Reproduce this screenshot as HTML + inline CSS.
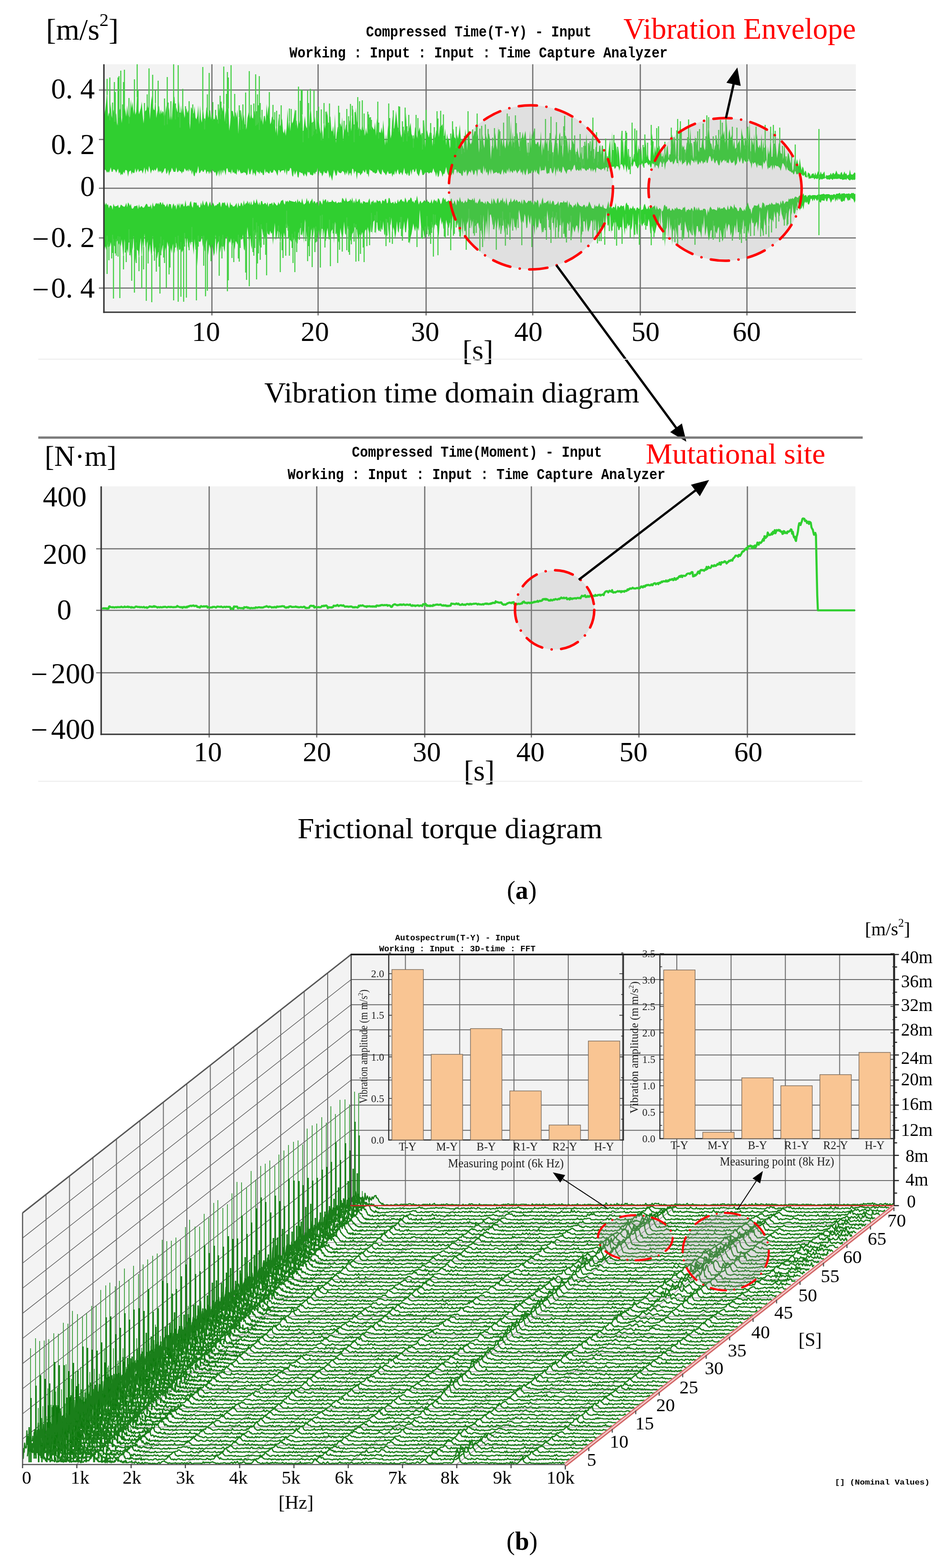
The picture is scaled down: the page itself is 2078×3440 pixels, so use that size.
<!DOCTYPE html>
<html><head><meta charset="utf-8"><title>Vibration and torque diagrams</title>
<style>html,body{margin:0;padding:0;background:#fff;}svg{display:block;}</style></head>
<body><svg width="2078" height="3440" viewBox="0 0 2078 3440">
<rect width="2078" height="3440" fill="#fff"/>
<rect x="228" y="141" width="1650" height="544" fill="#f3f3f3"/>
<line x1="217" y1="197.5" x2="1878" y2="197.5" stroke="#6e6e6e" stroke-width="2.6"/>
<line x1="217" y1="306" x2="1878" y2="306" stroke="#6e6e6e" stroke-width="2.6"/>
<line x1="217" y1="413" x2="1878" y2="413" stroke="#6e6e6e" stroke-width="2.6"/>
<line x1="217" y1="522" x2="1878" y2="522" stroke="#6e6e6e" stroke-width="2.6"/>
<line x1="217" y1="632" x2="1878" y2="632" stroke="#6e6e6e" stroke-width="2.6"/>
<line x1="465" y1="141" x2="465" y2="692" stroke="#6e6e6e" stroke-width="2.6"/>
<line x1="698" y1="141" x2="698" y2="692" stroke="#6e6e6e" stroke-width="2.6"/>
<line x1="935" y1="141" x2="935" y2="692" stroke="#6e6e6e" stroke-width="2.6"/>
<line x1="1169" y1="141" x2="1169" y2="692" stroke="#6e6e6e" stroke-width="2.6"/>
<line x1="1405" y1="141" x2="1405" y2="692" stroke="#6e6e6e" stroke-width="2.6"/>
<line x1="1639" y1="141" x2="1639" y2="692" stroke="#6e6e6e" stroke-width="2.6"/>
<path d="M229 251l2-11 2-17 2-26 2 59 2-9 2 6 2-26 2 31 2-10 2-8 2 16 2 0 2-8 2 27 2-11 2-17 2-9 2 6 2 26 2-22 2-20 2 4 2 10 2 14 2-25 2 20 2 10 2-6 2-37 2 20 2-15 2 27 2-23 2 25 2-7 2-43 2 28 2 21 2-7 2-7 2-14 2 28 2 20 2-23 2-5 2-1 2-20 2 16 2-8 2 32 2-32 2-20 2 21 2 9 2 2 2-27 2 44 2-13 2-9 2-5 2 20 2-12 2 10 2-7 2 4 2 17 2-18 2-15 2 31 2-12 2-15 2 29 2-21 2 21 2-36 2-19 2 5 2 37 2-16 2 10 2 1 2-24 2 47 2-38 2 18 2-24 2 20 2 14 2-15 2-7 2 11 2-7 2 17 2 26 2-49 2 3 2 9 2 2 2-16 2 25 2 4 2-8 2-23 2 42 2-42 2 30 2 8 2-38 2 22 2 20 2-15 2-21 2-4 2 26 2-13 2-5 2 22 2-16 2 6 2 9 2-1 2-9 2 1 2 10 2-2 2-25 2 14 2-10 2-5 2 10 2-28 2 51 2-26 2 18 2-35 2 2 2 60 2-16 2-26 2-2 2 1 2 13 2-8 2-3 2 12 2-18 2 54 2-47 2 27 2-33 2 20 2 11 2-21 2 22 2 0 2 11 2-25 2-9 2-8 2 19 2-19 2 16 2 2 2-10 2-8 2 23 2-2 2-1 2-4 2 17 2-32 2 24 2-14 2 21 2-19 2-1 2 14 2-40 2 27 2-23 2 14 2 27 2-5 2-13 2 6 2 1 2 5 2 25 2-25 2 32 2-42 2 19 2 0 2-8 2-8 2 28 2 5 2-11 2 16 2-17 2-42 2 44 2-28 2 33 2-27 2 10 2-4 2-10 2-19 2 26 2 1 2 18 2-25 2 14 2-18 2 15 2-29 2 61 2-27 2-20 2 21 2 7 2-8 2 18 2-24 2-38 2 21 2 37 2-3 2-8 2-22 2 29 2-1 2-26 2 1 2 20 2 12 2 7 2-13 2 25 2-49 2 23 2-18 2-23 2 12 2 38 2-33 2-4 2 31 2 3 2-13 2 24 2-50 2 64 2-22 2-13 2-1 2-6 2-1 2 8 2-22 2 53 2-34 2 11 2-13 2-2 2 19 2-4 2-24 2 8 2 17 2-44 2-5 2 62 2-29 2-36 2 29 2 9 2 7 2 6 2-5 2 5 2-21 2 19 2 1 2 12 2-18 2 14 2-12 2-20 2 11 2-2 2 3 2 5 2 3 2 3 2-17 2 30 2-39 2 21 2 13 2-4 2 3 2-13 2 14 2-30 2 31 2 25 2-25 2 21 2-32 2-18 2 7 2 32 2-9 2-41 2 24 2 5 2-17 2-23 2 19 2 19 2-3 2-4 2 20 2 8 2-18 2 16 2-14 2-3 2-36 2 52 2-12 2 1 2-10 2-9 2 25 2 5 2 14 2-12 2-23 2 8 2 17 2-10 2-7 2-7 2 18 2-6 2 26 2-11 2-45 2 63 2-30 2-9 2 10 2 7 2-11 2-1 2 2 2 29 2-28 2 12 2-4 2-13 2-6 2-4 2 23 2-22 2-4 2 1 2-4 2 26 2 0 2-16 2 37 2-26 2 13 2-3 2 23 2-13 2-14 2-15 2-1 2 18 2 2 2 11 2-20 2 11 2-13 2-19 2 30 2 24 2-10 2 10 2-4 2-40 2 18 2 29 2-36 2-9 2 27 2 5 2-5 2-10 2-5 2-9 2 0 2 1 2-2 2 11 2 37 2-23 2-7 2 11 2-21 2 21 2 9 2-39 2 13 2 8 2-12 2-2 2 12 2 45 2-29 2-3 2 9 2-20 2-16 2 28 2 10 2-51 2 40 2 13 2-24 2-3 2 18 2-24 2 21 2 7 2-18 2-9 2 23 2-16 2 7 2-48 2 58 2-34 2 23 2 2 2-14 2-3 2-6 2 15 2 16 2-1 2-17 2-2 2-13 2 16 2-10 2-8 2 22 2 27 2-5 2 5 2-50 2 40 2-34 2 11 2-18 2 12 2 18 2 2 2-5 2-1 2 12 2-8 2-27 2 54 2-31 2 19 2-18 2-10 2 15 2-13 2 38 2-43 2 28 2-20 2 7 2 46 2-30 2-16 2-21 2 21 2 0 2 28 2-46 2-6 2 29 2 4 2 23 2-40 2-30 2 33 2-9 2 12 2 26 2-38 2 42 2-16 2-8 2-10 2 8 2 1 2 19 2 9 2-22 2 13 2 10 2-1 2-12 2 22 2-8 2 5 2-29 2-4 2-26 2 58 2-13 2-26 2 18 2 2 2-33 2 34 2 13 2 3 2-27 2 1 2 28 2-6 2-25 2-1 2 21 2-21 2 1 2 39 2-24 2-12 2 16 2 26 2-30 2-17 2-13 2 62 2-78 2 61 2-34 2-4 2 4 2 14 2 21 2-29 2 22 2 30 2-87 2 35 2-18 2 45 2-39 2-2 2 1 2 26 2 19 2-16 2 33 2-8 2-29 2 18 2-14 2 0 2-33 2 10 2 22 2-20 2 33 2-8 2-21 2 35 2-16 2 17 2-24 2-25 2 38 2-16 2 18 2 4 2 1 2-45 2-15 2 30 2 20 2-24 2 17 2-19 2 8 2-1 2-5 2 19 2-4 2 22 2-22 2 16 2-21 2 13 2-18 2-6 2 30 2-10 2 1 2-28 2-16 2 14 2 19 2-29 2 48 2-49 2 35 2 34 2-89 2 17 2 43 2-20 2 6 2-5 2 25 2-13 2-19 2 4 2-16 2 18 2-38 2 50 2-16 2 35 2-11 2-42 2 37 2-25 2 10 2 16 2-12 2 2 2 0 2-21 2 2 2 20 2 5 2-20 2 6 2-19 2-26 2 29 2 14 2 2 2 11 2 1 2 1 2-10 2 0 2-19 2 18 2-3 2 16 2-47 2 18 2-21 2 16 2-11 2 28 2-16 2-32 2 64 2-39 2-8 2 21 2-5 2-8 2 32 2-18 2 22 2-3 2-1 2-8 2-4 2-5 2 31 2-56 2 14 2 7 2 18 2-4 2-10 2 2 2 35 2-40 2-36 2 80 2-47 2 10 2 9 2-25 2 43 2-22 2-22 2 28 2 4 2-8 2 9 2-33 2 41 2-29 2 36 2-32 2 13 2 42 2-43 2 18 2-9 2-32 2 46 2 0 2-41 2 23 2-22 2 21 2 22 2-13 2-21 2 7 2 16 2 1 2 3 2 9 2-37 2 30 2 18 2-9 2-16 2 3 2 12 2 9 2-8 2 24 2-4 2-23 2 17 2-8 2-8 2 9 2 8 2-19 2 16 2 11 2-9 2 4 2 11 2-6 2 3 2 12 2-11 2 2 2 1 2 6 2-5 2-1 2-1 2 5 2-7 2 7 2-4 2-6 2 8 2 0 2-7 2 6 2 0 2-3 2-3 2 14 2-6 2 1 2 0 2-1 2 0 2-5 2 5 2-4 2-1 2 4 2-3 2-6 2 5 2 4 2-2 2 3 2-5 2-2 2 7 2-3 2-5 2 6 2-2 2 5 2-1 2-1 2-11 2 10 2 1 2 0 2-2 2-3 2 2 0 13-2 2-2-1-2 1-2-1-2 0-2 2-2-1-2-2-2-2-2 4-2-2-2 1-2 0-2 1-2-2-2 0-2 0-2-2-2 2-2-1-2 1-2-1-2 1-2-1-2 3-2-2-2-1-2 2-2 0-2-1-2 1-2-2-2-2-2 2-2 0-2 1-2 1-2-2-2 3-2-2-2-2-2 2-2-1-2-1-2 3-2-4-2 1-2-1-2 2-2-1-2 2-2-7-2 4-2-2-2 1-2-6-2 3-2-1-2-3-2 3-2 2-2-6-2 0-2 2-2-2-2-9-2 9-2 2-2-5-2 1-2-3-2 0-2-2-2-1-2-7-2 9-2-8-2-4-2-4-2-1-2 9-2 8-2-7-2-1-2-3-2 1-2-1-2-2-2 9-2-10-2 13-2-12-2 3-2 4-2-2-2 5-2-10-2-11-2 4-2 5-2-6-2 19-2-11-2 2-2-2-2 2-2-6-2 11-2-8-2-5-2 1-2 3-2-5-2 15-2-15-2 0-2-6-2-2-2 13-2-6-2 1-2-5-2 9-2-1-2-13-2 7-2 5-2-6-2-9-2 16-2 3-2 3-2-13-2 5-2 1-2 1-2-4-2-6-2 11-2-3-2 2-2-7-2 4-2-5-2 2-2 2-2 4-2-8-2 12-2 1-2-5-2-7-2 2-2 6-2-4-2-9-2 7-2 1-2-10-2-2-2 6-2 9-2 1-2-8-2 7-2-2-2 5-2-6-2-2-2 7-2-5-2 6-2 1-2-11-2 7-2-7-2 8-2-5-2 0-2-3-2 14-2-4-2-5-2 6-2 4-2-14-2 1-2 6-2 0-2 4-2-13-2 8-2-7-2 6-2 2-2 0-2-11-2 6-2 5-2 3-2-8-2 3-2 0-2-4-2-3-2 5-2 1-2 4-2 14-2-19-2 5-2 3-2-5-2-3-2 7-2 10-2-7-2-1-2-1-2 7-2-11-2 3-2-4-2 12-2-3-2-7-2 4-2-4-2-3-2 2-2 0-2 4-2 4-2-9-2 5-2-2-2 1-2 6-2 3-2-5-2-1-2-9-2-1-2 9-2 3-2-9-2 11-2 4-2 1-2-10-2 16-2-13-2-6-2 14-2-9-2-4-2-1-2 4-2 11-2-9-2-1-2-1-2 4-2 3-2-6-2 1-2 0-2-1-2 12-2-12-2 5-2-1-2-2-2 0-2 8-2-7-2 3-2-1-2 4-2-3-2 0-2-1-2-2-2 0-2 12-2-9-2 1-2 5-2-8-2 8-2-7-2-2-2 5-2-2-2 4-2-1-2-3-2-2-2 2-2-4-2 9-2-5-2 4-2-1-2-3-2 4-2-3-2-11-2 3-2 7-2 1-2 5-2-5-2 0-2 0-2 2-2 8-2-5-2-3-2-6-2-3-2 12-2 3-2-6-2 4-2-11-2 11-2-8-2 18-2-23-2 10-2 6-2-3-2-9-2 0-2 12-2-2-2 3-2-3-2-16-2 11-2-1-2 1-2-1-2 3-2-12-2 20-2-3-2-1-2-8-2 7-2-7-2 7-2 0-2-6-2 8-2-2-2 2-2 2-2-14-2 7-2 9-2-4-2-9-2 13-2-9-2 4-2-10-2 5-2 1-2 5-2-5-2-4-2 5-2-4-2 7-2-3-2-3-2 6-2-12-2 11-2-8-2 10-2-1-2-4-2 8-2-13-2 5-2 7-2-1-2-4-2 3-2-2-2-2-2 2-2 0-2 3-2-7-2-4-2 12-2-12-2 8-2 7-2-10-2 4-2-12-2 10-2-15-2 20-2-4-2 0-2-9-2 4-2-4-2 18-2-13-2-2-2 9-2 2-2-8-2-4-2 8-2-5-2 2-2 5-2 5-2-15-2 5-2 2-2-6-2 13-2-1-2-5-2 0-2-1-2-4-2 6-2-9-2 0-2 0-2 12-2-6-2 7-2-6-2 0-2 6-2-2-2-6-2-11-2 9-2 7-2-1-2 7-2-9-2-4-2-1-2 12-2 3-2-12-2 11-2-9-2-3-2-7-2 7-2 4-2-2-2 1-2 2-2-3-2 0-2 2-2-2-2 4-2 2-2 0-2-10-2-3-2 8-2 8-2-4-2-3-2-11-2 7-2 2-2-7-2 2-2 11-2-12-2 13-2 1-2-8-2 7-2-5-2 1-2-13-2 9-2 8-2-6-2-1-2 5-2-2-2-10-2 5-2 7-2-9-2 10-2-3-2 7-2-9-2 2-2 0-2 0-2-6-2 5-2 5-2-4-2-2-2-2-2-6-2 12-2-1-2-2-2-4-2-5-2 8-2 1-2 1-2-3-2 1-2-3-2-2-2 0-2-3-2 18-2-8-2 1-2-11-2 8-2-2-2-4-2 7-2 1-2 4-2-6-2 1-2-2-2 16-2-17-2-2-2 7-2-11-2-1-2 17-2-8-2 1-2 6-2-13-2 10-2-6-2 8-2-7-2-2-2-1-2 4-2 1-2-1-2-1-2-5-2 11-2 2-2-7-2-7-2 10-2 15-2-7-2-7-2 8-2-12-2-6-2 8-2-2-2 1-2-5-2 7-2 5-2-8-2 1-2-6-2 13-2-19-2 9-2 0-2 6-2-5-2 6-2 1-2-2-2 1-2-7-2 2-2-3-2 12-2-4-2-4-2 7-2-4-2-4-2 1-2-2-2-1-2 13-2-2-2-14-2 5-2 5-2-10-2 14-2-3-2-15-2-2-2 6-2 2-2-2-2 11-2-15-2 11-2-8-2 1-2 0-2 1-2 4-2-6-2 0-2 13-2-5-2-5-2-2-2-2-2 6-2 1-2 0-2-5-2 7-2-1-2-2-2-2-2 4-2-10-2 14-2 0-2-6-2 2-2-5-2 7-2-5-2 1-2-5-2 14-2-6-2-3-2 7-2-15-2 5-2 8-2-2-2-13-2 14-2 3-2-6-2 0-2-2-2 3-2-1-2 2-2-4-2-5-2 6-2-8-2 14-2-4-2 1-2-4-2 3-2-9-2 11-2-5-2 1-2-1-2-8-2 1-2 15-2-9-2-4-2 9-2-9-2 14-2-14-2 16-2-14-2 8-2 5-2-10-2 2-2-3-2-1-2-4-2 10-2-6-2 7-2-6-2 0-2 6-2-9-2-1-2 5-2 0-2-4-2 2-2 4-2 1-2-16-2 11-2 6-2-4-2 10-2-2-2-11-2 9-2-11-2 4-2-6-2 7-2-5-2 4-2-4-2-3-2 9-2-2-2 5-2-5-2 0-2-3-2 4-2 1-2-11-2 10-2 0-2 0-2-5-2-4-2 8-2 2-2 8-2-14-2 7-2 3-2-13-2 1-2 6-2 2-2 3-2-7-2 4-2-4-2 5-2-12-2 4-2 4-2-4-2 5-2-4-2 2-2 7-2-10-2-7-2 14-2-4-2-4-2 13-2-16-2 7-2 7-2-7-2 0-2 1-2 3-2-8-2 5-2 4-2-10-2 10-2 1-2-3-2 6-2-9-2 1-2 2-2 11-2-13-2-2-2 0-2 8-2-5-2 8-2-3-2 4-2-8-2 4-2-11-2 4-2 5-2-5-2-2-2-1-2 6-2 0-2-10-2 7-2 5-2-3-2 3-2-4-2-3-2 2Z" fill="#30cf30"/>
<path d="M229 549l2-9 2 9 2-21 2 14 2-1 2 0 2-10 2 17 2-22 2 9 2 5 2 1 2-6 2-7 2 1 2 8 2-7 2 11 2-16 2 18 2 29 2-48 2 17 2 18 2-13 2 10 2-43 2 23 2 30 2-30 2 13 2-32 2 42 2 17 2-33 2 6 2 1 2 24 2-36 2-17 2 50 2-43 2 25 2-41 2 27 2 9 2-19 2 9 2 16 2-19 2 18 2 18 2-54 2 34 2 3 2-13 2 27 2-3 2-12 2 0 2-8 2-15 2 23 2-14 2-2 2 24 2-19 2 17 2-29 2 9 2 6 2 19 2-21 2 13 2-21 2 11 2 10 2-25 2 3 2 19 2-25 2 20 2 0 2-6 2 12 2-4 2-4 2-24 2 0 2 25 2-27 2 24 2-6 2-8 2 9 2-30 2 30 2 20 2-35 2 24 2-1 2 37 2-56 2 2 2 1 2-3 2-10 2 24 2-14 2 24 2-6 2-20 2 10 2 24 2-24 2 7 2 9 2-17 2 11 2 16 2-7 2-41 2 46 2-24 2-6 2-1 2 26 2-13 2-7 2-10 2 21 2 7 2-31 2-2 2 10 2 13 2-14 2 4 2-11 2 29 2-19 2 3 2 13 2-19 2 2 2 6 2-11 2 25 2-20 2-7 2 2 2-12 2 32 2 4 2-25 2-3 2-24 2 21 2 21 2-24 2 23 2 8 2-58 2 32 2-6 2 2 2-18 2 21 2-13 2 31 2 5 2-40 2-1 2 13 2 4 2 1 2 11 2-31 2 12 2 2 2 2 2-10 2 7 2-3 2 27 2-24 2-24 2 38 2-6 2-14 2-1 2 4 2 32 2-31 2 24 2-5 2-20 2 12 2-16 2-33 2 33 2 1 2 22 2-3 2 5 2-7 2 7 2-6 2-6 2 11 2 5 2-1 2-25 2 5 2-14 2 0 2 19 2-14 2 29 2-53 2 16 2 19 2 14 2-22 2 31 2-15 2-22 2 9 2 8 2-21 2 28 2-19 2 11 2 5 2-19 2 21 2-41 2 35 2-37 2 44 2-24 2 25 2 2 2-21 2-8 2 28 2-35 2 28 2-14 2-3 2-3 2 33 2-48 2 15 2 14 2 8 2 9 2-5 2-27 2 13 2 11 2-9 2-29 2 26 2 4 2-28 2 13 2 5 2 10 2 13 2-6 2-10 2-3 2-9 2-3 2 5 2 0 2 17 2 16 2-23 2 6 2-4 2-6 2 14 2-2 2-15 2-3 2 11 2-16 2 10 2 11 2-15 2-26 2 36 2-27 2-3 2-1 2 32 2-40 2 27 2 5 2-1 2-12 2 8 2 3 2-20 2 28 2 4 2-26 2 1 2-5 2 30 2-30 2 8 2-18 2 42 2-21 2 7 2 19 2-13 2-26 2 22 2 4 2-23 2-2 2 0 2 25 2-10 2-16 2 24 2 1 2-22 2-11 2 39 2 20 2-16 2-7 2-12 2-11 2 11 2 7 2-12 2 16 2-13 2 8 2-47 2 26 2 24 2 2 2-8 2 17 2-13 2 0 2-23 2 18 2 5 2 8 2-2 2-16 2 2 2-19 2 24 2-23 2 11 2 3 2 29 2-11 2-28 2-10 2 17 2-8 2 17 2-1 2 4 2-23 2 9 2 8 2 1 2-12 2 3 2 16 2-36 2 21 2 3 2-21 2 6 2 16 2-9 2 23 2-6 2 23 2-50 2 44 2-36 2 21 2 2 2-11 2-7 2-5 2-16 2 20 2-8 2 21 2-18 2 7 2 9 2-5 2-1 2-3 2-3 2 12 2 4 2-22 2 35 2-15 2-31 2 60 2-28 2-20 2 33 2-60 2 73 2-57 2-2 2 9 2 16 2-8 2 18 2-24 2 27 2-12 2-18 2 29 2-10 2-8 2 21 2-35 2 12 2 26 2-21 2 10 2-2 2-10 2 11 2-24 2 24 2-24 2 14 2-13 2 20 2 0 2 9 2-25 2-5 2-17 2 12 2 14 2 7 2-9 2 6 2-21 2 7 2 25 2-2 2-29 2 15 2 8 2-21 2 23 2-2 2 3 2 21 2-40 2 29 2-9 2 3 2-21 2 12 2-2 2 25 2-23 2 20 2-25 2-1 2 5 2-29 2 22 2-1 2 6 2 5 2-16 2-2 2 34 2-33 2 8 2-7 2 7 2 25 2-1 2-43 2 23 2 23 2-25 2 11 2 21 2 6 2-10 2-26 2 4 2 3 2-7 2-4 2 38 2-26 2 8 2 6 2-10 2-6 2 2 2 17 2-14 2-35 2 44 2 9 2-28 2-4 2 1 2 23 2-30 2 25 2 5 2-7 2-7 2-12 2 2 2 9 2-13 2 12 2-12 2 33 2 2 2-33 2 31 2-16 2-2 2 5 2 0 2-26 2 55 2-48 2-20 2 32 2 1 2-10 2-16 2 43 2-18 2 4 2-11 2 6 2-7 2 15 2-6 2 10 2 0 2-7 2 0 2 14 2-38 2 24 2 18 2-35 2 26 2-18 2 8 2-4 2 1 2 11 2-9 2-28 2 60 2-32 2-5 2 21 2 4 2-49 2 35 2-34 2 22 2 7 2-6 2-2 2-8 2 11 2 4 2 0 2-16 2 7 2 26 2-5 2-13 2 13 2-3 2 8 2-10 2-9 2-8 2 14 2-29 2 31 2-46 2 31 2 7 2 14 2 33 2-37 2-5 2-25 2 47 2-46 2 31 2-14 2 46 2-37 2 7 2-15 2 9 2 17 2-29 2 4 2 1 2-6 2-1 2 16 2 19 2 1 2-39 2 10 2 8 2 8 2-6 2 0 2 5 2 5 2-40 2 27 2 12 2 10 2-8 2-20 2 0 2 14 2-4 2 5 2 12 2-34 2 13 2-30 2 46 2-8 2-15 2 16 2 17 2-6 2-15 2-3 2 6 2-15 2 0 2 10 2 4 2 4 2-11 2-5 2 12 2-5 2 11 2 15 2-5 2-25 2 4 2-16 2 21 2-11 2-7 2 4 2 22 2-6 2-5 2 16 2-21 2-8 2 21 2-35 2 31 2-1 2 0 2 6 2-16 2 5 2-23 2 14 2 1 2 10 2 17 2-19 2 10 2-26 2 14 2-25 2 13 2-2 2 9 2 0 2-7 2-4 2 23 2-18 2-30 2 38 2 2 2 6 2 10 2-38 2 16 2-4 2-22 2-10 2 47 2-28 2 4 2 2 2-2 2 6 2-25 2 13 2 2 2-14 2 4 2 5 2 1 2-21 2 16 2 6 2 9 2-8 2 7 2-15 2-3 2 26 2-26 2-8 2 4 2 11 2-25 2 19 2 4 2-3 2-12 2-10 2-2 2 8 2 11 2-6 2 1 2-7 2 10 2-14 2-4 2 4 2-4 2 6 2 1 2-5 2-8 2 0 2 6 2-6 2 5 2-6 2 3 2 3 2-4 2 5 2 1 2 2 2-6 2 1 2 0 2 1 2-7 2 7 2 1 2-7 2-1 2 4 2 7 2-4 2-4 2 2 2-6 2 10 2-7 2 5 2-7 2 5 2-4 2 6 2 2 2-1 2-2 2 2 2-8 2-1 2 4 2 4 2-3 2 2 2-7 2 3 2 0 2 3 2 6 2-5 0-15-2 1-2-3-2 1-2-1-2 2-2 1-2-2-2 1-2 0-2 0-2 1-2-2-2 0-2 1-2-1-2 3-2-4-2 1-2 1-2 0-2 0-2 3-2-2-2 0-2 2-2-1-2 1-2-1-2-1-2 0-2 0-2 0-2 1-2-1-2-1-2 1-2 0-2 1-2 0-2-2-2 2-2 1-2 1-2-1-2 0-2 0-2 0-2 1-2 0-2-2-2 2-2-1-2 5-2-5-2 0-2 2-2-6-2 4-2 3-2-1-2-1-2 1-2 4-2-1-2-1-2-1-2 3-2 3-2-3-2 3-2-2-2 3-2-3-2 8-2-1-2 0-2 2-2 4-2-7-2-1-2 8-2-8-2 11-2-4-2-2-2 2-2-4-2 6-2-1-2 1-2-2-2-3-2 6-2-4-2 4-2-1-2 2-2-2-2 6-2-8-2-2-2-1-2 14-2-4-2 3-2-11-2 4-2 2-2-1-2 0-2-1-2 5-2 2-2 13-2-11-2-1-2-6-2-8-2 7-2 2-2 10-2-5-2 5-2-1-2-4-2-3-2 0-2 8-2 0-2-5-2-3-2 0-2-8-2 12-2-4-2-2-2-2-2 8-2 0-2-9-2 11-2-1-2-3-2-3-2 2-2 2-2-1-2 2-2-5-2 4-2-5-2 9-2-1-2-1-2-1-2 0-2 1-2-3-2-4-2 4-2 10-2-9-2 16-2-13-2-3-2 0-2 0-2 4-2-2-2 2-2-2-2-6-2 8-2-7-2 7-2-7-2-2-2 11-2-6-2-2-2 5-2 0-2-3-2 3-2-1-2 6-2-13-2 3-2-1-2 5-2 1-2-2-2-1-2 1-2-1-2-4-2 5-2-3-2 6-2-3-2-2-2 5-2 0-2-6-2 2-2 2-2-8-2 2-2-5-2 2-2 10-2 3-2-3-2-3-2-2-2 4-2-2-2-7-2 10-2-11-2 3-2 0-2 3-2-6-2 0-2 10-2-9-2 7-2 1-2-5-2-7-2 3-2 9-2 1-2 1-2-14-2 11-2 0-2-3-2 1-2 7-2-7-2 2-2-7-2 6-2 1-2-3-2 6-2-11-2 0-2-6-2 4-2 15-2-12-2 1-2 1-2-3-2 3-2 3-2-4-2 0-2 10-2-17-2 11-2-2-2 0-2 4-2-6-2-3-2 8-2-16-2 9-2 8-2 0-2-1-2-1-2-8-2 7-2-2-2 1-2-9-2 6-2 3-2-3-2 3-2-6-2 10-2-1-2 0-2-5-2-5-2-5-2 7-2 5-2-3-2 5-2-6-2-1-2 3-2 2-2-2-2 0-2-2-2-3-2-5-2 13-2-9-2 5-2-1-2 6-2-4-2-3-2 0-2-7-2 14-2-17-2 6-2-2-2 2-2-5-2 5-2-1-2 0-2 0-2 8-2-11-2 5-2 2-2 1-2 1-2-8-2-2-2 4-2 5-2-11-2 11-2-10-2 3-2 1-2 3-2-2-2 3-2-14-2 6-2 11-2-6-2 12-2-15-2-3-2 7-2-2-2-3-2 10-2-8-2 3-2-6-2 3-2-2-2 1-2 3-2 2-2-3-2-4-2-1-2 11-2-12-2 10-2-5-2 0-2 2-2-4-2-2-2 5-2-7-2 4-2 2-2 2-2-10-2 9-2 0-2 9-2-7-2-12-2 15-2-8-2 5-2-12-2 8-2-3-2 5-2 3-2-12-2 3-2 10-2-3-2-5-2-4-2 13-2-14-2 14-2-2-2-1-2-3-2-1-2 8-2-8-2 6-2-2-2-2-2-1-2 2-2-9-2 4-2 4-2 4-2-4-2 3-2-13-2 8-2-6-2 4-2 0-2-1-2 0-2-4-2 9-2 1-2-5-2 5-2 2-2-5-2 3-2-4-2-8-2 11-2-3-2-3-2 14-2-7-2-5-2 8-2-1-2-11-2 2-2 10-2-8-2 2-2 1-2 1-2-8-2 4-2-6-2 3-2 9-2 3-2-8-2-4-2-1-2 10-2-6-2 3-2-5-2 4-2 6-2-10-2 7-2 2-2-4-2 1-2-6-2 7-2-3-2-2-2 3-2 2-2 2-2-6-2 3-2 6-2-9-2-11-2 11-2-1-2 7-2-5-2 2-2-8-2-2-2 6-2-1-2 3-2 4-2-7-2-5-2 11-2-3-2 1-2-5-2 1-2 3-2 3-2-7-2 9-2 0-2-5-2 7-2-5-2 1-2 2-2-2-2-9-2-1-2 11-2 1-2-10-2 1-2 5-2-2-2-1-2 9-2-6-2-2-2 2-2-1-2-3-2 8-2-4-2 4-2-7-2 4-2-1-2 8-2-15-2 4-2 6-2-2-2 2-2-2-2-1-2-1-2 7-2-5-2 4-2-11-2 2-2 4-2 1-2-9-2 12-2-7-2 7-2-13-2 9-2-6-2 5-2 0-2 2-2-2-2-8-2 9-2-2-2-4-2-2-2 11-2-2-2 2-2-2-2 2-2 1-2-5-2 3-2-1-2-1-2-4-2 5-2 0-2 0-2 1-2-5-2 6-2-8-2 1-2 4-2-6-2 13-2-4-2-4-2-1-2 13-2-9-2-1-2 4-2-5-2-1-2 5-2-11-2 5-2 2-2 6-2-9-2 4-2-9-2 11-2 2-2 2-2-4-2-10-2 10-2-1-2-4-2 4-2-8-2 10-2-6-2 3-2 0-2-1-2 0-2-1-2 0-2-2-2 5-2-4-2 3-2-3-2 9-2-3-2-8-2 2-2 0-2 5-2 4-2-6-2 7-2 1-2-3-2-2-2-3-2 8-2-7-2 3-2 0-2 0-2 7-2-11-2 7-2-4-2-1-2 3-2 0-2-7-2 0-2 10-2-8-2 7-2-6-2-8-2 10-2-1-2-7-2 10-2 2-2-9-2 9-2-8-2 6-2-8-2 6-2 0-2 4-2-11-2 14-2-6-2-3-2 8-2 0-2-8-2 13-2-12-2 4-2 3-2 1-2 0-2-4-2 1-2-7-2 14-2-5-2-9-2 9-2-2-2-7-2 3-2-2-2 2-2 9-2-10-2-2-2 5-2-1-2 4-2-1-2 3-2-5-2-4-2 8-2-2-2-8-2 5-2 7-2-8-2-5-2 4-2 6-2-3-2-9-2 13-2-8-2 11-2 0-2-6-2 3-2-8-2 1-2-1-2 0-2 12-2-4-2-11-2 3-2 9-2-3-2 2-2 1-2-14-2 13-2 1-2-7-2 4-2-4-2 11-2-12-2 7-2-6-2 14-2-11-2 4-2-7-2 4-2 9-2-11-2 0-2-1-2 8-2-9-2 5-2 3-2-5-2 0-2-6-2 7-2-6-2 0-2 5-2-4-2 3-2-3-2 3-2 5-2-1-2-8-2 15-2-11-2 6-2-1-2 1-2-6-2-1-2 3-2 4-2 2-2-1-2-3-2 1-2 3-2-8-2 11-2-9-2 2-2 0-2 0-2 4-2 2-2-1-2-10-2 5-2-5-2-3-2 11-2-10-2 6-2 3-2-1-2-1-2-2-2-1-2 6-2 1-2-7-2 3-2 0-2 1-2-1-2-5-2 13-2-8-2-1-2 0-2 6-2-9-2 2-2-5-2 5-2-8Z" fill="#30cf30"/>
<path d="M235 208V173M241 264V170M247 259V225M251 267V180M253 267V202M259 275V170M261 258V167M265 255V155M269 259V229M271 239V180M273 243V153M283 271V215M295 238V174M301 213V141M303 241V198M317 259V226M323 233V207M327 241V150M335 242V164M341 226V198M347 248V177M361 275V216M367 273V169M369 261V225M375 254V222M381 220V141M385 262V227M391 257V143M395 280V247M401 236V195M407 255V233M415 269V222M423 258V229M445 242V147M449 284V260M455 243V207M459 257V160M467 264V224M473 263V241M479 271V229M483 261V210M485 251V223M491 228V146M497 271V206M499 236V158M501 238V170M507 256V143M515 260V206M525 257V231M527 285V242M533 283V229M539 284V203M547 253V156M551 252V230M557 261V227M561 276V163M563 274V244M565 273V207M567 269V231M569 285V167M571 254V226M575 264V241M591 257V202M599 272V230M603 278V246M607 278V243M613 286V251M617 278V231M635 266V238M639 272V239M649 275V242M655 269V190M659 265V221M661 280V196M663 251V198M665 312V287M675 285V199M677 303V226M681 241V195M685 299V269M687 296V267M689 288V199M695 293V243M699 268V234M705 308V240M711 271V226M715 276V245M721 303V269M723 270V227M743 289V232M745 283V247M755 286V265M761 283V239M765 298V255M769 282V228M773 254V232M777 312V273M779 283V246M785 285V213M789 298V222M795 277V220M799 297V249M807 293V245M809 273V251M811 284V258M813 282V257M815 285V263M829 291V223M831 304V269M853 276V227M855 283V259M863 289V242M875 289V233M877 285V234M883 294V266M885 311V278M889 294V236M893 310V277M897 299V252M907 324V297M913 297V252M917 304V259M927 328V292M929 317V264M935 304V241M945 301V270M953 316V279M959 293V244M961 289V260M967 286V243M973 308V251M989 323V293M993 295V266M1001 325V278M1013 338V306M1019 334V298M1027 305V244M1037 313V284M1045 300V276M1047 298V249M1053 323V282M1057 327V276M1065 297V273M1071 306V283M1081 329V302M1085 318V281M1095 329V284M1097 342V288M1105 309V269M1113 309V249M1117 317V255M1129 324V299M1131 311V253M1133 308V270M1141 331V290M1159 342V313M1173 307V282M1197 313V261M1203 353V331M1207 338V292M1209 318V256M1213 371V334M1221 325V268M1233 334V299M1237 317V277M1239 287V254M1241 320V298M1251 353V329M1255 329V259M1261 328V297M1265 355V333M1273 356V294M1277 366V323M1281 363V320M1283 334V311M1291 348V314M1295 341V310M1301 344V258M1303 357V327M1309 334V290M1311 362V333M1313 355V333M1329 334V304M1333 376V343M1341 378V356M1345 361V329M1347 327V296M1355 362V322M1365 333V287M1373 319V287M1375 320V291M1379 365V327M1383 382V344M1387 345V269M1393 349V282M1397 326V286M1403 360V327M1411 351V318M1413 368V323M1415 344V295M1421 341V313M1429 319V274M1433 334V310M1441 328V281M1445 335V277M1453 366V343M1459 340V311M1473 322V280M1479 339V301M1485 309V286M1487 343V261M1493 306V266M1495 349V284M1503 355V328M1509 327V301M1511 310V262M1517 341V314M1523 349V311M1527 343V303M1531 329V288M1535 333V283M1543 316V271M1549 321V299M1551 327V253M1555 282V257M1565 338V299M1571 330V297M1577 326V285M1581 295V263M1585 292V269M1593 309V260M1607 301V278M1617 334V280M1635 327V303M1639 319V282M1641 354V278M1647 358V332M1659 326V278M1677 351V324M1679 319V274M1691 309V278M1697 314V274M1699 337V315M1701 314V287M1711 331V280M1717 351V320M1725 371V343M1737 362V334M1745 376V317M235 517V601M239 530V571M245 537V567M247 515V555M249 524V655M253 530V556M255 524V561M259 518V563M263 519V654M271 561V591M275 530V554M277 549V575M283 503V532M285 525V560M289 525V616M295 548V642M299 532V577M305 564V595M311 561V632M315 542V591M321 537V660M325 527V578M333 560V663M339 544V572M343 557V596M349 543V585M351 534V644M353 519V560M359 526V565M361 550V577M365 548V631M371 534V602M373 553V587M381 535V659M385 520V543M391 517V662M397 531V651M403 535V662M405 511V541M409 536V653M415 527V549M421 498V531M431 536V659M435 517V541M447 517V583M451 535V650M455 525V638M463 542V573M481 518V605M487 524V567M489 515V541M499 519V639M501 533V615M509 540V566M513 524V575M523 515V567M525 540V574M527 521V544M539 514V598M541 511V614M547 529V628M555 478V553M557 510V561M559 504V544M563 488V613M565 510V578M567 496V556M571 532V570M573 492V543M579 508V537M583 520V559M585 489V604M611 495V522M615 531V597M619 524V549M621 519V566M627 495V561M629 462V500M633 496V522M635 519V561M641 513V544M643 521V577M647 508V597M651 525V553M657 503V526M661 489V515M671 486V529M675 519V573M677 497V540M679 528V562M685 500V586M691 515V553M693 497V532M695 507V530M703 473V587M707 471V502M713 516V543M723 482V525M725 510V584M731 490V512M737 490V513M741 512V577M745 517V548M751 513V552M761 477V549M765 496V553M767 505V559M771 512V536M777 490V530M781 492V574M787 525V573M791 508V557M797 512V543M799 510V575M805 503V540M811 508V538M815 467V509M823 472V510M827 464V488M835 484V508M847 480V540M849 481V517M855 476V532M861 508V535M879 476V502M881 476V518M883 501V528M897 505V532M915 501V542M925 499V523M927 501V524M933 497V521M937 474V514M941 497V519M945 503V535M947 487V511M951 470V563M955 471V493M961 514V560M975 490V519M977 494V522M983 488V517M989 480V549M995 481V517M997 484V513M1001 470V499M1009 493V519M1023 486V548M1029 458V528M1031 478V500M1039 481V512M1041 489V517M1045 483V511M1053 493V551M1055 472V506M1059 491V542M1083 476V503M1089 497V548M1099 478V513M1103 464V495M1109 481V539M1113 489V515M1119 466V526M1125 480V506M1137 466V500M1145 482V538M1167 484V542M1191 480V509M1195 475V500M1197 474V505M1199 480V526M1205 471V499M1207 478V504M1209 482V533M1213 464V489M1219 473V524M1221 466V499M1225 498V523M1229 455V494M1233 500V523M1237 486V513M1243 503V532M1249 485V506M1253 473V527M1275 497V532M1279 478V508M1301 483V521M1305 482V505M1311 505V534M1315 503V529M1319 485V529M1327 519V537M1337 474V507M1343 483V506M1349 482V525M1353 491V539M1365 502V535M1373 470V501M1383 483V522M1393 485V515M1403 492V537M1405 457V494M1415 470V494M1417 481V504M1429 497V538M1435 494V520M1455 483V527M1481 482V531M1487 479V537M1495 477V505M1497 493V527M1511 494V523M1519 464V516M1525 514V537M1563 499V522M1565 484V526M1569 494V523M1579 498V531M1591 494V521M1607 495V528M1623 498V526M1627 488V533M1633 484V512M1637 495V528M1647 491V518M1655 486V517M1669 488V519M1675 506V517M1681 480V514M1687 495V520M1693 473V510M1703 468V501M1709 462V486M1721 465V495M1727 454V495M1729 480V492M1735 450V496M1749 434V461M1757 445V458" stroke="#45d045" stroke-width="2.4"/>
<path d="M1797 283V516" stroke="#45d045" stroke-width="2.4"/>
<line x1="228" y1="141" x2="228" y2="686.5" stroke="#333" stroke-width="3.2"/>
<line x1="226.5" y1="685" x2="1878" y2="685" stroke="#333" stroke-width="3.2"/>
<text x="208" y="216" font-size="64" font-family="'Liberation Serif', 'Times New Roman', serif" text-anchor="end" fill="#000" font-weight="normal">0. 4</text>
<text x="208" y="338" font-size="64" font-family="'Liberation Serif', 'Times New Roman', serif" text-anchor="end" fill="#000" font-weight="normal">0. 2</text>
<text x="208" y="430" font-size="64" font-family="'Liberation Serif', 'Times New Roman', serif" text-anchor="end" fill="#000" font-weight="normal">0</text>
<text x="208" y="542" font-size="64" font-family="'Liberation Serif', 'Times New Roman', serif" text-anchor="end" fill="#000" font-weight="normal">0. 2</text>
<text x="208" y="653" font-size="64" font-family="'Liberation Serif', 'Times New Roman', serif" text-anchor="end" fill="#000" font-weight="normal">0. 4</text>
<text x="89" y="546" font-size="66" font-family="'Liberation Serif', 'Times New Roman', serif" text-anchor="middle" fill="#000" font-weight="normal">−</text>
<text x="89" y="657" font-size="66" font-family="'Liberation Serif', 'Times New Roman', serif" text-anchor="middle" fill="#000" font-weight="normal">−</text>
<text x="452" y="748" font-size="62" font-family="'Liberation Serif', 'Times New Roman', serif" text-anchor="middle" fill="#000" font-weight="normal">10</text>
<text x="691" y="748" font-size="62" font-family="'Liberation Serif', 'Times New Roman', serif" text-anchor="middle" fill="#000" font-weight="normal">20</text>
<text x="933" y="748" font-size="62" font-family="'Liberation Serif', 'Times New Roman', serif" text-anchor="middle" fill="#000" font-weight="normal">30</text>
<text x="1159.5" y="748" font-size="62" font-family="'Liberation Serif', 'Times New Roman', serif" text-anchor="middle" fill="#000" font-weight="normal">40</text>
<text x="1416.5" y="748" font-size="62" font-family="'Liberation Serif', 'Times New Roman', serif" text-anchor="middle" fill="#000" font-weight="normal">50</text>
<text x="1638.6" y="748" font-size="62" font-family="'Liberation Serif', 'Times New Roman', serif" text-anchor="middle" fill="#000" font-weight="normal">60</text>
<text x="1048.5" y="790" font-size="64" font-family="'Liberation Serif', 'Times New Roman', serif" text-anchor="middle" fill="#000" font-weight="normal">[s]</text>
<text x="101" y="87" font-size="66" font-family="'Liberation Serif', 'Times New Roman', serif" text-anchor="start" fill="#000" font-weight="normal">[m/s<tspan font-size="40" dy="-30">2</tspan><tspan dy="30">]</tspan></text>
<text x="803" y="80" font-size="33" font-family="'Liberation Mono', 'Noto Sans CJK SC', monospace" text-anchor="start" fill="#000" font-weight="bold" textLength="495" lengthAdjust="spacingAndGlyphs">Compressed Time(T-Y) - Input</text>
<text x="635" y="126" font-size="33" font-family="'Liberation Mono', 'Noto Sans CJK SC', monospace" text-anchor="start" fill="#000" font-weight="bold" textLength="830" lengthAdjust="spacingAndGlyphs">Working : Input : Input : Time Capture Analyzer</text>
<text x="1368" y="85" font-size="65" font-family="'Liberation Serif', 'Times New Roman', serif" text-anchor="start" fill="#f00" font-weight="normal" textLength="510" lengthAdjust="spacingAndGlyphs">Vibration Envelope</text>
<ellipse cx="1165" cy="411" rx="180" ry="180" fill="rgba(150,150,150,0.2)" stroke="#f00" stroke-width="5.5" stroke-linecap="round" stroke-dasharray="40 21 0.1 21"/>
<ellipse cx="1591" cy="415.5" rx="168" ry="156.5" fill="rgba(150,150,150,0.2)" stroke="#f00" stroke-width="5.5" stroke-linecap="round" stroke-dasharray="40 21 0.1 21"/>
<line x1="1593" y1="259" x2="1610.1" y2="183.1" stroke="#000" stroke-width="5"/>
<path d="M1618 148L1625.3 188.6L1594 181.6Z" fill="#000"/>
<line x1="1221" y1="582" x2="1484.7" y2="940" stroke="#000" stroke-width="5"/>
<path d="M1506 969L1470.6 947.9L1496.3 928.9Z" fill="#000"/>
<line x1="84" y1="788" x2="1892" y2="788" stroke="#ececec" stroke-width="2"/>
<text x="580" y="883" font-size="64" font-family="'Liberation Serif', 'Times New Roman', serif" text-anchor="start" fill="#000" font-weight="normal" textLength="823" lengthAdjust="spacingAndGlyphs">Vibration time domain diagram</text>
<line x1="84" y1="960" x2="1893" y2="960" stroke="#7a7a7a" stroke-width="5"/>
<rect x="222" y="1067" width="1655" height="544" fill="#f3f3f3"/>
<line x1="211" y1="1204" x2="1877" y2="1204" stroke="#6e6e6e" stroke-width="2.6"/>
<line x1="211" y1="1339" x2="1877" y2="1339" stroke="#6e6e6e" stroke-width="2.6"/>
<line x1="211" y1="1476" x2="1877" y2="1476" stroke="#6e6e6e" stroke-width="2.6"/>
<line x1="459" y1="1067" x2="459" y2="1618" stroke="#6e6e6e" stroke-width="2.6"/>
<line x1="695" y1="1067" x2="695" y2="1618" stroke="#6e6e6e" stroke-width="2.6"/>
<line x1="932" y1="1067" x2="932" y2="1618" stroke="#6e6e6e" stroke-width="2.6"/>
<line x1="1166" y1="1067" x2="1166" y2="1618" stroke="#6e6e6e" stroke-width="2.6"/>
<line x1="1402" y1="1067" x2="1402" y2="1618" stroke="#6e6e6e" stroke-width="2.6"/>
<line x1="1640" y1="1067" x2="1640" y2="1618" stroke="#6e6e6e" stroke-width="2.6"/>
<ellipse cx="1217" cy="1338" rx="87" ry="87" fill="rgba(150,150,150,0.2)"/>
<path d="M224 1334.4 225.4 1334.8 226.8 1334.6 228.2 1334.5 229.6 1334.6 231.1 1334.6 232.5 1334.9 233.9 1334.6 235.3 1335.6 236.7 1334.6 238.1 1335.1 239.5 1330.5 240.9 1330.4 242.3 1332 243.8 1332 245.2 1332.1 246.6 1332.6 248 1331.8 249.4 1332.3 250.8 1332.9 252.2 1332.2 253.6 1332.1 255 1332 256.5 1332.7 257.9 1331.7 259.3 1331.7 260.7 1332.3 262.1 1332.1 263.5 1331.8 264.9 1332.1 266.3 1330.9 267.7 1331.7 269.2 1332.3 270.6 1332.2 272 1331.8 273.4 1330.7 274.8 1331.9 276.2 1331.7 277.6 1331.5 279 1331.8 280.4 1330.7 281.9 1332.1 283.3 1331.4 284.7 1331.7 286.1 1332.2 287.5 1333.1 288.9 1331.7 290.3 1332.6 291.7 1332.5 293.1 1333 294.6 1332.9 296 1332.3 297.4 1330.8 298.8 1330.9 300.2 1330.7 301.6 1331.6 303 1331.9 304.4 1331.5 305.8 1331.6 307.3 1332.4 308.7 1331.9 310.1 1331.7 311.5 1332.2 312.9 1332.5 314.3 1331.9 315.7 1331.4 317.1 1332.9 318.6 1332.8 320 1332.8 321.4 1332.2 322.8 1333.7 324.2 1332.6 325.6 1332.2 327 1331.4 328.4 1330.2 329.8 1330.7 331.3 1331.2 332.7 1330.9 334.1 1331.7 335.5 1331.2 336.9 1330 338.3 1331.4 339.7 1330 341.1 1331 342.5 1331.3 344 1331.8 345.4 1332.9 346.8 1332.1 348.2 1331.7 349.6 1332.4 351 1332.5 352.4 1331.6 353.8 1332.1 355.2 1332.6 356.7 1332.1 358.1 1331.4 359.5 1332 360.9 1331.3 362.3 1331 363.7 1331.7 365.1 1332.3 366.5 1332.4 367.9 1331.8 369.4 1331.3 370.8 1331.6 372.2 1331.5 373.6 1332 375 1331.3 376.4 1331.7 377.8 1331.7 379.2 1332.1 380.6 1332.3 382.1 1331.7 383.5 1332 384.9 1332 386.3 1331.2 387.7 1331.5 389.1 1329.4 390.5 1330.4 391.9 1331.2 393.3 1331.7 394.8 1331.9 396.2 1332.5 397.6 1331.6 399 1332.5 400.4 1333.6 401.8 1331.7 403.2 1332.4 404.6 1331.4 406 1332.4 407.5 1332.7 408.9 1331.3 410.3 1332.7 411.7 1330.8 413.1 1330.2 414.5 1330.8 415.9 1329.3 417.3 1329.2 418.7 1328.8 420.2 1329.6 421.6 1328.9 423 1329 424.4 1328.1 425.8 1329.4 427.2 1329.7 428.6 1328.9 430 1329.4 431.4 1329.1 432.9 1331.7 434.3 1331.2 435.7 1332.1 437.1 1331.9 438.5 1333.1 439.9 1330.8 441.3 1329.6 442.7 1330.7 444.1 1330.7 445.6 1330.9 447 1330.1 448.4 1330.3 449.8 1330.9 451.2 1330 452.6 1330.2 454 1330 455.4 1333 456.8 1331.8 458.3 1332.4 459.7 1332.7 461.1 1332.9 462.5 1332.8 463.9 1332.3 465.3 1332.8 466.7 1331.4 468.1 1331.7 469.5 1331.3 471 1331.6 472.4 1332 473.8 1333 475.2 1331.9 476.6 1330.6 478 1331 479.4 1330.8 480.8 1331.3 482.2 1331.3 483.7 1331.6 485.1 1330.5 486.5 1331.1 487.9 1332 489.3 1332.4 490.7 1331.9 492.1 1331.1 493.5 1331.6 495 1332.2 496.4 1331.1 497.8 1331.2 499.2 1331.4 500.6 1331.5 502 1331.3 503.4 1331.7 504.8 1331.6 506.2 1335.8 507.7 1334.7 509.1 1335.3 510.5 1334.4 511.9 1336.4 513.3 1330.6 514.7 1330.5 516.1 1331.2 517.5 1330.8 518.9 1330.7 520.4 1330.8 521.8 1334.5 523.2 1334.3 524.6 1333.7 526 1333.6 527.4 1334.2 528.8 1334.2 530.2 1334.2 531.6 1333.8 533.1 1334.8 534.5 1335 535.9 1332 537.3 1332.6 538.7 1332.4 540.1 1332.1 541.5 1331.9 542.9 1333.5 544.3 1332.6 545.8 1333.9 547.2 1333.5 548.6 1334.6 550 1334.4 551.4 1333.5 552.8 1334.1 554.2 1334.3 555.6 1334.1 557 1333.7 558.5 1333.9 559.9 1334 561.3 1332.3 562.7 1333.1 564.1 1333 565.5 1333.1 566.9 1332.3 568.3 1332.4 569.7 1332.2 571.2 1332.9 572.6 1333 574 1332.5 575.4 1333.1 576.8 1332.5 578.2 1332.6 579.6 1331.5 581 1331.2 582.4 1331.2 583.9 1330.2 585.3 1329.8 586.7 1331.1 588.1 1331 589.5 1332.1 590.9 1330.8 592.3 1330.9 593.7 1331.4 595.1 1331.8 596.6 1333 598 1332.3 599.4 1332.1 600.8 1332.7 602.2 1331.6 603.6 1331.5 605 1332.7 606.4 1332.7 607.8 1330.6 609.3 1330.8 610.7 1331.4 612.1 1330.9 613.5 1330.8 614.9 1330.8 616.3 1330.3 617.7 1330.4 619.1 1329.7 620.5 1329.9 622 1330.2 623.4 1330 624.8 1332.2 626.2 1332.5 627.6 1333.4 629 1332.3 630.4 1332.7 631.8 1331.9 633.2 1332.6 634.7 1330.6 636.1 1330.7 637.5 1330 638.9 1330.7 640.3 1331.8 641.7 1331.5 643.1 1331.8 644.5 1331.5 645.9 1331.5 647.4 1331.4 648.8 1330.5 650.2 1331.6 651.6 1331.4 653 1332.1 654.4 1331.7 655.8 1332.6 657.2 1332.3 658.6 1331.9 660.1 1331.6 661.5 1331.9 662.9 1332.1 664.3 1332.2 665.7 1331.5 667.1 1331 668.5 1331.5 669.9 1333.6 671.4 1333.4 672.8 1334.1 674.2 1333.8 675.6 1333.7 677 1333.4 678.4 1333.5 679.8 1330.3 681.2 1329.1 682.6 1328.7 684.1 1329.7 685.5 1329.3 686.9 1329.4 688.3 1329.1 689.7 1333 691.1 1331.4 692.5 1332.4 693.9 1331.5 695.3 1332.1 696.8 1332.3 698.2 1332.2 699.6 1331.6 701 1332.5 702.4 1332.3 703.8 1332.3 705.2 1330.9 706.6 1329.3 708 1329.7 709.5 1330 710.9 1328.6 712.3 1329.6 713.7 1329.2 715.1 1328.2 716.5 1328.6 717.9 1330.3 719.3 1334.2 720.7 1333 722.2 1331.9 723.6 1332.7 725 1332.5 726.4 1332.1 727.8 1332.9 729.2 1332.3 730.6 1332 732 1328.9 733.4 1328.9 734.9 1329.4 736.3 1328.8 737.7 1329.3 739.1 1327.8 740.5 1327.2 741.9 1328.9 743.3 1329.6 744.7 1328.7 746.1 1328.3 747.6 1327.9 749 1327.9 750.4 1328.9 751.8 1328.9 753.2 1327.8 754.6 1329 756 1330.4 757.4 1331.1 758.8 1330.6 760.3 1330.6 761.7 1330.6 763.1 1330.5 764.5 1331.5 765.9 1330.8 767.3 1330.9 768.7 1330.8 770.1 1330.3 771.5 1331.1 773 1331.3 774.4 1332.7 775.8 1332.4 777.2 1331.9 778.6 1332.7 780 1331.7 781.4 1332.1 782.8 1332.4 784.2 1332.9 785.7 1332.1 787.1 1328.9 788.5 1330.1 789.9 1328.6 791.3 1328.3 792.7 1329 794.1 1328.9 795.5 1327.9 796.9 1328.5 798.4 1329.6 799.8 1330.3 801.2 1330.4 802.6 1330.3 804 1331.5 805.4 1329.9 806.8 1330.6 808.2 1330.1 809.6 1330.3 811.1 1329.8 812.5 1330.4 813.9 1330.6 815.3 1330.6 816.7 1330.1 818.1 1331 819.5 1330.1 820.9 1330.6 822.3 1331 823.8 1329.9 825.2 1331.1 826.6 1328.3 828 1329 829.4 1328.5 830.8 1329.4 832.2 1329.1 833.6 1328.1 835 1328.6 836.5 1327.3 837.9 1327.6 839.3 1327.1 840.7 1328 842.1 1327.9 843.5 1327.3 844.9 1327.7 846.3 1327.6 847.8 1327.2 849.2 1327.2 850.6 1329 852 1327.9 853.4 1328.3 854.8 1328.1 856.2 1328.8 857.6 1331 859 1331.5 860.5 1330.9 861.9 1327.7 863.3 1326.9 864.7 1326.1 866.1 1325.6 867.5 1326 868.9 1326.9 870.3 1327.3 871.7 1328 873.2 1327.1 874.6 1327.5 876 1327 877.4 1326.1 878.8 1326.9 880.2 1326.1 881.6 1327.3 883 1327 884.4 1326.1 885.9 1325.9 887.3 1327.1 888.7 1326.7 890.1 1327.5 891.5 1326.8 892.9 1326.2 894.3 1326.7 895.7 1326.9 897.1 1327.4 898.6 1326.4 900 1326.1 901.4 1328.4 902.8 1328.5 904.2 1329.4 905.6 1327.7 907 1328.6 908.4 1328.7 909.8 1328.2 911.3 1329.7 912.7 1328.6 914.1 1328.6 915.5 1328.3 916.9 1327.9 918.3 1328.4 919.7 1329.6 921.1 1328.8 922.5 1328.4 924 1328.4 925.4 1329.2 926.8 1329.4 928.2 1325.5 929.6 1325.6 931 1325.7 932.4 1326.7 933.8 1324.7 935.2 1327.2 936.7 1329.3 938.1 1327.9 939.5 1329.1 940.9 1328.9 942.3 1329.7 943.7 1328.2 945.1 1329.7 946.5 1328.8 947.9 1328.8 949.4 1329.5 950.8 1327 952.2 1328.2 953.6 1327.8 955 1326.7 956.4 1326.9 957.8 1326.4 959.2 1326.1 960.6 1326.8 962.1 1326.9 963.5 1326.9 964.9 1326.8 966.3 1326.1 967.7 1326.6 969.1 1328.1 970.5 1328.3 971.9 1328.7 973.3 1327.7 974.8 1328.8 976.2 1328.2 977.6 1327.9 979 1329.3 980.4 1328.7 981.8 1329.6 983.2 1328.9 984.6 1329.5 986 1328.8 987.5 1328.9 988.9 1328.5 990.3 1324 991.7 1324.7 993.1 1324.5 994.5 1324.8 995.9 1324.9 997.3 1325.2 998.7 1325.7 1000.2 1324.7 1001.6 1323.8 1003 1325 1004.4 1325.5 1005.8 1324.2 1007.2 1325.4 1008.6 1326.8 1010 1327.1 1011.4 1327 1012.9 1326.5 1014.3 1325.2 1015.7 1326.5 1017.1 1326.9 1018.5 1326.6 1019.9 1326.4 1021.3 1327.2 1022.7 1326.1 1024.2 1325 1025.6 1325.2 1027 1325 1028.4 1326.1 1029.8 1326.3 1031.2 1324.6 1032.6 1324.7 1034 1326.1 1035.4 1325.1 1036.9 1325.2 1038.3 1324.9 1039.7 1324.4 1041.1 1324.8 1042.5 1324.3 1043.9 1324.3 1045.3 1324.4 1046.7 1325.4 1048.1 1326.1 1049.6 1324.7 1051 1325.2 1052.4 1326 1053.8 1325.7 1055.2 1325.9 1056.6 1326.2 1058 1325.9 1059.4 1325.2 1060.8 1326.3 1062.3 1325.3 1063.7 1324.5 1065.1 1324.7 1066.5 1323.9 1067.9 1325.1 1069.3 1324.1 1070.7 1325.1 1072.1 1325 1073.5 1325.1 1075 1324.2 1076.4 1324.9 1077.8 1323.4 1079.2 1324.1 1080.6 1322.7 1082 1322.2 1083.4 1323.1 1084.8 1322.2 1086.2 1322.8 1087.7 1319.2 1089.1 1320.4 1090.5 1321.3 1091.9 1320.8 1093.3 1321.7 1094.7 1322.2 1096.1 1321.9 1097.5 1322.4 1098.9 1321.5 1100.4 1322 1101.8 1324.9 1103.2 1325.3 1104.6 1326.7 1106 1326.5 1107.4 1325.9 1108.8 1326.7 1110.2 1325.5 1111.6 1325.4 1113.1 1323.6 1114.5 1323.4 1115.9 1322.8 1117.3 1322.1 1118.7 1322 1120.1 1322.9 1121.5 1322.3 1122.9 1323.2 1124.3 1321.3 1125.8 1322.1 1127.2 1321 1128.6 1325.8 1130 1325.6 1131.4 1324.9 1132.8 1324.5 1134.2 1325.7 1135.6 1325.1 1137 1324.6 1138.5 1324.5 1139.9 1325.1 1141.3 1324.5 1142.7 1324.7 1144.1 1323.6 1145.5 1324 1146.9 1320.8 1148.3 1321.3 1149.7 1319.8 1151.2 1322.2 1152.6 1322.7 1154 1322.2 1155.4 1323 1156.8 1323.5 1158.2 1322.1 1159.6 1322.5 1161 1322.1 1162.4 1323.3 1163.9 1322.3 1165.3 1322.7 1166.7 1321.7 1168.1 1322.4 1169.5 1321.6 1170.9 1321.5 1172.3 1320.2 1173.7 1320.9 1175.1 1320.1 1176.6 1320.2 1178 1320 1179.4 1318.3 1180.8 1320.3 1182.2 1319.5 1183.6 1318.4 1185 1317.9 1186.4 1318.7 1187.8 1317.9 1189.3 1317.8 1190.7 1314.9 1192.1 1315.3 1193.5 1314.1 1194.9 1315 1196.3 1313.9 1197.7 1315.6 1199.1 1314.1 1200.6 1315.4 1202 1315.4 1203.4 1317 1204.8 1317.7 1206.2 1316.8 1207.6 1317.6 1209 1315.7 1210.4 1316.7 1211.8 1317.3 1213.3 1316.3 1214.7 1315.2 1216.1 1316.2 1217.5 1315.2 1218.9 1314 1220.3 1314.7 1221.7 1315.1 1223.1 1315.4 1224.5 1314.5 1226 1313.6 1227.4 1314.5 1228.8 1312.7 1230.2 1312.9 1231.6 1310.8 1233 1311.8 1234.4 1312.4 1235.8 1312.4 1237.2 1311.1 1238.7 1312.5 1240.1 1312.1 1241.5 1311.7 1242.9 1311.4 1244.3 1314.7 1245.7 1314.5 1247.1 1313.5 1248.5 1313.1 1249.9 1315.4 1251.4 1312.2 1252.8 1313.9 1254.2 1312.9 1255.6 1314.2 1257 1313 1258.4 1312.9 1259.8 1312.9 1261.2 1312.2 1262.6 1312.2 1264.1 1313.3 1265.5 1312.5 1266.9 1311.8 1268.3 1311.7 1269.7 1312.3 1271.1 1312.1 1272.5 1311.9 1273.9 1312.5 1275.3 1309.2 1276.8 1306.9 1278.2 1308.2 1279.6 1307.7 1281 1308.2 1282.4 1306.6 1283.8 1306 1285.2 1309.8 1286.6 1309 1288 1309.8 1289.5 1307.6 1290.9 1308.2 1292.3 1309.4 1293.7 1307.5 1295.1 1308 1296.5 1308 1297.9 1307.8 1299.3 1308.4 1300.7 1308.1 1302.2 1306.9 1303.6 1307.2 1305 1307.7 1306.4 1305.1 1307.8 1306.7 1309.2 1306.7 1310.6 1306.6 1312 1305.2 1313.4 1305.1 1314.9 1305.5 1316.3 1304.7 1317.7 1306.4 1319.1 1305.3 1320.5 1305.1 1321.9 1304.5 1323.3 1303.8 1324.7 1305.7 1326.1 1301.1 1327.6 1299.1 1329 1297.8 1330.4 1297.2 1331.8 1296.9 1333.2 1297.2 1334.6 1299.7 1336 1297.9 1337.4 1296 1338.8 1297.2 1340.3 1297.1 1341.7 1298 1343.1 1294.6 1344.5 1299.2 1345.9 1300.2 1347.3 1299.3 1348.7 1299.1 1350.1 1299.8 1351.5 1298.8 1353 1298.1 1354.4 1297.6 1355.8 1296.7 1357.2 1297.6 1358.6 1297.8 1360 1296.7 1361.4 1297.5 1362.8 1299.3 1364.2 1296.8 1365.7 1298 1367.1 1297.3 1368.5 1296.9 1369.9 1298.3 1371.3 1296.4 1372.7 1296.3 1374.1 1296.6 1375.5 1295.9 1377 1293.2 1378.4 1294.4 1379.8 1292.3 1381.2 1292.7 1382.6 1290.7 1384 1291.1 1385.4 1291.6 1386.8 1290.8 1388.2 1289.3 1389.7 1290.6 1391.1 1291.1 1392.5 1290.8 1393.9 1291.3 1395.3 1290.9 1396.7 1290 1398.1 1290.4 1399.5 1289.8 1400.9 1290.7 1402.4 1290.9 1403.8 1290.6 1405.2 1288.9 1406.6 1286.8 1408 1286.5 1409.4 1288.4 1410.8 1288.6 1412.2 1285.8 1413.6 1285.8 1415.1 1287.3 1416.5 1284.4 1417.9 1284.9 1419.3 1283.4 1420.7 1284 1422.1 1283.1 1423.5 1283.3 1424.9 1284.3 1426.3 1283.9 1427.8 1284 1429.2 1282 1430.6 1283.6 1432 1283.9 1433.4 1281.1 1434.8 1280.2 1436.2 1279.5 1437.6 1279.5 1439 1282 1440.5 1280.8 1441.9 1280.2 1443.3 1279.3 1444.7 1281.7 1446.1 1278.9 1447.5 1278.2 1448.9 1279.2 1450.3 1277.6 1451.7 1276 1453.2 1277 1454.6 1275.4 1456 1275.1 1457.4 1275.5 1458.8 1275.1 1460.2 1275.7 1461.6 1273.4 1463 1275.7 1464.4 1275.6 1465.9 1273.5 1467.3 1274.9 1468.7 1272.5 1470.1 1271.4 1471.5 1272.2 1472.9 1271.8 1474.3 1270.5 1475.7 1270.3 1477.1 1272.8 1478.6 1272.1 1480 1268.5 1481.4 1269.3 1482.8 1272 1484.2 1270.7 1485.6 1268.4 1487 1269.3 1488.4 1267.1 1489.8 1264.9 1491.3 1264 1492.7 1265.7 1494.1 1263.1 1495.5 1262.9 1496.9 1266.1 1498.3 1263 1499.7 1263.1 1501.1 1263.2 1502.5 1263.7 1504 1262.9 1505.4 1262.1 1506.8 1259.6 1508.2 1258.9 1509.6 1258.2 1511 1258.2 1512.4 1257.9 1513.8 1259.3 1515.2 1258.2 1516.7 1255.9 1518.1 1255.1 1519.5 1255.2 1520.9 1264.7 1522.3 1262.9 1523.7 1263.8 1525.1 1261.1 1526.5 1262.4 1527.9 1260.7 1529.4 1259.6 1530.8 1256 1532.2 1253.8 1533.6 1256.9 1535 1258 1536.4 1251.8 1537.8 1250.7 1539.2 1250.2 1540.6 1251.4 1542.1 1250.5 1543.5 1250.7 1544.9 1252.3 1546.3 1250.8 1547.7 1248.8 1549.1 1249.9 1550.5 1243.7 1551.9 1248.4 1553.4 1246.3 1554.8 1243.5 1556.2 1245.7 1557.6 1246 1559 1245.9 1560.4 1244.5 1561.8 1240.6 1563.2 1241.9 1564.6 1241.2 1566.1 1242.4 1567.5 1239.8 1568.9 1240.6 1570.3 1241.7 1571.7 1240.6 1573.1 1239.1 1574.5 1237.1 1575.9 1238.6 1577.3 1237.2 1578.8 1234.3 1580.2 1238.4 1581.6 1238.7 1583 1233.3 1584.4 1233.7 1585.8 1234.1 1587.2 1233.1 1588.6 1233.5 1590 1231.3 1591.5 1231.9 1592.9 1233.7 1594.3 1236.2 1595.7 1234.8 1597.1 1232.5 1598.5 1232.7 1599.9 1230 1601.3 1230.5 1602.7 1230.5 1604.2 1228.5 1605.6 1229 1607 1230 1608.4 1225.9 1609.8 1224.5 1611.2 1223.1 1612.6 1221.3 1614 1219.1 1615.4 1218.9 1616.9 1219.3 1618.3 1219.4 1619.7 1221.3 1621.1 1217.2 1622.5 1217.3 1623.9 1219.5 1625.3 1217.3 1626.7 1215.1 1628.1 1211.9 1629.6 1209.6 1631 1210 1632.4 1208.6 1633.8 1206.8 1635.2 1204.6 1636.6 1205.2 1638 1202.2 1639.4 1205.9 1640.8 1201 1642.3 1198.3 1643.7 1198.7 1645.1 1199 1646.5 1196.9 1647.9 1198.8 1649.3 1197.9 1650.7 1203 1652.1 1201.7 1653.5 1198.4 1655 1201.4 1656.4 1196.6 1657.8 1201.1 1659.2 1198.4 1660.6 1195.6 1662 1190.3 1663.4 1192.9 1664.8 1195 1666.2 1190.3 1667.7 1190.1 1669.1 1191.2 1670.5 1190 1671.9 1188 1673.3 1185 1674.7 1182.4 1676.1 1186.2 1677.5 1176.2 1678.9 1180.4 1680.4 1180 1681.8 1176.3 1683.2 1177 1684.6 1168.3 1686 1170.8 1687.4 1173.9 1688.8 1173.6 1690.2 1173.4 1691.6 1172.6 1693.1 1169.8 1694.5 1172.5 1695.9 1166.7 1697.3 1170.4 1698.7 1166.3 1700.1 1163.2 1701.5 1169.9 1702.9 1167 1704.3 1162.8 1705.8 1163.8 1707.2 1163.6 1708.6 1162.4 1710 1164.6 1711.4 1163.3 1712.8 1166 1714.2 1167 1715.6 1166.2 1717 1171.4 1718.5 1170.7 1719.9 1165.2 1721.3 1165.8 1722.7 1169.5 1724.1 1169.3 1725.5 1167.9 1726.9 1169.9 1728.3 1165.9 1729.8 1166.7 1731.2 1166.5 1732.6 1164.6 1734 1164.5 1735.4 1161.4 1736.8 1162 1738.2 1170.9 1739.6 1166.6 1741 1175 1742.5 1179.2 1743.9 1177.5 1745.3 1184.3 1746.7 1186.8 1748.1 1177.2 1749.5 1172.9 1750.9 1166 1752.3 1154.4 1753.7 1147.9 1755.2 1147.9 1756.6 1151.8 1758 1147.4 1759.4 1144.2 1760.8 1138.3 1762.2 1137.3 1763.6 1138.3 1765 1138.1 1766.4 1143.1 1767.9 1141.8 1769.3 1142.6 1770.7 1147.4 1772.1 1145.5 1773.5 1144.5 1774.9 1149.5 1776.3 1144.8 1777.7 1145.5 1779.1 1146.9 1780.6 1156.9 1782 1159.9 1783.4 1161.8 1784.8 1168 1786.2 1173.2 1787.6 1172.1 1789 1169.1 1790.4 1174 1791.8 1239 1793.3 1306.4 1794.7 1339 1796.1 1339 1797.5 1339 1798.9 1339 1800.3 1339 1801.7 1339 1803.1 1339 1804.5 1339 1806 1339 1807.4 1339 1808.8 1339 1810.2 1339 1811.6 1339 1813 1339 1814.4 1339 1815.8 1339 1817.2 1339 1818.7 1339 1820.1 1339 1821.5 1339 1822.9 1339 1824.3 1339 1825.7 1339 1827.1 1339 1828.5 1339 1829.9 1339 1831.4 1339 1832.8 1339 1834.2 1339 1835.6 1339 1837 1339 1838.4 1339 1839.8 1339 1841.2 1339 1842.6 1339 1844.1 1339 1845.5 1339 1846.9 1339 1848.3 1339 1849.7 1339 1851.1 1339 1852.5 1339 1853.9 1339 1855.3 1339 1856.8 1339 1858.2 1339 1859.6 1339 1861 1339 1862.4 1339 1863.8 1339 1865.2 1339 1866.6 1339 1868 1339 1869.5 1339 1870.9 1339 1872.3 1339 1873.7 1339 1875.1 1339 1876 1339" stroke="#2fcf2f" stroke-width="4.6" fill="none" stroke-linejoin="round"/>
<line x1="222" y1="1067" x2="222" y2="1612.5" stroke="#333" stroke-width="3.2"/>
<line x1="220.5" y1="1611" x2="1877" y2="1611" stroke="#333" stroke-width="3.2"/>
<text x="190" y="1111" font-size="64" font-family="'Liberation Serif', 'Times New Roman', serif" text-anchor="end" fill="#000" font-weight="normal">400</text>
<text x="190" y="1237" font-size="64" font-family="'Liberation Serif', 'Times New Roman', serif" text-anchor="end" fill="#000" font-weight="normal">200</text>
<text x="157" y="1359" font-size="64" font-family="'Liberation Serif', 'Times New Roman', serif" text-anchor="end" fill="#000" font-weight="normal">0</text>
<text x="208" y="1499" font-size="64" font-family="'Liberation Serif', 'Times New Roman', serif" text-anchor="end" fill="#000" font-weight="normal">200</text>
<text x="208" y="1621" font-size="64" font-family="'Liberation Serif', 'Times New Roman', serif" text-anchor="end" fill="#000" font-weight="normal">400</text>
<text x="86" y="1501" font-size="66" font-family="'Liberation Serif', 'Times New Roman', serif" text-anchor="middle" fill="#000" font-weight="normal">−</text>
<text x="86" y="1623" font-size="66" font-family="'Liberation Serif', 'Times New Roman', serif" text-anchor="middle" fill="#000" font-weight="normal">−</text>
<text x="456" y="1670" font-size="62" font-family="'Liberation Serif', 'Times New Roman', serif" text-anchor="middle" fill="#000" font-weight="normal">10</text>
<text x="695.5" y="1670" font-size="62" font-family="'Liberation Serif', 'Times New Roman', serif" text-anchor="middle" fill="#000" font-weight="normal">20</text>
<text x="936.6" y="1670" font-size="62" font-family="'Liberation Serif', 'Times New Roman', serif" text-anchor="middle" fill="#000" font-weight="normal">30</text>
<text x="1164" y="1670" font-size="62" font-family="'Liberation Serif', 'Times New Roman', serif" text-anchor="middle" fill="#000" font-weight="normal">40</text>
<text x="1390" y="1670" font-size="62" font-family="'Liberation Serif', 'Times New Roman', serif" text-anchor="middle" fill="#000" font-weight="normal">50</text>
<text x="1642" y="1670" font-size="62" font-family="'Liberation Serif', 'Times New Roman', serif" text-anchor="middle" fill="#000" font-weight="normal">60</text>
<text x="1051.5" y="1712" font-size="64" font-family="'Liberation Serif', 'Times New Roman', serif" text-anchor="middle" fill="#000" font-weight="normal">[s]</text>
<text x="98" y="1022" font-size="63" font-family="'Liberation Serif', 'Times New Roman', serif" text-anchor="start" fill="#000" font-weight="normal">[N·m]</text>
<text x="772" y="1002" font-size="33" font-family="'Liberation Mono', 'Noto Sans CJK SC', monospace" text-anchor="start" fill="#000" font-weight="bold" textLength="549" lengthAdjust="spacingAndGlyphs">Compressed Time(Moment) - Input</text>
<text x="631" y="1051" font-size="33" font-family="'Liberation Mono', 'Noto Sans CJK SC', monospace" text-anchor="start" fill="#000" font-weight="bold" textLength="829" lengthAdjust="spacingAndGlyphs">Working : Input : Input : Time Capture Analyzer</text>
<text x="1417" y="1017" font-size="64" font-family="'Liberation Serif', 'Times New Roman', serif" text-anchor="start" fill="#f00" font-weight="normal" textLength="394" lengthAdjust="spacingAndGlyphs">Mutational site</text>
<ellipse cx="1217" cy="1338" rx="87" ry="87" fill="none" stroke="#f00" stroke-width="5.5" stroke-linecap="round" stroke-dasharray="40 21 0.1 21"/>
<line x1="1270" y1="1272" x2="1527.4" y2="1074.9" stroke="#000" stroke-width="5"/>
<path d="M1556 1053L1535.6 1088.8L1516.1 1063.4Z" fill="#000"/>
<line x1="84" y1="1714" x2="1892" y2="1714" stroke="#ececec" stroke-width="2"/>
<text x="653" y="1839" font-size="64" font-family="'Liberation Serif', 'Times New Roman', serif" text-anchor="start" fill="#000" font-weight="normal" textLength="669" lengthAdjust="spacingAndGlyphs">Frictional torque diagram</text>
<text x="1145" y="1972" font-size="56" font-family="'Liberation Serif', 'Times New Roman', serif" text-anchor="middle" fill="#000" font-weight="normal">(<tspan font-weight="bold">a</tspan>)</text>
<path d="M770.5 2094L770.5 2645L49.5 3212L49.5 2661Z" fill="#f3f3f3"/>
<rect x="770.5" y="2094" width="1191" height="551" fill="#f3f3f3"/>
<path d="M770.5 2645L1961.5 2645L1240.5 3212L49.5 3212Z" fill="#fafafa"/>
<path d="M49.5 3156.9L770.5 2589.9M49.5 3101.8L770.5 2534.8M49.5 3046.7L770.5 2479.7M49.5 2991.6L770.5 2424.6M49.5 2936.5L770.5 2369.5M49.5 2881.4L770.5 2314.4M49.5 2826.3L770.5 2259.3M49.5 2771.2L770.5 2204.2M49.5 2716.1L770.5 2149.1" stroke="#5a5a5a" stroke-width="1.4" fill="none"/>
<path d="M101 3171.5V2620.5M152.5 3131V2580M204 3090.5V2539.5M255.5 3050V2499M307 3009.5V2458.5M358.5 2969V2418M410 2928.5V2377.5M461.5 2888V2337M513 2847.5V2296.5M564.5 2807V2256M616 2766.5V2215.5M667.5 2726V2175M719 2685.5V2134.5M889.6 2645V2094M1008.7 2645V2094M1127.8 2645V2094M1246.9 2645V2094M1366 2645V2094M1485.1 2645V2094M1604.2 2645V2094M1723.3 2645V2094M1842.4 2645V2094M770.5 2589.9H1961.5M770.5 2534.8H1961.5M770.5 2479.7H1961.5M770.5 2424.6H1961.5M770.5 2369.5H1961.5M770.5 2314.4H1961.5M770.5 2259.3H1961.5M770.5 2204.2H1961.5M770.5 2149.1H1961.5" stroke="#6a6a6a" stroke-width="2" fill="none"/>
<path d="M168.6 3212L889.6 2645M287.7 3212L1008.7 2645M406.8 3212L1127.8 2645M525.9 3212L1246.9 2645M645 3212L1366 2645M764.1 3212L1485.1 2645M883.2 3212L1604.2 2645M1002.3 3212L1723.3 2645M1121.4 3212L1842.4 2645M101 3171.5H1292M152.5 3131H1343.5M204 3090.5H1395M255.5 3050H1446.5M307 3009.5H1498M358.5 2969H1549.5M410 2928.5H1601M461.5 2888H1652.5M513 2847.5H1704M564.5 2807H1755.5M616 2766.5H1807M667.5 2726H1858.5M719 2685.5H1910" stroke="#9a9a9a" stroke-width="1.6" fill="none"/>
<path d="M787 2641V2398M778 2649V2395M795 2649V2613M767 2657V2423M784 2657V2633M757 2665V2412M774 2665V2628M746 2673V2413M764 2673V2623M736 2681V2444M754 2681V2656M726 2689V2427M743 2689V2643M716 2698V2463M733 2698V2657M706 2706V2451M722 2706V2680M695 2714V2465M712 2714V2672M730 2714V2687M685 2722V2469M702 2722V2689M719 2722V2694M674 2730V2476M692 2730V2693M709 2730V2703M664 2738V2511M681 2738V2694M699 2738V2707M654 2746V2502M671 2746V2714M688 2746V2715M644 2754V2505M661 2754V2728M678 2754V2731M633 2762V2512M650 2762V2735M668 2762V2727M623 2770V2524M640 2770V2724M657 2770V2728M612 2779V2533M630 2779V2743M647 2779V2741M664 2779V2761M603 2787V2558M620 2787V2748M637 2787V2753M654 2787V2758M592 2795V2546M609 2795V2755M627 2795V2749M644 2795V2778M582 2803V2553M599 2803V2748M616 2803V2765M633 2803V2774M572 2811V2558M589 2811V2757M605 2811V2782M624 2811V2785M561 2819V2588M578 2819V2784M596 2819V2783M613 2819V2799M551 2827V2569M568 2827V2794M585 2827V2788M602 2827V2805M541 2835V2605M558 2835V2778M575 2835V2788M592 2835V2811M530 2843V2594M548 2843V2803M565 2843V2818M582 2843V2808M599 2843V2828M520 2851V2593M537 2851V2804M555 2851V2807M572 2851V2827M589 2851V2828M509 2860V2618M528 2860V2794M544 2860V2828M562 2860V2831M579 2860V2845M499 2868V2642M516 2868V2822M534 2868V2828M551 2868V2835M569 2868V2842M489 2876V2650M506 2876V2831M524 2876V2831M541 2876V2845M558 2876V2859M478 2884V2633M496 2884V2836M513 2884V2843M530 2884V2857M547 2884V2861M469 2892V2639M486 2892V2829M503 2892V2847M520 2892V2854M537 2892V2870M458 2900V2672M476 2900V2857M493 2900V2854M511 2900V2859M527 2900V2875M448 2908V2663M465 2908V2871M482 2908V2857M499 2908V2886M516 2908V2875M438 2916V2691M455 2916V2873M472 2916V2870M490 2916V2880M506 2916V2891M524 2916V2892M428 2924V2691M445 2924V2870M462 2924V2866M480 2924V2885M496 2924V2909M514 2924V2907M416 2932V2676M434 2932V2864M451 2932V2873M469 2932V2886M486 2932V2899M504 2932V2908M407 2941V2692M425 2941V2878M441 2941V2905M459 2941V2915M476 2941V2922M493 2941V2920M396 2949V2720M413 2949V2865M431 2949V2912M448 2949V2903M465 2949V2919M482 2949V2921M386 2957V2715M404 2957V2894M421 2957V2911M438 2957V2915M456 2957V2933M472 2957V2941M376 2965V2722M393 2965V2889M410 2965V2925M428 2965V2920M445 2965V2929M462 2965V2950M366 2973V2723M382 2973V2893M400 2973V2918M418 2973V2925M434 2973V2937M452 2973V2949M356 2981V2720M372 2981V2908M389 2981V2926M407 2981V2931M424 2981V2940M441 2981V2952M459 2981V2965M345 2989V2750M362 2989V2915M379 2989V2949M397 2989V2951M413 2989V2969M431 2989V2975M448 2989V2967M335 2997V2755M352 2997V2931M369 2997V2929M387 2997V2963M404 2997V2967M421 2997V2970M439 2997V2976M324 3005V2763M341 3005V2906M359 3005V2950M376 3005V2951M393 3005V2963M410 3005V2973M428 3005V2992M314 3013V2774M331 3013V2953M348 3013V2944M366 3013V2983M383 3013V2969M401 3013V2986M417 3013V2998M304 3022V2795M321 3022V2953M338 3022V2940M356 3022V2981M373 3022V2992M389 3022V3000M407 3022V2995M293 3030V2777M311 3030V2957M327 3030V2947M345 3030V2981M363 3030V2997M380 3030V2993M397 3030V3003M283 3038V2807M300 3038V2936M318 3038V2982M335 3038V2975M352 3038V3007M369 3038V3014M387 3038V3010M273 3046V2783M290 3046V2985M307 3046V2998M324 3046V3006M342 3046V3005M359 3046V3012M376 3046V3022M394 3046V3036M262 3054V2810M280 3054V2996M297 3054V2984M315 3054V2985M332 3054V3010M349 3054V3031M366 3054V3038M383 3054V3038M253 3062V2822M270 3062V2958M287 3062V3006M305 3062V2994M322 3062V3027M339 3062V3027M356 3062V3032M372 3062V3050M241 3070V2814M259 3070V2985M277 3070V2999M294 3070V3006M311 3070V3016M329 3070V3035M345 3070V3052M363 3070V3057M232 3078V2820M249 3078V2958M266 3078V3029M284 3078V3029M301 3078V3044M318 3078V3055M335 3078V3052M352 3078V3059M221 3086V2830M238 3086V2996M255 3086V2994M273 3086V3042M291 3086V3052M308 3086V3050M325 3086V3052M342 3086V3070M211 3094V2865M229 3094V2958M245 3094V3024M263 3094V3018M281 3094V3056M297 3094V3055M314 3094V3077M332 3094V3074M201 3103V2865M218 3103V3014M236 3103V3000M253 3103V3029M270 3103V3050M287 3103V3062M304 3103V3077M322 3103V3081M190 3111V2881M207 3111V3003M225 3111V3030M242 3111V3027M259 3111V3056M277 3111V3072M294 3111V3079M311 3111V3096M328 3111V3097M181 3119V2888M197 3119V3010M214 3119V3034M232 3119V3062M249 3119V3060M267 3119V3088M284 3119V3094M300 3119V3101M318 3119V3101M170 3127V2883M187 3127V3048M205 3127V3047M222 3127V3073M239 3127V3089M256 3127V3085M273 3127V3106M291 3127V3099M308 3127V3108M159 3135V2876M177 3135V2999M194 3135V3038M211 3135V3060M229 3135V3082M246 3135V3104M263 3135V3096M280 3135V3102M297 3135V3119M149 3143V2904M166 3143V3008M184 3143V3065M201 3143V3054M218 3143V3097M235 3143V3094M253 3143V3119M270 3143V3110M287 3143V3132M139 3151V2902M157 3151V3025M173 3151V3036M191 3151V3052M208 3151V3088M225 3151V3108M243 3151V3113M260 3151V3117M277 3151V3130M128 3159V2926M145 3159V2993M163 3159V3070M180 3159V3081M197 3159V3099M215 3159V3104M232 3159V3121M250 3159V3134M267 3159V3147M118 3167V2925M135 3167V3048M153 3167V3023M170 3167V3093M187 3167V3118M204 3167V3116M221 3167V3123M239 3167V3142M257 3167V3146M107 3175V2938M126 3175V3044M143 3175V3079M159 3175V3061M176 3175V3095M195 3175V3126M212 3175V3126M229 3175V3150M246 3175V3149M97 3184V2941M115 3184V3050M132 3184V3094M149 3184V3117M167 3184V3093M184 3184V3149M201 3184V3145M219 3184V3163M236 3184V3153M253 3184V3172M87 3192V2942M105 3192V3046M122 3192V3053M139 3192V3090M157 3192V3128M174 3192V3124M191 3192V3163M208 3192V3162M226 3192V3165M243 3192V3181M78 3200V2936M94 3200V3085M112 3200V3082M129 3200V3108M147 3200V3121M163 3200V3123M181 3200V3170M198 3200V3167M215 3200V3182M233 3200V3176M67 3208V2958M84 3208V3089M102 3208V3107M119 3208V3118M136 3208V3115M153 3208V3130M170 3208V3166M188 3208V3178M205 3208V3182M222 3208V3187" stroke="#3f9f3f" stroke-width="1.8" fill="none"/>
<path d="M788 2641V2491M784 2641V2574M779 2649V2461M775 2649V2564M797 2649V2628M768 2657V2524M764 2657V2591M786 2657V2643M793 2657V2645M758 2665V2508M754 2665V2629M776 2665V2637M783 2665V2647M747 2673V2545M743 2673V2605M765 2673V2638M772 2673V2659M737 2681V2506M733 2681V2630M755 2681V2667M762 2681V2672M727 2689V2549M723 2689V2646M745 2689V2660M752 2689V2675M717 2698V2560M713 2698V2658M734 2698V2674M741 2698V2686M707 2706V2566M703 2706V2660M724 2706V2688M731 2706V2698M696 2714V2584M692 2714V2672M714 2714V2682M731 2714V2699M738 2714V2701M686 2722V2590M682 2722V2641M703 2722V2698M710 2722V2704M720 2722V2708M727 2722V2712M676 2730V2584M671 2730V2648M693 2730V2711M700 2730V2720M710 2730V2711M717 2730V2721M665 2738V2600M661 2738V2680M683 2738V2714M690 2738V2724M700 2738V2721M707 2738V2726M656 2746V2591M651 2746V2689M672 2746V2731M690 2746V2732M645 2754V2590M641 2754V2702M662 2754V2738M669 2754V2742M680 2754V2741M687 2754V2750M634 2762V2586M630 2762V2708M652 2762V2750M670 2762V2738M677 2762V2749M624 2770V2646M620 2770V2696M641 2770V2746M648 2770V2754M659 2770V2748M666 2770V2748M614 2779V2635M609 2779V2715M632 2779V2751M648 2779V2753M665 2779V2770M672 2779V2772M604 2787V2623M600 2787V2716M621 2787V2765M628 2787V2770M638 2787V2771M645 2787V2770M655 2787V2768M594 2795V2660M589 2795V2752M611 2795V2774M618 2795V2779M628 2795V2771M645 2795V2788M652 2795V2788M583 2803V2637M579 2803V2765M600 2803V2763M607 2803V2777M618 2803V2781M625 2803V2788M635 2803V2783M642 2803V2788M573 2811V2627M569 2811V2743M590 2811V2770M597 2811V2794M607 2811V2796M614 2811V2802M625 2811V2794M563 2819V2651M558 2819V2753M580 2819V2797M597 2819V2792M604 2819V2803M615 2819V2804M622 2819V2816M552 2827V2682M548 2827V2769M569 2827V2808M576 2827V2809M587 2827V2808M604 2827V2813M610 2827V2820M542 2835V2707M538 2835V2758M559 2835V2801M566 2835V2819M577 2835V2803M584 2835V2815M594 2835V2819M601 2835V2830M531 2843V2667M527 2843V2787M550 2843V2821M556 2843V2823M566 2843V2833M573 2843V2836M584 2843V2816M591 2843V2831M601 2843V2835M608 2843V2841M521 2851V2717M517 2851V2810M538 2851V2829M545 2851V2838M556 2851V2824M573 2851V2836M580 2851V2840M590 2851V2841M597 2851V2842M511 2860V2718M506 2860V2782M529 2860V2809M545 2860V2844M563 2860V2837M570 2860V2852M580 2860V2850M587 2860V2854M501 2868V2712M497 2868V2792M518 2868V2837M525 2868V2843M535 2868V2837M542 2868V2856M553 2868V2850M560 2868V2855M570 2868V2857M577 2868V2862M490 2876V2735M486 2876V2815M508 2876V2843M515 2876V2856M525 2876V2842M532 2876V2863M542 2876V2855M549 2876V2867M559 2876V2864M566 2876V2867M479 2884V2754M475 2884V2809M498 2884V2857M505 2884V2869M515 2884V2857M532 2884V2870M539 2884V2871M549 2884V2869M555 2884V2880M470 2892V2733M466 2892V2814M487 2892V2854M504 2892V2862M511 2892V2880M522 2892V2872M529 2892V2878M539 2892V2878M546 2892V2882M459 2900V2749M455 2900V2842M477 2900V2868M494 2900V2876M501 2900V2883M512 2900V2871M519 2900V2886M529 2900V2884M535 2900V2892M449 2908V2732M445 2908V2871M467 2908V2884M484 2908V2883M491 2908V2884M500 2908V2896M507 2908V2903M518 2908V2889M525 2908V2890M439 2916V2789M435 2916V2877M456 2916V2891M463 2916V2900M474 2916V2883M480 2916V2895M491 2916V2894M498 2916V2904M508 2916V2903M526 2916V2901M533 2916V2906M429 2924V2795M425 2924V2863M446 2924V2886M453 2924V2903M464 2924V2896M470 2924V2907M481 2924V2903M488 2924V2915M498 2924V2915M505 2924V2919M515 2924V2917M418 2932V2760M413 2932V2883M436 2932V2892M443 2932V2898M453 2932V2894M471 2932V2906M477 2932V2915M487 2932V2915M494 2932V2922M505 2932V2916M512 2932V2927M408 2941V2774M404 2941V2884M426 2941V2903M443 2941V2924M450 2941V2924M460 2941V2929M467 2941V2933M477 2941V2932M484 2941V2932M494 2941V2931M398 2949V2800M393 2949V2915M415 2949V2891M422 2949V2901M432 2949V2932M439 2949V2931M449 2949V2921M467 2949V2932M474 2949V2935M484 2949V2936M491 2949V2942M387 2957V2828M383 2957V2879M405 2957V2916M412 2957V2928M422 2957V2932M429 2957V2932M440 2957V2934M457 2957V2943M464 2957V2946M474 2957V2946M481 2957V2952M378 2965V2838M373 2965V2903M394 2965V2909M411 2965V2945M418 2965V2944M429 2965V2944M436 2965V2953M446 2965V2940M453 2965V2955M464 2965V2956M470 2965V2959M367 2973V2815M363 2973V2911M384 2973V2915M391 2973V2939M401 2973V2935M419 2973V2948M426 2973V2955M436 2973V2955M443 2973V2954M453 2973V2962M357 2981V2810M353 2981V2943M374 2981V2924M391 2981V2954M398 2981V2956M408 2981V2955M426 2981V2953M443 2981V2959M460 2981V2972M467 2981V2977M347 2989V2870M342 2989V2911M363 2989V2938M370 2989V2947M381 2989V2968M398 2989V2968M405 2989V2975M415 2989V2974M432 2989V2981M449 2989V2972M336 2997V2878M332 2997V2932M353 2997V2951M371 2997V2963M388 2997V2975M405 2997V2981M412 2997V2989M422 2997V2983M429 2997V2992M440 2997V2987M326 3005V2828M321 3005V2924M343 3005V2955M350 3005V2953M360 3005V2977M377 3005V2963M384 3005V2984M394 3005V2983M401 3005V2994M412 3005V2983M418 3005V2990M430 3005V2995M316 3013V2876M312 3013V2965M333 3013V2981M340 3013V2987M350 3013V2980M357 3013V2981M367 3013V2990M374 3013V2997M385 3013V2988M392 3013V3001M402 3013V2993M419 3013V3006M426 3013V3009M305 3022V2870M301 3022V2960M322 3022V2987M329 3022V3002M339 3022V2966M357 3022V3002M364 3022V3004M374 3022V3000M381 3022V3006M391 3022V3011M398 3022V3013M409 3022V3008M416 3022V3013M294 3030V2873M290 3030V2976M313 3030V2981M329 3030V2973M347 3030V3002M364 3030V3008M371 3030V3021M381 3030V3012M398 3030V3015M405 3030V3019M284 3038V2895M280 3038V2979M302 3038V2984M309 3038V3006M320 3038V3005M327 3038V3013M336 3038V3007M343 3038V3016M354 3038V3024M361 3038V3024M370 3038V3020M388 3038V3017M395 3038V3029M274 3046V2881M270 3046V2977M291 3046V3011M298 3046V3014M308 3046V3020M315 3046V3025M326 3046V3024M343 3046V3014M350 3046V3026M360 3046V3023M378 3046V3028M385 3046V3036M396 3046V3039M402 3046V3045M264 3054V2913M259 3054V2996M281 3054V3017M288 3054V3030M298 3054V3018M316 3054V3003M323 3054V3024M333 3054V3024M340 3054V3038M350 3054V3040M368 3054V3045M375 3054V3051M385 3054V3043M392 3054V3047M254 3062V2927M250 3062V3020M271 3062V2987M278 3062V3009M288 3062V3028M295 3062V3043M306 3062V3018M313 3062V3027M323 3062V3046M341 3062V3042M347 3062V3050M357 3062V3040M364 3062V3051M374 3062V3058M243 3070V2888M238 3070V3030M260 3070V3012M267 3070V3045M278 3070V3021M295 3070V3021M302 3070V3049M313 3070V3040M320 3070V3043M331 3070V3045M347 3070V3056M354 3070V3067M364 3070V3064M233 3078V2890M229 3078V3031M250 3078V3015M257 3078V3015M268 3078V3050M275 3078V3057M285 3078V3040M292 3078V3054M302 3078V3059M309 3078V3063M320 3078V3064M327 3078V3072M337 3078V3059M343 3078V3069M353 3078V3068M360 3078V3072M223 3086V2945M218 3086V3050M240 3086V3026M247 3086V3045M257 3086V3027M264 3086V3051M275 3086V3063M292 3086V3062M299 3086V3075M309 3086V3061M316 3086V3067M327 3086V3065M334 3086V3079M344 3086V3078M213 3094V2963M209 3094V3046M230 3094V2989M237 3094V3015M247 3094V3058M253 3094V3071M264 3094V3038M271 3094V3055M282 3094V3075M289 3094V3075M299 3094V3077M305 3094V3081M316 3094V3082M323 3094V3089M333 3094V3085M202 3103V2961M198 3103V3033M219 3103V3056M226 3103V3057M237 3103V3041M254 3103V3052M271 3103V3065M278 3103V3073M289 3103V3071M296 3103V3091M306 3103V3084M323 3103V3087M330 3103V3096M192 3111V2957M187 3111V3055M209 3111V3038M216 3111V3053M226 3111V3071M243 3111V3055M250 3111V3078M261 3111V3080M278 3111V3081M285 3111V3091M295 3111V3094M302 3111V3098M313 3111V3105M320 3111V3104M329 3111V3101M182 3119V2954M178 3119V3072M199 3119V3064M206 3119V3088M216 3119V3078M223 3119V3091M233 3119V3091M240 3119V3092M250 3119V3084M257 3119V3104M268 3119V3102M275 3119V3107M286 3119V3105M293 3119V3112M302 3119V3107M319 3119V3105M171 3127V3007M167 3127V3048M189 3127V3069M195 3127V3087M206 3127V3066M213 3127V3104M223 3127V3085M240 3127V3102M247 3127V3113M258 3127V3101M274 3127V3117M281 3127V3121M292 3127V3113M299 3127V3115M310 3127V3118M317 3127V3121M161 3135V2990M156 3135V3061M178 3135V3048M185 3135V3075M195 3135V3080M202 3135V3081M213 3135V3078M220 3135V3107M230 3135V3109M237 3135V3122M247 3135V3112M254 3135V3124M265 3135V3107M281 3135V3115M298 3135V3128M305 3135V3133M151 3143V3008M146 3143V3100M168 3143V3041M175 3143V3071M185 3143V3097M192 3143V3121M202 3143V3096M209 3143V3111M220 3143V3120M227 3143V3131M237 3143V3110M244 3143V3125M254 3143V3126M271 3143V3124M288 3143V3137M295 3143V3139M141 3151V2995M136 3151V3116M158 3151V3077M165 3151V3099M174 3151V3063M181 3151V3111M192 3151V3078M209 3151V3103M216 3151V3123M227 3151V3127M234 3151V3135M244 3151V3126M251 3151V3131M261 3151V3135M268 3151V3133M278 3151V3142M130 3159V2995M125 3159V3087M147 3159V3066M154 3159V3065M165 3159V3095M172 3159V3129M182 3159V3103M189 3159V3115M199 3159V3128M206 3159V3138M216 3159V3131M223 3159V3141M234 3159V3130M241 3159V3144M251 3159V3145M258 3159V3146M268 3159V3153M275 3159V3156M120 3167V2988M115 3167V3087M137 3167V3106M144 3167V3116M154 3167V3080M161 3167V3089M171 3167V3110M178 3167V3137M189 3167V3133M195 3167V3144M206 3167V3142M213 3167V3139M223 3167V3137M230 3167V3143M241 3167V3155M247 3167V3162M258 3167V3152M265 3167V3164M109 3175V3035M104 3175V3120M127 3175V3083M144 3175V3115M161 3175V3109M168 3175V3109M178 3175V3137M196 3175V3144M203 3175V3153M213 3175V3152M220 3175V3152M230 3175V3163M237 3175V3162M247 3175V3157M99 3184V3025M94 3184V3145M117 3184V3083M134 3184V3137M141 3184V3152M150 3184V3139M157 3184V3158M168 3184V3120M175 3184V3135M185 3184V3163M192 3184V3173M203 3184V3158M221 3184V3174M227 3184V3173M237 3184V3162M254 3184V3175M261 3184V3183M89 3192V3017M84 3192V3142M106 3192V3083M123 3192V3083M130 3192V3140M141 3192V3127M148 3192V3152M158 3192V3148M165 3192V3175M176 3192V3142M183 3192V3173M193 3192V3176M200 3192V3182M209 3192V3178M216 3192V3183M227 3192V3176M234 3192V3179M245 3192V3185M252 3192V3190M79 3200V3040M75 3200V3142M96 3200V3143M103 3200V3138M113 3200V3127M120 3200V3147M130 3200V3142M137 3200V3172M148 3200V3162M155 3200V3170M165 3200V3156M172 3200V3161M182 3200V3186M189 3200V3185M200 3200V3178M207 3200V3191M217 3200V3191M224 3200V3192M234 3200V3185M241 3200V3194M68 3208V3067M64 3208V3131M85 3208V3135M92 3208V3165M103 3208V3144M110 3208V3167M120 3208V3137M127 3208V3162M137 3208V3149M144 3208V3158M154 3208V3168M161 3208V3179M172 3208V3183M179 3208V3193M189 3208V3187M207 3208V3189M224 3208V3195M231 3208V3198" stroke="#0d7a0d" stroke-width="3" fill="none"/>
<path d="M770 2641l2-10 1-3 1-2 1 8 1-10 2 7 1-8 1-9 1 5 1 10 2-1 1-8 1 0 1 14 1-3 2-4 1 2 1 2 1-3 1 2 2-4 1 3 1 2 1 3 1-5 1-11 2 14 1 0 1-4 1-4 1 3 2 4 1 6 1-11 1 5 1-1 2 3 1-6 1-1 1 3 1 1 2-5 1-1 1-1 1 1 1-1 1 5 2 0 1 2 1 1 1 3 1 2 2 2 1 1 1 0 1 2 1 1 2-2 1 3 1 1 1-1 1 1 2 0 1 0 1-1 2 0 2 1 2 0 2 0 2-1 2 1 2 0 2 0 2-1 2-1 2 0 2 1 2 1 2 0 2-1 2-1 2 0 2 1 2-1 2 0 2 1 2-1 2 1 3-2 2 0 2 0 2 2 2 0 2-2 2 2 2 0 2 0 2 1 2 0 2-1 2 1 2 0 2 0 2-1 2-1 2 1 2-1 2 2 2-2 2 1 2 1 2-3 2 3 2 0 2-2 2 0 2-2 2 3 2 0 2 0 2 0 2 1 2-1 2 1 2-2 2 2 2-2 2 1 2 0 3-2 2 1 2 1 2 0 2 0 2 0 2-1 2 1 2 0 2 1 2-1 2 0 2 1 2-1 2 1 2 0 2 0 2 0 2-2 2 2 2 0 2-1 2 1 2 0 2-1 2-2 2 2 2-2 2 0 2 2 2 0 2 0 2 0 2 0 2 1 2 0 2-3 2 3 2-1 2 1 3-1 2 0 2 0 2 0 2 0 2 1 2-1 2 1 2-1 2 1 2 0 2 0 2-2 2 1 2 0 2 0 2 1 2 0 2 0 2 0 2-1 2 0 2-1 2 2 2-2 2 2 2-2 2-1 2 1 2 1 2 0 2-1 2 1 2-1 2 1 2 0 2-1 2 2 2-1 2 0 2 0 3-1 2 0 2 0 2 0 2 1 2-1 2 1 2 1 2-1 2 1 2 0 2 0 2-3 2 3 2-1 2 1 2-2 2 0 2 1 2 0 2-1 2 2 2-1 2 1 2-3 2 3 2-1 2 0 2 0 2 0 2 0 2-1 2 1 2 0 2 0 2-1 2-1 2 2 2 0 2 0 3 0 2-1 2 2 2-1 2-2 2 2 2 0 2 1 2-1 2 1 2 0 2-2 2 1 2 1 2 1 2-2 2 0 2 1 2-1 2 0 2 1 2-3 2 2 2 1 2-1 2 1 2 0 2-1 2 1 2-2 2 2 2-1 2 0 2-1 2 1 2-1 2 1 2 0 2 0 2 0 2 1 3-1 2 1 2-2 2 0 2 2 2-2 2 2 2 0 2 0 2-1 2 1 2-5 2 3 2 2 2 0 2 0 2-2 2 1 2 1 2 0 2-2 2 1 2 1 2-4 2 3 2-1 2 2 2 0 2-2 2 2 2-1 2 0 2-3 2 2 2-2 2 4 2-1 2 0 2 1 2-3 3 2 2 0 2 1 2 0 2 0 2-1 2 1 2 0 2-1 2 1 2 0 2-1 2 1 2-1 2-3 2 3 2 0 2 1 2-1 2 0 2 0 2-3 2 3 2-1 2-2 2 0 2 1 2 0 2-1 2 3 2 1 2-2 2 2 2 0 2-2 2 1 2 0 2 1 2 0 2 0 2 0 3 0 2-1 2 1 2 0 2-1 2-2 2 3 2-2 2 1 2-1 2 0 2 1 2 0 2 0 2-1 2 1 2 1 2-2 2-2 2 3 2 0 2 0 2 0 2 0 2-2 2 2 2 0 2 0 2 0 2 0 2 1 2-1 2 1 2 0 2-1 2 1 2 0 2-2 2 1 2 0 3 1 2 0 2 0 2 0 2-1 2 1 2-2 2 2 2-2 2 2 2-1 2-1 2 2 2 0 2-2 2 1 2-2 2 1 2-1 2 2 2 0 2 0 2-1 2 0 2 1 2 0 2 0 2-1 2 1 2 0 2-2 2 2 2 1 2-1 2-1 2 2 2-1 2 1 2 0 2 0 2-1 3-1 2 2 2 0 2 0 2-2 2 2 2-1 2-2 2 2 2 1 2 0 2-4 2 3 2-1 2 1 2 0 2 0 2-2 2 1 2 0 2 1 2 1 2-1 2-2 2 3 2-2 2 0 2 1 2 0 2-2 2 3 2-2 2 1 2-1 2 1 2 0 2 1 2 0 2 0 2-1 3 1 2 0 2-1 2 0 2 0 2 1 2 0 2-2 2 0 2 0 2 0 2 1 2-1 2 0 2 0 2 1 2-1 2 1 2 1 2-1 2 1 2-1 2-1 2 0 2 1 2 1 2-2 2 1 2-1 2 1 2 0 2-1 2 1 2 1 2-1 2 0 2 1 2 1 2-1 2-1 2 0 3 0 2 1 2 0 2-1 2 0 2-1 2 1 2 1 2-2 2 1 2-1 2 0 2 0 2 2 2-1 2-1 2 1 2 0 2-1 2 1 2 0 2 1 2-1 2 0 2 1 2-1 2-1 2 1 2 1 2-1 2-1 2 1 2 0 2 1 2-1 2 1 2-2 2 2 2-2 2 2 3-2 2 2 2-1 2 0 2-1 2 0 2 1 2-3 2 2 2-1 2 1 2-1 2-1 2 2 2-2 2 2 2-2 2-1 2 4 2-3 2 2 2 0 2 1 2 0 2 0 2-2 2 0 2 1 2 1 2-1 2-1 2-1 2 3 2-2 2 2 2 0 2-2 2 3 2-1 2-2 3 1M760 2646l1-2 2-5 1-3 1 3 1-10 1 7 2 1 1-1 1-1 1-6 1 5 1 3 2-7 1 7 1 1 1 2 1-10 2 9 1-5 1-8 1-2 1 17 2-5 1-6 1 12 1-1 1 2 2-16 1 11 1 0 1 1 1-7 2 8 1 1 1-3 1 5 1-5 1 2 2 2 1 2 1-2 1-2 1 2 2 0 1 1 1-2 1 0 1 2 2 2 1-3 1 4 1 1 1-1 2 2 1 2 1 0 1-2 1 3 1 0 2 1 1-2 1 1 1 0 1 0 2-1 1 1 1 1 1-1 2 1 2 0 2-1 2 1 2-1 2 1 2 0 2 0 2 0 2-1 2 0 2 1 3 0 2-1 2 0 2 0 2 0 2-1 2 1 2 0 2-1 2 2 2-1 2 0 2 0 2 1 2-1 2 1 2 0 2-1 2 0 2 0 2 0 2 0 2 0 2 0 2-1 2 0 2-2 2 1 2 2 2-2 2 2 2 0 2 1 2 0 2 0 2-1 2 0 2 0 2 0 2-1 2 1 3-1 2 1 2-1 2-1 2 1 2 0 2 1 2-1 2 0 2 1 2-2 2 1 2 0 2 0 2 1 2 0 2 0 2 0 2 1 2 0 2 0 2 0 2 0 2 1 2-2 2-1 2 1 2-1 2 2 2 0 2 0 2-2 2 1 2-1 2 0 2 2 2-1 2 1 2-2 2 1 3 1 2-3 2 2 2-1 2 0 2 1 2 1 2 0 2-3 2 1 2 0 2 2 2 0 2 0 2 0 2 0 2 0 2-2 2 1 2 1 2 0 2-1 2 2 2-1 2 0 2-1 2 1 2 0 2 0 2-3 2 3 2-2 2-1 2 2 2 0 2-3 2 2 2 1 2-2 2 2 2 0 3 0 2-1 2 1 2-1 2 0 2 1 2 0 2-1 2 1 2-1 2 0 2-2 2 1 2 2 2-1 2 2 2-1 2 2 2-2 2 0 2 1 2 0 2-1 2 0 2 1 2-1 2 1 2 0 2 0 2-3 2 2 2 0 2 0 2 1 2-2 2 1 2 0 2-2 2 1 2 1 3-3 2 2 2 0 2 0 2 2 2 0 2 0 2-1 2 1 2-1 2 1 2 0 2-1 2 0 2 1 2-2 2 0 2 2 2-1 2 0 2 1 2-2 2 1 2 1 2-1 2 0 2 0 2 0 2 0 2 1 2-1 2 1 2-3 2 2 2-1 2 2 2-1 2 0 2 0 2 1 2-1 3-1 2 2 2 0 2 0 2-2 2 2 2 0 2-1 2 0 2-2 2 3 2-1 2 0 2 0 2-1 2 2 2-3 2 3 2 0 2-1 2-2 2 1 2 0 2 1 2-1 2 2 2-2 2 2 2-1 2-1 2-1 2 2 2 0 2-2 2 2 2 0 2 1 2-1 2-1 2 2 3-2 2 0 2 1 2-1 2 2 2 0 2-1 2 0 2 2 2-2 2 1 2-1 2 0 2 2 2-3 2 0 2 0 2 0 2 2 2-1 2 1 2-1 2 0 2 0 2 0 2 0 2-1 2 1 2 0 2 1 2-1 2-1 2-2 2 1 2-2 2 0 2 0 2 2 2 1 2 1 2 0 3 0 2 0 2 1 2-1 2 1 2-1 2 1 2-1 2 1 2 1 2-1 2 0 2-1 2 0 2-1 2 0 2 0 2-3 2 2 2-2 2 1 2 2 2 1 2 0 2 0 2 0 2 0 2 0 2 0 2 0 2-1 2 0 2 2 2-1 2 1 2-1 2-3 2 2 2 1 2 1 3 0 2 0 2-3 2 3 2 0 2-1 2 2 2-2 2 1 2 1 2-1 2-2 2 1 2 0 2 1 2 0 2-1 2 1 2-1 2 0 2-1 2 2 2-2 2 1 2 0 2 0 2-1 2 2 2-1 2-2 2 1 2 0 2-1 2 1 2 0 2 0 2 1 2 1 2-1 2 0 2 0 3 0 2 0 2-3 2 3 2 2 2-2 2 2 2-3 2 3 2-2 2 0 2-1 2 2 2-3 2 3 2-1 2 1 2-2 2 0 2 0 2 0 2 1 2 0 2 0 2-1 2 1 2-1 2 2 2-1 2 1 2 0 2-1 2 1 2 0 2 0 2 0 2 0 2-1 2-2 2 0 3 2 2-4 2 1 2 0 2 2 2-2 2 3 2 1 2 0 2 0 2-2 2 1 2-1 2 1 2 0 2-1 2 0 2 0 2 0 2-2 2 0 2 0 2 2 2-3 2 3 2 1 2 1 2-2 2 2 2 0 2-1 2 0 2 1 2-3 2 3 2 0 2-1 2-1 2 2 2 0 3 0 2 0 2-1 2 1 2 0 2 0 2 0 2-1 2 0 2 1 2 0 2-1 2 0 2 0 2 1 2-1 2 1 2-3 2 2 2 0 2 0 2-1 2 2 2-1 2 1 2-2 2 2 2-5 2 4 2 1 2 0 2-1 2-3 2 2 2 2 2-2 2 2 2 0 2 0 2-1 2-1 3 2 2-1 2-1 2 1 2-1 2 1 2 1 2-1 2-4 2 1 2 3 2-1 2 0 2-1 2 1 2-1 2 0 2-1 2-2 2 2 2-1 2 2 2-1 2 2 2-1 2 1 2-2 2 1 2 2 2-1 2 0 2-2 2 0 2-1 2 4 2-3 2 1 2 1 2-2 2-1 3 2 2-1 2 1 2 0 2 0 2-2 2 3 2-1 2 0 2 1 0-1M750 2657l1-3 1-6 1 2 2-11 1-6 1 6 1 4 1 2 2 3 1-15 1 9 1-10 1 12 2-14 1 13 1-9 1 1 1 9 2 2 1 0 1-7 1 12 1-4 1-12 2 10 1 7 1-3 1-7 1 11 2-5 1 2 1-2 1-1 1 3 2-6 1 3 1 5 1-5 1 2 2 2 1-4 1 0 1-1 1-1 1 1 2-2 1 1 1-2 1 2 1-1 2 3 1 2 1 4 1 1 1 0 2 3 1 0 1 0 1 1 1 2 2-1 1-3 1 3 1-1 1 0 2 3 1-1 1-1 1 2 1 0 2 0 2-1 2 0 2 0 2 0 2 1 2-1 2-1 2 1 3-1 2-1 2 0 2 2 2-1 2-1 2 0 2 1 2-1 2 1 2 0 2 0 2 1 2-1 2-1 2 1 2 1 2 0 2 0 2-1 2 0 2-1 2 1 2-1 2 0 2-1 2-1 2 0 2 1 2-1 2 3 2 1 2 0 2 0 2 0 2-2 2 1 2 1 2 0 2-1 3-1 2 2 2-2 2 2 2-2 2 0 2 0 2 0 2 0 2 2 2 0 2 0 2-2 2 2 2-1 2 0 2 0 2 1 2-1 2 0 2 0 2 1 2 0 2 0 2 0 2 0 2 1 2-2 2 0 2 0 2 0 2 2 2-2 2 1 2 0 2 0 2-2 2 2 2 0 2 0 2-2 3 0 2 2 2-2 2 1 2 1 2-1 2-2 2 3 2-3 2 1 2 1 2 0 2 1 2-1 2 0 2 1 2-1 2 0 2-1 2 2 2 1 2-2 2 0 2 1 2 1 2-3 2 1 2 0 2 0 2 1 2-1 2 1 2 0 2 0 2 0 2-3 2 1 2-2 2 0 2 3 3 0 2 0 2 1 2-1 2-1 2-1 2 1 2 0 2 2 2 0 2-1 2 0 2-1 2-1 2 1 2 0 2 0 2 2 2-1 2 1 2-1 2 2 2-3 2 3 2 0 2-2 2 1 2-1 2 1 2 0 2-2 2 2 2-2 2 2 2-4 2 3 2 0 2 0 2 0 2 0 2 1 3-2 2 2 2 0 2-2 2 2 2 0 2-2 2 2 2-3 2 3 2-2 2 1 2 1 2-1 2 1 2-1 2 1 2 0 2 0 2-1 2 2 2 0 2-1 2 1 2-2 2-2 2 2 2 1 2-1 2 1 2-1 2 1 2-2 2 2 2 0 2 0 2-6 2 5 2 0 2-3 3 4 2 0 2-2 2-1 2 1 2 2 2-1 2 1 2 0 2-1 2 0 2 0 2 1 2 0 2 1 2-1 2-1 2 2 2-1 2-1 2 1 2-1 2 0 2 0 2-1 2 0 2 2 2-1 2-1 2 2 2-2 2 1 2-1 2 0 2 2 2-1 2 1 2-1 2 0 2 1 2-3 3 0 2 1 2 2 2 0 2 0 2-1 2 1 2-1 2 0 2 0 2 0 2 0 2-2 2 3 2 1 2-2 2 2 2-1 2-1 2-1 2 2 2 0 2-1 2 1 2-1 2 1 2-1 2 1 2-2 2 1 2 0 2-1 2 0 2-2 2 1 2-1 2-4 2-4 2 1 2 1 3 4 2 2 2 3 2-1 2 2 2 0 2 0 2 0 2 1 2-1 2-1 2 1 2-1 2 1 2 0 2 0 2-4 2-1 2-1 2-6 2 1 2-1 2-3 2 6 2 0 2 7 2 2 2-3 2 2 2 0 2-1 2 2 2-2 2-1 2 2 2 1 2-1 2 1 2-2 2 1 2-2 3 2 2-1 2 2 2-2 2 2 2-1 2 1 2 0 2 0 2 1 2-1 2 1 2-1 2-1 2 1 2-2 2 3 2-1 2-2 2 0 2 0 2 1 2-1 2 2 2 0 2-1 2 1 2-3 2-2 2 3 2 2 2-2 2 2 2-2 2 2 2 0 2-1 2 1 2-2 2 1 3 1 2 0 2 0 2-2 2 2 2 1 2-2 2-1 2 1 2 2 2-1 2-1 2 1 2-1 2 0 2 0 2 0 2-3 2 4 2-1 2 1 2 0 2 0 2-1 2-1 2 1 2 0 2 1 2-1 2-1 2-2 2 3 2 0 2 1 2 0 2-1 2-1 2 1 2 0 2 1 2-1 3 0 2-1 2-3 2 2 2-1 2 1 2 2 2 1 2-1 2 0 2 0 2-1 2 1 2-1 2 0 2 1 2-2 2-2 2 0 2 1 2-1 2-3 2-1 2 2 2 1 2 1 2 2 2 1 2-1 2 2 2-2 2 2 2-1 2 0 2-1 2 3 2 0 2-2 2 2 2-1 3 1 2-2 2 2 2-1 2 0 2 0 2 1 2 0 2-1 2 1 2-2 2 2 2 0 2 0 2 0 2-1 2-1 2 2 2-2 2 2 2-1 2 0 2 0 2-1 2 1 2 1 2-2 2 2 2-2 2 2 2-2 2 1 2 1 2-1 2 0 2 0 2-1 2 2 2 0 2-1 2 0 3 0 2 1 2-1 2 1 2 0 2 0 2-2 2 1 2 1 2-1 2 0 2-1 2 0 2-1 2 1 2-4 2 3 2 0 2-1 2-4 2 3 2 0 2-2 2 1 2 4 2-2 2 0 2-2 2 1 2-1 2-1 2 1 2 3 2-2 2 2 2-3 2 0 2 0 2 3 2-2 3 1 2 0 2 1 2-3 2 2 2 2 2-2 2 1 2 0 2 1 2-1 2-2 0 4M740 2665l1-1 1-2 1-9 1 4 2-4 1-3 1-8 1-8 1 15 2-9 1 9 1 1 1-5 1 3 1-7 2 7 1 3 1-3 1 3 1-7 2 10 1 0 1-7 1 7 1-7 2 1 1 10 1-5 1 2 1-5 2 8 1 0 1-3 1 2 1 1 1-6 2 9 1-2 1-1 1 0 1-3 2-1 1 0 1 0 1-2 1-4 2 2 1-1 1 1 1 1 1 3 2-1 1 2 1 4 1 0 1 3 1 3 2 1 1-1 1 2 1-1 1 2 2 0 1-1 1-1 1 2 1 1 2-1 1 0 1 0 1-1 1 1 2-1 2-1 2 3 2-1 2-2 3 1 2-2 2 3 2-3 2 1 2 1 2 1 2 0 2-1 2 0 2 0 2 1 2 0 2 0 2-1 2 0 2 0 2 0 2 0 2 0 2 1 2-1 2-1 2 0 2 0 2 2 2 0 2-2 2 0 2 0 2-1 2-3 2 3 2 0 2 0 2 2 2 0 2 0 2 1 2-2 2 0 3 1 2 0 2-1 2 1 2 0 2 0 2-1 2 2 2-1 2 0 2 1 2-2 2 2 2-2 2-3 2 3 2 1 2-1 2-1 2 3 2 0 2-2 2 0 2 2 2-1 2 1 2 0 2 1 2-1 2 0 2-3 2 3 2-1 2 1 2-2 2 1 2 0 2 0 2 1 2-3 3 2 2 0 2-1 2 2 2 0 2-1 2 0 2 1 2 0 2-1 2 0 2 0 2 0 2 1 2-1 2 0 2 1 2-1 2 1 2 0 2-1 2 1 2 0 2 0 2 0 2-2 2 2 2 1 2-1 2 0 2 0 2-2 2 2 2-2 2 2 2-1 2-1 2 1 2-1 2 0 2-2 3 2 2 1 2-1 2 1 2 1 2 0 2-1 2 1 2 0 2-1 2 1 2 0 2-1 2-3 2 0 2 0 2-3 2 3 2 0 2-1 2 3 2 2 2-2 2 3 2-1 2-1 2 1 2 0 2-1 2 1 2-1 2 0 2-3 2 4 2-2 2 2 2-1 2 1 2-1 2-1 3 1 2 0 2 0 2 0 2 0 2 1 2-2 2 1 2 1 2 0 2-2 2 0 2 1 2 1 2-2 2 3 2 0 2-1 2-1 2 0 2 1 2 0 2-3 2 2 2 1 2-2 2 2 2-1 2 1 2 0 2 0 2-1 2 0 2 1 2 0 2 0 2-2 2 2 2-1 2-1 2 1 3 0 2 0 2-1 2 1 2-1 2 0 2 1 2-1 2 1 2 0 2 1 2-1 2 1 2 0 2-2 2 2 2 1 2-1 2 0 2 1 2-5 2 1 2 2 2-3 2 1 2-2 2 2 2-3 2 3 2 2 2 0 2 0 2 1 2 0 2 0 2-2 2 1 2 0 2 1 2-1 3 0 2 1 2 0 2 0 2-3 2 1 2 0 2 2 2 0 2-2 2 2 2 0 2 0 2 0 2 0 2-1 2 1 2 0 2 1 2 0 2-1 2-1 2 1 2 0 2-1 2 1 2 0 2-1 2 0 2 0 2 1 2 0 2-3 2 1 2 1 2-4 2 2 2-3 2 0 2-1 2-1 3 1 2 2 2 1 2 1 2 1 2 1 2-1 2 2 2-1 2 0 2 1 2-2 2 3 2-2 2 1 2 0 2-1 2-2 2-1 2-2 2-1 2-2 2-6 2 0 2 0 2 2 2 5 2 5 2 0 2 2 2 0 2 0 2 0 2 1 2 0 2-1 2-1 2 1 2 0 2 1 3 0 2-1 2 1 2 0 2 0 2 0 2 1 2-2 2 1 2 0 2-2 2 3 2 0 2-2 2 0 2 1 2 0 2-1 2 1 2 0 2-3 2 3 2-1 2-2 2 3 2-2 2 2 2-1 2-2 2 3 2-1 2 0 2 1 2 0 2-2 2 2 2 0 2-1 2 1 2 0 2-1 3 2 2-1 2 1 2 0 2 0 2-1 2-1 2 1 2-1 2 1 2 1 2 0 2-2 2 1 2 0 2-1 2 1 2-1 2 1 2-1 2 1 2-3 2 1 2 1 2-1 2 0 2 1 2-1 2 1 2 0 2 1 2-1 2-1 2 2 2-1 2-1 2 2 2-1 2 0 2 0 3 2 2-2 2 0 2 0 2-3 2-1 2 1 2-2 2 2 2 3 2 1 2 0 2 0 2-2 2 1 2-1 2 0 2-2 2 1 2 2 2-4 2 3 2-3 2-1 2 0 2-2 2-1 2 3 2 1 2 2 2 2 2-1 2 1 2-1 2 2 2-2 2 2 2-1 2 2 2-2 2 2 3-1 2 0 2 0 2-1 2 0 2-2 2 1 2 1 2-1 2 1 2 1 2 0 2-4 2 2 2 2 2 0 2 0 2 0 2-2 2 1 2-1 2 1 2 0 2 0 2 0 2 1 2-2 2-2 2 4 2 0 2 0 2 0 2-2 2 2 2-3 2 2 2-3 2 4 2-1 2 1 3-1 2 0 2 0 2 1 2-1 2 1 2-1 2-1 2-2 2 4 2-3 2 3 2-3 2 0 2 0 2 0 2 1 2-2 2 1 2 0 2-4 2-1 2 2 2-6 2 1 2 7 2-2 2 1 2 1 2 2 2-3 2 2 2-1 2-1 2 2 2-2 2 0 2-5 2 8 2-7 2 3 3 2 2 1 2 0 2 1 2 0 2-9 2 7 2 0 2 0 2-3 2 2 2-2 2 4 2 0M729 2674l1-7 2-6 1-7 1 7 1-10 1 8 2 1 1-12 1-3 1 9 1 1 2-9 1 14 1-3 1 6 1 0 2-3 1-2 1 2 1-2 1-1 2 9 1-10 1-4 1 7 1-1 1-3 2 10 1-2 1-11 1 13 1-3 2 4 1 3 1-5 1-1 1-3 2 9 1-5 1 1 1 4 1-4 2 0 1 0 1-6 1 1 1-2 1 0 2 0 1 2 1 2 1 1 1-1 2 2 1 4 1 1 1 1 1 2 2 1 1 1 1 1 1-2 1 3 2-2 1 2 1-1 1-1 1 2 1 0 2-1 1 0 1 1 1 0 1-2 2 2 2 0 3 0 2 0 2-2 2 0 2 3 2-1 2 0 2 0 2 0 2-2 2 2 2 0 2 0 2-1 2 0 2 1 2 1 2-1 2-3 2 2 2-2 2 2 2 0 2 1 2-2 2 2 2 0 2-3 2 1 2 1 2-1 2-5 2-1 2 1 2 0 2-1 2 4 2 3 2 0 2-2 2 3 3 0 2-1 2 2 2-4 2 3 2 1 2-2 2 0 2 2 2-5 2 4 2 1 2-1 2 0 2 0 2-1 2 0 2 1 2-2 2 2 2-1 2-2 2 2 2-4 2 4 2 0 2 0 2 0 2 0 2-1 2 1 2 1 2 0 2 0 2 1 2-1 2 0 2 0 2-1 2 1 3-2 2 1 2 0 2 1 2-1 2 0 2 1 2 0 2 0 2 0 2 0 2-1 2 1 2-1 2-1 2 1 2-1 2 1 2 1 2-2 2-1 2 3 2 0 2-1 2 0 2 0 2-1 2 2 2-1 2 0 2 0 2 0 2 0 2 0 2-1 2 1 2 2 2-2 2 1 2-1 2-2 3-1 2-1 2 1 2 3 2-1 2 3 2-3 2 1 2 1 2 1 2-1 2-1 2 1 2-1 2 0 2-3 2 1 2-1 2 0 2 0 2 2 2 1 2 0 2 0 2 0 2 1 2 0 2 0 2 0 2-1 2 1 2 0 2-1 2 2 2-1 2 1 2-2 2 1 2 1 2-1 3 0 2 0 2 0 2 0 2 0 2 0 2-1 2 0 2 0 2-2 2 1 2 2 2-2 2 2 2-2 2 2 2-2 2 2 2-2 2 2 2 0 2 0 2-2 2 0 2 1 2 0 2 1 2-1 2 0 2 1 2 1 2-1 2 0 2-1 2 1 2 0 2 0 2-1 2 2 2 0 2 0 3-2 2 0 2 1 2 0 2 0 2-1 2 0 2 0 2 1 2-1 2 0 2 1 2-1 2 1 2-1 2 0 2-3 2 3 2 0 2 1 2-2 2 2 2-1 2 0 2-2 2 1 2 0 2-1 2 0 2 0 2 0 2 3 2 0 2 0 2 0 2 0 2-1 2 0 2 1 2 0 3 0 2 0 2-1 2 1 2 0 2 0 2 0 2 0 2-3 2 0 2 3 2-1 2-2 2 2 2 1 2 0 2 0 2 0 2-1 2-2 2 3 2-1 2 1 2 1 2-1 2 0 2 0 2 0 2-3 2 3 2 0 2 1 2-2 2 0 2 1 2-2 2 2 2-4 2-1 2-2 2 3 3-8 2 4 2 0 2-2 2-6 2 8 2 4 2 2 2 0 2 2 2 0 2-1 2 1 2-2 2 1 2 1 2 0 2-2 2 1 2-3 2-2 2-2 2-3 2-6 2 0 2-4 2-1 2 1 2 12 2 4 2 2 2 3 2 0 2 0 2-1 2 1 2 0 2-2 2 1 2 0 3 1 2-2 2 1 2-2 2 3 2-2 2 2 2 0 2-1 2-1 2 2 2 0 2-1 2 0 2-1 2 0 2 2 2-2 2 1 2-1 2 3 2-1 2 1 2 0 2 0 2-2 2 0 2 1 2 0 2-2 2 1 2 2 2-1 2-2 2 2 2-1 2-1 2 2 2 0 2-2 2 2 3 0 2 0 2 0 2 0 2-2 2 0 2 2 2-2 2 0 2 2 2 0 2 0 2 0 2-1 2 1 2-1 2 1 2 0 2 1 2-3 2 2 2 1 2-2 2 1 2 0 2 0 2-1 2 1 2 0 2-2 2 2 2-1 2 0 2 0 2 1 2 0 2-1 2 0 2 0 2-1 3-1 2 3 2-2 2-2 2 0 2 0 2-3 2-1 2 0 2 2 2 1 2 1 2 3 2 0 2-1 2 1 2 0 2 0 2 0 2-1 2 0 2-1 2-1 2-1 2 0 2-5 2-1 2 1 2 2 2 2 2-1 2 3 2 3 2 1 2-2 2 0 2 2 2-1 2 0 2 0 2-2 3 1 2 0 2 1 2 1 2-1 2 0 2-1 2-3 2 2 2 0 2 2 2-2 2 1 2 2 2 1 2-1 2 1 2-2 2 1 2 0 2-1 2 2 2-1 2 0 2-1 2 1 2 1 2-2 2 0 2 1 2 0 2 0 2 0 2 0 2-1 2-1 2 1 2 0 2-1 2 2 3 0 2-2 2 0 2 2 2-1 2 1 2-4 2 3 2 1 2-2 2 1 2-2 2 2 2-2 2 3 2-1 2-2 2 0 2 3 2-3 2 0 2-1 2-1 2 1 2-3 2-1 2 1 2 4 2-2 2 2 2-4 2 1 2 2 2-2 2-1 2 3 2 1 2-3 2-3 2 5 3 1 2 0 2-6 2 4 2-3 2-4 2 8 2-2 2 3 2-1 2 1 2 1 2-5 2 5 2-2 2 0 1 1M719 2682l1-4 1-5 2 2 1-3 1-20 1 18 1-14 2-1 1 11 1-16 1 3 1 14 1-1 2-13 1 3 1 7 1 3 1-1 2 7 1-8 1 1 1 0 1-2 2 0 1-10 1 18 1-7 1 10 2-2 1-6 1 3 1 9 1-6 1 1 2-6 1 10 1-7 1 4 1-3 2 3 1 2 1-2 1 0 1-1 2-7 1 5 1-2 1-4 1 2 2-1 1 0 1 2 1 2 1 1 2 1 1 4 1 1 1 0 1 2 1 2 2 0 1 2 1-1 1 1 1 0 2 1 1-1 1 0 1 1 1-2 2 2 1-1 1 1 1 0 1-1 2 0 2 1 2 1 2 0 2-1 2 1 2-2 2-1 2 3 2 0 2-2 2 2 2-2 2 0 2 1 2 0 2-1 2-1 2 2 2-1 2 1 2-1 2 1 2-1 2 1 2 0 2-2 2 1 2 0 2 0 2 0 2 0 2 0 2-4 2-1 2-3 2 2 2 1 2 3 2 1 3 2 2 0 2-2 2 3 2-2 2 1 2 0 2 0 2-2 2 0 2 2 2-2 2 3 2-1 2 0 2-2 2 0 2 1 2 1 2-1 2 1 2 0 2 0 2 0 2-1 2 1 2-2 2 0 2 2 2-3 2 1 2 1 2-1 2 0 2 2 2-2 2 1 2-2 2 2 2 2 2-2 3 2 2-1 2-1 2 1 2-1 2 1 2 1 2-2 2-1 2 2 2 0 2 0 2-1 2-1 2 2 2-1 2 1 2-1 2-1 2 2 2 0 2 0 2-2 2 1 2 0 2 0 2-2 2 3 2-4 2 2 2 0 2 2 2-1 2 1 2 0 2-2 2 1 2 1 2 0 2 0 3-1 2 0 2-1 2-5 2 4 2 2 2 1 2-2 2 2 2 0 2 0 2-1 2 1 2-1 2 1 2 0 2-2 2 0 2 0 2-3 2-4 2 3 2 0 2 3 2 0 2 3 2 0 2-1 2 1 2 0 2 0 2-2 2 2 2-2 2 1 2 0 2 0 2 2 2-1 2 0 2-2 3 3 2-1 2-1 2 1 2-1 2-1 2 2 2 1 2-2 2 0 2 2 2-1 2 0 2 0 2-2 2 0 2 2 2-1 2 0 2-1 2 0 2 1 2 1 2 0 2 0 2-1 2 1 2-1 2 1 2-1 2-1 2 3 2 0 2-2 2-1 2 2 2-1 2 1 2 1 2 0 3-3 2 0 2 2 2-2 2-1 2 4 2-2 2 1 2 1 2-1 2 0 2 1 2-3 2 1 2-1 2 2 2 0 2 0 2-1 2 1 2-3 2 3 2 0 2-1 2 1 2 0 2-2 2-1 2 1 2 0 2-3 2 4 2 0 2 1 2 0 2 0 2 0 2 0 2 0 2-1 2-1 3 2 2 0 2-2 2 2 2-1 2 0 2 1 2-2 2-1 2 3 2 0 2-1 2 1 2-1 2 0 2 0 2 1 2-2 2 2 2-1 2 0 2 1 2-1 2 0 2 1 2-3 2 2 2 1 2 1 2 0 2-1 2-1 2 1 2 1 2-2 2 1 2-1 2 2 2-3 2 1 3-2 2-2 2 0 2 0 2 2 2-4 2 2 2-2 2 2 2 0 2 1 2 1 2 1 2 2 2 0 2-2 2 0 2 1 2 0 2 0 2 0 2-1 2-4 2-3 2-3 2-4 2-4 2 1 2-2 2-4 2 9 2 7 2 5 2 4 2 0 2 1 2 0 2 0 2-4 2 3 2 1 3-2 2 0 2-1 2-1 2 3 2-1 2 1 2-1 2 0 2 1 2-1 2-1 2 2 2-2 2 1 2 0 2-1 2 2 2-2 2 1 2 1 2 0 2 0 2 0 2-1 2 2 2 0 2-2 2 2 2 0 2 0 2-2 2 2 2 0 2 0 2 0 2 0 2-2 2-1 2 3 3 0 2-3 2 1 2 0 2 0 2 0 2-1 2 1 2 0 2 0 2 0 2 1 2-1 2 1 2 0 2 0 2-2 2 2 2-2 2 1 2-1 2 3 2-1 2 0 2 0 2 0 2 1 2-1 2 0 2-2 2-1 2 3 2-1 2 1 2 1 2-2 2 2 2-1 2-1 2 1 2 0 3 0 2-1 2 1 2-2 2 1 2-1 2-1 2-4 2 1 2-1 2 1 2 3 2 0 2 1 2 2 2-1 2 1 2-2 2 2 2-3 2 2 2-2 2-2 2-1 2 2 2-5 2-1 2 0 2-3 2-1 2 6 2 2 2 1 2 1 2 4 2 0 2 0 2 0 2 0 2 0 3-2 2 1 2 1 2 0 2 0 2-1 2 0 2-1 2 0 2-1 2 1 2-1 2 1 2 1 2 1 2 0 2-2 2 0 2 1 2 1 2-2 2 2 2 0 2 1 2-2 2 1 2 0 2 0 2 0 2 1 2 0 2-2 2 1 2 0 2-1 2-1 2 0 2 1 2-1 2 1 2 1 3-1 2 0 2 0 2 1 2-1 2-1 2 2 2-3 2 0 2 0 2 2 2-1 2 0 2 0 2-1 2 1 2 1 2-1 2-1 2-2 2 1 2 1 2 0 2-1 2-3 2-1 2-2 2 4 2-1 2 0 2 4 2-6 2 5 2-2 2-4 2 2 2 4 2 0 2-1 2 0 3-2 2 2 2 0 2-2 2-1 2 4 2-1 2-3 2 3 2 0 2 2 2-2 2-2 2 0 2 0 2 1 2 0 2-1 1 5M709 2690l1-4 1-15 1 8 1-14 2 1 1 6 1-9 1-3 1 14 2-4 1-14 1 21 1-8 1 6 2-7 1-7 1 9 1 10 1-1 2 4 1-12 1 1 1 6 1-2 1-4 2 1 1 7 1-1 1 2 1-10 2 11 1 0 1 4 1-7 1 7 2 0 1-3 1 1 1 3 1-5 2 3 1-7 1 7 1 0 1-8 1 5 2-1 1-2 1-1 1-2 1 3 2-4 1 3 1 2 1 0 1 4 2-1 1 2 1 2 1-1 1 3 2 0 1 1 1 1 1 0 1 1 1-1 2 1 1-1 1-1 1 2 1 0 2 0 1 0 1 0 1 0 1-1 2 0 1 1 2-1 2 1 2 0 2-2 2 2 2 1 2-1 2 0 2-1 2 2 2 0 2-1 2-3 2 1 2 3 2-1 2-1 2 1 2-1 2 1 2 0 2 0 2-2 2 0 2 0 2 2 2-1 2-1 3 0 2 0 2-2 2 1 2-5 2 0 2-2 2 5 2 3 2 0 2 2 2-1 2 1 2-2 2 1 2 1 2-1 2 1 2 0 2 0 2 1 2-2 2 0 2 0 2 1 2 0 2 0 2 0 2 0 2-1 2 0 2 0 2 0 2 1 2-1 2-1 2 1 2-1 2 1 2 0 2 0 3 0 2 1 2-1 2 0 2 0 2 0 2 1 2 0 2 1 2-2 2 2 2 0 2-3 2 2 2-2 2 1 2 0 2 0 2 1 2 1 2-2 2 1 2 0 2 0 2 1 2-3 2 3 2-2 2 0 2 1 2 0 2 0 2-2 2 1 2-1 2 1 2 0 2 0 2 0 2-1 3 1 2 0 2 1 2-2 2 2 2-1 2 1 2 0 2 0 2-7 2 4 2-1 2-2 2 4 2 0 2 2 2 0 2 0 2 0 2-1 2 0 2 1 2 0 2 0 2-2 2 2 2 0 2-3 2-1 2-4 2 4 2-2 2 2 2-1 2 4 2 1 2 0 2 0 2-2 2 2 2 0 3-2 2 2 2 0 2 1 2-2 2 2 2-1 2-2 2 2 2 1 2 0 2-2 2 1 2 1 2-1 2-1 2 2 2-2 2-2 2 3 2-2 2 1 2 1 2-1 2 1 2 0 2-1 2 1 2-2 2 0 2 2 2 0 2-1 2 0 2 0 2 1 2 0 2 1 2-1 2-2 3 2 2 0 2 1 2-2 2 2 2 0 2-1 2 1 2 0 2-2 2 2 2-1 2-1 2 1 2-2 2 2 2 0 2-1 2 1 2 0 2 1 2-2 2 0 2 0 2 0 2 1 2 0 2-1 2-2 2 3 2-1 2 1 2-2 2 1 2-2 2 0 2 0 2-1 2 1 2-2 2 1 3 3 2-1 2 3 2-1 2 1 2-2 2-1 2 0 2 2 2-1 2 1 2 1 2-1 2 0 2-1 2-1 2 2 2 0 2 0 2-1 2 1 2 0 2 0 2-1 2 1 2-3 2 0 2 1 2 2 2-2 2 1 2 1 2 0 2-1 2 0 2 0 2 1 2-2 2 1 2 1 3 0 2 0 2-2 2 2 2 1 2-2 2-2 2 3 2-4 2 0 2-6 2 2 2 2 2 2 2-3 2-6 2 4 2 0 2 4 2 0 2 2 2 3 2-2 2 2 2-2 2 0 2 2 2-2 2 0 2-2 2 1 2-3 2-4 2-5 2 3 2-3 2-14 2 2 2-3 2 13 2 2 3 8 2 4 2 3 2 1 2 0 2-3 2 3 2-1 2 0 2 0 2-1 2 1 2-3 2 1 2-2 2 4 2-2 2 2 2-2 2 1 2 0 2 0 2-2 2 3 2-1 2-1 2 2 2 0 2-1 2 0 2 2 2 0 2 0 2-1 2 0 2 1 2-3 2 3 2-2 2 1 3 0 2-1 2 1 2 0 2 0 2 0 2-1 2 2 2-1 2-1 2 1 2-1 2 1 2 0 2 0 2-1 2 1 2-1 2 0 2-1 2 2 2-1 2-2 2 3 2-1 2 1 2-1 2 1 2 0 2-1 2 1 2 0 2-1 2 2 2 0 2-1 2 1 2 0 2-2 2 2 2-1 3-1 2 1 2-1 2 0 2 1 2-2 2 1 2 0 2 0 2 0 2-1 2 0 2 2 2-1 2-1 2-2 2-1 2-3 2 2 2-1 2 2 2 2 2 3 2-1 2 1 2 0 2-2 2 2 2-1 2-1 2-2 2 0 2 0 2 0 2 1 2-3 2-1 2-1 2 0 2-4 3 3 2 4 2 0 2 3 2 2 2-1 2 1 2 0 2 0 2 1 2-1 2-1 2-1 2 2 2-1 2 1 2-1 2 0 2-1 2-2 2 1 2 2 2 0 2 0 2 1 2 0 2 0 2 0 2-1 2 1 2 1 2-2 2 1 2 0 2-1 2-1 2 1 2-1 2 3 2-2 2 2 3 0 2-1 2 1 2 0 2-3 2 2 2 0 2 0 2-4 2 4 2 0 2-1 2 0 2 1 2-2 2-1 2 1 2 0 2 1 2-1 2 1 2 1 2-1 2-1 2-2 2 3 2 0 2-2 2 1 2-1 2-1 2 2 2-4 2 0 2-4 2-4 2 2 2 5 2 0 2 1 3 0 2-3 2 5 2-5 2-1 2 4 2-1 2-4 2 1 2 4 2 1 2 0 2 1 2-2 2 0 2 3 2-4 2 2 2 0 2 2 2-4 2 2 2-2 2 5 2-4 2 3 2-1 2-3M698 2697l2-3 1-8 1-10 1 9 1 3 2-5 1 3 1-1 1-2 1-1 2-5 1 8 1 1 1-4 1-12 1 2 2-3 1 14 1-3 1 7 1-1 2-6 1 5 1-6 1-3 1 6 2-6 1 15 1-5 1 4 1 1 2 2 1-6 1 4 1-7 1 7 1 1 2-1 1 1 1 0 1-1 1-4 2 2 1 6 1-9 1 0 1 3 2-2 1-2 1 0 1-2 1-2 2 0 1 1 1 1 1 3 1 3 1 0 2 3 1 2 1 0 1 2 1 1 2 2 1 0 1 1 1 0 1 0 2-2 1 2 1 0 1 0 1 1 2-1 1 0 1 1 1-2 1 2 1-2 2 2 1-3 2 1 2 2 2-1 2 1 2-3 2 2 2 0 2-1 2 1 2-1 2 0 2 1 2 1 2-1 2 1 2-2 2 1 2 0 2 0 2-1 2 1 2 0 2 0 2-1 2 1 3 0 2 0 2-1 2-1 2 0 2-5 2 2 2-6 2 2 2 3 2 4 2 0 2 1 2 0 2-2 2 4 2 0 2-1 2 1 2 0 2-2 2 0 2-1 2 3 2-4 2 3 2 0 2 1 2-1 2 0 2 0 2 0 2 0 2 0 2 0 2 0 2 0 2 0 2 0 2 0 3 0 2 0 2 0 2-1 2 1 2-1 2 1 2-1 2 1 2 1 2-1 2-1 2-1 2 0 2-1 2 2 2 0 2 2 2 0 2-1 2 0 2 0 2 1 2-2 2 1 2-1 2 1 2 1 2-3 2 3 2-1 2-2 2 2 2-1 2 1 2-1 2 0 2-2 2 3 2 0 2-1 3 2 2-1 2-1 2 1 2-2 2 3 2-2 2 2 2-1 2 0 2-3 2 0 2-2 2 3 2-2 2 2 2 0 2 2 2 1 2-1 2-1 2 1 2 1 2-2 2-3 2 1 2 3 2-1 2-2 2-1 2 2 2-4 2-1 2 1 2-4 2 4 2 3 2 2 2-1 2 0 3 1 2 0 2 1 2-1 2 2 2-3 2 3 2-2 2 0 2 2 2-1 2 1 2-1 2 1 2 0 2-1 2 0 2-1 2 2 2 0 2-2 2 0 2 0 2 0 2 1 2-1 2 0 2 1 2-1 2 1 2 0 2-3 2 3 2-1 2-2 2 3 2 0 2 0 2-1 2-1 2 1 3 0 2 2 2-1 2-4 2 5 2-1 2-1 2 2 2-2 2 2 2-1 2 0 2 0 2 1 2 0 2-1 2 1 2-1 2 0 2-1 2 0 2 0 2 1 2-2 2 2 2-2 2 1 2 1 2 0 2-2 2 2 2-2 2 1 2 1 2-1 2 1 2-2 2 0 2-1 2-2 3 0 2 2 2 1 2 2 2 0 2 1 2-1 2 0 2 1 2-2 2 2 2-3 2 3 2-1 2 0 2 0 2 0 2 0 2 0 2 0 2 0 2 0 2-2 2 0 2 2 2-1 2 0 2 1 2-3 2 4 2-2 2 1 2-2 2 1 2 2 2-1 2-2 2 3 2-1 2 0 2 1 3-1 2-1 2 2 2 0 2-1 2-1 2 1 2 0 2-1 2 0 2-2 2-5 2 5 2 0 2-1 2 0 2 0 2-4 2-5 2-12 2 12 2 4 2 3 2 4 2 2 2-1 2 1 2 0 2 0 2-1 2-1 2-1 2-3 2-10 2 3 2-8 2 1 2-4 2-3 2-8 3 8 2 2 2 12 2 8 2 2 2 2 2 1 2 0 2 0 2 1 2 0 2-1 2 0 2 0 2 0 2-1 2 1 2 0 2 0 2-2 2 0 2-3 2 3 2-1 2 3 2-2 2 0 2 2 2-1 2 0 2 2 2-1 2-4 2 2 2 1 2 1 2 0 2 1 2-1 2 0 2 0 3-1 2-1 2 3 2-2 2 0 2 1 2 1 2-2 2 1 2-1 2 1 2-2 2 2 2-1 2 1 2-1 2 0 2 0 2 1 2 0 2-2 2 0 2 2 2 0 2 0 2-3 2 3 2-1 2 1 2-1 2 1 2 0 2 1 2-4 2 4 2-1 2-1 2 1 2 0 2 1 3 0 2 0 2-3 2 3 2-1 2-2 2 1 2 1 2-3 2 3 2 0 2 0 2 0 2-1 2 0 2-1 2 2 2-4 2-2 2-2 2-2 2 1 2 5 2 2 2 1 2 0 2 0 2-1 2 3 2-1 2 0 2-1 2-4 2 1 2-2 2-4 2-3 2 1 2-2 2-8 2 5 3-4 2 7 2 0 2 0 2 5 2 4 2 4 2-1 2 2 2-3 2 2 2 0 2 0 2 0 2 1 2 0 2 0 2-1 2-1 2 1 2-3 2-1 2 1 2 1 2 2 2-1 2 3 2-1 2-1 2 1 2 0 2 0 2 1 2-1 2 0 2 1 2 0 2-1 2 1 2-1 3 0 2 0 2 0 2-2 2 1 2 1 2-2 2 1 2 0 2 0 2-1 2 2 2 0 2 0 2-3 2 1 2 1 2 0 2 0 2-1 2 2 2 0 2-4 2 1 2 3 2-1 2 1 2-1 2 1 2-2 2-1 2 1 2-2 2 3 2-4 2 1 2-2 2-6 2 2 2 2 2 2 3 3 2-9 2 9 2-4 2-6 2 8 2-4 2 3 2-2 2 4 2-2 2 1 2-4 2 2 2-2 2 0 2 5 2-2 2-3 2 3 2 1 2-2 2 1 2 1 2 1 2 0 2 0 2-3 2 0 1 3M688 2704l1-1 1-10 2-1 1 0 1 2 1-1 1-14 2 12 1 4 1-13 1 9 1-3 2-2 1-3 1-2 1 0 1 9 2 2 1 2 1-4 1-13 1 15 1-3 2 8 1-11 1 9 1-17 1 13 2 7 1-1 1 2 1-3 1 2 2 3 1-9 1 10 1-5 1 1 2 1 1 0 1 3 1-5 1 1 2 2 1-4 1-1 1 1 1 1 1-7 2 0 1 1 1-2 1-4 1 2 2 0 1 0 1 1 1 6 1 2 2 2 1 1 1 4 1 1 1 1 2 2 1-1 1-1 1 3 1 0 1-2 2-1 1 4 1-4 1 3 1 0 2 1 1-3 1 2 1 0 1 0 2-1 1 0 1 1 2-2 2 2 2 0 2 1 2 0 2 0 2 0 2-1 2 0 2 0 2 1 2 0 2 0 2-2 2 2 2 0 2 0 2-2 2 1 2 0 2 1 2 0 3-2 2 2 2-3 2 2 2-2 2 2 2-4 2 0 2-5 2 0 2-1 2 4 2 2 2 1 2 3 2 1 2-1 2 0 2-1 2 0 2 1 2 0 2 1 2 0 2-1 2-2 2 2 2 0 2 1 2-1 2 0 2 0 2-2 2 1 2 1 2-1 2 1 2 0 2-1 2 2 3 0 2-1 2 0 2 0 2 0 2 1 2-1 2 0 2 0 2 0 2-1 2 0 2 2 2-1 2-1 2 1 2 1 2-1 2 0 2 1 2-1 2 1 2 0 2-1 2 1 2-1 2 1 2 0 2-3 2 3 2-1 2 0 2-4 2 2 2 1 2 2 2-1 2 1 2-1 2 0 2 0 3 0 2-1 2-1 2 2 2 0 2 1 2-1 2 0 2-1 2 1 2 0 2 0 2-1 2-1 2-4 2 0 2 3 2 0 2 2 2 1 2 1 2-3 2 2 2 0 2 0 2 0 2-1 2 2 2-1 2 0 2 0 2 0 2-4 2 1 2-1 2-2 2 3 2-1 2 3 2 0 3-1 2 1 2 1 2-1 2 1 2 0 2 0 2-1 2 2 2-2 2 1 2 0 2 1 2-1 2-1 2 2 2 0 2 0 2-1 2 1 2-1 2 1 2 0 2-1 2-1 2 1 2 1 2 0 2-2 2 2 2-1 2 1 2 0 2-1 2-3 2 3 2 0 2-1 2-2 2 2 2 2 3-4 2 3 2 0 2-1 2 2 2-1 2-1 2 2 2-1 2 1 2-2 2-1 2 0 2 1 2 1 2 0 2 1 2 0 2 0 2-1 2 1 2 0 2 0 2-1 2 0 2 1 2-1 2 1 2-1 2-1 2 1 2-1 2 1 2-4 2 3 2-1 2 2 2-3 2 0 2 0 3-6 2 4 2 1 2 0 2 1 2 2 2 0 2 1 2-1 2-1 2 3 2 0 2 0 2-1 2 1 2-1 2 1 2-2 2 1 2-1 2 0 2 1 2 0 2 0 2 0 2 1 2-1 2-1 2-1 2 2 2 0 2 0 2-3 2 3 2-2 2 2 2 0 2 0 2-3 2 4 2-2 3 1 2 0 2-1 2 0 2 1 2 1 2 0 2-1 2-1 2 2 2-2 2 0 2-2 2 1 2-3 2 2 2 1 2 0 2-2 2-1 2-5 2 1 2-2 2 1 2 0 2 6 2 3 2 0 2 0 2 0 2 0 2 1 2-1 2-2 2-5 2-9 2 3 2-4 2-2 2-2 3-9 2-5 2 2 2 6 2 15 2 7 2 4 2 2 2 1 2 0 2 0 2 0 2-2 2 1 2-2 2 1 2 1 2 1 2-2 2 1 2 0 2-2 2 1 2-1 2 2 2 1 2-1 2 0 2 0 2-1 2 0 2 1 2-1 2 0 2 0 2 1 2-1 2 0 2 1 2-1 2 1 3 0 2 1 2-3 2 3 2 0 2 0 2 0 2-2 2 1 2 1 2-1 2 1 2-3 2 2 2 0 2 0 2 0 2 0 2 1 2-1 2-3 2 3 2-1 2 0 2 1 2 0 2 0 2 0 2-1 2 1 2-2 2 2 2 1 2-2 2 0 2 1 2 1 2-1 2 0 2-4 3 4 2 0 2 0 2 0 2 1 2-1 2 0 2 1 2 0 2-1 2 1 2-4 2 4 2 0 2 0 2-2 2 1 2-2 2-1 2 0 2-6 2-2 2 4 2 0 2 4 2 2 2 1 2 0 2-1 2 1 2-1 2 1 2-2 2-3 2 2 2-3 2-3 2 0 2-5 2 4 2-6 3 0 2-8 2 7 2 4 2-1 2 7 2 0 2 1 2 5 2-3 2 2 2 3 2-3 2 3 2-1 2-1 2 1 2 0 2 0 2-1 2-1 2 0 2-3 2 0 2 0 2 1 2 3 2 1 2-2 2 0 2 2 2 1 2-1 2 1 2 0 2-1 2 1 2-3 2 1 2-1 3 3 2-1 2 0 2 0 2 1 2-2 2 1 2-1 2 2 2-2 2 0 2 2 2-1 2 0 2 0 2-1 2 0 2 0 2 0 2 1 2-2 2 1 2 0 2 1 2-2 2 1 2 1 2 0 2-2 2 1 2-2 2 1 2-1 2 2 2-2 2 1 2 0 2-5 2 0 2 0 3 0 2 1 2 2 2-2 2 2 2-4 2 3 2 2 2-9 2 3 2 3 2-3 2 3 2 2 2-5 2-1 2 6 2-6 2 2 2 3 2-11 2 6 2 6 2-3 2 4 2-1 2-2 2 3 2-4 2 0 2 3 2 0 1 0M678 2711l1-7 1 3 1-3 2-4 1-8 1-13 1 10 1 7 2 5 1-13 1 5 1 0 1 1 1-3 2 11 1-9 1 5 1-1 1-5 2 10 1 4 1-9 1-2 1 6 2-1 1 3 1-7 1 8 1 4 2-2 1-6 1 9 1 2 1-16 1 11 2-1 1 7 1-1 1-1 1-6 2 7 1-4 1 0 1 3 1-2 2 2 1-7 1 2 1 0 1-1 2 0 1-7 1 2 1-1 1-1 1-2 2 3 1 3 1 3 1 0 1 2 2 2 1 2 1 0 1 2 1 0 2 1 1 2 1 1 1 0 1 0 2 0 1 1 1-1 1 1 1-2 2 2 1 0 1 0 1-2 1 1 1 0 2 1 1-1 1 1 2-1 2-1 2 2 2-1 2 1 2-1 2-2 2 1 2 2 2 0 2-1 2-1 2 1 2 1 2-2 2 2 2-3 2 2 3-1 2 1 2-1 2 0 2 1 2 0 2 0 2 0 2-1 2-1 2-3 2-3 2-1 2-5 2 9 2 0 2 4 2 1 2 1 2-1 2-1 2 2 2 0 2 0 2-2 2 1 2 1 2-1 2 1 2-1 2 1 2-1 2-2 2 3 2 0 2-3 2 2 2 0 2 1 2-1 2 0 3 1 2-3 2 1 2-2 2 0 2 1 2 2 2-1 2 0 2 0 2 1 2 1 2-2 2 2 2-1 2-1 2 2 2-1 2 1 2-1 2-2 2 3 2 0 2-2 2 1 2 1 2-3 2 2 2 1 2-2 2 1 2 0 2 0 2-1 2 1 2 0 2 0 2 0 2-1 2 0 3 1 2 1 2-1 2 0 2 0 2 1 2 0 2-2 2 0 2 2 2-1 2 1 2 0 2-3 2 0 2 1 2-4 2-3 2 6 2 0 2 0 2 3 2-2 2 1 2 0 2 1 2-2 2 1 2 1 2-2 2 1 2-2 2 1 2 1 2 0 2-2 2-3 2-1 2 1 2-1 2 2 3 1 2 2 2 0 2 1 2-1 2 0 2 1 2-2 2 3 2-2 2 2 2 0 2 0 2-1 2 1 2-2 2 2 2 0 2 0 2 0 2-1 2 1 2-1 2 1 2-1 2-1 2 2 2 0 2-1 2 1 2-5 2 4 2-3 2 2 2 1 2 0 2-1 2-1 2 2 2-1 3 0 2 0 2 0 2 1 2 1 2 0 2-2 2 1 2 1 2-2 2 2 2 0 2-2 2 1 2 1 2-1 2-1 2 2 2 0 2-4 2 4 2 0 2-1 2 1 2 0 2-1 2-1 2-1 2 2 2 0 2 1 2-1 2-1 2 0 2-1 2-1 2 3 2-1 2 0 2-1 2 0 3-2 2-1 2 1 2-3 2 5 2 1 2 1 2 1 2 0 2-2 2 0 2 2 2-1 2 0 2 1 2-1 2 1 2-3 2 0 2 3 2-2 2 2 2-1 2 1 2-1 2-2 2 2 2 0 2-1 2 1 2-1 2 1 2-1 2 1 2-1 2-1 2 0 2 2 2 0 2 1 3-2 2 1 2 0 2 0 2 0 2 0 2-2 2-1 2 3 2 0 2 1 2-1 2 1 2-2 2-2 2-1 2-2 2 0 2-2 2 5 2 2 2-1 2-3 2-2 2-3 2 0 2 1 2 2 2 4 2 0 2 2 2 1 2 0 2-2 2 2 2-1 2-2 2-8 2 0 2-6 2-6 3 4 2 1 2-2 2-1 2 0 2 5 2 6 2 6 2-2 2 6 2 0 2-1 2 1 2 0 2-3 2 3 2-1 2 2 2-3 2 1 2 1 2 0 2 0 2 1 2-2 2 1 2 0 2-2 2 2 2 0 2 1 2-1 2-1 2-1 2 3 2-1 2 1 2-2 2 1 2 0 3 0 2 1 2 0 2-1 2 0 2 1 2-1 2 1 2 0 2-2 2 2 2 0 2-1 2 0 2 1 2 0 2 0 2-2 2-2 2 3 2 0 2-1 2 1 2 0 2 0 2-1 2 0 2 1 2 0 2 0 2 0 2-1 2 1 2 1 2-1 2-1 2 2 2-1 2-2 2 3 2-3 3 3 2-1 2 0 2 0 2 0 2 0 2 0 2-1 2 0 2 1 2 1 2 0 2-1 2 0 2 0 2 0 2 0 2-2 2 1 2-1 2-1 2 1 2-1 2-3 2 1 2 2 2 0 2 3 2 0 2 0 2 0 2-2 2 0 2 3 2-2 2-1 2-1 2-3 2-3 2-3 3 5 2-1 2-1 2-5 2 0 2 1 2-6 2 7 2-6 2 11 2 2 2 2 2 3 2 0 2-1 2 1 2-1 2-1 2 0 2 1 2 0 2 1 2-1 2-1 2-2 2-1 2 0 2-2 2 4 2 2 2-2 2 2 2 2 2 0 2-1 2 1 2-2 2 0 2 1 2 0 2 0 3 1 2-1 2 1 2 0 2 0 2-2 2 2 2-1 2 0 2-2 2 2 2 0 2 0 2 0 2 0 2 0 2 0 2-1 2 0 2 0 2 0 2 0 2-1 2 2 2-1 2 0 2-1 2 1 2 1 2-1 2 0 2 0 2-1 2 0 2 0 2 1 2 0 2-4 2 1 2-6 3 3 2-2 2 2 2-1 2 4 2-2 2 1 2 0 2 0 2 2 2-13 2 8 2 2 2-2 2 0 2-4 2 7 2-2 2-4 2 3 2 2 2 2 2-7 2 6 2 0 2-2 2 3 2-5 2 4 2 0 2-6 2 1 2 6 2-3 1 4M668 2721l1-3 1-5 1-2 1 0 1-2 2 1 1-19 1 18 1-5 1-7 2 7 1-4 1 8 1 4 1-8 2 1 1-4 1 4 1 3 1 1 2-1 1 3 1-1 1-2 1 4 1 2 2-2 1 5 1-16 1 4 1 6 2-1 1 5 1-2 1-11 1 10 2 3 1-2 1 4 1-3 1 5 2 0 1-7 1 6 1-2 1-6 1 8 2 0 1-2 1-2 1 1 1-2 2-2 1-2 1 3 1-2 1-1 2 3 1-4 1 4 1 1 1 2 2 2 1 1 1 2 1 2 1 1 1-1 2 2 1 0 1-2 1 2 1 0 2 1 1-2 1-1 1 2 1 0 2 0 1 0 1 0 1 0 1 0 2 0 1-2 1 2 1-1 2 1 2-4 2 4 2-1 2 1 2 1 2-1 2-1 2 0 2 2 2 0 2-2 2 1 2 0 2-1 3 2 2 0 2 0 2 0 2 0 2 0 2 0 2 0 2-1 2-1 2 1 2-2 2-4 2-1 2 0 2-2 2 4 2 0 2 4 2 0 2 0 2 1 2 1 2-2 2 1 2 0 2-1 2 1 2 0 2-3 2 3 2 0 2 0 2-1 2 0 2 1 2 0 2 1 2 0 2-1 3-1 2 2 2-2 2 2 2-3 2 1 2 1 2 1 2-1 2-1 2 1 2-1 2 2 2-1 2 0 2 0 2 1 2 0 2-1 2 0 2 0 2-2 2 1 2 1 2 0 2 0 2-3 2 4 2 0 2-1 2 1 2 0 2-4 2 4 2 0 2 1 2-1 2-3 2 3 2-2 2 2 3-1 2 1 2 0 2 0 2-1 2 0 2 1 2-1 2 1 2-1 2 0 2 1 2-2 2 1 2-1 2 0 2 0 2-1 2-2 2-2 2 4 2-1 2 0 2 1 2 3 2-1 2 0 2 0 2 0 2 1 2 0 2 0 2-2 2 1 2 1 2 0 2-1 2-1 2-3 2-2 3 0 2-1 2 2 2 3 2 2 2-2 2 2 2-2 2 3 2-1 2 0 2 1 2-1 2 1 2-1 2-2 2 2 2 1 2 0 2 0 2-1 2 0 2-1 2 2 2-2 2 1 2 1 2-1 2 2 2-2 2 0 2-1 2 2 2-2 2 1 2 0 2 0 2 1 2-1 2 0 2 0 3 0 2 1 2-1 2 0 2 0 2 0 2-2 2 2 2-1 2 1 2 0 2-1 2 2 2-2 2 2 2 0 2-1 2 1 2 0 2 0 2-1 2 0 2-1 2-2 2 3 2-1 2 3 2 0 2-1 2 0 2 0 2 0 2-1 2-1 2 2 2 0 2-1 2 1 2-1 2-1 3 2 2-1 2 0 2-1 2-4 2 0 2 2 2 0 2 2 2 1 2-2 2 1 2-1 2 2 2 0 2-1 2 1 2-1 2 1 2 0 2 0 2 1 2 0 2-3 2 3 2 0 2 0 2 0 2 1 2-2 2 0 2 1 2 0 2 0 2 0 2-2 2 1 2-2 2 2 2-1 2-2 3 3 2-1 2 2 2-1 2 0 2 0 2 0 2-1 2 1 2 1 2 0 2-2 2 1 2 0 2 0 2-1 2-2 2-2 2 1 2-1 2 1 2 4 2-2 2 2 2 0 2-3 2-5 2 0 2-2 2 6 2 0 2 1 2 3 2 0 2 0 2 1 2 0 2-4 2-1 2-2 3-3 2-2 2-2 2 0 2-9 2-4 2-4 2-6 2 11 2 9 2 11 2 2 2 2 2 2 2 0 2 0 2 0 2-1 2 0 2-1 2 2 2-1 2 1 2 0 2-1 2 1 2-1 2-2 2 2 2 1 2-1 2 0 2 1 2-2 2 0 2 1 2 1 2-1 2 1 2-1 2-2 3 1 2 1 2-1 2-1 2 2 2 0 2 1 2-1 2 0 2 1 2-1 2 0 2-1 2 0 2 2 2-1 2 0 2 0 2 1 2-2 2 2 2 0 2-1 2-1 2 2 2-1 2 1 2-1 2 0 2 0 2 0 2 0 2-1 2 1 2-1 2 1 2 1 2-1 2 0 2-2 3 2 2 1 2-3 2 3 2 0 2 0 2-1 2-1 2 2 2-1 2 1 2-3 2 2 2 0 2 1 2-3 2 3 2 0 2 0 2 0 2 0 2-1 2-2 2-1 2-6 2 1 2 2 2-3 2 3 2 4 2 1 2 1 2 0 2-2 2 1 2 0 2-1 2 1 2-3 2-3 2-3 3 0 2 0 2-1 2 2 2-1 2-7 2-6 2 7 2 1 2-3 2 10 2-1 2 5 2 3 2-1 2 3 2 0 2-3 2 3 2-1 2 1 2-1 2 1 2-2 2 1 2-4 2 0 2-1 2 0 2-3 2 4 2 2 2 0 2 1 2 0 2 0 2 1 2-2 2 2 2 1 3 0 2-2 2 1 2 0 2 1 2-2 2 1 2 1 2-1 2 1 2-1 2 1 2 0 2 0 2-1 2 1 2-1 2 1 2-1 2 1 2-1 2 0 2 1 2-1 2-1 2 1 2 0 2-2 2 1 2-3 2 2 2 0 2 0 2 0 2 0 2 0 2 1 2-1 2 1 2-4 2-1 3 0 2-4 2 1 2-2 2 0 2 4 2 2 2-1 2-1 2 4 2-3 2 2 2-4 2-1 2-2 2 7 2-3 2 3 2-1 2 0 2-3 2 2 2 2 2 0 2-1 2-1 2-6 2 4 2 5 2 0 2-4 2 2 2 3 2-3 2-3 2 6 0-4M657 2731l1-6 2-5 1-8 1 5 1 0 1-10 2 12 1-8 1 8 1-7 1-7 1-2 2 12 1 2 1-23 1 21 1-10 2 11 1-15 1 13 1 4 1-3 2 0 1 3 1-1 1-10 1 12 2-3 1 7 1 0 1-2 1-3 2 0 1 6 1-4 1-1 1 7 1-2 2 2 1 1 1 0 1-5 1-2 2 5 1-1 1 0 1 3 1-3 2 0 1 1 1-3 1-1 1-2 2-3 1 0 1-1 1-6 1 3 1 0 2 3 1 2 1 2 1-1 1 4 2 2 1 2 1 0 1 4 1 1 2 1 1-1 1 1 1-1 1 0 2 1 1 0 1 0 1-1 1 1 1 0 2 0 1 0 1 1 1-4 1 3 2 0 1 0 1 0 1 0 1 0 2 1 2-3 2 2 2 0 3-1 2-1 2 2 2 0 2 1 2 0 2 0 2-2 2 2 2-2 2 1 2 0 2 0 2 0 2-3 2 2 2 2 2-1 2-1 2 0 2 0 2 1 2-4 2-1 2 1 2-1 2 1 2 1 2 3 2 1 2 0 2-4 2 3 2 0 2 0 2 1 2-1 2 0 2 0 2-1 3-1 2 2 2-1 2 1 2 1 2-1 2 1 2 1 2-3 2 2 2-1 2-2 2 1 2 1 2 0 2 1 2 0 2-1 2-1 2 1 2-2 2 2 2 1 2 0 2-2 2 0 2 1 2-1 2 1 2 0 2 0 2 1 2-2 2 1 2 0 2 1 2-1 2 1 2-1 2-1 2 0 3 1 2 1 2-1 2 1 2 0 2-1 2-2 2 3 2 0 2 0 2 1 2-1 2-2 2-1 2 3 2-1 2-2 2 0 2 2 2 1 2 0 2-1 2-2 2 2 2 0 2-1 2-3 2-1 2 1 2-2 2 3 2 1 2 1 2 2 2 0 2-3 2 2 2 2 2-2 2 0 3 1 2 0 2 1 2-1 2 0 2-2 2 0 2-1 2-2 2 0 2-1 2 3 2-1 2 1 2 1 2 1 2 0 2-1 2 0 2 1 2-2 2 3 2-1 2 0 2 0 2 0 2 1 2-1 2-3 2 3 2 1 2 0 2 0 2-1 2 0 2 1 2 0 2 0 2 0 2 0 2-1 3-2 2 2 2 2 2-1 2-2 2 1 2 1 2 0 2-1 2 1 2-2 2 1 2 0 2-1 2 2 2 0 2-2 2-1 2 2 2 0 2-1 2-2 2 4 2-2 2 1 2 1 2-1 2-1 2 1 2-1 2 2 2 0 2-2 2 0 2 3 2-2 2 2 2-1 2-1 2 0 3 0 2 1 2 0 2 0 2-1 2 0 2-1 2 0 2 2 2-3 2 0 2-1 2-2 2-4 2 2 2 2 2 0 2 0 2 4 2 1 2 0 2 0 2-1 2 2 2-1 2 0 2 1 2 0 2-1 2 1 2-2 2 2 2-1 2 1 2 0 2 0 2-2 2-1 2 2 2 0 2-1 3 2 2-1 2 0 2 0 2 0 2 1 2-1 2 1 2-1 2 0 2-1 2-3 2 4 2-1 2 1 2-2 2 1 2 1 2-1 2 1 2-1 2 0 2 1 2-1 2 0 2-4 2 1 2-5 2 4 2 3 2 1 2-1 2 2 2 1 2-3 2-2 2-3 2-9 2 5 2 6 3 3 2 1 2 1 2 1 2-1 2-1 2 0 2-1 2-1 2-3 2 0 2-2 2-3 2-2 2-9 2-11 2 11 2 4 2 7 2 7 2 2 2 1 2-1 2 3 2-2 2 2 2-2 2 2 2-1 2 1 2 0 2 0 2 0 2 0 2 1 2-1 2-1 2-1 2 2 2-3 2 3 3-2 2 1 2-1 2 0 2 2 2-1 2 1 2-2 2 2 2-1 2 0 2-1 2 0 2 1 2-1 2 1 2 0 2-2 2 1 2 2 2 0 2-1 2 0 2-2 2 1 2 1 2-1 2 2 2 0 2 0 2-2 2 2 2-1 2 1 2-1 2 1 2-1 2 1 2 0 2-4 3 3 2 0 2 1 2-2 2 0 2 0 2 2 2 0 2 0 2 0 2 0 2-3 2 2 2 1 2-1 2 1 2-1 2 0 2 1 2 0 2 0 2 0 2-1 2-2 2 3 2-1 2 1 2-1 2-2 2 3 2 0 2-1 2-2 2-1 2 0 2-3 2 3 2 2 2 0 2 0 2 1 3 0 2 0 2-2 2 2 2-1 2 0 2-4 2-8 2 0 2-4 2 4 2-4 2 1 2-8 2-5 2 12 2-7 2 4 2 2 2 7 2 1 2 6 2 2 2 2 2 1 2 1 2-1 2 0 2 0 2 0 2-1 2 0 2 0 2-2 2-2 2-3 2 2 2-2 2 0 2 4 3-1 2 3 2-1 2 3 2-1 2-1 2-1 2 1 2 1 2 1 2 0 2-2 2 0 2 2 2-2 2 2 2-1 2 1 2-2 2 1 2 1 2-1 2 0 2-1 2 1 2 1 2-3 2 3 2-1 2 1 2-3 2 2 2 0 2 1 2-1 2-1 2 0 2 0 2-2 2 1 2 2 3-2 2-1 2 1 2-2 2 3 2-1 2 0 2 1 2-5 2-3 2 1 2-1 2 3 2 0 2 1 2 1 2-2 2 2 2 1 2-1 2-2 2 1 2-2 2 2 2-2 2 0 2 1 2-1 2 2 2-2 2-7 2 4 2 4 2 2 2 0 2-2 2 0 2 2 2 0 2-3 3 1 2 1 2 2 2-2 2 2 0-5M647 2740l1-7 1-2 1-9 2 9 1-4 1-13 1 12 1 1 2-36 1 10 1 27 1-10 1 3 2-13 1 1 1 17 1-5 1 2 2-4 1-8 1 3 1 7 1 1 1 0 2-4 1 8 1-2 1 0 1 4 2 5 1-8 1 8 1-6 1 2 2 1 1-1 1-1 1 5 1-4 2 4 1-2 1 0 1 2 1-3 1 6 2-2 1 0 1-1 1-4 1 4 2 3 1-2 1-1 1 2 1-4 2 0 1 2 1-1 1 1 1 0 2 1 1-4 1 2 1 3 1 2 2 0 1 1 1-1 1 2 1 2 1-1 2 0 1 1 1 0 1-1 1 1 2-3 1 3 1-1 1 1 1-1 2 1 1 0 1-3 1 2 1-1 2 1 1-1 1 1 1-1 1 0 1 0 2-1 3 2 2 1 2-1 2 0 2 0 2 0 2-1 2 0 2 1 2 1 2 0 2 0 2-1 2 1 2 1 2-4 2 2 2 1 2 0 2-1 2 1 2-2 2 2 2-3 2 0 2-3 2 0 2-4 2 3 2 4 2 1 2 1 2 1 2-2 2-1 2 2 2-1 2 1 2 0 2-2 3 2 2 1 2 0 2-1 2 1 2-1 2 1 2-1 2 1 2 0 2 0 2-2 2 1 2 1 2-1 2 1 2-1 2 2 2-1 2 1 2-1 2-2 2 2 2-1 2 2 2-1 2-1 2 0 2 1 2-1 2-1 2 0 2 0 2 0 2 1 2-1 2 1 2-1 2 1 2-1 2 1 3-1 2 0 2 1 2 1 2-1 2-1 2 1 2-1 2 1 2 1 2-1 2 1 2-1 2-1 2 1 2 1 2 0 2 0 2-1 2 1 2 0 2 0 2-2 2 1 2 0 2 0 2 0 2-2 2 1 2-3 2-3 2 5 2 1 2 1 2-1 2 1 2 0 2 1 2-1 2 0 3 1 2 0 2-1 2 0 2 1 2-2 2 0 2 2 2-2 2 0 2-1 2-3 2 1 2 1 2 0 2 3 2 1 2 0 2 0 2-2 2-2 2 2 2 2 2 0 2-2 2 2 2 0 2-1 2-1 2 2 2-1 2 1 2-1 2-1 2 1 2 1 2 0 2 0 2 0 2 0 2-3 3 0 2 0 2 1 2 2 2-1 2 1 2-1 2 1 2 0 2-1 2 1 2 0 2-2 2-1 2 3 2 0 2-1 2 0 2 0 2 1 2-3 2 3 2-1 2-4 2 4 2 0 2 1 2-2 2 1 2 1 2 0 2-2 2 1 2-1 2 0 2 1 2 0 2 0 2 1 2 0 3-2 2 2 2 1 2-1 2 0 2-2 2 3 2-2 2 1 2-5 2 4 2 1 2 0 2-2 2-1 2 0 2-3 2 3 2 1 2 1 2 1 2 0 2-2 2 0 2 0 2-1 2 3 2-1 2 0 2 0 2-1 2 2 2-2 2 1 2 0 2 1 2 0 2-2 2 1 2 1 2 0 3 0 2-1 2 1 2-3 2 1 2 2 2-2 2 1 2-3 2 5 2-1 2 0 2-1 2 1 2-1 2-1 2 2 2-1 2 0 2 1 2-1 2-1 2 1 2-2 2 2 2-2 2 0 2-1 2-1 2 0 2 2 2 1 2-1 2 3 2-1 2-1 2 0 2-5 2-5 2-14 3 1 2 9 2-2 2 13 2 4 2 1 2 0 2-1 2 0 2-3 2-5 2 2 2-11 2 5 2 4 2-2 2-8 2-3 2 3 2 4 2 4 2 4 2 4 2 2 2 0 2 0 2-2 2 2 2 0 2 1 2 0 2-2 2-1 2 2 2 1 2-1 2 1 2 0 2 0 2 0 2 0 3 1 2 0 2 0 2 0 2 0 2-4 2 3 2-1 2-1 2 1 2 1 2 0 2-2 2 0 2 1 2-1 2 0 2 0 2 2 2-2 2-1 2 1 2 0 2 2 2-1 2-1 2 0 2 1 2 1 2-2 2 2 2-2 2 1 2 1 2-2 2 2 2 1 2-1 2-1 2 2 3 0 2-1 2 1 2-2 2 1 2 0 2 0 2 0 2-1 2-1 2 2 2-1 2-1 2 2 2-2 2 1 2 0 2 0 2 0 2-1 2 1 2 0 2 0 2 0 2 1 2-1 2 0 2 1 2-2 2 2 2 0 2 0 2-1 2-1 2-3 2 0 2-1 2 0 2 4 2 1 3-1 2 2 2 0 2-1 2 0 2 1 2 0 2 0 2-2 2-4 2-3 2-5 2 4 2-1 2-1 2-1 2-3 2-5 2 0 2 2 2-1 2 0 2 2 2 9 2 3 2 3 2 1 2 2 2 0 2 0 2 0 2 0 2 0 2 0 2-1 2-1 2 2 2-2 2-2 2-5 2 3 3 1 2 0 2 3 2 0 2 1 2-4 2 2 2 2 2 0 2 0 2 0 2 1 2-1 2 0 2-1 2 1 2 0 2 0 2-2 2 1 2 1 2 0 2 1 2-2 2 0 2 1 2 1 2-2 2 2 2 0 2-1 2 1 2 0 2 0 2-3 2 2 2 0 2 1 2-3 2 2 3 0 2-2 2 1 2 1 2-2 2 0 2 0 2-1 2 0 2-1 2 2 2-2 2-3 2-1 2 2 2 0 2 2 2 1 2-5 2 4 2-1 2 2 2-3 2 3 2-1 2 0 2 1 2 0 2-2 2-6 2 5 2-3 2 1 2 4 2-5 2 6 2 0 2-2 2-1 2-2 2 1 3-1 2 0 2 1 2 3 2 1 2 0 2-1 0 1M637 2744l1-5 1 4 1-18 1 4 2 4 1 0 1-5 1 2 1 5 2-11 1-3 1 15 1-12 1 11 1-9 2-5 1 17 1-3 1-16 1 5 2 3 1 3 1-13 1 13 1 5 2-7 1 8 1-4 1-2 1 6 2-4 1 4 1 2 1-1 1-6 1 8 2 4 1-2 1-4 1 5 1-2 2 3 1-5 1 4 1-6 1 6 2 2 1-5 1 4 1-4 1 4 2-5 1 4 1-5 1 0 1-3 1 3 2-3 1 2 1-2 1-5 1 6 2-3 1 4 1 2 1 2 1 2 2 0 1 3 1 1 1 1 1-1 2 1 1 1 1-1 1 2 1-1 1-1 2 0 1 1 1-3 1 4 1 0 2-3 1 0 1 1 1-1 1 3 2 0 1-1 1 1 1 0 1-1 2-1 2 1 2 1 2-1 2 0 2 0 2 0 2 1 2-1 2 1 2 0 2 0 2 0 2-1 2 1 2 0 2-2 2 3 2-1 2 0 2 0 2 0 2-1 2 1 2-2 2-1 2-2 2-4 2 2 2 3 2 2 2 0 2 1 2 1 2-1 2-2 2 1 2 1 2 1 3 0 2-1 2 2 2-3 2 2 2 0 2-1 2 1 2 0 2-1 2 1 2-1 2 2 2-3 2 0 2 2 2 0 2-1 2 0 2 1 2 0 2-2 2 0 2 2 2-2 2 2 2 0 2-2 2 1 2-1 2 1 2 1 2-1 2 0 2 0 2 0 2 1 2 0 2-3 2 1 3 2 2 0 2-1 2 0 2 1 2 0 2 0 2-1 2 1 2 0 2 0 2-2 2 2 2 0 2 0 2 0 2-1 2 1 2 0 2-2 2 2 2-1 2 0 2 1 2 0 2-1 2 1 2-1 2 0 2 0 2-3 2 0 2-1 2 0 2 3 2 0 2 0 2 1 2 2 2-2 2 0 3-1 2 3 2-1 2-1 2 2 2-2 2 1 2 0 2 0 2 1 2-1 2-1 2-3 2-1 2-2 2 4 2 0 2 2 2-1 2 1 2 1 2 0 2-2 2 1 2 1 2-1 2 1 2-2 2 2 2-2 2 1 2-2 2 3 2 0 2 0 2 0 2-1 2-1 2 1 2-1 3 2 2 0 2-1 2 0 2 1 2-1 2 0 2 0 2 1 2 0 2 0 2-2 2 1 2 1 2-1 2 0 2-2 2 2 2 0 2 0 2 1 2-1 2-2 2 0 2 1 2 2 2-1 2 1 2-1 2 0 2 0 2-3 2 4 2 0 2-3 2 3 2 1 2-1 2-1 2-1 2 2 3-1 2 2 2-2 2 0 2 1 2-1 2 0 2 1 2 0 2-1 2 0 2 1 2-2 2 0 2-2 2 1 2-6 2 0 2-1 2 6 2 2 2 1 2 0 2 1 2-1 2 1 2 0 2 0 2 0 2-1 2 1 2 0 2 0 2-1 2 1 2 1 2-2 2 2 2-1 2-1 3 1 2-1 2 2 2-1 2 1 2-1 2 0 2-2 2 1 2 0 2-1 2 2 2-3 2 0 2 1 2 1 2 0 2-1 2 1 2-2 2 3 2-2 2 2 2 0 2-1 2 0 2 1 2-1 2-1 2 0 2-1 2 0 2-2 2 2 2 1 2 2 2 0 2-3 2 3 2-1 2-6 3 1 2-5 2-7 2 6 2 0 2 6 2 1 2 4 2 0 2 0 2-2 2-3 2-4 2-3 2 3 2 0 2-3 2 2 2-12 2 3 2-5 2 8 2 5 2 7 2 4 2 0 2 0 2 1 2 0 2 0 2 1 2 0 2 0 2 0 2-1 2 1 2-1 2 0 2 1 2-1 3 0 2-1 2-1 2 1 2 0 2 1 2 0 2-2 2 2 2 0 2-1 2 1 2 0 2-1 2-3 2 3 2 0 2-1 2 0 2 2 2 0 2-1 2 0 2 1 2-1 2 1 2-1 2 1 2 1 2 0 2 0 2-1 2 1 2-1 2 0 2-1 2 2 2 0 2-2 2 1 2-1 3-1 2 2 2 0 2 0 2 0 2 0 2-2 2 2 2-1 2-1 2 1 2 0 2 1 2-2 2-2 2 2 2 2 2-1 2 0 2 0 2-1 2 2 2 0 2-2 2-1 2 2 2 0 2 1 2-1 2 2 2-3 2 2 2-1 2 1 2-3 2-2 2 0 2-3 2 3 2 2 3 2 2 0 2-2 2 3 2-1 2-1 2 0 2 1 2-1 2 0 2-3 2-1 2-7 2-2 2-6 2 8 2-1 2-10 2 1 2-17 2 20 2-9 2 6 2 5 2 4 2-2 2 10 2 5 2 0 2 0 2-1 2 2 2-1 2 1 2 1 2-2 2 1 2-1 2-3 2 1 2-4 3 0 2-2 2 3 2 1 2 0 2 3 2 1 2 0 2 1 2-1 2 0 2 1 2 0 2 0 2-1 2 1 2 0 2-1 2-1 2 2 2 0 2 0 2 0 2-1 2 1 2-2 2 2 2 0 2-1 2 0 2 0 2 0 2-1 2 0 2 2 2-3 2 3 2-3 2 2 2-1 3 0 2 1 2-1 2-1 2-1 2 3 2-1 2-1 2 0 2-2 2 3 2-3 2-1 2 0 2-10 2 1 2 3 2 4 2 3 2-3 2-1 2 5 2-4 2 4 2 0 2 1 2-5 2-2 2 3 2 1 2 1 2 1 2-8 2 7 2 0 2-5 2 4 2-5 2 1 2 6 2-3 3-1 2 1 2-1 2 3 2-3 2 4 2-3 2 2 2 2M626 2755l1-6 2-2 1-6 1 4 1-5 1-6 2 7 1 4 1-13 1 4 1 1 2-10 1 14 1 1 1 0 1 0 2-18 1 1 1 18 1 1 1-2 2-8 1 14 1-1 1 1 1-6 1 2 2-7 1 12 1-6 1 1 1 3 2-12 1 7 1 7 1 1 1-2 2-2 1-3 1 8 1-2 1-4 2 5 1-2 1 1 1-3 1 7 1-6 2 3 1 1 1 1 1-2 1 0 2-4 1 2 1-1 1-2 1-3 2 1 1-2 1-1 1-1 1 2 2-2 1 5 1-2 1 3 1 5 1-2 2 1 1 3 1 4 1-1 1-1 2 3 1 0 1 0 1-1 1 1 2 0 1 0 1 0 1 0 1 0 2 0 1 0 1 1 1-2 1 1 1 0 2-2 1 2 1-1 1 1 1 0 2-1 2 1 2 0 2-1 2 0 2 0 2-1 2 2 2 0 2 0 2-1 2-1 2 1 2-2 2 2 2 1 2 1 2-1 2-1 2 0 2 0 2 1 2 0 2-3 2-4 2 2 2-5 2 3 2-2 2 5 2 2 2 2 2 0 2 1 2-1 3-1 2 0 2-1 2 0 2 1 2 0 2-2 2 3 2-1 2-1 2 1 2 1 2 0 2 0 2-2 2 0 2 2 2 0 2 0 2 0 2-1 2 0 2 1 2 1 2 0 2-1 2 0 2 0 2 1 2-1 2 1 2-1 2 1 2-1 2 0 2-1 2 1 2-1 2 0 2 1 2-1 3 1 2-2 2 0 2 2 2-1 2-1 2 2 2-1 2 1 2-1 2 1 2-1 2-1 2 2 2-3 2 3 2-1 2 1 2-1 2 1 2-1 2 1 2 0 2 0 2 0 2 0 2 1 2-2 2 2 2-3 2 1 2-1 2-1 2-2 2 0 2 1 2 3 2 0 2 1 2-2 3 1 2-1 2 1 2 1 2 0 2-1 2 0 2 1 2 0 2-2 2 0 2 1 2 0 2 0 2-2 2-1 2-2 2 2 2-1 2 3 2 2 2-2 2 2 2 1 2-1 2 1 2-1 2 0 2 0 2 1 2-2 2 0 2 1 2 0 2 0 2-1 2-2 2 3 2-1 2 0 2 1 3 0 2-2 2 0 2 1 2 1 2 0 2-1 2 0 2 1 2-1 2 1 2 1 2-3 2 2 2-1 2 0 2 2 2-1 2 0 2 1 2-2 2 1 2 0 2 0 2 1 2-1 2 1 2-1 2-1 2 1 2-2 2 2 2 0 2-1 2 0 2 1 2-1 2 0 2 1 2-1 3 0 2 1 2-1 2 1 2 0 2-3 2 3 2-1 2 1 2 0 2 0 2 1 2-3 2 1 2 1 2 0 2-1 2-3 2-1 2 0 2 0 2-1 2 4 2 1 2-1 2 2 2 0 2 0 2 0 2-1 2 1 2 0 2-1 2 0 2 1 2-1 2-1 2 1 2 1 2-1 2-1 3 1 2 0 2 1 2-1 2 1 2 0 2-2 2 1 2 0 2 1 2 1 2-2 2 2 2 0 2-2 2-1 2 2 2 0 2-1 2 0 2 0 2 0 2-1 2 3 2-2 2 1 2 0 2 0 2-1 2 0 2-1 2 0 2-3 2-5 2 6 2-1 2 4 2 1 2-1 2 1 3-2 2 1 2-4 2-2 2-6 2-3 2-1 2-10 2 18 2 2 2 6 2 1 2 0 2-2 2-4 2 0 2 0 2-2 2 1 2-3 2-1 2-7 2-1 2 0 2 9 2 1 2 5 2 2 2 1 2 1 2 0 2-2 2 1 2 1 2-1 2-1 2 1 2 1 2-1 2 1 2-1 3-1 2 2 2-1 2 1 2 0 2 1 2 0 2-1 2 0 2-1 2 1 2 1 2-2 2 2 2-1 2-2 2-1 2 3 2 0 2 0 2 0 2-2 2 1 2 1 2 0 2 0 2-1 2 0 2 1 2-1 2 0 2 1 2-2 2-1 2 2 2 0 2 1 2 0 2-1 2 0 3 0 2 0 2 1 2 0 2 0 2 1 2-3 2 2 2-1 2 1 2-1 2 1 2 1 2-1 2 1 2-4 2 2 2 1 2-1 2 1 2-3 2 1 2 2 2-1 2-2 2 2 2 0 2-1 2 1 2-2 2 3 2-2 2 2 2 0 2 0 2-1 2-1 2-5 2-5 2 1 2-4 3 6 2 2 2 3 2 3 2 1 2 1 2-1 2 0 2 1 2-1 2 0 2-2 2-3 2-10 2 3 2-5 2-1 2 1 2-3 2-5 2 1 2-6 2 10 2 0 2-3 2 7 2-7 2 9 2 6 2 4 2 3 2-1 2 0 2 2 2-1 2 1 2 0 2 0 2-1 2 0 3 0 2-2 2-4 2-3 2 3 2 3 2 1 2 2 2 1 2 0 2 0 2 0 2 0 2 1 2-2 2-2 2 3 2 0 2-2 2 0 2 0 2 0 2 0 2 2 2-3 2 2 2 1 2-1 2 0 2-1 2 2 2-1 2 1 2-1 2 0 2-1 2 2 2 0 2-1 2 0 2-1 3 0 2 2 2-1 2 0 2 0 2-1 2-2 2 2 2-1 2 0 2 1 2 0 2 1 2-2 2-2 2-4 2-3 2-2 2 7 2-3 2 4 2-2 2 3 2 0 2 0 2 1 2-3 2 3 2-1 2-9 2 7 2 0 2 2 2 1 2-2 2-4 2 6 2-1 2-5 2 4 3 0 2-1 2 3 2 0 2-2 2 4 2-5 2 4 2-2 2 2 2-8 1 5M616 2763l1-7 1 0 2-1 1-12 1 7 1 0 1 2 2 1 1-2 1-7 1-11 1 10 1 7 2-21 1 21 1-19 1 23 1-7 2 5 1-22 1 20 1-5 1 10 2-12 1 10 1-1 1-2 1-2 2 5 1 0 1-16 1 17 1-2 1 2 2 3 1-2 1 1 1 3 1-2 2-4 1 5 1-2 1 1 1 0 2 0 1 4 1 0 1-7 1 5 2 2 1-4 1-1 1 4 1-3 2 1 1 0 1-2 1-4 1-1 1 2 2 0 1 0 1-2 1-1 1 4 2 0 1 2 1 0 1-1 1 5 2 1 1 1 1-1 1 2 1 2 2-2 1 0 1 2 1 0 1 0 1 1 2-1 1 0 1-2 1 1 1 2 2 0 1-1 1 0 1 0 1-1 2 0 1 0 1 0 1 0 1 1 2 0 1 0 2 0 2 0 2 0 2-2 2 0 2 2 2-1 2 0 2 1 2-2 2 1 2 1 2-1 2-1 2 2 2-1 2 1 2-1 2-1 2 1 2 1 2-1 2-3 2-1 2-4 2 0 2 0 2 0 2 7 2 0 2 2 3 0 2 0 2 0 2 0 2-3 2 2 2 1 2 0 2 0 2 0 2 0 2 0 2-1 2 1 2 0 2-1 2 0 2 0 2-2 2 3 2-1 2-1 2 2 2 0 2 0 2-1 2 2 2-4 2 4 2-1 2 0 2 0 2-1 2-2 2 3 2 0 2 1 2-1 2 1 2-2 2 0 3 0 2 2 2-2 2 1 2 0 2-2 2 1 2-1 2 2 2-1 2 1 2 0 2-1 2 1 2-1 2-2 2 3 2-2 2 1 2 1 2-1 2 1 2 0 2-1 2 1 2 0 2-2 2 2 2 1 2-1 2 0 2 0 2-2 2-1 2-2 2-1 2 1 2 3 2 1 2 1 3-2 2 1 2 1 2-1 2 0 2 1 2 0 2-3 2 2 2 1 2 0 2 0 2 0 2-1 2 0 2 0 2-2 2-3 2-4 2 3 2 1 2 1 2 3 2 1 2 0 2 0 2 1 2 0 2 1 2-1 2 0 2-1 2 0 2 2 2-2 2 2 2-1 2 0 2-1 2-1 2 2 3-2 2 2 2 0 2 0 2-2 2 1 2 0 2-1 2 0 2 2 2-1 2-2 2 3 2-1 2 1 2-2 2 2 2-1 2 0 2-1 2 2 2-1 2 0 2 2 2-1 2 0 2-1 2 2 2-2 2 1 2-1 2 0 2 2 2 0 2-1 2 1 2-1 2 1 2-1 2 0 3-1 2 1 2-1 2 1 2-2 2 1 2 0 2 0 2 1 2-1 2-1 2 2 2 0 2-1 2 1 2 0 2 0 2-2 2 0 2-2 2-4 2 4 2-1 2 3 2 1 2 0 2 0 2 2 2-3 2 1 2 1 2 1 2-1 2 0 2 1 2-2 2-2 2 1 2 1 2 0 2 1 3-2 2 2 2 0 2 0 2-1 2 0 2 1 2 0 2-1 2 0 2 1 2-1 2 1 2 0 2-1 2 1 2-3 2 2 2-1 2 2 2 0 2 0 2 0 2 0 2-1 2-1 2 2 2 1 2-2 2 0 2 0 2-2 2 0 2-3 2-3 2 0 2 4 2 0 2 3 2-1 3 2 2 0 2-1 2 2 2-1 2-2 2-6 2 0 2-2 2 2 2 2 2 3 2 3 2 0 2-2 2 2 2-3 2-3 2 3 2-2 2 3 2-2 2-2 2-1 2-2 2 6 2-1 2 2 2 1 2 0 2 2 2-1 2 1 2 0 2 0 2-2 2 1 2 1 2-1 2 1 2 0 3-1 2 0 2 1 2-1 2 0 2 1 2 0 2-3 2 3 2 0 2 0 2 1 2-1 2-1 2 2 2 0 2-3 2 2 2 1 2-1 2 1 2 0 2 0 2-2 2 2 2-1 2 0 2 0 2-1 2 0 2 0 2 0 2 0 2-1 2 0 2 2 2-1 2 1 2 0 2-2 3 0 2-1 2 2 2 1 2-1 2 1 2-2 2 0 2 2 2-1 2 1 2-1 2 1 2-1 2 0 2 2 2-2 2 0 2 0 2 0 2 0 2 2 2-1 2 1 2-1 2 0 2 0 2-2 2 1 2 0 2 0 2 0 2 1 2-1 2 1 2-3 2 1 2 2 2-2 2-1 2-3 3 0 2 0 2 1 2 0 2 3 2 1 2 1 2-2 2 2 2 1 2-2 2 0 2-1 2 0 2-3 2-4 2-3 2-1 2 0 2 0 2-7 2 1 2-12 2 5 2 9 2 0 2-8 2 3 2 7 2 3 2 5 2 1 2 3 2 2 2 0 2-1 2 1 2 0 2 1 2 0 3-2 2 1 2-3 2-8 2-7 2 3 2 1 2-2 2 12 2-4 2 8 2 2 2 0 2-2 2 0 2 2 2-3 2 1 2 1 2 0 2 0 2 0 2 0 2 0 2 0 2-2 2 0 2 0 2-1 2 1 2 2 2 0 2-1 2-2 2 1 2 1 2 1 2-2 2 1 2-2 2 2 3-1 2 2 2 0 2 0 2-2 2 1 2 0 2 1 2-2 2 2 2-2 2 1 2 0 2-1 2 0 2 0 2-4 2 0 2-5 2 0 2 3 2 3 2 0 2 0 2 0 2 2 2 0 2-1 2-4 2 3 2-1 2 2 2-1 2 1 2-1 2-4 2-1 2 4 2-2 2-2 3 4 2 0 2 2 2-4 2 3 2 0 2-5 2 5 2 1 2-4 2 4 2 1 2 0 1-2M606 2770l1-5 1-11 1 7 1 0 2-7 1 7 1-11 1 10 1-5 2 5 1-2 1-4 1-17 1 14 2-10 1 19 1-2 1-5 1 1 2-6 1 0 1 1 1 12 1 1 1-3 2 1 1-2 1 2 1-1 1 4 2 1 1-3 1-5 1 8 1 4 2-7 1 7 1-6 1 3 1-2 2 2 1-2 1 3 1 0 1 0 1 0 2 3 1-1 1-3 1 0 1 3 2-4 1 4 1-3 1 4 1-2 2 0 1-2 1 2 1-5 1 1 2-3 1 1 1 4 1-3 1 2 1 1 2 2 1-1 1 1 1 0 1-4 2 5 1 3 1-2 1 1 1 2 2-3 1 4 1 0 1 0 1-3 2 3 1 0 1-3 1 3 1 0 2-1 1 0 1 2 1-2 1 1 1 0 2 0 1 0 1 1 1 0 1-3 2 0 1 3 1-1 2 0 2 0 2 0 2-3 2 2 2 2 2 0 2 0 2-1 2-1 2 1 2-2 2 2 2-1 2 1 2 0 2-1 2 0 2 1 2 0 3-1 2-4 2 0 2-2 2 1 2 2 2 1 2 1 2 0 2 2 2-1 2 0 2 1 2 1 2 0 2-2 2 2 2-2 2 2 2 0 2 0 2-1 2 0 2-1 2 1 2 0 2 0 2 0 2 0 2 0 2-2 2 2 2-3 2 3 2-1 2 1 2-1 2 1 2-1 2 1 2-1 3 1 2-1 2-2 2 4 2 0 2-2 2-1 2 2 2 0 2 1 2 0 2 0 2-2 2 1 2-1 2 2 2 0 2 0 2-1 2 0 2-1 2-1 2 1 2-1 2 2 2-2 2 1 2 1 2-1 2 1 2-2 2 2 2 0 2 0 2 0 2-1 2 1 2-3 2 3 2-1 3 1 2 0 2-2 2-1 2-1 2-1 2 2 2 0 2 3 2-1 2 1 2 1 2-2 2-1 2 2 2 1 2-1 2-1 2 0 2 1 2 0 2 0 2 0 2 0 2-2 2-1 2-1 2-5 2 0 2 1 2 2 2 2 2 2 2 1 2 0 2 1 2 0 2-1 2 1 2 1 2-3 3 1 2 1 2 0 2 1 2-1 2-1 2 2 2-3 2 1 2 2 2-1 2-2 2 2 2 1 2 0 2-1 2-2 2 1 2 1 2-1 2 1 2 0 2 0 2-3 2 3 2 0 2 0 2 0 2 0 2 0 2-3 2 3 2-2 2 2 2-2 2 2 2-1 2 2 2-1 2-1 3 1 2 1 2-2 2 1 2 0 2 1 2-3 2 2 2 1 2 0 2-1 2-1 2-1 2 3 2-2 2 1 2 0 2 1 2-2 2 0 2 0 2 0 2 0 2 1 2 0 2-2 2 1 2-1 2-2 2-4 2 2 2 1 2 3 2 0 2 1 2-2 2 1 2 2 2 1 2-1 2-1 3 0 2 1 2 1 2-1 2-2 2 2 2 1 2 0 2-1 2 0 2 0 2 1 2-2 2 1 2-1 2 1 2-1 2 2 2-1 2-1 2 1 2 0 2 0 2 0 2 0 2-3 2 3 2 0 2-2 2 0 2 2 2-1 2 1 2 0 2-1 2 1 2 0 2 0 2-1 2 0 3 1 2-1 2-2 2-1 2-5 2 5 2 0 2 3 2 2 2-1 2-3 2 3 2 1 2-2 2 1 2-3 2-2 2-5 2-4 2 2 2 3 2 6 2 2 2 0 2 0 2-1 2-3 2 1 2-2 2 2 2-1 2-5 2 1 2-4 2 5 2 1 2 5 2 0 2 2 2-1 2 0 3 0 2 0 2 1 2-3 2 4 2-1 2 1 2 0 2-1 2-1 2 0 2 1 2-1 2 1 2-2 2 1 2 0 2 0 2 0 2 1 2-2 2 0 2 0 2 0 2 2 2-1 2 0 2 1 2-2 2 2 2 0 2-2 2 2 2 0 2 0 2-1 2 0 2 2 2 0 2 0 3 0 2 0 2-1 2 0 2 0 2-2 2 1 2 0 2-1 2 2 2 0 2 0 2 0 2-1 2 1 2-1 2-1 2 0 2 1 2-1 2 2 2 0 2-1 2 0 2 0 2-2 2 1 2 1 2 2 2-3 2 1 2 2 2 0 2-3 2 2 2 0 2 1 2 0 2 0 2-1 3-1 2 1 2 0 2 1 2-2 2 0 2 0 2-2 2-4 2-2 2 0 2 0 2 3 2 3 2 0 2 3 2-2 2 2 2 0 2-2 2 1 2 0 2-2 2 0 2-6 2-4 2-15 2 11 2-7 2 5 2 2 2-5 2 5 2-18 2 21 2-7 2 2 2-5 2 5 2 4 2 7 3 2 2 5 2-1 2 1 2 1 2 1 2-1 2 0 2-1 2-1 2 1 2-1 2-4 2-8 2 3 2-6 2 3 2 9 2 2 2 2 2 1 2-2 2 2 2-2 2 1 2 1 2-1 2-1 2 3 2 0 2-4 2 3 2 0 2 1 2-1 2-3 2 4 2-1 2 0 2 0 3 1 2-1 2 0 2 0 2-2 2 0 2 0 2 1 2 0 2 0 2-1 2-1 2 2 2 0 2-2 2 1 2 1 2 0 2-3 2 3 2-2 2 1 2 0 2-1 2 2 2-1 2-4 2 1 2-2 2 1 2-3 2 5 2-3 2 3 2 0 2-2 2 3 2-8 2 7 2-1 2-4 3 4 2-2 2 2 2-1 2 2 2-10 2 6 2-4 2 8 2-7 2 7 2-4 2 0 2 1 2-2 2 0 2 3 2 2 2-1 2 1 2 1 2-3 2 3M595 2777l2-2 1-26 1-12 1 31 1 2 2-11 1 4 1 8 1-5 1-33 2 26 1-4 1 1 1 7 1-9 1 11 2-3 1 2 1-3 1-2 1 3 2 5 1-5 1 9 1-5 1-2 2 7 1-11 1 4 1 6 1-1 2-4 1 6 1-3 1 6 1 0 1-3 2-8 1 8 1 0 1-8 1 12 2-1 1 1 1-5 1-1 1 5 2-2 1 3 1-2 1 4 1-2 2 1 1-2 1 3 1-1 1-1 1-1 2-1 1-2 1-1 1 1 1-2 2-1 1-1 1 0 1 1 1-2 2 4 1 1 1 3 1 0 1 0 2 4 1-4 1 5 1 1 1 0 1 0 2-1 1 2 1 0 1 0 1-1 2 0 1 0 1 1 1 1 1-2 2 2 1 0 1-1 1 0 1 1 2 0 1 0 1-1 1 0 1 1 1-2 2 2 1 0 1-1 2 1 2-1 2 1 2-4 2 1 2 2 2 0 2 0 2 0 2-1 2 1 2-1 2 0 2 1 2 0 2-1 2-2 3 3 2 0 2-2 2-4 2-2 2-7 2 4 2 5 2 1 2 4 2-1 2 2 2 1 2-2 2 2 2-1 2 0 2 0 2 0 2 1 2 0 2 0 2-2 2-1 2 1 2 0 2 2 2-1 2-1 2 0 2-2 2 2 2 1 2 0 2-2 2 1 2 1 2 0 2-1 2 0 3 1 2-2 2 2 2-2 2 2 2 0 2 1 2-2 2 1 2 1 2-1 2 1 2-1 2 0 2 1 2 0 2-3 2 2 2-1 2 2 2-1 2 0 2-1 2-1 2 2 2 0 2 0 2-1 2 0 2 1 2-1 2 1 2-1 2 0 2-1 2 2 2 0 2 0 2 0 2 0 2-2 3 3 2-2 2 1 2-2 2-4 2 2 2-1 2 2 2 2 2 0 2-1 2 2 2 0 2-1 2 0 2 0 2 0 2 0 2 0 2 1 2-1 2 1 2-1 2 1 2 0 2 0 2-1 2 0 2-2 2 0 2-4 2 0 2 0 2 4 2 1 2 1 2 1 2-1 2 1 2 1 3-4 2 1 2 2 2 1 2-1 2 0 2 1 2 0 2 0 2-2 2-2 2 4 2-2 2 1 2 0 2-1 2 1 2 1 2-2 2 0 2 1 2 0 2 1 2-1 2-1 2-1 2 2 2-2 2 0 2 2 2-2 2 2 2-2 2 2 2 0 2 0 2 0 2 0 2 0 2-1 2 1 3 0 2 1 2 0 2 0 2-1 2 0 2 0 2 0 2 0 2 1 2-1 2 0 2 1 2-1 2 0 2-1 2 2 2-1 2-2 2 2 2 0 2 0 2 0 2-1 2 1 2-3 2 1 2 1 2-2 2-2 2-2 2-2 2 4 2-2 2 6 2-1 2 2 2 1 2-1 2 1 3-1 2 0 2 0 2 1 2-1 2 0 2 1 2-1 2 1 2-3 2 3 2-2 2 2 2-1 2 0 2-1 2 0 2 1 2-1 2 1 2 1 2-1 2-1 2 0 2 1 2 0 2 0 2-1 2 0 2 0 2 1 2 0 2 1 2-1 2 0 2 0 2-2 2 2 2-1 2-3 2 5 3 0 2-2 2 1 2-1 2-1 2-6 2 3 2 2 2 2 2 0 2 1 2 1 2-2 2 1 2 0 2 0 2-1 2-1 2-6 2-3 2-12 2 8 2 4 2-1 2 8 2 1 2 0 2 0 2-3 2 1 2 2 2 0 2-3 2 4 2-5 2 0 2 2 2 1 2 2 2 2 3 0 2-1 2 2 2 0 2-2 2 1 2 0 2 1 2 0 2-1 2 0 2 0 2 1 2-1 2-1 2 1 2-2 2 2 2-1 2 1 2-1 2 0 2-1 2 2 2-1 2 1 2 1 2-1 2 0 2 1 2 0 2 0 2 0 2-1 2 1 2-1 2 0 2 1 2-2 2 2 2 0 3-3 2 2 2-2 2 1 2 0 2 1 2 0 2 1 2-3 2 2 2 1 2-2 2 0 2 1 2 0 2-1 2-1 2 0 2 2 2-1 2 1 2 0 2-1 2 1 2-2 2 1 2 1 2-1 2 0 2 0 2 1 2-1 2 2 2-1 2-4 2 3 2 1 2 1 2-1 2-4 3 3 2 1 2 0 2 0 2-1 2 1 2 0 2-1 2-1 2-2 2-1 2-1 2-1 2 1 2 2 2 1 2 2 2-1 2 2 2 0 2-1 2 1 2 1 2-2 2-1 2-1 2-4 2-17 2 1 2 5 2 5 2 0 2 3 2-9 2 3 2 3 2 1 2 1 2-4 2-1 2 2 3 2 2 5 2 5 2 1 2 1 2-1 2 1 2 0 2 0 2-1 2 1 2 0 2-2 2-1 2-3 2-1 2-4 2 1 2 1 2 3 2 2 2 4 2 0 2 0 2-1 2 1 2 1 2-1 2 1 2 0 2-1 2-1 2 2 2 0 2 0 2-1 2 1 2-1 2 1 2-2 3 2 2-1 2-1 2 1 2-1 2 0 2-1 2 0 2-1 2 3 2 0 2-2 2-2 2 4 2-1 2-3 2 1 2 2 2-1 2 1 2 0 2-1 2 1 2-1 2 0 2-2 2 3 2-3 2-1 2-4 2 1 2-3 2 5 2-2 2 3 2-1 2 1 2-1 2 1 2-4 2 0 3 1 2 0 2 2 2 1 2-1 2-3 2-1 2 5 2-3 2 0 2 0 2 4 2-5 2 2 2 3 2-4 2 4 2-3 2 2 2 1 2-2 2-5 2 9 2-2 1-2M585 2786l1-2 1-3 2-10 1 1 1-7 1 3 1 3 2-5 1 7 1 0 1 3 1-17 2 18 1-3 1-7 1 4 1-1 2 5 1-3 1 3 1-7 1 1 1 2 2 3 1 2 1-3 1 4 1-5 2 0 1 8 1-6 1 3 1-3 2 3 1-3 1 7 1-2 1 2 2-7 1-1 1 5 1 3 1 1 2 3 1-2 1 0 1-3 1 1 1 2 2-1 1-1 1 0 1 4 1-7 2 5 1 1 1 1 1-3 1-5 2 4 1-8 1-1 1 2 1-4 2 0 1-2 1 2 1 1 1-2 1 2 2 1 1 3 1 3 1 2 1 4 2-1 1 2 1 1 1 0 1 1 2 0 1 0 1 1 1-1 1 2 2 0 1 0 1 0 1 0 1 0 1 0 2 0 1 0 1-3 1 2 1 0 2 1 1-2 1 2 1 1 1-2 2 1 1-1 1-2 1 1 2 2 2 1 2 0 2-1 2 1 2 0 2-2 2 0 2 0 2 1 2 0 2 0 2-1 3 1 2 1 2 0 2-2 2 2 2-2 2-2 2-5 2 2 2-2 2 0 2 2 2 4 2 1 2 1 2 0 2 0 2 0 2 0 2-1 2 0 2 1 2 0 2 1 2-2 2 1 2 0 2-1 2-1 2 2 2 1 2 0 2 0 2 0 2-1 2-1 2 1 2 0 2 0 2 1 2-1 3-2 2 2 2 0 2 1 2-1 2 1 2-1 2-1 2 0 2 0 2 0 2 1 2 1 2-3 2 2 2 1 2-1 2 0 2 0 2 0 2 0 2-2 2 2 2-1 2 1 2-2 2 3 2-1 2 0 2 0 2-1 2 0 2 0 2 1 2 1 2-1 2 0 2 0 2 0 2 1 3-1 2-2 2 2 2-1 2 0 2-2 2 1 2-2 2 0 2 0 2 1 2 1 2 1 2-1 2 1 2-4 2 5 2-3 2 1 2 3 2-2 2 2 2 0 2-2 2-1 2 2 2 1 2 0 2 0 2-2 2 0 2-3 2-1 2-3 2 2 2 1 2 2 2-1 2 4 2 0 2-2 3 3 2-1 2-3 2 1 2 3 2-2 2 0 2-2 2 2 2 0 2 0 2 1 2-2 2 0 2 1 2 1 2 0 2 0 2-1 2 2 2-2 2 1 2-1 2 2 2 0 2-2 2 2 2-1 2 1 2-1 2 1 2 0 2-1 2 0 2-2 2 2 2 0 2-1 2 2 2 0 3-3 2 2 2-1 2 0 2 1 2-1 2-1 2 2 2-1 2 1 2-1 2 1 2 0 2-1 2-1 2 1 2 1 2 0 2 0 2 0 2 0 2 0 2 1 2 0 2-2 2 1 2 0 2 1 2 0 2-1 2-1 2 0 2-2 2-1 2 0 2 0 2 1 2 2 2 1 2 1 2-3 3 1 2-2 2 3 2-1 2-1 2 1 2 1 2 0 2-1 2 1 2-2 2 1 2 0 2 1 2-2 2 0 2 2 2 1 2 0 2 0 2 0 2-2 2 2 2-1 2 1 2-3 2 2 2 1 2 0 2-4 2 2 2 2 2 0 2-5 2 5 2-1 2-1 2 1 2-2 2 2 3-1 2-1 2 0 2-1 2 2 2-2 2-1 2-3 2-1 2 1 2 2 2 4 2 1 2-1 2-1 2 2 2 1 2-1 2 1 2 0 2-3 2-4 2-8 2-3 2-20 2 12 2 10 2 9 2 2 2 2 2-1 2 1 2 0 2 1 2-4 2 1 2-2 2 0 2-1 2 1 2 3 3 1 2-1 2 1 2 0 2 2 2 1 2-2 2 0 2-2 2 2 2 1 2 0 2 0 2 0 2 1 2 0 2-1 2 0 2 0 2 1 2 0 2-2 2 1 2 0 2 1 2 0 2 0 2 0 2-1 2-3 2 4 2-1 2 0 2-1 2 1 2-2 2 2 2 0 2 0 2 0 3-4 2 4 2 0 2 1 2 0 2 0 2-1 2 1 2-2 2 1 2 0 2 1 2 0 2-2 2 2 2-1 2 0 2 1 2 0 2-1 2 0 2 1 2 0 2-1 2 0 2 0 2 1 2 0 2-1 2 0 2-1 2 0 2 1 2 0 2-1 2 0 2-1 2 1 2 0 2 1 2-1 3 2 2-1 2 0 2 0 2 0 2-1 2 1 2 1 2-1 2-1 2-1 2-6 2-1 2-4 2 0 2 6 2 6 2 1 2 0 2 0 2 1 2-3 2 2 2 1 2-1 2 0 2-2 2-4 2-4 2-4 2-4 2 2 2 2 2 2 2-4 2-2 2-13 2 5 2 9 2 0 3-8 2 7 2 1 2-2 2 11 2 5 2 1 2 3 2 0 2 0 2 0 2 0 2 0 2 0 2-1 2-1 2-2 2-12 2 2 2-6 2 3 2 5 2 1 2 6 2 3 2 2 2-1 2 0 2-1 2-2 2 2 2 2 2-1 2 0 2 0 2-1 2 1 2 0 2-3 2 2 2 1 3-2 2 1 2 2 2-1 2 0 2 0 2 0 2 1 2-2 2 2 2-1 2 1 2-1 2 1 2-3 2 2 2 0 2 0 2-2 2 1 2 1 2-1 2-1 2 1 2 0 2 0 2-1 2-2 2 0 2-3 2-3 2-1 2 3 2-3 2 5 2 0 2 0 2 0 2 0 2 1 3 1 2-1 2 0 2-2 2 1 2 1 2 2 2-6 2 4 2-1 2 1 2 3 2-9 2 8 2-6 2 4 2-4 2 6 2-3 2 1 2-1 2 1 2 0 2 3 2-3 2 2 2-2 1-1M575 2793l1-2 1-8 1-13 2 12 1-10 1 6 1 0 1-9 2 10 1-19 1 20 1-12 1 16 1 0 2-15 1-9 1 24 1 0 1-18 2 15 1 2 1 2 1-4 1 2 2 0 1-2 1 6 1-5 1 5 2-4 1-4 1 5 1-8 1 9 1-3 2 2 1 2 1 0 1 5 1-3 2-1 1 4 1-1 1-2 1-1 2 4 1 0 1-5 1 5 1-2 2 2 1 1 1 0 1 1 1 0 1-7 2 8 1-2 1 1 1-7 1 5 2-3 1-4 1 2 1-1 1-2 2 1 1 1 1-2 1 1 1 2 2-3 1 6 1 3 1-3 1 0 2 3 1 0 1-1 1 0 1 4 1 0 2 0 1-1 1 2 1 1 1-1 2 0 1 1 1 0 1 1 1-1 2-1 1 1 1 1 1-1 1-1 2 0 1 2 1-3 1 3 1-2 1 0 2 1 1 1 1 0 1 0 2-3 2 2 2 0 2 0 2-1 2 1 2-2 2 1 2-1 2 2 3 0 2 0 2 0 2-3 2 2 2 2 2-1 2-3 2-1 2 1 2-2 2 0 2 1 2 1 2 0 2 2 2 0 2 0 2 0 2 2 2 0 2-1 2 0 2 0 2 0 2 1 2 0 2-2 2-1 2 3 2-1 2-3 2 4 2-1 2 0 2-1 2 1 2 0 2 0 2-1 2 0 3 1 2 0 2 0 2-2 2 1 2 0 2 1 2 0 2 0 2-1 2 1 2 0 2 1 2-1 2 1 2-2 2 2 2 0 2-1 2 0 2 0 2 1 2-1 2 1 2-2 2 2 2-1 2 1 2 0 2 0 2 0 2-1 2 1 2-1 2-1 2-1 2 1 2 2 2-1 2 0 3 0 2 0 2-1 2-1 2 0 2-1 2 1 2 0 2-1 2-2 2-3 2 4 2-2 2 4 2 2 2 0 2-1 2 1 2-1 2 2 2-2 2 0 2 2 2-1 2 1 2-4 2 0 2 3 2 0 2 0 2-2 2 3 2-3 2 0 2 0 2 0 2-1 2 0 2 0 2 1 2 1 3 0 2 1 2 0 2-1 2 1 2-1 2-2 2 1 2 2 2-2 2 2 2 1 2-2 2 0 2 1 2 1 2-4 2 4 2-1 2 0 2 1 2-1 2 1 2 0 2 0 2-1 2 1 2-2 2 1 2 1 2-1 2 1 2-1 2 0 2 0 2 0 2-1 2 0 2-1 2 1 3 1 2-1 2 1 2 0 2 0 2-1 2 1 2 0 2-2 2 3 2 0 2-2 2 0 2 0 2 1 2 1 2 0 2 0 2 0 2-2 2 2 2 0 2-1 2 1 2 0 2-2 2 0 2 2 2-1 2 0 2-1 2 0 2-2 2-1 2-1 2 0 2-3 2 4 2 3 2-2 2 2 3 0 2 0 2 0 2 1 2-3 2 2 2 1 2 1 2-1 2 1 2-1 2 1 2-5 2 4 2 0 2 1 2 0 2-2 2 1 2 1 2-1 2 1 2 0 2 0 2-1 2 1 2-1 2 0 2-1 2 1 2-2 2 1 2 1 2 1 2-1 2 0 2-1 2-1 2 1 2-1 3 0 2 2 2 0 2-1 2-1 2 0 2-1 2 1 2-1 2-6 2-1 2 2 2 5 2 2 2 0 2 0 2 0 2 1 2 0 2 1 2-2 2 1 2-1 2-1 2-11 2-4 2-5 2 3 2 3 2 5 2 6 2 3 2 1 2-1 2 0 2 1 2-2 2 0 2-1 2 0 2 1 3-1 2 2 2 2 2 0 2-1 2 2 2-1 2 0 2 0 2 1 2-2 2 1 2 0 2 1 2 0 2 0 2 0 2 0 2-2 2 2 2-1 2 0 2 1 2-1 2 0 2-1 2 1 2 1 2-1 2-1 2 1 2 0 2-1 2 1 2 0 2 0 2 1 2-1 2 1 2-3 3 2 2-2 2 3 2 0 2 0 2-1 2 1 2-1 2 1 2-2 2 2 2 0 2 0 2 0 2 0 2 0 2-1 2 1 2 0 2-1 2 0 2-1 2 2 2 0 2 0 2-2 2 2 2-2 2 1 2-1 2 1 2 0 2-2 2 2 2 0 2-1 2 0 2 1 2 0 2 1 2-2 3 1 2-1 2 0 2 2 2-1 2-1 2 2 2 0 2 0 2-1 2 1 2-3 2-2 2-2 2-1 2-3 2 4 2 1 2 4 2 1 2-1 2 1 2-1 2 1 2 1 2-1 2 0 2-1 2-2 2-7 2-3 2-13 2-2 2 8 2-3 2 10 2-1 2-1 2-6 2 10 3 1 2 0 2-9 2-3 2 5 2 10 2 0 2 4 2 4 2-1 2 0 2 0 2 1 2-2 2 0 2 0 2 1 2-2 2-3 2-3 2-9 2-8 2 4 2 7 2 7 2 5 2 1 2 1 2 0 2 1 2-1 2 0 2-1 2-1 2 1 2 0 2 2 2 0 2-2 2 0 3 1 2 1 2-2 2 2 2-1 2 0 2 1 2 0 2-2 2 2 2-1 2 1 2 0 2-2 2-1 2 2 2-1 2 0 2 1 2-1 2 1 2-1 2 0 2-1 2 1 2-1 2 0 2 1 2-2 2 0 2 0 2-1 2 0 2-6 2 2 2-1 2-1 2 4 2 3 2-2 2 2 3-4 2 5 2-3 2 1 2 1 2 0 2 0 2 0 2 1 2-3 2 3 2-8 2 2 2 3 2-1 2 0 2-1 2 2 2 0 2-1 2 0 2-3 2 2 2-1 2 4 2 0 2 2 2-5 2 2 1-1M564 2802l2-5 1-1 1-11 1-1 1 4 2 3 1 0 1-11 1 12 1-11 2 2 1-17 1 14 1 3 1-13 2 22 1-7 1 7 1-2 1 1 2-2 1-3 1 1 1 1 1-3 1 7 2 3 1 0 1-9 1-7 1 13 2 4 1 1 1-8 1 5 1-8 2 9 1 1 1-1 1 3 1-2 2 2 1-4 1 5 1 0 1 0 1-4 2 6 1 0 1-4 1 2 1 1 2 1 1-1 1 1 1 1 1 1 2-8 1 4 1-2 1-4 1 3 2 0 1-5 1 3 1-2 1-3 1 2 2-7 1 4 1 1 1 0 1 6 2-3 1 2 1 1 1 3 1-1 2 1 1 2 1 4 1 0 1-1 2 1 1 1 1 1 1-2 1 1 1-1 2 1 1 0 1-2 1 2 1 0 2 1 1 0 1-1 1 1 1-3 2 3 1-2 1 2 1 0 1-2 2-1 1 3 1 0 1-1 1 0 2-1 2 1 2-2 2 2 2-1 2 1 2 0 3-1 2 1 2 1 2-1 2-1 2 1 2-1 2 1 2-3 2 3 2-3 2-2 2-1 2-3 2 3 2 0 2 4 2 1 2 1 2 0 2-1 2 1 2 1 2 0 2-2 2 2 2-1 2 0 2 1 2-2 2 2 2 0 2 0 2 0 2-2 2 0 2 1 2-1 2-3 2 5 3-1 2 0 2 0 2 0 2 1 2-5 2 3 2 0 2 2 2 0 2-1 2 1 2-1 2-1 2 2 2-1 2 0 2-1 2 1 2 0 2 1 2-3 2 0 2 2 2 0 2-1 2 1 2 0 2 0 2 0 2 1 2-3 2 3 2 0 2 0 2-2 2 1 2-1 2 1 2 0 2 1 3-3 2 1 2 1 2-1 2 0 2 0 2 1 2 0 2-2 2 1 2-4 2 1 2-1 2 2 2 1 2 2 2 0 2 1 2 0 2-2 2 1 2-1 2 2 2 0 2-1 2 1 2-1 2 1 2-2 2 1 2 1 2-1 2 1 2-1 2 0 2-1 2-1 2-3 2 1 2 0 3 2 2 0 2 1 2 2 2-1 2 0 2 0 2-1 2 1 2 0 2-1 2 2 2 0 2-1 2 0 2 1 2-1 2 0 2-1 2 2 2 0 2-1 2 1 2-1 2-1 2 1 2 1 2-1 2 0 2 0 2-1 2 0 2 2 2-3 2 0 2 2 2 0 2 0 2 0 2 0 2 1 3-2 2 0 2 1 2 0 2 0 2 0 2 1 2-1 2-1 2 1 2-1 2 2 2-1 2-1 2 2 2-1 2 0 2 1 2 0 2-1 2 1 2 0 2 0 2-1 2-1 2 1 2-1 2 1 2-3 2 3 2 0 2-3 2 3 2 0 2-4 2 0 2-2 2-1 2 0 2 4 3 1 2 1 2 0 2 1 2-1 2 1 2 0 2-1 2 2 2 0 2 0 2-1 2 1 2-1 2 0 2 1 2-2 2 2 2 0 2 0 2-1 2-1 2 1 2 1 2 0 2-1 2 1 2-1 2-1 2 1 2 1 2-1 2 1 2-1 2-1 2-1 2 1 2-1 2 1 2 0 2 1 3 0 2-2 2 3 2-1 2 1 2 0 2-1 2 1 2-1 2-1 2-4 2 0 2 0 2 3 2 2 2 0 2 1 2 0 2-1 2 1 2-1 2 0 2-1 2 2 2-1 2-1 2-4 2-6 2-3 2-3 2 4 2 5 2 3 2 3 2 0 2 0 2 2 2-2 2 1 2-1 3-1 2-1 2-1 2 2 2 2 2 0 2 1 2 1 2-1 2-1 2 1 2 0 2-2 2 1 2 0 2 1 2 1 2-3 2 3 2-1 2 0 2 0 2 0 2-2 2 1 2 1 2-1 2 0 2 0 2 0 2 0 2 1 2-3 2 3 2 0 2-1 2 2 2-2 2 1 2 0 2 1 3-2 2 1 2 1 2-1 2-1 2 1 2 0 2 2 2-4 2 2 2 1 2-2 2 2 2-1 2 1 2-2 2 0 2 2 2-1 2-2 2 2 2-2 2 2 2 0 2 0 2 0 2 0 2 0 2-1 2 0 2 1 2 0 2-1 2 1 2 0 2 1 2 0 2-1 2-1 2 2 3 0 2 0 2 0 2 0 2-2 2 2 2-1 2 2 2-3 2 2 2-1 2 0 2 0 2-1 2-3 2-4 2-5 2 1 2 1 2 8 2 1 2 1 2 0 2 2 2-2 2 1 2 1 2-3 2 2 2-1 2 0 2-4 2-5 2-5 2-13 2 10 2 1 2 7 2-3 2-1 2-20 3 17 2 1 2 2 2 6 2-4 2-12 2-2 2 11 2 11 2-1 2 5 2 0 2 0 2 0 2 1 2-1 2 0 2 0 2 0 2-2 2-4 2 1 2-3 2-4 2 4 2 3 2-1 2 6 2 1 2-1 2-2 2 2 2 0 2 1 2-1 2 1 2 0 2-1 2 1 2 0 3-1 2 1 2-1 2 1 2-2 2 2 2 0 2 0 2 0 2 0 2-2 2-1 2 0 2 1 2 1 2 0 2 0 2 0 2 0 2-2 2 2 2-4 2 2 2 1 2 0 2-1 2 2 2 0 2-1 2-1 2 2 2-1 2-1 2 1 2-3 2-2 2-1 2 0 2 1 2 2 2 1 3-3 2 1 2 0 2-3 2 6 2-6 2 4 2 0 2 1 2-8 2 7 2-3 2 1 2 1 2 1 2-2 2-1 2 3 2-4 2 6 2-3 2 1 2-1 2 2 2-6 2 4 2-1 2-2 2 2 2 0 2 0 1 2M554 2812l1-6 2 1 1-13 1 4 1-19 1 11 2 11 1-1 1-2 1-1 1-9 1 10 2 0 1-10 1 9 1-3 1 2 2 1 1-14 1 18 1-5 1-7 2 12 1-1 1-10 1 12 1-14 2 15 1-4 1-4 1 6 1-3 2 1 1 2 1-3 1 4 1 4 1-2 2 2 1 1 1-6 1 4 1 1 2-2 1-2 1 7 1-4 1 5 2-5 1 4 1-1 1 1 1 0 2-5 1-3 1 9 1-3 1 1 1 3 2-1 1-1 1 0 1-5 1 3 2-1 1-4 1 0 1-3 1 0 2 3 1 0 1-1 1 3 1 1 2-3 1 5 1 0 1 1 1 0 1-1 2 2 1 1 1-1 1 2 1-1 2 1 1-1 1 2 1-2 1 2 2 0 1 1 1-3 1 3 1-1 2-1 1 1 1 1 1-3 1 4 1-1 2 1 1 0 1-1 1 0 1 1 2-1 1 1 1 0 1-1 1-3 2 2 2 0 2 1 2 1 2 0 2 0 2-1 2 2 2-1 2-3 2 3 2-2 2 1 2 0 2 1 2 0 2-1 2-3 2 0 2-5 2 2 2 0 2 2 2 2 2 1 2 1 2-1 2 2 2 0 2-2 2-2 2 3 2 1 2 0 2-4 2 4 2-2 3 2 2-2 2 1 2 0 2 0 2 1 2 0 2 0 2-1 2-1 2-1 2 1 2 1 2 1 2 0 2-3 2 3 2-1 2 1 2 0 2-3 2 2 2-1 2 0 2 0 2 1 2-1 2-1 2 3 2 0 2-1 2 0 2 0 2-1 2-1 2 3 2-2 2 0 2 1 2 0 2 0 3 1 2-2 2 2 2 0 2 0 2 0 2 0 2-1 2-1 2 1 2 0 2 1 2 0 2 0 2-1 2 1 2 0 2-1 2-2 2 0 2-3 2 1 2-1 2 3 2 2 2-1 2 0 2 1 2-4 2 5 2-1 2-1 2 2 2 0 2-1 2-1 2 0 2 1 2 1 2 0 3 0 2-1 2 1 2-1 2 1 2-4 2 0 2-4 2 2 2-1 2 4 2 0 2 2 2 1 2 0 2 0 2 0 2-2 2 2 2-2 2 1 2 0 2 0 2 1 2 0 2-1 2 0 2 0 2-2 2 2 2-1 2 2 2-1 2 1 2 0 2-2 2 1 2 1 2-1 2 1 2 0 3 0 2-1 2-2 2 3 2-2 2 2 2 0 2-3 2 3 2-2 2 2 2-1 2 1 2 0 2 0 2-1 2 1 2-1 2-1 2 1 2 0 2 0 2-2 2 3 2 0 2-1 2 0 2 1 2-2 2 1 2 0 2-1 2 2 2-2 2 2 2 0 2 0 2 0 2-1 2 1 3-1 2 1 2-1 2-2 2-2 2-3 2 3 2 1 2 0 2 3 2 1 2 0 2-1 2 0 2-2 2-1 2 3 2 0 2 0 2 0 2 0 2 1 2-2 2 1 2 0 2 1 2-1 2-1 2 2 2 0 2-1 2 1 2-2 2 1 2 0 2 2 2-1 2-2 2 1 2 1 2 0 3 0 2 0 2 0 2-1 2 1 2-3 2 3 2-2 2 1 2-1 2 2 2 0 2 0 2-2 2 1 2-1 2-1 2-2 2 0 2-1 2-6 2 2 2 4 2 2 2 2 2 2 2 0 2-1 2 0 2 1 2-1 2 1 2 0 2-1 2 1 2-2 2-3 2-3 2-5 2 0 3 0 2 5 2 4 2 1 2-2 2-1 2 4 2 1 2-1 2-2 2 0 2 1 2 1 2-2 2-2 2 4 2 0 2 2 2 0 2 0 2-2 2 2 2-1 2-1 2 0 2 2 2-1 2 0 2 0 2 1 2 0 2 1 2-1 2 0 2 0 2-1 2 1 2 0 2-2 2 1 2 0 3 1 2-1 2 1 2 0 2-1 2-1 2 1 2 1 2-1 2 0 2 0 2-1 2 1 2-1 2 0 2 1 2 0 2 0 2 0 2 1 2 0 2-5 2 3 2 0 2 1 2-2 2 2 2-2 2 1 2 2 2-2 2 3 2-1 2-1 2 1 2 0 2 0 2 0 2 0 2 0 3 0 2 0 2 0 2 0 2-3 2 3 2 0 2-1 2 1 2-1 2 0 2-1 2 1 2-2 2 3 2-1 2 0 2-1 2 0 2 0 2 2 2-1 2 0 2-2 2-1 2-1 2-4 2 4 2 1 2 2 2 1 2 1 2 0 2-3 2 2 2 0 2 0 2-1 2 1 2-1 2-3 3-5 2-5 2-3 2-2 2 4 2 4 2 2 2 0 2-4 2 2 2 0 2 5 2-1 2-4 2-5 2 2 2-2 2 9 2 5 2 1 2 2 2-1 2 1 2-1 2 1 2 0 2-2 2 2 2-2 2-1 2-4 2 0 2-1 2-3 2 4 2 1 2 5 2 0 2-1 2 1 3-1 2 2 2-3 2 3 2-3 2 2 2-1 2 0 2 2 2-4 2 3 2 0 2 0 2 0 2 0 2 1 2 0 2-1 2 1 2 0 2 0 2 0 2 0 2 0 2 0 2 0 2-2 2 1 2 1 2-2 2 0 2 1 2-2 2 3 2-1 2-1 2 0 2 0 2-1 2 0 2-1 3 1 2-1 2-3 2-3 2 3 2 0 2 2 2-1 2 2 2 0 2-1 2 1 2 0 2-3 2 5 2-3 2 2 2-3 2 4 2-2 2 2 2-7 2 5 2-1 2 2 2-2 2 2 2-3 2 3 2-4 2 4 2-7 2 5 2-2 2-1 2 0 2 5 2-1 2 1 2-1 1-1M544 2815l1 0 1-14 1 4 2 5 1-7 1 1 1 4 1-15 2 16 1-6 1 2 1-1 1-11 2 6 1 7 1-13 1 3 1-3 2 12 1 2 1-3 1 2 1-23 1 11 2-1 1 5 1 9 1-1 1 5 2-5 1 2 1-11 1 3 1 11 2 0 1 1 1-6 1 3 1-2 2 9 1-1 1 0 1-1 1-1 1 2 2-2 1 4 1-4 1 0 1-2 2 1 1 4 1 3 1-8 1 3 2 1 1-3 1 4 1-3 1 4 2 2 1-2 1-2 1 1 1 1 2-4 1 0 1-4 1 1 1 1 1-3 2 2 1-1 1-2 1 6 1-2 2 0 1 5 1-4 1 6 1-4 2 3 1 1 1-3 1 2 1 3 2-1 1 1 1-1 1-1 1 3 1-1 2-2 1 3 1 1 1-1 1 0 2 1 1 0 1 0 1-1 1 0 2 1 1 0 1-1 1 1 1 0 2-2 1 1 1 1 1 0 1-2 1 1 2 1 2 0 2-3 2 2 2 1 2 0 2 0 2 0 2-1 2 0 2-1 2 1 2 0 2-1 2 0 2 0 2 0 2-4 2 1 2-4 2 3 2 0 2 4 2-1 2 2 2 1 2-3 2 2 2-1 2 2 2 0 2 0 2-1 2 0 3-1 2 1 2 2 2 0 2-2 2 1 2-3 2 2 2 0 2 1 2 0 2 0 2-2 2-1 2 3 2-1 2 0 2 1 2-2 2 1 2 0 2 0 2-2 2 2 2 1 2-1 2 0 2-2 2 1 2 2 2 0 2 0 2-1 2 1 2 0 2 0 2 0 2-1 2 1 2-2 3 2 2-1 2 0 2 2 2-1 2-1 2-1 2 1 2 0 2 1 2-1 2 0 2 1 2-2 2 1 2-1 2 0 2 1 2 1 2-3 2 0 2 0 2-2 2-1 2 0 2 3 2-1 2 3 2 0 2 0 2 1 2-1 2 1 2 0 2 0 2-1 2 2 2-1 2 0 2-1 2 1 3 1 2-2 2 2 2-2 2 1 2 0 2 0 2-2 2-5 2 1 2 0 2-6 2 9 2 0 2-1 2 3 2 0 2 0 2 0 2-3 2 2 2 2 2-1 2 1 2-1 2 0 2 1 2 0 2-1 2 1 2-1 2 0 2 2 2-1 2-2 2 2 2-1 2 0 2 2 2-1 3 0 2-1 2 0 2 1 2-1 2 1 2-1 2-1 2 2 2-1 2 1 2-1 2 0 2-1 2 0 2 1 2 0 2 0 2-1 2 2 2-1 2-1 2 0 2 1 2-3 2 1 2 2 2 1 2-1 2 1 2 0 2 0 2-1 2-1 2 3 2-1 2-1 2 0 2 1 2-1 2 0 3 1 2 0 2-1 2 0 2 0 2-2 2-4 2-1 2 3 2-3 2 6 2-1 2 1 2 1 2-1 2 1 2 0 2-2 2 2 2-1 2 1 2 1 2-1 2 1 2 0 2 0 2-1 2-2 2 1 2 2 2 0 2-1 2 1 2-1 2-3 2 3 2 1 2 0 2 0 2-1 3 0 2 1 2-1 2 1 2-3 2 2 2-1 2 2 2-1 2 0 2 0 2 1 2 0 2-2 2-1 2 2 2 1 2-1 2 0 2-1 2-1 2-1 2-2 2-1 2-2 2 2 2 5 2 2 2 0 2 0 2 0 2 0 2-1 2 1 2 1 2-3 2 2 2 0 2-2 2 0 2-4 3-3 2 0 2-2 2-1 2 7 2 2 2 1 2-2 2 0 2 2 2-3 2 2 2 0 2-1 2 1 2 1 2 0 2 1 2 1 2-2 2 1 2-1 2 2 2 0 2 1 2-2 2 1 2-4 2 4 2-1 2 1 2-1 2 0 2 2 2-1 2 0 2-1 2 1 2-1 2 0 3-1 2 2 2-2 2 0 2 1 2 0 2-1 2-1 2-1 2 4 2-1 2 0 2-1 2 0 2 2 2 0 2-1 2 1 2-1 2 0 2 1 2 0 2 0 2-1 2 1 2-1 2 0 2 1 2-1 2 1 2-1 2 0 2 0 2 0 2 0 2 0 2-1 2 1 2 1 2 0 2-1 3 1 2 0 2-4 2 3 2 1 2 0 2-2 2 1 2 0 2 0 2 0 2 1 2-1 2-2 2 3 2-1 2 1 2-2 2 1 2 1 2 1 2-1 2 0 2-2 2 1 2-2 2-6 2-6 2 10 2 0 2 3 2-2 2 3 2 1 2-1 2 0 2 1 2-1 2 1 2 0 3-2 2 0 2-6 2-5 2-2 2-5 2 3 2 3 2 2 2 1 2-3 2-1 2-1 2 5 2 2 2 2 2-4 2 2 2-4 2 5 2 2 2 2 2 1 2 1 2 2 2-2 2 1 2 1 2 0 2 0 2-2 2 1 2-4 2-2 2-2 2-1 2-1 2 4 2 4 2 2 2-2 3 3 2-1 2-1 2 0 2 2 2-2 2 1 2-1 2 1 2 0 2 1 2-1 2-1 2 0 2 2 2-3 2 2 2 2 2-3 2 2 2 1 2-1 2 0 2 0 2-1 2 1 2 0 2-1 2 0 2-2 2 3 2-2 2 1 2 0 2 0 2 0 2-2 2 0 2 1 2 0 3 0 2-3 2 2 2-1 2-5 2-2 2 1 2 1 2 1 2 1 2 2 2 0 2 1 2 0 2-1 2 1 2-2 2 2 2 0 2 0 2-1 2 2 2-1 2 0 2-3 2 0 2-4 2 6 2 0 2 2 2 0 2-3 2-3 2 6 2-3 2 2 2 0 2 1 2-4 2 2 2 1 3 0 2 0M534 2828l1-4 1-7 1-8 1 7 2-10 1 8 1-17 1 17 1 6 2-12 1 4 1-2 1 3 1-11 1 10 2-11 1 12 1-5 1-2 1-2 2-5 1 12 1-13 1 18 1-10 2 10 1-7 1-2 1 0 1 12 2-7 1 2 1 2 1-5 1 9 1-6 2 9 1 0 1-1 1-1 1-4 2-1 1 1 1 5 1-2 1 3 2-2 1 0 1-1 1 5 1-1 2-5 1-1 1 4 1 3 1 0 1-4 2 5 1-6 1 6 1-3 1 3 2-1 1-4 1 0 1-4 1 2 2-2 1-4 1 1 1 3 1-5 2 4 1 1 1-2 1 2 1 0 1 4 2 2 1 1 1 2 1-3 1 0 2 3 1-2 1 3 1 1 1 0 2 1 1-1 1 1 1-2 1-1 2 1 1 1 1 0 1 1 1 1 2-2 1 2 1-1 1 1 1 0 1-1 2 0 1 0 1 1 1-2 1-1 2 2 1 0 1 1 1-2 1 2 2 0 1 0 2-1 2 1 2 0 2-1 2-1 2 1 2 1 2 0 2-3 2 1 2 2 2-1 2 1 2-1 2-1 2-3 2-1 2-2 2 3 2 2 2 2 2 0 2 1 2 0 2 0 2 0 2 0 2-2 2 1 2 0 3 0 2 1 2-1 2 1 2-4 2 1 2 3 2 0 2-2 2 0 2 2 2-1 2 0 2 0 2-1 2 2 2 0 2 0 2-1 2 1 2 0 2-1 2 0 2 0 2 1 2 0 2-2 2 2 2 0 2 0 2-1 2 0 2 1 2-1 2 0 2 1 2 0 2 0 2-3 2 2 3 0 2 1 2-1 2 0 2-1 2 0 2 1 2-1 2 1 2 1 2-1 2-1 2 1 2 1 2 0 2 0 2-1 2 1 2 0 2 0 2-1 2-1 2 0 2-2 2-2 2 1 2 1 2 0 2 3 2 1 2-2 2 1 2 0 2 1 2-2 2 2 2-1 2 1 2 0 2 0 2-2 3 1 2 0 2 0 2-2 2 3 2 0 2-2 2 1 2 0 2-1 2 0 2-8 2 5 2-3 2 4 2 0 2 4 2 1 2-1 2-1 2 1 2 1 2-1 2 0 2-3 2 1 2 1 2 1 2-1 2 1 2-1 2 1 2-1 2 0 2-1 2 1 2 0 2 0 2 0 2-1 3 2 2 0 2-1 2-1 2 0 2 1 2 0 2 1 2-1 2 1 2 0 2 0 2-1 2 0 2-1 2 2 2 0 2 0 2 1 2 0 2-1 2 1 2-1 2 1 2-2 2 2 2-2 2 1 2-1 2 1 2-2 2 2 2-1 2-1 2 1 2 0 2 0 2-1 2 1 2 1 2-2 3 0 2 1 2-1 2 2 2 0 2-2 2-3 2-1 2-1 2 0 2 2 2 1 2 1 2 3 2 0 2 0 2 1 2-1 2 0 2 1 2-1 2 1 2-1 2-1 2 1 2 0 2-1 2-1 2 1 2 1 2-1 2 1 2 0 2 0 2-2 2 0 2-1 2 2 2 0 2 1 3-1 2 1 2-2 2 1 2 1 2-1 2 1 2 0 2-1 2-1 2 1 2 1 2-1 2 0 2 1 2-2 2 2 2-1 2-2 2 3 2-1 2-1 2-1 2-1 2-2 2-5 2 5 2 3 2 2 2 0 2-1 2 1 2 0 2 1 2-1 2 1 2-1 2 1 2-2 2 1 2 0 3-3 2-2 2-12 2-8 2 11 2-3 2 7 2 3 2 3 2 3 2 1 2-1 2 1 2-1 2 0 2-1 2 0 2 2 2-1 2 2 2 0 2-2 2 1 2 1 2-1 2 0 2 1 2 0 2-1 2 1 2 0 2-3 2 1 2 1 2-1 2 1 2 0 2 0 2 0 2 0 3 0 2-1 2-1 2 2 2 1 2 0 2-1 2-1 2 3 2-3 2 3 2-2 2-1 2 2 2 0 2 0 2-2 2 0 2 2 2-2 2 2 2 0 2-1 2-2 2 0 2 1 2 0 2 1 2 0 2 0 2 1 2-2 2 0 2 2 2 0 2-1 2 0 2 1 2 0 2 0 2 0 3 0 2 0 2-1 2 1 2 1 2-2 2 1 2-1 2 1 2 1 2 0 2-2 2 1 2 0 2-2 2 2 2-1 2-1 2 1 2 0 2-1 2 0 2 1 2 0 2 0 2 0 2-2 2-4 2 0 2-2 2 3 2 1 2 3 2-1 2 1 2 0 2-1 2 3 2 0 2 0 3 0 2 0 2-1 2-1 2-1 2-3 2-4 2 1 2 0 2 4 2-1 2-1 2-10 2 3 2 6 2-1 2 3 2-1 2-3 2 1 2-4 2 3 2 2 2 4 2 3 2-1 2 1 2 0 2 1 2-2 2 1 2 1 2-1 2-2 2-2 2-3 2-5 2-2 2 5 2 2 3 5 2 2 2-1 2 2 2-1 2-1 2 2 2-1 2 0 2-1 2 1 2 1 2 0 2-2 2 1 2 0 2 1 2 0 2 0 2-4 2 4 2-1 2 0 2 0 2 1 2-1 2 0 2 0 2 0 2 1 2-1 2 1 2-2 2 1 2 0 2 0 2 0 2 0 2 0 2 1 2-3 3 0 2 3 2-1 2 0 2-1 2-2 2-1 2-1 2-1 2 0 2 1 2 3 2 0 2-1 2 2 2-1 2 0 2-1 2 0 2 0 2-1 2-1 2 1 2 2 2-2 2 0 2-1 2 2 2-2 2 2 2-3 2 2 2 2 2 0 2-3 2-1 2 5 2-2 2-1 2 0 3-2 2 4 2 1 2 0 2-1M523 2834l1-4 2-7 1-1 1 0 1-4 1 6 2-1 1 1 1-5 1-4 1 1 2-1 1 5 1 6 1-11 1-24 2 20 1 11 1-7 1 6 1-11 2 12 1 1 1-2 1 4 1-9 1 6 2-6 1 14 1-6 1 0 1 3 2-8 1 3 1 8 1-7 1-2 2 5 1 4 1-2 1 2 1-1 2-1 1-1 1 3 1 0 1 1 1-7 2 5 1 1 1-1 1-1 1 2 2 3 1-5 1 3 1 0 1 1 2 1 1 3 1-6 1 3 1-2 2 4 1-2 1-8 1 7 1-4 1 0 2 1 1-4 1-2 1 1 1 0 2-1 1 3 1 0 1 0 1 4 2 1 1-4 1 6 1-1 1 1 2 1 1 0 1-2 1 4 1 0 1-2 2 1 1 0 1 0 1 2 1-4 2 4 1-1 1 1 1-1 1 1 2 0 1 0 1 0 1 0 1-1 2 0 1 2 1-1 1 1 1-2 2 1 1 1 1 0 1 0 1 0 1-1 2 0 1 0 2-3 2 4 2-1 2 0 2 2 2-1 2-2 2 2 2 0 2 0 2 0 2 0 2 0 2-5 2-2 2-3 2-7 2 10 2 1 2 3 2 0 2 2 2 1 2 0 2 0 2 0 3-6 2 4 2 0 2 0 2 0 2 2 2-1 2 0 2 1 2-1 2 0 2-2 2 2 2 1 2-1 2 1 2 0 2 0 2 0 2-1 2 1 2 0 2 1 2-1 2 1 2-1 2 0 2 1 2-1 2 0 2-3 2 1 2 1 2-1 2 2 2-1 2-1 2 0 2 1 2 1 2-1 3-1 2 0 2 2 2-1 2 1 2 0 2-1 2 1 2 0 2-2 2 2 2-1 2 2 2 0 2-1 2 0 2-1 2 2 2-2 2 0 2 0 2 1 2-1 2 0 2-4 2-3 2 0 2 3 2 0 2 2 2 2 2 0 2 1 2-1 2 0 2-1 2 0 2 1 2 0 2 1 3-2 2 1 2 1 2-1 2 0 2 1 2 0 2 1 2-3 2 1 2 0 2 1 2-3 2-2 2-2 2-1 2-3 2 6 2 3 2 0 2 3 2-1 2 1 2 0 2-3 2 2 2-1 2 1 2 0 2 0 2-2 2 1 2 0 2 0 2-2 2 3 2-1 2 0 2 1 2-1 2 1 3-2 2 1 2 0 2-2 2 3 2 1 2-2 2 1 2-1 2-2 2 3 2 0 2 0 2 0 2 0 2-2 2 1 2 1 2 0 2 0 2 0 2 0 2 0 2-1 2 1 2 0 2-1 2 0 2-3 2 3 2 1 2 0 2-1 2 1 2-1 2 0 2-2 2 3 2 0 2-2 3 1 2-2 2 2 2 0 2 0 2 2 2-1 2-2 2-1 2 0 2-1 2 0 2 2 2-1 2 3 2 0 2 0 2 0 2 0 2-1 2 2 2-1 2 0 2 0 2-1 2 1 2 0 2-2 2 2 2 0 2-2 2 0 2 2 2-1 2 1 2-3 2 3 2 0 2 0 2-1 2 1 3 0 2 0 2 0 2 0 2 0 2 1 2-2 2 1 2 1 2-1 2 0 2 0 2-1 2 0 2 2 2-1 2-3 2 3 2 0 2 0 2 0 2-2 2 1 2-5 2 2 2-2 2-7 2 5 2 3 2 1 2 1 2 1 2 1 2 0 2-1 2 2 2 0 2 0 2-3 2 3 3-2 2 2 2 0 2-1 2-1 2-3 2-6 2-6 2 0 2 9 2 0 2 5 2 1 2 2 2-1 2 0 2-1 2 0 2 1 2-1 2 1 2 0 2 0 2 0 2 1 2-2 2 2 2 0 2-2 2 1 2 1 2-1 2 1 2 0 2 0 2-2 2 2 2-2 2 1 2 1 2-2 3 1 2 1 2 0 2-3 2 4 2-2 2 0 2 2 2-2 2 0 2 0 2 0 2 2 2-1 2-1 2 0 2 1 2-1 2-1 2 1 2 1 2-1 2 1 2-1 2-2 2 3 2-2 2 1 2 1 2-1 2 1 2-1 2 1 2-4 2 4 2-1 2 0 2 1 2 0 2 0 3 1 2-1 2-1 2 2 2-1 2 0 2-1 2 1 2 0 2 0 2-2 2 1 2 1 2 0 2-1 2 0 2 0 2 0 2-1 2 1 2 0 2 1 2-1 2 1 2 0 2 0 2-1 2 1 2-2 2 0 2-6 2 2 2 2 2 0 2 2 2 1 2 0 2 2 2-4 2 3 2-2 3 2 2 1 2 0 2-1 2 0 2-2 2-5 2-4 2-2 2-9 2 8 2 4 2 1 2-3 2 0 2-7 2 6 2 4 2 3 2 1 2 0 2-8 2 5 2 2 2 1 2 4 2 0 2 0 2 1 2-3 2 3 2-1 2 1 2 0 2-1 2 0 2-3 2-6 2-4 2 2 3 3 2 3 2 4 2 2 2-1 2 1 2 1 2-2 2 1 2-2 2 1 2 1 2 0 2 0 2 0 2-1 2-1 2 2 2 0 2-2 2 1 2 1 2-1 2 1 2-2 2 2 2-2 2 2 2 0 2 0 2 0 2 0 2 0 2 0 2-1 2 1 2-1 2 2 2-1 2-2 2 1 3 0 2 0 2 1 2-3 2 1 2 0 2 0 2-1 2-1 2 0 2-4 2 2 2 2 2 1 2 0 2 0 2 1 2-2 2 1 2 1 2 0 2-3 2 2 2-3 2 3 2-2 2 0 2 3 2-2 2-1 2 0 2 3 2-3 2-2 2 4 2 0 2-1 2 2 2 0 2-1 3-1 2 0 2 0 2 0 2 2 2 0 1-2M513 2841l1-8 1-1 2-4 1-10 1 4 1 10 1-10 2-5 1 3 1 6 1-2 1 7 1-27 2 0 1 10 1 13 1-2 1 10 2-11 1-1 1 9 1-2 1-3 2-1 1-1 1-2 1 12 1-1 2-22 1 21 1 2 1-4 1 4 1 4 2-2 1-4 1 1 1 1 1 0 2 4 1 1 1-3 1 0 1 0 2 2 1 1 1 1 1 0 1-6 2 4 1 2 1-1 1 3 1-4 2 3 1-1 1-5 1 8 1-1 1-3 2 3 1-3 1 2 1-3 1 1 2 0 1-2 1 1 1-5 1 5 2-1 1-2 1 0 1-1 1 0 2-2 1 3 1-1 1 2 1 3 1-4 2 4 1 0 1 0 1 2 1 1 2-2 1 0 1 3 1-2 1 1 2-1 1 2 1 1 1-1 1 2 2-2 1 2 1-3 1 2 1 1 1 0 2-1 1 0 1 0 1 1 1 0 2-3 1 3 1 0 1 0 1 0 2-1 1 0 1 1 1-1 1 0 2 0 1 1 1 0 2-2 2 2 2-2 2 0 2 1 2-1 2 2 2 0 2 0 2-2 2 2 2 0 2-1 2-4 2 0 2-7 2 4 2 3 2 3 2 1 2 0 2 2 2-1 3 1 2-2 2 1 2 0 2-2 2 0 2 1 2 0 2 0 2 0 2-1 2 1 2 0 2-1 2-1 2 1 2 1 2 1 2-3 2 2 2-1 2 1 2 1 2 0 2 0 2-1 2-1 2 1 2 1 2 0 2 1 2-1 2-1 2-1 2 2 2-1 2 1 2 0 2 1 2-2 3 2 2-2 2-2 2 2 2 1 2-2 2 2 2 0 2 0 2 0 2-1 2 1 2-1 2-2 2 3 2 0 2-2 2 1 2 0 2 0 2 0 2 1 2-1 2 0 2 0 2 0 2 0 2-4 2 1 2 0 2-1 2 3 2 1 2 1 2 1 2-1 2 1 2 0 2 0 2-1 2 0 3 0 2-1 2 1 2 0 2-1 2 1 2-1 2 0 2 1 2 0 2-1 2 0 2 1 2-1 2-1 2-2 2-3 2-2 2 4 2 1 2 2 2 1 2 1 2-1 2 1 2-3 2 4 2-2 2 1 2-1 2 2 2-3 2 1 2 1 2 1 2-2 2-1 2 2 2-1 2-1 3 2 2 0 2 0 2-2 2 2 2 0 2 0 2 0 2-1 2 0 2 0 2-2 2 3 2 0 2 0 2 0 2 0 2 0 2-1 2 0 2 2 2-1 2 1 2-2 2 1 2 0 2 0 2-3 2 4 2-2 2 1 2-4 2 3 2 0 2 1 2 1 2-4 2 3 2 0 2-1 2 1 3-1 2 1 2-1 2 1 2 0 2-1 2 0 2 1 2-1 2 0 2-2 2-1 2 1 2 0 2-1 2 2 2 2 2 0 2-1 2 0 2 0 2-1 2 2 2 0 2 0 2 1 2-2 2 2 2 0 2 0 2-1 2-1 2 0 2 2 2-1 2-1 2-1 2 2 2 0 2-1 3 1 2 0 2 0 2 0 2 0 2 0 2 0 2-2 2-1 2 3 2-3 2 3 2-2 2 1 2-1 2 0 2 1 2 1 2 1 2-2 2 1 2 0 2 0 2-1 2 1 2-1 2-4 2 2 2-2 2-4 2 2 2 3 2 2 2 1 2 0 2 1 2-1 2-1 2 2 2 0 2 0 3-1 2 1 2-1 2 1 2 0 2-4 2 1 2-3 2-5 2-12 2 6 2 2 2 5 2 6 2 2 2 2 2-2 2 1 2 0 2-2 2 2 2-1 2 1 2 0 2 1 2 1 2-1 2 0 2 0 2 1 2 0 2-1 2-1 2 1 2 0 2 0 2-1 2 0 2-2 2 3 3-2 2 2 2 0 2 0 2-1 2-1 2 1 2-2 2 3 2-1 2 1 2 0 2 0 2-2 2 1 2 1 2-2 2 1 2 1 2-1 2 0 2 1 2 0 2 0 2 0 2 0 2 0 2 1 2 0 2 0 2-1 2 0 2-3 2 3 2 0 2 0 2-2 2 2 2-1 2 0 2 1 3-1 2-3 2 4 2 0 2-1 2 1 2 0 2 0 2 0 2 0 2-1 2 1 2 0 2 1 2 0 2-1 2-1 2 2 2 0 2-1 2 0 2 0 2 0 2 1 2-2 2 1 2-1 2-1 2 2 2-2 2-3 2-3 2-4 2 5 2 0 2 3 2 1 2 2 2-1 2 0 3 0 2 1 2-1 2 2 2-1 2 0 2-1 2 1 2-2 2-8 2-9 2 3 2 0 2 7 2 2 2 4 2-1 2-3 2 2 2 0 2 4 2-2 2-2 2-2 2 1 2 0 2 1 2 4 2 1 2-2 2 0 2 3 2-2 2 0 2 0 2 2 2 0 2-2 2-2 2-1 2-5 3-8 2 4 2 3 2 3 2 5 2 2 2 0 2 2 2-1 2-2 2 3 2-1 2 1 2 0 2-1 2 0 2-1 2 2 2-4 2 3 2-2 2 3 2-2 2 0 2 1 2-1 2 1 2-1 2 1 2 0 2-1 2 0 2-1 2 1 2-2 2 3 2 0 2 0 2 0 2-1 3 0 2 1 2-1 2 0 2 0 2 1 2 0 2-2 2-2 2 1 2-3 2-1 2-1 2 2 2 3 2 0 2 2 2-3 2 0 2 1 2 0 2 2 2-2 2 0 2-1 2-1 2 1 2 1 2-3 2 3 2-1 2 1 2 0 2-1 2 0 2 0 2-2 2 2 2 0 2-1 2 3 3-3 2 0 2-1 2 3 2-1 2 1 2 2 2-3 1 0M503 2852l1-10 1-2 1-3 1 5 2-10 1-6 1 14 1-13 1 11 2 1 1 4 1-10 1 2 1-11 2 10 1 3 1-3 1 4 1 0 2-1 1-15 1 18 1-4 1 4 1 0 2-13 1 16 1-14 1 7 1-2 2 5 1-3 1 4 1 3 1 2 2-5 1 2 1 3 1-1 1-1 2 2 1-3 1 5 1-3 1 4 1 1 2-3 1 2 1-4 1 7 1-7 2 2 1 3 1 0 1-2 1-3 2 6 1 1 1 1 1 0 1 0 2-3 1-5 1 8 1 0 1-2 1-2 2-2 1 1 1-1 1-2 1-3 2-1 1-1 1-3 1-4 1 3 2 6 1-1 1 1 1 0 1 2 2 1 1 4 1 1 1 1 1-1 2 2 1 1 1-2 1 0 1 2 1-1 2 1 1-2 1 0 1 2 1-1 2-2 1 3 1 2 1-1 1-1 2 1 1 1 1-2 1 1 1 0 2 1 1 0 1-1 1 1 1-2 1 1 2 1 1 1 1 0 1 0 1-2 2 2 1-1 1 1 1-3 2 2 2-1 2 0 2 1 2 1 2-1 2 0 2-2 2 0 2 3 2-3 2 1 3-6 2 1 2-3 2 0 2 2 2 3 2 2 2 1 2 1 2-2 2 1 2-2 2 2 2 0 2-1 2 0 2 1 2 1 2-1 2 1 2-1 2 2 2 0 2-2 2 0 2 1 2-1 2 1 2 0 2 1 2-2 2-1 2 2 2 1 2 0 2 0 2-1 2 0 2 0 2 0 3 0 2 1 2-3 2 0 2 0 2 1 2-1 2 1 2 0 2 0 2 1 2-2 2 2 2 0 2-2 2 0 2 2 2 1 2-1 2-2 2 0 2 3 2-3 2 3 2 0 2-2 2 2 2-1 2-1 2 2 2 0 2-1 2 0 2 0 2-1 2 0 2-3 2-1 2 1 2-1 2 1 3 1 2 1 2 1 2 0 2 0 2-2 2 1 2 0 2 1 2-2 2 3 2 0 2 0 2-1 2 0 2 1 2-1 2 0 2 2 2-2 2 1 2 1 2-2 2 0 2-5 2 2 2-3 2-1 2 2 2 3 2 1 2 1 2 1 2 0 2 0 2-1 2 1 2-1 2 0 2-1 3 1 2 0 2 0 2 0 2 1 2-1 2 0 2 0 2-1 2 2 2-1 2 1 2-1 2 1 2-2 2 3 2-1 2 1 2-3 2 1 2 2 2-1 2 0 2-1 2 1 2-4 2 5 2-1 2 1 2-3 2 1 2-1 2 3 2-1 2-1 2-1 2 2 2-1 2-1 2 2 2 0 3-1 2 1 2 0 2-1 2 0 2 1 2-1 2 1 2 0 2-1 2 1 2 0 2 0 2-1 2 1 2 0 2 0 2-1 2-1 2-2 2-2 2-2 2 2 2 2 2 2 2 1 2 0 2 0 2 0 2 0 2 1 2 0 2 0 2-1 2-1 2 2 2 0 2 0 2 0 2-1 3 0 2-1 2 2 2 0 2 0 2 0 2 0 2-2 2 3 2-2 2 1 2 0 2-1 2 0 2 1 2 1 2 0 2 0 2 0 2 0 2 0 2 0 2 0 2 0 2-2 2 1 2 0 2 0 2 1 2-2 2 1 2 1 2-1 2-1 2-1 2-2 2 0 2-1 2-7 2 7 2 1 3 2 2 2 2-4 2 4 2-1 2 0 2 1 2 1 2-1 2 0 2 1 2 0 2-2 2 2 2-3 2 1 2-3 2-6 2-10 2-2 2 2 2 1 2 5 2 5 2 5 2 1 2 2 2 0 2-2 2 2 2 0 2 0 2 0 2-1 2 1 2 0 2 0 2 1 2 0 2 0 3 0 2 0 2 0 2-1 2 1 2 0 2 0 2 0 2-3 2 4 2-1 2 0 2-1 2 2 2-1 2 0 2-1 2 1 2 0 2 0 2 0 2-2 2 1 2 0 2 0 2-1 2 2 2-3 2 3 2 0 2-1 2 1 2-1 2 0 2 1 2 0 2 0 2-1 2 0 2 0 2 1 3-1 2 2 2-1 2-1 2 2 2-1 2 1 2 0 2-2 2 2 2-2 2 1 2 0 2-1 2 0 2 1 2 0 2 1 2 0 2-3 2 1 2 0 2 1 2-1 2-1 2 2 2-1 2 1 2-1 2-3 2 4 2-1 2 1 2-1 2 1 2-1 2-1 2 1 2-1 2-1 3-2 2-4 2 3 2 1 2 0 2 3 2 3 2-1 2 1 2-2 2 1 2 1 2-1 2-1 2 2 2 0 2-3 2-1 2-6 2 0 2-9 2-3 2 7 2 4 2 3 2-8 2 2 2 2 2-2 2 1 2 8 2 0 2-3 2 0 2 1 2 0 2 4 2 1 2-2 2 3 2 0 3 0 2 1 2-1 2 1 2-2 2 1 2-1 2-5 2-4 2-1 2-3 2 1 2 6 2 4 2 2 2 0 2 0 2 1 2 0 2 0 2 0 2-3 2 3 2 0 2-2 2 1 2 0 2 1 2 0 2 0 2-2 2 1 2 1 2-2 2 2 2 0 2-2 2 2 2-1 2 1 3 1 2-1 2 0 2-2 2-1 2 4 2-1 2-2 2 3 2-2 2 0 2-1 2 2 2-2 2 0 2 0 2 0 2-1 2 0 2-2 2 0 2-1 2 2 2-1 2 1 2 0 2 2 2 1 2-2 2 1 2-1 2 2 2-5 2 0 2 3 2 2 2 0 2 0 2-4 2 2 2 1 3 0 2-2 2 2 2-1 2-1 2 1 2 2 2-2 2 1 2-1 2 1 2 0 2-2 2 2 2 0 2-2 2 2 2-1M492 2858l2-16 1-4 1-14 1 7 1 11 2 6 1-6 1 6 1-12 1 3 2 7 1 4 1-4 1 6 1-15 1 2 2-6 1 6 1 1 1 1 1 8 2-4 1 2 1-4 1 9 1-16 2 11 1 4 1-6 1-5 1 14 2-5 1 6 1-5 1-1 1-2 1 4 2 1 1 2 1-2 1-3 1 6 2-4 1 3 1-8 1 6 1 2 2 0 1 4 1-6 1 3 1 0 2 0 1 1 1 1 1 0 1 0 1 0 2-1 1 3 1 0 1 1 1-2 2 0 1 0 1 0 1-2 1-2 2 0 1 0 1 0 1-5 1 0 2 0 1 1 1 0 1 0 1-3 1-2 2 6 1-1 1 1 1 4 1-2 2 1 1 2 1 2 1 2 1-1 2 0 1-2 1 4 1 0 1-1 2 0 1-2 1 2 1 1 1 0 2-2 1 1 1 0 1 2 1 0 1 0 2 0 1 0 1 0 1 0 1-1 2-1 1 1 1 0 1 1 1 0 2 0 1 0 1 0 1 0 1 0 2 0 1 0 1 0 1-1 1 0 2 1 2-1 2 1 2-1 2 1 2 0 2 0 2 0 2-2 3 1 2-2 2-2 2-2 2-2 2-1 2 2 2 5 2 2 2-2 2 2 2 1 2 0 2 0 2 1 2 0 2-1 2-1 2 1 2-2 2 3 2-2 2 0 2 0 2 1 2 0 2 0 2-1 2 1 2-1 2 0 2 0 2-1 2 2 2 0 2 0 2 0 2-3 2 1 2 2 3 0 2 0 2-1 2 2 2-1 2 1 2 0 2-3 2 3 2-2 2 2 2-3 2 1 2 1 2-1 2 0 2 1 2 0 2-1 2 2 2-1 2-1 2 0 2 0 2-1 2 1 2 0 2-1 2 1 2 0 2 0 2 0 2 0 2-1 2 2 2-1 2 1 2-2 2-2 2 1 2 0 3-1 2 4 2 0 2 1 2-1 2-1 2-1 2 2 2 1 2 0 2 0 2 0 2 0 2 0 2-2 2 1 2 0 2-1 2 1 2-1 2 1 2 0 2-1 2 1 2-1 2 1 2-2 2-1 2-1 2 0 2 1 2 0 2 2 2-1 2 1 2 1 2 1 2-1 2 0 2 0 3-2 2 2 2 1 2 0 2 0 2-2 2 0 2 1 2 1 2-1 2-1 2 2 2 0 2 0 2-3 2 0 2 3 2 0 2-1 2 0 2-1 2 1 2 0 2 0 2-1 2-1 2 0 2 2 2-1 2-1 2 0 2 2 2 0 2-1 2 2 2-1 2-3 2 0 2 4 2 0 2-2 3 2 2-1 2-1 2 1 2-1 2 0 2 2 2-1 2-1 2 0 2 0 2-1 2 0 2 3 2-2 2 0 2 1 2-1 2 0 2-4 2 3 2-6 2 3 2-1 2-2 2 5 2 1 2 2 2-1 2 1 2 0 2-3 2 3 2-1 2 2 2-1 2 0 2 1 2-1 2 0 3-2 2 2 2 1 2 0 2-1 2 0 2-1 2 0 2-1 2 2 2-1 2 1 2 0 2 0 2-1 2 1 2-2 2 2 2 0 2-1 2 1 2-1 2 1 2 0 2-1 2 0 2 1 2 0 2 1 2-1 2 0 2-2 2 2 2 0 2 1 2-1 2-1 2-3 2 1 2-7 2 5 3 2 2 1 2 2 2 0 2 1 2-1 2-1 2 0 2 0 2-1 2 2 2-2 2 2 2-3 2 3 2-2 2 1 2 0 2-1 2-4 2-4 2-6 2 3 2-5 2 8 2 2 2 5 2 2 2-1 2 0 2-1 2 2 2-1 2 1 2 0 2 1 2 0 2 0 2-2 2 3 3 0 2-2 2-1 2 1 2 2 2 0 2-3 2 0 2 3 2-4 2 4 2-1 2 0 2-2 2-1 2 2 2 0 2 1 2-1 2 1 2 0 2 0 2 0 2-3 2 4 2-1 2 0 2-2 2 1 2 1 2 0 2 0 2 1 2-2 2 1 2 0 2 0 2 1 2-2 2 1 3 0 2 0 2 0 2 0 2-1 2 1 2 0 2 0 2 0 2-2 2 2 2 0 2 0 2 0 2-1 2-2 2 3 2-1 2 1 2-2 2 1 2-1 2 3 2-1 2 1 2-3 2 3 2-3 2 2 2-1 2 0 2 0 2 0 2 1 2 1 2 0 2-1 2 0 2 0 2-2 2 2 3-2 2 0 2-4 2 0 2 1 2 1 2 0 2 1 2 2 2-1 2 0 2 2 2-2 2 1 2 1 2 0 2-1 2 1 2-1 2-4 2-1 2-4 2-2 2 4 2 1 2 0 2 0 2-2 2-1 2-1 2 4 2 0 2 4 2-1 2 1 2-2 2-1 2 0 2 3 2 1 3 0 2 0 2 0 2 2 2 0 2 0 2 0 2-1 2-1 2 1 2-3 2-10 2 6 2-2 2 1 2 5 2 2 2 0 2 0 2 2 2 1 2-1 2-2 2 1 2 2 2-2 2 1 2-1 2 2 2 0 2-1 2 1 2-1 2 0 2 1 2-4 2 4 2-2 2 1 2-1 2 1 3 0 2 0 2-2 2-1 2 3 2 0 2-3 2 3 2-2 2 1 2 1 2 0 2 0 2 0 2 0 2 0 2 0 2 0 2-2 2 1 2-3 2 0 2-5 2 4 2-2 2 4 2 1 2 0 2 1 2-1 2 2 2-1 2-1 2 0 2-2 2 3 2-2 2-1 2 2 2 1 3-2 2 0 2 0 2 2 2-3 2 1 2 0 2 1 2 0 2 0 2-1 2 1 2-3 2 3 2 0 2 0 2 0 2 1 2 0 2-1 1-2M482 2866l1-2 1-7 2-1 1 4 1 0 1-25 1 11 2 10 1-10 1 7 1-6 1-7 2 17 1-12 1 7 1 4 1-2 2 5 1-4 1 2 1 3 1-13 1 11 2 1 1-3 1 5 1-15 1 11 2-6 1 0 1 3 1 3 1 2 2-2 1 2 1 3 1-4 1-3 2 5 1-1 1 4 1 0 1 2 2-2 1 2 1-6 1 3 1-3 1 7 2-9 1 7 1 1 1-4 1 0 2 5 1-6 1 4 1 4 1-1 2-2 1 3 1 0 1-3 1-4 2 5 1 2 1-4 1 1 1 1 1-3 2-2 1-1 1 0 1 0 1-6 2-1 1 4 1-2 1 0 1 1 2 0 1 3 1 1 1-2 1 3 2 2 1-2 1 3 1 5 1-3 1 2 2 0 1 1 1 0 1 0 1-2 2 1 1-2 1 2 1 2 1-2 2 1 1-1 1 1 1 0 1-1 2 2 1-1 1 1 1-1 1 1 1-1 2 1 1-1 1 1 1 0 1 0 2 0 1-1 1 1 1-1 1 1 2-1 1 1 1-2 1 2 1-2 2 0 2 2 2-2 2 1 2 2 3-3 2 2 2-1 2 1 2-4 2 1 2-4 2-1 2 3 2-1 2 2 2 3 2 1 2 1 2-1 2-2 2 1 2 2 2-1 2 0 2 1 2-2 2 1 2-2 2 1 2 0 2 1 2-1 2 1 2 0 2-1 2 1 2 0 2-1 2 1 2 1 2-1 2-2 2 0 2 2 2-2 3 2 2 0 2 0 2 1 2-2 2 0 2 2 2-1 2-1 2 1 2-1 2 0 2 0 2 1 2-2 2 1 2 2 2-1 2 0 2 0 2-2 2 2 2-3 2 3 2 1 2-1 2 0 2-1 2 0 2 0 2 1 2-1 2 0 2-1 2 3 2 0 2-1 2-1 2 0 2 0 3-2 2-1 2-1 2 4 2 1 2-2 2 0 2 3 2-1 2 1 2-1 2-1 2 2 2-2 2 1 2 1 2-1 2 0 2 0 2-3 2 3 2 0 2-1 2 0 2-1 2 2 2-3 2 3 2 0 2-1 2-4 2-3 2 2 2 0 2 3 2 3 2-2 2-1 2 3 2 1 2-2 3 1 2 1 2 0 2-1 2 1 2 0 2 0 2-2 2 2 2-1 2-1 2 2 2-2 2 1 2 0 2-2 2 2 2 0 2-1 2 2 2-1 2 0 2 1 2-2 2 1 2 0 2 0 2-1 2 1 2 1 2-1 2 0 2-1 2 0 2 1 2 0 2-1 2 1 2-3 2 4 3-1 2-2 2 2 2 0 2-2 2 2 2 1 2 0 2 0 2-4 2 4 2-1 2 1 2-1 2-2 2 2 2 0 2 0 2-2 2 1 2 0 2 0 2 1 2-2 2-1 2 0 2-1 2 1 2 1 2 1 2 0 2-1 2-1 2 3 2 1 2 0 2 0 2-1 2 1 2 0 2-1 3 1 2-1 2 1 2-1 2-1 2 1 2 0 2 0 2 1 2-1 2-1 2 0 2 1 2 0 2-1 2 1 2 1 2-1 2-3 2 3 2-1 2 0 2-1 2 2 2 1 2-1 2 0 2 0 2-1 2 2 2 0 2-1 2-1 2 1 2 1 2 0 2 0 2-1 2-2 2-2 3-2 2-5 2 4 2 2 2 1 2 3 2 1 2 0 2-1 2 1 2-1 2 0 2 1 2 0 2 0 2 0 2-1 2 0 2 1 2-1 2 1 2-2 2 0 2-6 2-7 2-6 2 7 2 5 2 4 2-1 2 5 2 0 2 0 2 0 2 1 2-2 2 0 2 1 2-1 2 2 2 1 3 0 2-2 2 0 2 0 2 1 2 0 2 0 2-1 2 1 2 0 2-1 2-2 2 3 2 0 2 0 2-3 2 2 2 0 2 1 2-1 2-1 2 1 2 1 2 0 2 0 2 1 2-1 2-1 2-1 2 2 2 0 2 1 2 0 2-3 2 2 2-1 2 2 2-1 2 0 2 0 3 0 2 0 2 1 2-1 2 1 2-2 2 1 2-1 2 0 2 0 2 1 2-2 2 1 2 0 2 0 2-1 2 2 2-1 2 1 2 1 2-1 2-4 2 3 2 1 2-3 2 2 2 1 2 1 2-1 2 0 2 1 2-1 2-2 2 2 2 0 2 1 2 0 2 0 2-1 2 1 2-1 3-1 2-1 2-3 2-8 2 1 2 3 2 4 2 2 2 1 2 1 2-2 2 3 2 0 2 0 2-1 2 1 2 0 2 1 2-2 2 1 2-1 2-1 2-3 2-1 2 2 2-1 2 1 2 0 2-2 2-2 2 1 2 0 2 3 2 1 2 2 2-3 2 2 2-1 2-1 2 1 3 1 2 1 2 1 2-1 2 0 2 2 2-3 2 0 2 2 2 0 2-2 2-2 2-1 2-3 2-2 2 0 2 4 2 3 2 2 2 0 2 0 2 2 2 0 2-1 2 0 2 1 2 0 2 0 2-1 2-2 2 3 2-3 2 3 2 0 2 0 2-1 2 1 2-2 2 0 2 1 2-2 3 3 2-1 2 0 2 0 2-1 2 0 2 1 2-1 2 1 2 0 2 0 2-1 2 0 2 1 2 0 2-1 2 1 2 0 2-1 2 0 2-1 2-1 2 0 2-6 2 1 2-3 2 6 2 1 2 1 2 1 2-1 2 2 2 1 2-1 2 1 2-1 2-3 2 1 2 0 2 1 3 0 2-1 2 0 2 1 2-1 2 1 2 0 2 0 2 1 2 0 2-2 2 1 2 0 2-2 2 3 2 1 2-2 2 0 2-1 2 3 2-2 2 1 1 0M472 2870l1-7 1-6 1-5 2 3 1-3 1 2 1-8 1 15 2 2 1-2 1-14 1 4 1 4 1 2 2-4 1 1 1 6 1 3 1 1 2-13 1 9 1 0 1-1 1 4 2-11 1 10 1 3 1-3 1-1 2 6 1-4 1 3 1 4 1-3 1 3 2-5 1 6 1-5 1-1 1-1 2 9 1-9 1 0 1 6 1 0 2 2 1-3 1 0 1 2 1 4 2-8 1 5 1 0 1-1 1 1 1-3 2 3 1 1 1 3 1-3 1 2 2-8 1 6 1 2 1-4 1 5 2-1 1-1 1-5 1 0 1 3 2 0 1 1 1-2 1-6 1 2 2-5 1 4 1-6 1 3 1 1 1 0 2 0 1 3 1 2 1 0 1 2 2 0 1 3 1 2 1-5 1 4 2-2 1 2 1 2 1-7 1 5 2-1 1-5 1 5 1 1 1-3 1 6 2-3 1 1 1 1 1 0 1-1 2 1 1-2 1 3 1-1 1 0 2 1 1-1 1 1 1-2 1 2 2-3 1 1 1 2 1-1 1 1 1 0 2-1 1-1 1-1 1 1 1 1 2-2 2 3 3 0 2 0 2-1 2 0 2 1 2-1 2 1 2-2 2-2 2 1 2-3 2 0 2 1 2 4 2 1 2 1 2 0 2-1 2 0 2 1 2-1 2 0 2 1 2-2 2 1 2 0 2-1 2 0 2 1 2 0 2 0 2 0 2 1 2-1 2 0 2 0 2-2 2 2 2-1 2-1 3-1 2 4 2 0 2 0 2-1 2 1 2 0 2-1 2 0 2-1 2 0 2 0 2 2 2-1 2 1 2 0 2-2 2 1 2-2 2 1 2 2 2 0 2 0 2-2 2 2 2-1 2-1 2 0 2 1 2 0 2-2 2 0 2 2 2 1 2-2 2 0 2 0 2 2 2-2 2 1 2-1 3-1 2-2 2-1 2-3 2 4 2 2 2 2 2-1 2-1 2 3 2-2 2 1 2 1 2 0 2 0 2 0 2 0 2-2 2 0 2 1 2 1 2-3 2 1 2-1 2 1 2 1 2 0 2 0 2 0 2 0 2 0 2-3 2-2 2-3 2 2 2 1 2 2 2 1 2-1 2 1 3 3 2 0 2 0 2 0 2 0 2-1 2 1 2 0 2 0 2-1 2 0 2 0 2 1 2 0 2-2 2 0 2 2 2-1 2 0 2 0 2-1 2 2 2 0 2-1 2-2 2 2 2-1 2 1 2-2 2 0 2 2 2 0 2-1 2 1 2-1 2 1 2-2 2 1 2 2 2-1 2-3 3 3 2 1 2-2 2 2 2-1 2 0 2 1 2-1 2 0 2 0 2 0 2 0 2 0 2-2 2 1 2 1 2 0 2 0 2-1 2 1 2-2 2 2 2-1 2-2 2 0 2-4 2-2 2 1 2 1 2 5 2 1 2-1 2 1 2 2 2-2 2 2 2-1 2 1 2 0 2 0 3-2 2 2 2 0 2-2 2 2 2 0 2-2 2 2 2-1 2-1 2 1 2 0 2 1 2-1 2 0 2 0 2-1 2 1 2 0 2 0 2-1 2 1 2 0 2-1 2 0 2 0 2 0 2 0 2 1 2 0 2 0 2 1 2 0 2-4 2 4 2-2 2 2 2-1 2 0 2 1 2 0 3-2 2-2 2-2 2-10 2 9 2 0 2 3 2 2 2 0 2 0 2 1 2 1 2-2 2 1 2-1 2 1 2 0 2-3 2 2 2 1 2 0 2-3 2 3 2 0 2-2 2-4 2-4 2-8 2-5 2-3 2 8 2 6 2 8 2 2 2 0 2 1 2-1 2 2 2-2 2-1 3 1 2 2 2 1 2-2 2 1 2 0 2 0 2 0 2 1 2-2 2 1 2 0 2 0 2 0 2 0 2-1 2 1 2-1 2 0 2 1 2 1 2-5 2 4 2-1 2 1 2 0 2 0 2 0 2 0 2-2 2 3 2 0 2-1 2 1 2-1 2-1 2 0 2 1 2 1 2-1 2 0 3-1 2 1 2 0 2 1 2-1 2 1 2-2 2 0 2 1 2 1 2-1 2 0 2 0 2 0 2 1 2-1 2 0 2 0 2-2 2 3 2 0 2-2 2 0 2 1 2 0 2 1 2-1 2 0 2 1 2 0 2-3 2 3 2-3 2 3 2 0 2-3 2 0 2 2 2-2 2 3 3-1 2 0 2 0 2-3 2-1 2 1 2-6 2-1 2 5 2 1 2 2 2-1 2 2 2 1 2-1 2 1 2 1 2-1 2-1 2 1 2 1 2 0 2-4 2 2 2-1 2 0 2-5 2 2 2 1 2 2 2-1 2-3 2-1 2-2 2 3 2 0 2 4 2 1 2-1 2 0 2-1 3-1 2 1 2 1 2 2 2 1 2-2 2 1 2 0 2 0 2-1 2 0 2 1 2-3 2 0 2-1 2-2 2 0 2 1 2 1 2 3 2-1 2 0 2 2 2-2 2-1 2 3 2 1 2 0 2-1 2 1 2 0 2 0 2-1 2 0 2 0 2 0 2 0 2 1 2-1 2 0 3 0 2 1 2-1 2-1 2-1 2-2 2 1 2 1 2 2 2 1 2-1 2 1 2 0 2-2 2 0 2 0 2 1 2-3 2 3 2 0 2-2 2 2 2 0 2 0 2-2 2-1 2-1 2-1 2-1 2 3 2 3 2-1 2 1 2-2 2 1 2 0 2-1 2 1 2-1 2 2 2-2 3-2 2 3 2-2 2 0 2 2 2-1 2 1 2 1 2-1 2 0 2 1 2-1 2 0 2 0 2-1 2 1 2 1 2 0 2 0 2 0 2 0 2 0 2-4 2 4 1 0M462 2884l1-2 1-9 1 2 1-3 1-14 2-3 1 6 1 3 1 6 1-13 2 5 1 3 1-7 1 10 1 6 2-6 1-12 1 17 1-1 1-2 2-18 1 10 1 12 1-8 1 2 1 6 2-16 1 19 1-4 1-17 1 17 2-8 1 10 1 1 1-6 1-2 2 5 1-3 1 2 1 6 1 0 2-3 1-3 1-1 1 8 1-3 1 0 2 2 1 4 1-2 1 0 1-2 2 4 1 1 1-11 1 5 1 2 2 2 1 3 1 1 1-2 1-5 2 4 1 1 1-1 1-2 1 4 1-1 2-6 1 3 1-4 1 3 1 0 2-1 1-1 1-3 1-7 1 1 2 0 1-3 1 4 1-3 1 4 2 1 1 0 1 3 1 1 1 3 1 1 2 1 1-2 1 4 1-3 1 2 2 3 1-4 1 4 1 1 1-1 2-2 1 0 1 0 1-4 1 4 2 1 1 0 1 1 1 1 1 0 2-1 1 1 1 0 1 1 1-1 1 0 2 1 1 1 1-4 1 4 1 0 2-3 1 2 1 1 1-2 1 1 2 1 1 0 1 0 1 0 1 0 2-1 2 1 2 0 2-1 2 1 2 0 2 0 2 0 2-2 2-2 2-3 2-8 2-4 2 4 2 10 2 2 2 2 2 0 2 0 2 0 2 1 2-2 2 1 2 0 2-1 2 1 2 0 2-1 2 0 2-1 2 2 2 0 2 1 2 0 2-1 2 1 2 0 2 0 2 0 2 0 3-1 2 1 2-1 2 0 2 1 2 0 2-1 2 1 2-2 2 2 2-2 2 2 2-1 2-1 2-1 2 3 2-2 2 2 2-1 2 0 2-1 2 0 2 1 2-3 2 3 2 0 2-2 2 2 2 1 2-1 2-1 2 0 2 0 2 1 2 0 2 1 2-1 2 1 2-4 2 1 2 1 3 2 2-1 2-2 2-2 2 0 2-3 2 3 2 2 2 2 2 0 2 0 2 0 2-1 2 1 2-1 2 2 2-2 2 0 2 0 2-2 2 4 2-1 2 1 2 0 2 0 2 0 2-2 2 1 2-1 2 2 2 0 2-1 2-1 2 0 2-2 2-2 2-5 2 6 2 1 2 2 3 1 2 0 2-2 2 2 2 1 2-2 2 2 2-4 2 3 2 0 2 1 2-1 2 1 2-1 2 0 2-2 2 2 2-3 2 4 2-4 2 3 2-2 2 3 2-1 2 1 2-3 2 3 2 0 2-1 2 1 2-1 2 1 2 0 2-1 2 1 2-2 2 2 2-1 2 1 2-2 2 1 3 1 2 0 2-1 2-1 2 1 2 0 2 0 2-3 2 4 2-1 2 0 2-2 2 0 2 2 2-1 2 1 2-1 2 0 2 2 2 0 2-1 2-1 2 1 2-1 2 0 2-1 2-1 2 2 2-2 2 0 2 1 2 2 2 1 2-1 2 0 2 1 2-1 2 0 2 0 2 1 3-1 2-1 2 1 2 1 2 0 2-2 2 2 2-2 2 1 2-1 2 1 2 0 2 1 2-1 2-1 2 2 2-1 2-1 2 1 2 1 2 0 2-1 2-1 2 2 2 0 2 0 2 0 2 0 2 0 2-1 2 0 2 0 2-2 2 2 2 1 2-2 2 2 2 0 2-3 2 1 2 1 3-2 2 0 2 0 2-6 2 1 2 0 2-1 2 3 2 4 2 1 2 0 2 1 2 0 2-1 2 0 2 1 2 0 2-2 2 2 2-3 2 3 2 0 2 1 2-1 2-1 2-1 2 0 2-3 2-9 2 0 2-8 2 0 2 3 2 8 2 7 2 0 2 1 2 1 2 0 2 0 3 0 2 0 2 0 2 0 2 0 2 0 2 0 2 0 2 0 2 0 2-1 2 2 2 1 2 0 2-1 2 1 2 0 2 0 2 0 2 0 2-1 2 1 2 0 2 1 2-2 2-1 2 1 2-1 2 2 2 0 2-1 2 1 2-2 2 1 2 0 2 0 2 0 2 0 2-2 2 1 2 2 3-3 2 3 2-1 2-2 2 3 2-1 2 1 2 0 2-3 2 2 2 0 2 1 2 0 2 0 2-1 2-1 2 2 2-2 2 1 2 0 2 1 2 0 2-1 2 0 2-1 2 2 2-1 2 0 2 0 2 0 2 0 2 0 2-1 2 1 2 0 2-1 2 1 2 0 2 0 2-1 3 1 2-1 2 1 2 0 2-1 2-3 2-4 2 2 2-5 2 4 2 1 2 2 2 2 2 1 2 1 2 1 2 0 2 0 2 1 2-1 2-2 2 2 2 0 2 0 2-1 2-2 2-2 2-6 2 2 2 1 2 2 2 2 2 1 2-1 2-3 2 1 2 1 2 1 2 2 2 1 2-2 3 0 2-1 2-1 2 1 2 2 2 1 2 0 2-1 2 1 2 1 2-2 2 1 2 0 2 0 2 0 2-3 2-1 2-3 2-1 2 1 2 3 2 3 2 1 2 0 2 1 2 0 2-4 2 2 2 1 2 0 2 0 2 0 2-1 2 0 2 1 2-1 2 1 2 0 2-1 2 1 3 0 2 0 2 0 2 1 2-1 2 1 2-1 2 1 2-1 2-1 2 0 2 0 2 1 2-2 2 2 2 0 2 1 2 0 2-1 2 0 2-1 2 2 2-2 2 1 2-1 2-1 2 1 2-5 2 1 2 0 2 0 2 3 2-1 2 2 2 1 2-1 2-1 2 1 2-1 2 2 3 0 2-1 2 1 2-1 2 1 2-2 2 2 2-1 2-2 2 3 2 1 2 0 2-3 2 0 2 2 2-1 2 0 2 0 2 1 2-1 2 1 2-1 2 0 2 2 2-2 2 0 2 1M451 2891l1-7 2-9 1 2 1-6 1 4 1-12 2 6 1 10 1 1 1-1 1-3 1-1 2-21 1 26 1-9 1 9 1 1 2-17 1 6 1-1 1 5 1 8 2-9 1 6 1-8 1 9 1-2 2-2 1 5 1-3 1 1 1 6 2 2 1 0 1-3 1 0 1-1 1 1 2-4 1 3 1 0 1 6 1-1 2-3 1 3 1-1 1 3 1-1 2-1 1-1 1 1 1 0 1 1 2 1 1-1 1-3 1 2 1 1 1 3 2-3 1 1 1 0 1 0 1 1 2-3 1 4 1-1 1-1 1 2 2-1 1 1 1-4 1 0 1-1 2 0 1-2 1-6 1-1 1-1 1-2 2 0 1-1 1 0 1 4 1-1 2 3 1-2 1 5 1 2 1-2 2 3 1 3 1 2 1 0 1-1 2 0 1 1 1 0 1 2 1 0 1-3 2 1 1-2 1 5 1-2 1 2 2-2 1 2 1-4 1 3 1 0 2 0 1 1 1-2 1 2 1-1 2 0 1 0 1 1 1 0 1 1 2-1 1 0 1 0 1 0 1-1 1 0 2 2 1-1 1 0 1 0 1 0 2-1 1 1 2 0 2 1 2-4 2 4 2-1 2 0 2-1 2-4 2-2 2-1 2 3 2 2 2 0 2 1 2 2 2 0 2 0 2 0 2 1 2-1 2 1 2-2 2 2 2 0 2-1 2 1 2 0 2 0 3-2 2 1 2 0 2-1 2 1 2-1 2 1 2 0 2-2 2 0 2 2 2 1 2-3 2 1 2 1 2-2 2 3 2-1 2-1 2 1 2 0 2-1 2 2 2 0 2-1 2-1 2 1 2 0 2 1 2 1 2-1 2-3 2 3 2-1 2 2 2-3 2 1 2 0 2 1 2-1 2 0 3-2 2 3 2 0 2-1 2 1 2 0 2-3 2 3 2-2 2 0 2 1 2-4 2-1 2-4 2 5 2 0 2 3 2 1 2 0 2 1 2-1 2-1 2 1 2 1 2 0 2 0 2 0 2 0 2-1 2 1 2-2 2-1 2 3 2 0 2 0 2 0 2 0 2-1 2 0 2 0 3 0 2 0 2-2 2 0 2-3 2-1 2-1 2 2 2-1 2 6 2-2 2 1 2 1 2 1 2 0 2-2 2 1 2 0 2 1 2 0 2 0 2-2 2 1 2 2 2-1 2 0 2-1 2-1 2 2 2 0 2 0 2 0 2 0 2 0 2 0 2-1 2 1 2-1 2-1 2 2 2-1 3 0 2 0 2-1 2 1 2 1 2 0 2-4 2 4 2 0 2-3 2 1 2 0 2 1 2-1 2 2 2 0 2-1 2 1 2 0 2-2 2 2 2 0 2 0 2 0 2-2 2 1 2 1 2 0 2-2 2 2 2 0 2-1 2 0 2 0 2-1 2-1 2-4 2 1 2 1 2-1 3 1 2 4 2 0 2 1 2 0 2-3 2 2 2 1 2-2 2 2 2-1 2 0 2 1 2-2 2 2 2-1 2 1 2 0 2 0 2 1 2 0 2-2 2 1 2 0 2-1 2 2 2-1 2-2 2 0 2 0 2 1 2 0 2 1 2-1 2 1 2-1 2-1 2 0 2-1 2 3 2-3 3 2 2 1 2 0 2-1 2 0 2 0 2 0 2 0 2-1 2-1 2 2 2-1 2-2 2-4 2 0 2 3 2 1 2 2 2 1 2-1 2 2 2 0 2 0 2-1 2 1 2-1 2 0 2-1 2 1 2 0 2 0 2 1 2-1 2 0 2 1 2-3 2 1 2-4 2-2 2-5 3 1 2 0 2-4 2 11 2-1 2 3 2 0 2 2 2-3 2 2 2 1 2-3 2 3 2 1 2 0 2-2 2 2 2 1 2-1 2-1 2 0 2 1 2-1 2 0 2-3 2 2 2 2 2-1 2-3 2 2 2 0 2 0 2 0 2-1 2 2 2 0 2 0 2 1 2-2 2 2 3-3 2 2 2 0 2 1 2-2 2 0 2 1 2 1 2 0 2 0 2 0 2-1 2 0 2 1 2 1 2-1 2-1 2 0 2 1 2 0 2-1 2 0 2 0 2 1 2-2 2 2 2-2 2 1 2 0 2 1 2-2 2 1 2 1 2-1 2 0 2 0 2 0 2 0 2-4 2 4 2 0 3 0 2-1 2 1 2 1 2 0 2-1 2 1 2-1 2 1 2-1 2 1 2 0 2-2 2 1 2-2 2-9 2 1 2 1 2-6 2 9 2 1 2 5 2 0 2 0 2 1 2-1 2-2 2 1 2 2 2-1 2 0 2 0 2-1 2 0 2-1 2-1 2-1 2-1 2 0 2 2 3 1 2 0 2 0 2-1 2 1 2-2 2 2 2 1 2 2 2-2 2-2 2 0 2 2 2-1 2-1 2 2 2 2 2-2 2 2 2-2 2 1 2-1 2 2 2 0 2-1 2 0 2-1 2-3 2 1 2-2 2 2 2 2 2 1 2 0 2 1 2-1 2 0 2 0 2 0 2 0 2 0 3 1 2-1 2-1 2 2 2 0 2 1 2-1 2-1 2 0 2-1 2 1 2-2 2 3 2-2 2-1 2 3 2-1 2-1 2 2 2-1 2 0 2-2 2 2 2 0 2 0 2 0 2-1 2 1 2-1 2 0 2 2 2-2 2 2 2-2 2-1 2-2 2 1 2-5 2 1 2 2 3 1 2 3 2 1 2 1 2-1 2-1 2 2 2 0 2-1 2 1 2-1 2-1 2 1 2 1 2-1 2-1 2 0 2-1 2 2 2-1 2-1 2 1 2-1 2 0 2 0 2 2 2 0 2-1 2 1 2-2 2 2 2 1 2-1 2-1 2 0 2 0 1-3M441 2897l1-2 1-6 1-12 2 10 1 4 1-3 1-10 1-1 2 12 1-3 1-7 1 2 1-17 2 14 1 1 1-4 1 11 1 4 2-3 1-8 1 10 1-7 1-1 1 0 2-4 1-4 1 14 1-12 1 13 2 4 1-1 1-5 1 5 1-3 2 8 1-4 1-2 1 3 1-1 2 2 1-1 1 1 1-2 1-1 1 7 2-8 1 7 1-9 1 7 1 4 2-5 1 4 1-2 1 1 1 1 2-2 1-6 1 9 1 1 1-4 2 4 1-5 1 4 1-1 1 2 2-6 1 6 1-2 1-3 1 4 1-5 2-2 1 1 1 4 1-5 1 3 2-5 1 3 1-4 1-6 1 0 2 1 1 0 1 1 1-4 1 6 2 0 1 1 1 4 1-2 1 4 1 0 2 4 1 2 1-5 1 2 1 2 2-1 1-2 1 5 1-2 1 2 2-1 1-3 1 5 1-2 1-1 2 2 1-1 1 2 1-1 1-2 1 2 2 0 1-1 1 1 1-1 1 3 2-1 1 0 1 1 1 0 1 0 2 0 1 0 1 0 1-3 1 0 2 3 1-2 1 2 1-1 1 1 1-2 2 1 1 1 2-2 2 1 2 0 2-1 2 0 2 0 2-4 2-3 2-2 2-2 2 6 2-1 2 6 2 1 2 0 2 0 2 0 2 1 2-1 2-1 2 3 2-1 2 0 2-1 2 1 3-1 2 0 2 0 2 1 2-1 2 0 2 1 2-2 2 1 2 0 2 1 2-5 2 5 2-2 2 1 2 0 2 0 2 1 2-1 2 0 2 1 2-2 2 1 2 0 2 1 2 0 2 0 2 0 2 0 2 0 2-1 2-1 2 2 2-2 2 0 2 2 2 0 2 1 2-1 2-1 3 1 2-1 2 1 2 0 2-1 2 1 2-1 2-1 2 1 2-1 2 1 2-1 2 0 2 0 2-2 2-1 2 1 2 1 2 1 2 1 2-2 2 2 2 1 2-1 2-1 2 2 2 0 2 0 2 0 2 1 2-2 2 0 2-1 2 3 2-3 2 0 2 1 2 1 2-1 2 1 2 0 3-1 2-1 2 2 2-2 2 0 2-1 2-3 2 2 2-6 2 5 2 2 2 0 2 0 2 3 2-1 2 0 2 0 2 1 2 0 2-1 2 0 2 1 2-1 2 1 2 0 2-1 2 1 2 1 2-1 2 0 2 1 2-2 2-1 2 1 2 1 2-1 2-1 2 0 2 0 2 1 3 1 2 0 2-1 2 1 2-2 2 0 2 1 2 0 2 0 2 0 2 0 2-3 2 3 2 0 2 0 2 0 2-2 2 2 2 0 2 1 2-2 2 2 2 0 2-1 2 2 2-1 2 0 2 0 2 0 2 0 2 0 2 0 2-1 2-1 2 0 2-1 2 0 2-1 2-1 2-3 2-1 3 3 2-1 2 3 2 2 2 0 2 1 2-1 2 1 2 1 2 0 2 0 2-2 2 2 2 0 2 0 2 0 2 0 2 0 2-1 2 1 2-2 2 2 2-2 2 1 2 0 2 1 2-3 2 0 2 3 2 0 2-1 2 1 2-1 2 1 2 0 2-1 2 0 2 0 2-1 2 1 3-2 2 1 2 2 2-1 2 1 2-3 2 2 2 1 2-2 2 2 2-2 2 2 2-1 2 0 2-4 2 0 2-4 2 2 2 4 2 1 2 1 2-1 2 3 2 0 2-2 2 1 2 0 2-1 2 0 2-1 2 1 2 0 2 0 2-1 2-1 2 1 2 1 2-2 2 1 2 0 2-1 3-4 2-6 2-12 2 7 2-4 2 11 2 2 2 5 2 2 2 1 2-1 2 1 2 1 2-2 2 1 2-1 2 1 2 0 2-1 2 1 2 0 2-3 2 4 2 0 2 0 2 0 2-1 2-1 2 1 2 0 2 0 2-3 2 2 2 2 2-2 2 2 2-1 2 0 2-1 2 1 3 0 2 0 2 0 2-1 2-1 2 3 2 0 2 0 2 0 2-1 2 0 2 1 2 0 2 0 2 0 2-1 2 1 2-1 2-1 2 2 2-1 2-1 2 1 2 0 2 1 2-1 2 1 2-2 2-1 2 3 2-2 2 0 2 1 2-2 2 2 2 0 2 0 2 0 2-1 2 0 2 0 3 0 2 2 2-2 2 2 2 0 2-3 2 3 2 0 2 0 2-1 2 1 2 0 2-1 2 1 2-1 2 0 2-2 2-6 2-4 2 1 2-2 2 8 2 4 2-1 2 1 2 2 2-1 2 1 2-1 2 1 2-2 2 2 2-1 2 1 2-3 2 2 2-3 2 1 2-2 2 1 3-3 2 3 2 1 2 1 2-1 2-2 2 0 2 1 2-1 2 4 2 0 2 1 2-2 2-2 2 0 2 2 2 1 2 1 2 0 2 0 2 0 2-1 2 1 2-1 2 0 2-1 2 0 2 0 2-3 2-1 2 1 2-5 2 4 2 3 2 2 2 1 2-1 2 0 2 1 2-1 2 1 3-1 2 0 2 1 2 0 2-1 2 0 2 1 2-2 2 2 2 0 2 1 2-2 2 1 2-3 2 3 2-1 2 0 2 1 2 0 2-1 2 1 2 0 2 0 2-1 2-1 2 0 2 2 2-1 2 0 2 1 2-1 2 0 2 1 2 0 2-2 2 1 2-3 2-2 2-3 2 0 3 2 2 0 2 5 2 1 2 0 2 1 2-1 2 2 2-1 2 0 2 0 2-1 2 1 2 0 2-1 2 1 2 0 2 0 2-2 2-1 2 2 2-1 2 1 2 0 2 0 2-2 2 3 2-1 2 1 2-1 2 0 2 1 2-2 2 0 2-1 2 3 2-1 2 1 1-1M431 2906l1-2 1-17 1 3 1-25 2 30 1-16 1 14 1-38 1 39 2-5 1-1 1-11 1 9 1-4 1 0 2-3 1-7 1 7 1 10 1 3 2-3 1-12 1 9 1 12 1 2 2-7 1 4 1 0 1 2 1 0 2-6 1 5 1-4 1 3 1 6 1-7 2 7 1-1 1 1 1-4 1 4 2 1 1 0 1-3 1 4 1-4 2-1 1 4 1 2 1 0 1-1 2-2 1 0 1 3 1-3 1 3 1 2 2-5 1 2 1-1 1 0 1-1 2 1 1 3 1-3 1 1 1 2 2 0 1-8 1 10 1-1 1-6 2 3 1 3 1-3 1-2 1-2 1 2 2-6 1 1 1 0 1-1 1-4 2-1 1 1 1-3 1 4 1 1 2 2 1 0 1 5 1 2 1 1 2-2 1 3 1 0 1-2 1 3 2 1 1-5 1 4 1 0 1-2 1 2 2 2 1 1 1-3 1 3 1-3 2-2 1 3 1-1 1 3 1-1 2-1 1 1 1-1 1 2 1-2 2 1 1 0 1 2 1 0 1-2 1 2 2-1 1 1 1-1 1-1 1 2 2-1 1 0 1 1 1-2 1 1 2 1 1 0 1-1 2 1 2 0 2-2 2 1 2 1 2-3 2-1 2-2 2-1 2 1 2 5 2 1 2 0 2-2 2 0 2 3 2 0 2-3 2 2 2 1 2-3 3 2 2-1 2 1 2-1 2 1 2-1 2-1 2 2 2-3 2 3 2-2 2 2 2 0 2-1 2-1 2 0 2 1 2 0 2 0 2 1 2-1 2 0 2 0 2 0 2 1 2-1 2 0 2 0 2 2 2-2 2 0 2 1 2 1 2-2 2 2 2-1 2 1 2-1 2-1 2-1 2 1 3 0 2 1 2-2 2-1 2 1 2 0 2-1 2 2 2 1 2-1 2 0 2 0 2 1 2-1 2-3 2-1 2 0 2-4 2 1 2 4 2 2 2 0 2 2 2-3 2 2 2-2 2 2 2 1 2-1 2 1 2 0 2-1 2-2 2 1 2 1 2 1 2 0 2 0 2-2 2-1 3 3 2 0 2 0 2-1 2 0 2-2 2 2 2-1 2-1 2-3 2-2 2-2 2 3 2 2 2 4 2-3 2 4 2-1 2 0 2 0 2-1 2 2 2-1 2 0 2 1 2 0 2 1 2-1 2-1 2 1 2 0 2 0 2 0 2 0 2-3 2 2 2 0 2 0 2 0 2 0 2-1 3 2 2 0 2 0 2-1 2-1 2 1 2 0 2 0 2 0 2-1 2 1 2 1 2 0 2 0 2-2 2 2 2 1 2-2 2 0 2 0 2 1 2-1 2 1 2 0 2-1 2 1 2 1 2-1 2-1 2 0 2 0 2 1 2 0 2-1 2-1 2 1 2-3 2 3 2-2 2-3 3 0 2-3 2 0 2 6 2 1 2 1 2 0 2-1 2 0 2 2 2 0 2-1 2 0 2 0 2 1 2 1 2-2 2 1 2 1 2-1 2-1 2 1 2-2 2 2 2 1 2-1 2 0 2-1 2 1 2 0 2 0 2 0 2 0 2-2 2 2 2 0 2-2 2 0 2 0 2 2 2-1 3 0 2 0 2 1 2 0 2 0 2 0 2-3 2 3 2-3 2 3 2-1 2 0 2 0 2 0 2 0 2-3 2-1 2-4 2 2 2 1 2 0 2 4 2 1 2-1 2 0 2 1 2 0 2 1 2-1 2 1 2 0 2-1 2 1 2 0 2-1 2 0 2 0 2-3 2 3 2-1 3 0 2 0 2-1 2-4 2-7 2-2 2-5 2-6 2 8 2 5 2 9 2 3 2-1 2 1 2 2 2-2 2 1 2 0 2 2 2-1 2-1 2-1 2 3 2-1 2-2 2 2 2-2 2 0 2 2 2 0 2 0 2-2 2 0 2 0 2 1 2-3 2 4 2-2 2 2 2 0 2-1 3 0 2 0 2 1 2-2 2 1 2 0 2 0 2 2 2-1 2-2 2 2 2-2 2 2 2 0 2 0 2-1 2 2 2-1 2 1 2-2 2 1 2-1 2 0 2 0 2 0 2 1 2 0 2 0 2 0 2-1 2-2 2 1 2 0 2 1 2-1 2 1 2-1 2 2 2-1 2-1 3 0 2 2 2-2 2 1 2-1 2 2 2 0 2-1 2 1 2 1 2-1 2 1 2 0 2-1 2 1 2-2 2 1 2-1 2-2 2-1 2-5 2 0 2 2 2-1 2 5 2 1 2 2 2 0 2-2 2 2 2-3 2 2 2 0 2 0 2 1 2 0 2 0 2-1 2 0 2 0 2-1 3-1 2-2 2 0 2 2 2 1 2 0 2-2 2-1 2-1 2 0 2 1 2 5 2-1 2 0 2 0 2-2 2 0 2 1 2 2 2-1 2 0 2 0 2-1 2 2 2-2 2 0 2 2 2-3 2 1 2-1 2-1 2-1 2 1 2 1 2 0 2 2 2 1 2 0 2-1 2 0 3 1 2-1 2 1 2-1 2-1 2 3 2 0 2-2 2 1 2 1 2 0 2-1 2-2 2 1 2 0 2-1 2 2 2-3 2 1 2 1 2 0 2-1 2 0 2 1 2 1 2-2 2 0 2 0 2-1 2 2 2-2 2 3 2-1 2 0 2 1 2 0 2 0 2 0 2-2 2-2 2-4 3 1 2 0 2-2 2 4 2 1 2 3 2 1 2 1 2-3 2 2 2 0 2-4 2 3 2 1 2-2 2 2 2-1 2 1 2 0 2-1 2 1 2-2 2 1 2 0 2 1 2-2 2 1 2-1 2 0 2 0 2 1 2 1 2 0 2-2 2 2 2 0 2 0 2-1 2 1 2 0 1 0M420 2916l1-5 2-12 1-9 1 9 1-6 1 5 2 3 1 3 1-9 1 5 1 3 2-3 1-6 1 7 1-2 1-9 2 8 1 5 1-10 1 13 1-11 2 2 1 5 1 3 1-7 1-9 1 3 2 17 1 0 1-9 1 1 1 2 2 6 1-8 1-1 1 7 1 0 2-1 1 2 1 2 1 3 1-6 2 2 1 2 1-1 1-2 1 0 1 3 2 0 1 0 1 2 1 0 1 2 2 0 1-3 1 5 1-2 1-5 2 4 1-1 1 0 1 2 1 2 2-5 1 3 1 0 1-3 1-1 1-3 2 7 1-5 1 3 1 2 1 1 2-7 1 3 1 2 1-6 1 4 2-2 1-2 1 4 1-6 1 4 2-3 1 1 1 0 1 1 1-1 1 3 2 2 1 0 1 1 1 2 1-1 2 2 1-2 1 2 1-3 1 0 2 0 1-1 1 2 1-3 1 6 2-1 1 0 1 0 1 1 1-2 2-6 1 7 1-3 1 1 1 3 1-1 2-3 1 5 1-2 1-1 1 2 2 0 1-1 1 1 1 0 1-2 2 2 1-1 1 2 1-2 1 2 2 0 1 0 1 0 1 0 1 0 1-1 2-1 1 0 1 2 2 0 2-2 2 2 2-3 2 0 2-5 2-4 2 4 2-4 2 8 2 1 2 2 2 1 2-2 2 1 2 1 2 0 2-1 3-1 2 2 2-1 2 2 2-5 2 4 2 0 2 0 2-1 2 2 2-1 2 0 2-2 2 2 2-2 2-2 2 2 2 1 2 1 2 0 2 0 2 0 2-2 2 1 2 0 2 0 2 0 2-1 2 1 2-1 2 2 2 0 2-1 2 1 2 0 2 0 2-1 2 2 2-1 2 0 2-1 3-2 2 3 2 0 2-1 2 1 2-1 2 0 2 1 2-2 2-1 2 2 2 0 2-3 2 3 2-1 2 1 2-4 2 1 2-5 2 2 2 1 2 2 2 1 2 0 2 1 2 1 2 0 2 1 2 0 2-1 2 1 2-2 2 0 2 1 2 1 2 0 2 0 2-1 2 0 2 0 3 1 2-1 2 1 2 0 2-2 2 2 2-2 2 2 2-2 2-1 2-2 2-1 2-5 2 3 2 1 2-1 2 5 2 1 2 2 2-1 2 0 2-1 2 1 2 1 2-2 2-1 2 1 2 1 2 0 2 1 2-2 2 2 2 1 2-3 2 1 2 1 2-1 2-1 2-1 2 1 2 1 3 1 2 1 2 0 2-1 2 0 2 0 2-2 2 1 2 1 2-1 2 0 2 0 2-1 2 1 2-2 2 2 2-1 2 0 2 2 2 0 2-1 2 1 2-1 2 1 2-2 2-1 2 4 2-1 2-3 2 2 2 2 2-1 2 1 2-1 2-1 2 1 2-3 2 4 2-2 2 0 3-1 2-1 2-1 2 0 2 1 2 1 2 2 2-1 2-1 2 1 2-1 2 0 2 1 2 0 2 1 2 0 2-2 2 2 2-1 2-1 2 1 2 1 2 0 2 0 2-1 2 2 2-1 2 1 2-1 2 0 2-1 2-1 2 3 2-2 2 1 2-2 2 2 2 0 2 0 2-1 2-2 3 2 2 0 2 0 2-1 2-1 2 2 2 1 2-2 2 0 2 2 2-1 2 0 2 0 2 1 2-1 2-1 2 1 2-1 2-4 2-2 2-1 2 2 2 4 2 3 2-2 2 2 2 0 2 0 2-1 2 1 2 0 2 1 2 0 2-2 2 1 2-1 2 1 2-1 2-2 2 2 3 1 2-2 2 0 2 0 2 0 2-3 2-4 2-5 2-10 2 8 2 1 2 6 2 4 2 2 2 2 2-1 2 1 2-2 2 1 2 1 2 0 2 2 2-1 2 0 2 0 2-2 2 2 2-1 2 1 2-1 2 1 2 0 2 0 2-2 2 1 2 0 2 1 2-1 2 1 2 0 2 0 3-1 2 1 2-1 2-1 2 2 2-1 2 1 2 0 2 0 2-1 2 1 2 0 2 0 2-2 2 3 2-1 2 0 2-3 2 4 2-1 2-1 2 0 2 2 2 0 2-2 2-1 2 2 2 0 2 1 2 0 2-1 2 0 2-1 2 1 2 0 2-3 2 3 2 0 2-1 2 0 3 1 2-1 2-1 2-1 2 3 2 0 2 0 2 0 2-2 2 1 2 0 2 1 2 0 2 0 2 1 2-2 2 1 2 0 2 0 2 0 2-1 2-4 2-5 2 3 2 5 2 1 2 1 2 0 2-2 2 0 2 3 2-2 2-3 2 4 2-2 2 1 2-1 2 1 2-2 2 3 3-1 2-1 2-1 2-2 2 1 2 1 2 0 2 1 2-1 2 0 2-1 2 0 2 1 2 3 2 0 2 0 2-4 2 3 2-1 2 1 2-1 2 1 2 1 2 0 2-1 2 1 2 0 2 1 2-3 2 2 2 0 2-1 2-4 2 1 2-4 2 3 2-1 2 2 2 2 2-1 2 1 3-2 2 3 2 0 2 0 2 0 2 0 2 1 2 0 2 0 2-2 2 3 2-2 2 2 2 0 2-3 2 1 2 0 2 0 2 1 2-1 2 0 2 1 2-3 2 3 2-2 2-1 2 3 2 0 2-1 2 0 2 0 2-1 2 0 2 1 2 0 2 1 2-1 2 1 2 0 2-1 3 0 2-3 2 1 2-3 2 0 2 2 2 2 2 1 2-1 2 2 2 0 2 1 2-1 2 1 2-1 2 1 2 0 2-1 2 0 2-1 2 1 2-3 2 3 2-1 2 0 2 0 2-1 2 1 2 0 2 0 2 1 2-1 2-1 2 1 2-1 2 1 2-1 2 2 2 0 2-1 2 0 3-1 1 2M410 2922l1-2 1-14 2-2 1 5 1 3 1 2 1-8 2 8 1-3 1-7 1-3 1 9 1-13 2 4 1 7 1-4 1 10 1-10 2 0 1 6 1 3 1-15 1 11 2 1 1 3 1 1 1-4 1-1 2-1 1 6 1-13 1 10 1 9 1-2 2-4 1-2 1 1 1 3 1-8 2 10 1 1 1-1 1-4 1 5 2 2 1-2 1-4 1 5 1 0 2 0 1-2 1 3 1 2 1-1 2-2 1 4 1 0 1-1 1 0 1 1 2-1 1-2 1-1 1-2 1 3 2 0 1 4 1-2 1-4 1 2 2 1 1 1 1 0 1 0 1-3 2 3 1-4 1-2 1 3 1 0 1-2 2-5 1 1 1 1 1 0 1-3 2 0 1 3 1-3 1 2 1 2 2-2 1 4 1-1 1 0 1 5 2-2 1 4 1-1 1 0 1 0 1 1 2-2 1 1 1-1 1 3 1-4 2 4 1-1 1 0 1 0 1-2 2-2 1 5 1-3 1 2 1 0 2 2 1-1 1 1 1-2 1 2 1 0 2 1 1-1 1 1 1 0 1-1 2 0 1 1 1 0 1-1 1 1 2 0 1 0 1-1 1-1 1 1 2 0 1 0 1 1 1 0 2 0 2-1 2 0 2-2 2-3 2-2 2-4 2 1 2 1 2 7 2 1 2 1 2 0 2 2 2-1 3 0 2-1 2 1 2 0 2 0 2-1 2 2 2-1 2 0 2 0 2 1 2-1 2-1 2 1 2-2 2 2 2-2 2 1 2 1 2-1 2 1 2-1 2 0 2-3 2 2 2 2 2-2 2 2 2 0 2-1 2-2 2 3 2 1 2-1 2 0 2 0 2-2 2 0 2-3 2 5 3 1 2-1 2-1 2 0 2 1 2-2 2 3 2-1 2-2 2 0 2 1 2-1 2-1 2 3 2 0 2-1 2 0 2 0 2-1 2-1 2-2 2-3 2 0 2 3 2-3 2 7 2-1 2 0 2 2 2 0 2 0 2 0 2 0 2-1 2 0 2 2 2 0 2-2 2 0 2 1 2 1 3-1 2-1 2 2 2-2 2 1 2-3 2 3 2 0 2 1 2-1 2 0 2-3 2 2 2-3 2-1 2 1 2 0 2 2 2-1 2 1 2 1 2-1 2 1 2 1 2 0 2-1 2 1 2-1 2 1 2 0 2 0 2 0 2-1 2 0 2-2 2 4 2-1 2 0 2 1 2-1 3 0 2 0 2-1 2 2 2-1 2-2 2 2 2-2 2 1 2 1 2 0 2 0 2 0 2-2 2 0 2 1 2 1 2-3 2 3 2-3 2 3 2-1 2 1 2 0 2-2 2 0 2 1 2 1 2-1 2 1 2 0 2-2 2 2 2-1 2 2 2-1 2 0 2 1 2 0 2-1 2-2 3 0 2-1 2 0 2-3 2 1 2-3 2 6 2 0 2 2 2-4 2 2 2 0 2 1 2-1 2 1 2 0 2 0 2 0 2 0 2 1 2-1 2 1 2-1 2 0 2 1 2-1 2 0 2-1 2-2 2 2 2 2 2 0 2 0 2 0 2 0 2 1 2-2 2 0 2 1 2 1 3-1 2 0 2 0 2 0 2-2 2 1 2 1 2 0 2 0 2 0 2-2 2 1 2-1 2 1 2-1 2 0 2 2 2-2 2-1 2 0 2-2 2-1 2 0 2 2 2-1 2 2 2 2 2 0 2 1 2-1 2 0 2 2 2-1 2-1 2 2 2-3 2 3 2 0 2-2 2 0 2-2 3 1 2 2 2-2 2 1 2 0 2 0 2-2 2-1 2-3 2-4 2-14 2 2 2 2 2-1 2 6 2 10 2 3 2 0 2 0 2 1 2 2 2-1 2 1 2-1 2 1 2 1 2 0 2 0 2-1 2 0 2-1 2 2 2-1 2 0 2 0 2-1 2 1 2 0 2 1 2-2 3 1 2-1 2-1 2 0 2 1 2-3 2 2 2 2 2 0 2-2 2 2 2-3 2 2 2 1 2 0 2 0 2 0 2 1 2-1 2-1 2 0 2 1 2 0 2 0 2-3 2 4 2-1 2-1 2 2 2 0 2 0 2 0 2-3 2 2 2 0 2 0 2-1 2 0 2 0 2 0 2 0 3 0 2 1 2-1 2 0 2-2 2 2 2 0 2-1 2 1 2 1 2 0 2 0 2-1 2 1 2 0 2 0 2-1 2 2 2-2 2 0 2-1 2 1 2-1 2-5 2 1 2 0 2 3 2 1 2 1 2 1 2-1 2-1 2 2 2 0 2 0 2 0 2 0 2-1 2 1 2 0 3 0 2-2 2 1 2-2 2-2 2-1 2 2 2 1 2 1 2 0 2-2 2 1 2 0 2 1 2 1 2 0 2 0 2-1 2 2 2-2 2 0 2-2 2 4 2 0 2 0 2 0 2-3 2 1 2 3 2-2 2 1 2 0 2 0 2-1 2 1 2-1 2 0 2-1 2 0 2 1 2 0 3 1 2-1 2 0 2 1 2 0 2 0 2 0 2-1 2 1 2 0 2 0 2-1 2 2 2 0 2-1 2 0 2 0 2 1 2-1 2 1 2 0 2-1 2-1 2 1 2 0 2 0 2 0 2 0 2 0 2 0 2 0 2 0 2-1 2 1 2-2 2 2 2-2 2-3 2 5 2 0 3-1 2 0 2-1 2-3 2-1 2-5 2 5 2 2 2 0 2 2 2 2 2-2 2 2 2 1 2-1 2-3 2 3 2 0 2 1 2-3 2 1 2 1 2 0 2 0 2 0 2 0 2-2 2 1 2 1 2 0 2-2 2 2 2-1 2 1 2-2 2 2 2-2 2 2 2-2 2 2 2 0 3-1 2 0 2-1 1 0M400 2933l1-8 1 0 1-2 1-10 2 0 1 3 1-9 1-7 1 0 2 7 1 4 1 8 1-20 1 25 2-9 1 4 1 3 1 0 1-11 2-6 1 15 1-2 1-3 1-2 1 6 2-14 1 13 1-13 1 15 1-3 2-9 1 18 1-1 1 0 1-4 2 5 1-1 1-1 1-8 1 5 2 3 1 3 1 0 1 0 1-2 1 4 2 2 1-3 1 1 1-5 1 0 2 8 1-7 1 4 1 3 1-5 2-1 1 5 1 2 1-2 1-1 2-1 1 2 1 1 1-3 1-1 1 1 2 1 1-1 1 1 1-1 1 1 2 3 1-1 1-2 1 1 1-3 2-1 1 4 1-2 1 0 1 0 2-2 1-2 1 0 1 2 1-2 2-3 1 1 1-3 1 5 1 1 1-1 2 4 1-2 1 3 1 0 1 1 2-2 1 2 1 1 1-1 1-2 2 1 1 2 1 2 1-2 1 2 2-1 1 2 1-2 1 0 1 0 1 0 2-2 1 1 1 1 1 1 1 0 2-4 1 1 1 3 1-2 1 1 2 1 1 1 1-1 1 0 1-1 2 2 1-1 1 0 1-1 1 2 1 0 2-1 1-1 1-1 1 1 1 2 2-2 1 1 1 0 1-1 1 2 2 0 2-1 2-3 2-2 3-1 2 0 2 2 2 3 2 1 2 1 2 0 2 1 2 0 2-4 2 1 2 2 2-1 2 2 2-2 2 1 2 0 2-1 2-2 2 3 2-1 2 0 2 0 2 0 2 1 2 0 2 0 2 0 2-1 2-1 2 1 2 1 2-1 2 0 2-1 2 2 2 0 2 1 2-2 2 0 3-2 2 3 2 1 2-1 2 1 2-1 2 1 2-1 2-1 2 2 2 0 2 0 2-2 2 1 2-1 2 0 2 1 2 0 2-3 2 3 2-2 2-2 2 1 2 3 2-1 2 0 2 0 2 1 2-1 2-3 2-1 2 0 2 0 2 1 2 2 2-1 2 2 2-1 2 1 2 0 2 1 3 0 2 0 2 0 2 1 2 0 2 0 2-3 2 2 2 1 2-2 2 0 2-2 2 4 2-4 2 3 2-1 2 0 2 0 2 0 2 1 2-1 2-1 2-1 2-4 2-3 2 3 2 1 2 2 2 2 2 0 2 2 2 0 2-1 2 1 2 1 2-1 2 1 2-1 2 1 2 0 3-2 2 1 2 0 2 1 2-2 2 0 2 0 2 2 2-1 2-2 2 3 2-1 2 0 2-1 2 0 2 0 2 0 2 0 2 0 2 0 2-2 2 3 2 0 2-2 2 1 2 0 2-1 2 1 2 0 2-1 2 2 2 0 2 1 2 0 2-1 2-1 2 1 2 1 2-1 2 1 2 0 3 0 2 0 2-2 2 2 2-2 2 1 2 1 2-1 2-1 2-1 2 0 2-3 2-2 2 1 2 0 2 3 2 2 2 1 2-3 2 3 2 0 2 0 2 0 2-2 2 2 2 1 2-1 2-2 2 2 2 0 2 0 2-1 2 1 2 0 2-1 2 0 2 1 2 0 2 0 2 1 3 0 2 0 2 0 2-1 2 0 2 1 2 0 2-2 2 1 2 0 2 0 2-1 2-2 2 3 2 0 2-1 2-1 2 2 2 0 2-1 2 1 2-1 2 1 2-1 2 0 2 0 2 0 2 1 2-1 2-2 2-6 2-3 2 5 2 1 2 2 2 2 2 3 2-3 2 3 2-1 2 1 3 0 2-2 2 2 2-2 2-2 2 1 2 1 2-2 2 2 2-3 2 3 2-1 2-1 2 2 2-1 2-1 2 1 2 0 2-5 2-7 2-11 2-2 2 7 2 3 2 7 2 6 2 2 2 1 2-1 2 0 2 2 2-1 2 2 2-4 2 2 2-2 2 3 2 1 2 0 2-1 3 0 2 1 2-1 2-1 2-1 2 1 2-1 2 1 2 0 2 1 2-1 2 0 2 1 2 0 2 0 2-1 2-1 2 2 2-1 2 0 2 0 2 0 2 1 2 0 2 1 2-2 2-1 2-1 2 3 2 0 2 1 2-1 2 1 2-2 2 1 2 1 2-2 2 2 2-1 2 1 2-3 3 1 2 0 2 1 2 0 2-1 2 1 2 0 2 0 2-1 2 0 2 1 2-1 2 0 2 1 2-2 2 2 2-2 2 3 2-1 2 0 2 0 2-1 2 2 2 0 2-2 2 1 2 1 2-3 2 2 2 0 2-1 2-5 2 0 2 0 2-4 2 3 2 6 2-1 2 2 2 0 3-3 2 3 2-1 2-2 2 1 2-1 2 2 2-1 2 0 2 1 2 1 2-2 2 0 2 1 2-2 2 0 2-2 2 3 2 0 2 0 2 1 2-3 2 3 2 1 2-2 2 2 2 1 2-2 2-2 2 1 2 1 2 0 2 0 2 1 2 0 2 0 2-1 2-1 2 1 2 1 2-1 3 0 2-1 2-1 2 2 2 0 2-3 2 2 2 1 2 0 2 1 2 1 2-2 2 1 2-3 2 3 2-3 2 2 2 1 2-1 2 2 2-1 2-1 2 0 2 1 2 1 2-1 2 0 2-1 2 1 2 0 2-1 2 1 2-4 2 2 2 1 2 0 2 1 2 0 2 0 2 0 3 0 2-1 2 0 2 0 2 1 2 0 2 0 2 0 2-1 2 1 2 0 2-3 2-2 2 0 2-2 2 3 2 2 2 0 2 2 2 0 2 0 2-1 2 2 2-1 2-1 2 1 2 0 2-2 2 3 2-1 2 0 2 0 2-1 2 0 2 0 2 0 2 1 2-2 2 1 2 1 2-1 3-1 2 1 2 0 2 1 2-2 2 0 2 1 2 1 2 0 2-2 2 0 2 1 2 2M389 2938l2-7 1 0 1-6 1 6 1-16 2 12 1-11 1-6 1 11 1-3 2 11 1-3 1 0 1-10 1-1 1 9 2 3 1-3 1-1 1-8 1 0 2 15 1-2 1-11 1 1 1-1 2 17 1-9 1 7 1-5 1-2 2 5 1-7 1-2 1 11 1 0 1 1 2-1 1 1 1 4 1-3 1-1 2 3 1 1 1-2 1-4 1 6 2 0 1 3 1-2 1-4 1 1 2 4 1-1 1 2 1-3 1-2 1 0 2 5 1 0 1-1 1-2 1 2 2 3 1-7 1 6 1 0 1 0 2-4 1 0 1 1 1 3 1-4 2 4 1-5 1 2 1 2 1-2 1 1 2-5 1 0 1-3 1 2 1-2 2-5 1-4 1 5 1-3 1 1 2 0 1-3 1 4 1 1 1 2 2 4 1-2 1 5 1 0 1 2 1 3 2-1 1 0 1 2 1-2 1 1 2 0 1 0 1-2 1 0 1 4 2-1 1-3 1 3 1-3 1-1 2 0 1-1 1 3 1 0 1 1 2 0 1-1 1-2 1 3 1 0 1-1 2 1 1 1 1-1 1 0 1 1 2 1 1-1 1 0 1-1 1 1 2 1 1 0 1-1 1 1 1-2 2 1 1 0 1-1 1 2 1-1 1 0 3-2 2-1 2-5 2 1 2-4 2 4 2 3 2 3 2 0 2 1 2 1 2 0 2 0 2-1 2-2 2 4 2-2 2 2 2-1 2 1 2-3 2 1 2 2 2 0 2 0 2-1 2 0 2-1 2 1 2-1 2-1 2 1 2 1 2 0 2-1 2 0 2 1 2 0 2-2 2 1 2 1 3-1 2 1 2-3 2 4 2-1 2 0 2-1 2 1 2-1 2 1 2 0 2 0 2-3 2 3 2 0 2-2 2 1 2 1 2-1 2-1 2 3 2-2 2 0 2 1 2-1 2 0 2 0 2 1 2-3 2 2 2-3 2-3 2 2 2-2 2 3 2 1 2 3 2 0 2-1 2 0 3 1 2 0 2 0 2 1 2 0 2-1 2 1 2 0 2-1 2 0 2 0 2-1 2 2 2-2 2 1 2-1 2 0 2 0 2 0 2 1 2 0 2 0 2-1 2-1 2 0 2-1 2-5 2-1 2 3 2 2 2-4 2 2 2 5 2 0 2 0 2 1 2 0 2-2 2 0 2 3 2-2 3 1 2 0 2 1 2-2 2 1 2 0 2 0 2 1 2-1 2 1 2-1 2 0 2 0 2-1 2 1 2 0 2-2 2 1 2 1 2-1 2 1 2 0 2-2 2 2 2 0 2-1 2 1 2-1 2 0 2 0 2 1 2 0 2 0 2 0 2-2 2 1 2 2 2-1 2-1 2 1 3 0 2 1 2 0 2 0 2-2 2 0 2 1 2 0 2 1 2-2 2 1 2-1 2-2 2-3 2-2 2-1 2 3 2 1 2 1 2 2 2 1 2 0 2 1 2-2 2 0 2 2 2 0 2-1 2 1 2 1 2-1 2 0 2-1 2 1 2 0 2 1 2-2 2 2 2-3 2 3 2-1 3-3 2 2 2 1 2 1 2 0 2 0 2 0 2-1 2 1 2 0 2-1 2 0 2 0 2 0 2 0 2-2 2 2 2 0 2-1 2-1 2 2 2-2 2 1 2 1 2-1 2 0 2 1 2 0 2 0 2-1 2-1 2 1 2-3 2 0 2 0 2 0 2 3 2 1 2 0 2 1 3-2 2 1 2 1 2-1 2 0 2 0 2 0 2 1 2-2 2 2 2-1 2 1 2 0 2-1 2 0 2-2 2 0 2 0 2 1 2 0 2-2 2 1 2-4 2-6 2-3 2-7 2 8 2 7 2 4 2 0 2 2 2 0 2 0 2 1 2-1 2 1 2 1 2 0 2-1 2 0 2-2 3 2 2 0 2-1 2 1 2 1 2-1 2-1 2-2 2 2 2-1 2 2 2-3 2 3 2 0 2-1 2 1 2-1 2-1 2 1 2 0 2-2 2 2 2 2 2-1 2-1 2 1 2 0 2 0 2 0 2 1 2 0 2 0 2 0 2 0 2-2 2 1 2 1 2 0 2-1 2 1 3-1 2 1 2-2 2 2 2-1 2 1 2-3 2 2 2-1 2 1 2-2 2 1 2 1 2-2 2 0 2 1 2 1 2-1 2 1 2 0 2-1 2 1 2 0 2 0 2-1 2-1 2 3 2-1 2 1 2 0 2-1 2-2 2-1 2-1 2-2 2-4 2 0 2 4 2 3 2-1 2 1 3 3 2 0 2 0 2-1 2 0 2-1 2 2 2 0 2 0 2-2 2 2 2 0 2-1 2-2 2 2 2-1 2 0 2-1 2 0 2 2 2-1 2-1 2-2 2 2 2 0 2 2 2 1 2 1 2-2 2-1 2 1 2 0 2 0 2-1 2 2 2 0 2 1 2-2 2 2 2 0 3-2 2 1 2 0 2-1 2 1 2-3 2-1 2 1 2 0 2 1 2-2 2 4 2-1 2 1 2-1 2 1 2-1 2-1 2 1 2 2 2 0 2 0 2-1 2 0 2 1 2 0 2 0 2-2 2 1 2 0 2-2 2 3 2-2 2 2 2-2 2 1 2 1 2-1 2 0 2 1 2-2 3 1 2 0 2-2 2 2 2 0 2-1 2 0 2 0 2 0 2-1 2 1 2-1 2 0 2-1 2-3 2-1 2 2 2 1 2 2 2 1 2 0 2 1 2 1 2-3 2 3 2-1 2 0 2 1 2 0 2 0 2-2 2 2 2 0 2 0 2-1 2-3 2 3 2-1 2 0 2 2 3-2 2-1 2 0 2 2 2-1 2 0 2-2 2 2 2 1 2 1 2 0 2 0 2 0 2-2 2 0 1 2M379 2949l1-7 1-4 2-12 1 7 1 1 1 3 1-7 2 5 1 3 1-8 1-12 1 11 2 4 1 1 1-10 1-12 1 3 2 24 1-9 1 5 1-6 1 8 1-5 2 5 1-6 1-11 1 12 1-8 2 13 1-2 1-3 1 2 1 5 2-5 1 2 1 8 1-3 1-3 2 1 1 1 1 5 1-3 1 0 2 1 1-7 1 5 1 4 1 1 1 1 2 0 1-3 1 1 1-1 1-1 2 4 1 0 1-6 1 6 1-1 2-1 1 4 1 0 1 0 1-1 2 0 1-1 1 0 1-1 1 4 1-5 2 2 1-4 1-1 1 6 1-3 2 1 1 2 1-2 1 3 1-1 2-3 1 0 1-2 1 1 1-5 2 4 1-2 1 0 1 0 1-2 1 0 2-1 1 0 1 0 1 5 1-3 2 2 1 2 1 0 1 4 1-1 2-1 1 1 1 0 1-3 1 3 2 1 1-4 1 5 1-2 1 2 1 1 2-1 1-1 1 0 1 1 1-4 2 5 1 0 1-1 1 0 1-2 2 3 1 0 1 0 1-1 1-1 2 3 1-2 1 0 1 2 1 1 2-1 1-1 1 1 1 1 1 0 1-1 2-1 1 2 1-2 1 2 1-1 2 0 1-1 1 0 1 0 1 0 2-1 2-1 2-2 2-1 2-7 2 6 2-1 2 5 2 1 2 0 2 2 2 0 2-2 2 1 2 1 2 1 2-2 2 1 2 0 2-1 2 1 2 0 2 1 2-1 2 1 2-1 2-2 2 2 2 1 2-1 2 1 2-2 2 2 2-1 2-1 2 0 2-3 2 4 2-1 3 1 2 1 2 0 2-1 2 0 2 0 2-2 2 1 2 1 2-3 2 0 2 3 2-2 2 2 2 1 2-2 2 1 2-1 2-1 2 3 2-1 2 1 2-2 2 2 2 0 2 0 2-2 2 1 2 0 2 1 2-3 2 0 2-1 2 0 2-2 2 1 2 2 2 0 2 2 2 0 3 1 2-2 2 0 2 2 2-1 2-1 2-2 2 1 2 1 2 1 2 0 2-1 2 0 2 1 2 0 2 0 2 1 2-1 2 0 2 1 2-1 2-1 2 0 2 1 2-1 2 2 2-2 2-1 2-4 2 0 2-3 2 1 2 2 2 2 2 4 2-2 2 1 2 2 2-1 2 0 2 0 3-1 2 1 2 0 2-1 2-2 2 3 2-1 2-2 2 1 2 2 2 0 2-3 2 3 2 0 2 0 2 1 2 0 2-1 2 1 2-1 2 1 2-1 2-1 2 2 2-1 2 1 2 0 2-1 2-1 2 0 2 1 2 1 2 0 2-1 2-1 2 2 2-2 2 0 2 1 2 0 3 0 2-1 2 0 2 1 2-2 2 2 2 0 2 0 2 0 2 1 2-1 2 1 2-1 2 0 2-1 2-1 2 0 2-3 2-1 2 4 2 2 2 1 2-2 2 2 2-2 2 2 2 0 2 0 2-2 2 0 2 0 2-2 2 4 2-1 2 0 2 0 2-1 2 0 2 1 2-1 2 0 3 0 2-1 2 1 2-1 2 1 2 2 2 0 2 0 2-2 2 1 2 0 2 1 2-1 2 0 2 1 2-2 2 1 2 1 2 0 2-2 2-1 2 3 2 0 2 0 2-2 2 1 2 1 2-1 2 0 2 0 2 1 2-3 2 0 2-3 2 0 2 1 2 0 2 0 2 2 2 2 3-1 2-1 2 1 2 0 2 0 2 1 2-1 2-1 2 1 2 2 2-1 2-1 2 1 2 0 2-2 2 2 2-1 2 2 2 0 2-1 2 1 2-1 2 0 2-1 2-5 2-3 2-3 2-5 2 2 2 0 2 9 2-1 2 6 2 0 2-1 2 1 2 0 2-1 2-1 2 2 2 1 3 0 2-1 2 1 2 0 2 0 2 0 2-1 2 1 2 1 2-1 2 0 2 1 2 0 2-1 2 1 2-1 2 0 2 0 2 0 2-1 2 2 2-1 2 1 2-1 2-2 2 3 2-1 2 0 2-1 2 0 2 1 2 0 2-2 2 1 2-1 2 1 2 0 2 1 2 0 2 0 3 1 2-2 2 0 2 0 2 1 2 0 2 0 2-3 2 3 2 0 2 0 2 0 2 1 2 0 2-1 2 1 2 0 2-2 2 1 2 0 2 1 2-1 2 0 2-1 2 2 2-1 2-1 2 1 2 0 2 0 2 0 2 0 2-1 2-1 2 0 2-4 2-3 2 2 2 1 2-2 3 6 2 2 2 0 2-1 2 2 2-1 2 0 2 0 2 1 2-3 2 2 2 1 2-3 2 3 2-1 2 0 2 0 2-1 2-1 2 1 2-2 2 2 2 0 2-3 2 2 2 0 2 0 2 1 2 0 2-3 2 3 2 0 2 0 2 0 2 0 2-1 2 2 2 0 2 0 2 0 2 0 3-1 2 1 2 0 2 1 2 0 2-2 2 0 2 0 2 0 2-2 2 2 2-1 2 2 2 0 2 1 2-1 2 1 2-1 2-1 2 1 2 0 2-1 2 0 2 1 2 0 2-1 2 1 2 0 2-1 2 1 2 0 2 0 2-1 2 1 2-1 2-1 2 1 2 2 2 0 2-1 3 0 2 0 2 0 2 1 2-1 2 1 2-1 2 1 2 0 2 0 2-2 2-1 2 2 2-1 2 1 2-2 2 0 2-9 2 3 2 0 2 6 2 0 2 0 2 0 2 2 2-1 2 1 2-2 2 1 2 0 2 1 2 0 2 0 2 0 2 1 2-1 2 0 2-1 2 2 2-1 2 0 3-1 2 0 2 1 2-1 2 2 2 0 2 0 2-1 2 1 2 0 2-1 2 0 2 1 2-1 2 0 2 1 2-2 1 1M369 2956l1-4 1-17 1 2 2 7 1-1 1-7 1-18 1 16 2 11 1-19 1-1 1 18 1-16 1 18 2-3 1-2 1-2 1-11 1 9 2-5 1 11 1-3 1 1 1 6 2-3 1 5 1-9 1 7 1-4 2 8 1-4 1 0 1-5 1 6 1 3 2-7 1 8 1-7 1 5 1-4 2 2 1 4 1 2 1-4 1-2 2 1 1 0 1 0 1 3 1 3 2-1 1 0 1 2 1 0 1-1 1 1 2 0 1 0 1-3 1 4 1 0 2-1 1 2 1-3 1 0 1-2 2 4 1 0 1-2 1-4 1 2 2 0 1 4 1 1 1 0 1-4 2 0 1 1 1 0 1 2 1-2 1-1 2-1 1-2 1-4 1 3 1-2 2-2 1-3 1-1 1-3 1 1 2 2 1 2 1-4 1 4 1 2 2 4 1 0 1 5 1 0 1-2 1 1 2 2 1 1 1 1 1-3 1 1 2 3 1-3 1 0 1-1 1 1 2-1 1 0 1 3 1-2 1 0 2 1 1-7 1 5 1 1 1 0 1 0 2 3 1-4 1 2 1 2 1-4 2 4 1 0 1 1 1-1 1 0 2 1 1 1 1 0 1 0 1-1 2 1 1 0 1-1 1 0 1 0 1 1 2-2 1 0 1 0 1 1 1-2 2 0 2-2 2-2 2-4 2 4 2 1 2 3 2 1 2 0 2 1 2 0 2 1 2-2 2 1 2 0 2-2 2 1 2-1 2 0 2 2 2-2 2 0 2 1 2 2 2 0 2 0 2-3 2 2 2 0 2 0 2 1 2-1 2 1 2 0 2-2 3 1 2 1 2-2 2 2 2 0 2-1 2 0 2 1 2-1 2-2 2 1 2 0 2-1 2 2 2-1 2 1 2 1 2-1 2-1 2 2 2-2 2 1 2-1 2 1 2 0 2 0 2 1 2-1 2 0 2 1 2-2 2 2 2-1 2 1 2-2 2-1 2-1 2 0 2 0 2 2 2 1 3 0 2-1 2 0 2 1 2 0 2 1 2-5 2 4 2-1 2-1 2 0 2 2 2-2 2 0 2 3 2 0 2-3 2 1 2 0 2 2 2 0 2 0 2 0 2-2 2 2 2-2 2 2 2-1 2 0 2-2 2-3 2-1 2-1 2 1 2 2 2 2 2 0 2 1 2 1 2-1 3 2 2-1 2 1 2-4 2 3 2-1 2 2 2-1 2 0 2-2 2 1 2 1 2 0 2-1 2 1 2 0 2 0 2-3 2 1 2 2 2 1 2-2 2 0 2 1 2-1 2 2 2 0 2-1 2 0 2-1 2-1 2 2 2 0 2 1 2-1 2 1 2 0 2-1 2-1 2 0 2 1 3-2 2 1 2 1 2-1 2 1 2-1 2-1 2 0 2 1 2-2 2 1 2 2 2 0 2 0 2 0 2-5 2 3 2-1 2-2 2 0 2 3 2-1 2 3 2 1 2 0 2-1 2 0 2 0 2 0 2 0 2 1 2-1 2 1 2-2 2 2 2-1 2 1 2 0 2-2 2 0 3-1 2 1 2 0 2-1 2 2 2 0 2-1 2 0 2 0 2 1 2 0 2-1 2-1 2 3 2-1 2 0 2 0 2 1 2-1 2-1 2 1 2 1 2 0 2-1 2 0 2-2 2 1 2 2 2 0 2 0 2-1 2 0 2 1 2-1 2-2 2-3 2 0 2-3 2-2 2 1 2 4 3 3 2 2 2 0 2 0 2 0 2 0 2-1 2-1 2 2 2 0 2-2 2 2 2 0 2-1 2 2 2 0 2 0 2-1 2 0 2-1 2-3 2 4 2 0 2-2 2 3 2-1 2-2 2-2 2-8 2-5 2 0 2 3 2 9 2 1 2 3 2 0 2 1 2 0 2-1 2-2 3 3 2 1 2-2 2 1 2 0 2-3 2 3 2-1 2 1 2-1 2 2 2-1 2 1 2-1 2 1 2-1 2 0 2 0 2 1 2-1 2 1 2-1 2 0 2 0 2 0 2 0 2-1 2 1 2 1 2-2 2 0 2 0 2-2 2 3 2 0 2-1 2 1 2-1 2 0 2 0 2 0 3 1 2 0 2-1 2 1 2 0 2 0 2-1 2 0 2 0 2 1 2 0 2-1 2-1 2 2 2 0 2 0 2 1 2-2 2 1 2 0 2 0 2-2 2 3 2 0 2-3 2 2 2 0 2 1 2 0 2-1 2 1 2-3 2 2 2 0 2-2 2 0 2-2 2-4 2-3 2 4 3-4 2 7 2 3 2 0 2-1 2 3 2-2 2 2 2-2 2 2 2 0 2-1 2-1 2 1 2 1 2 0 2 0 2-1 2 0 2 0 2-3 2 2 2-1 2-2 2 2 2-1 2 0 2 2 2 0 2 1 2 0 2-1 2 0 2 1 2-1 2-1 2 0 2 1 2-1 2 2 2-1 3 0 2 2 2 0 2-1 2 0 2 0 2-2 2 1 2 1 2-4 2 3 2-2 2 3 2-1 2 1 2 0 2 1 2 0 2 0 2-3 2 2 2 1 2-2 2 1 2 0 2 1 2-2 2 1 2 0 2-1 2 0 2 0 2 1 2 0 2 0 2-1 2 1 2-1 2 2 2 0 3-3 2 3 2-3 2 1 2-2 2 4 2-1 2 1 2-2 2 0 2 2 2 0 2 0 2-2 2-1 2 1 2 0 2-4 2-1 2-1 2-1 2 3 2 0 2 4 2 0 2 1 2 0 2-2 2 2 2-1 2 0 2 1 2 0 2 0 2 0 2-1 2 2 2-1 2 0 2 0 2 0 3 0 2-2 2 0 2 2 2 0 2 1 2-2 2 1 2 0 2 1 2 0 2 0 2 0 2 0 2 0 2-3 2 2 2 1 2 0 1-1M358 2964l2-4 1-4 1-1 1-19 1-2 2-5 1 13 1 7 1-10 1-9 2 21 1-10 1 0 1-1 1 12 2 1 1-4 1-14 1 14 1-16 2 21 1-7 1-5 1 10 1 0 1-4 2 7 1 2 1-10 1-7 1 17 2-7 1 1 1 1 1 8 1-4 2 4 1-7 1 5 1-10 1 3 2 7 1 0 1-1 1 0 1 2 1 3 2-1 1-1 1 2 1-1 1 0 2 2 1-3 1 1 1-5 1 6 2 1 1-1 1 1 1-2 1 3 2-1 1-5 1 2 1 1 1 2 1 0 2-7 1 9 1 0 1-4 1 1 2 1 1-2 1 1 1 1 1 0 2-1 1 2 1-1 1-3 1 4 2-5 1 0 1 3 1-2 1-1 1-2 2-1 1 0 1-1 1-4 1 1 2 3 1 0 1 2 1 2 1 0 2 0 1 3 1 2 1-2 1 3 2-4 1 5 1-4 1-1 1 4 2 0 1-1 1-1 1 3 1 0 1 1 2-6 1 3 1 0 1 0 1 0 2 1 1-1 1 1 1 0 1 0 2 1 1-1 1-1 1 3 1-3 2 1 1 1 1-2 1 4 1-3 1 3 2-2 1-1 1 2 1 1 1 0 2-1 1-1 1 0 1 0 1 1 2 0 1 0 1-1 1-2 1 0 2 0 1-1 2-3 2-6 2 3 2 1 2 5 2 1 2 1 2 2 2 1 2 0 2-1 2-1 2 2 2-1 2 1 2-2 2 1 2 0 2 1 2 0 2-2 2 1 2 1 2-1 2 1 2 0 2-3 2 0 2 1 2 0 2 1 3 1 2-1 2 1 2-1 2-1 2 1 2-1 2 2 2-3 2 2 2 1 2-2 2 1 2 0 2 0 2 0 2-2 2 2 2 1 2-1 2-1 2 1 2 1 2-1 2-1 2 2 2 0 2-1 2 1 2 0 2 0 2 0 2-1 2 0 2-1 2 1 2-1 2-2 2 1 2 0 3 1 2 0 2 0 2 1 2-1 2 0 2-2 2 2 2 0 2-2 2 3 2 0 2 0 2-2 2 3 2-1 2 1 2-2 2 1 2 0 2 1 2 0 2-4 2 3 2 1 2 0 2 0 2 0 2-1 2 1 2-3 2 1 2-1 2-2 2-4 2-2 2 4 2 1 2 1 2 2 2 2 3 0 2-1 2-1 2 2 2-1 2-2 2 2 2 1 2 1 2-1 2-1 2 0 2 2 2 0 2-2 2 1 2 0 2 0 2 0 2 1 2-2 2 0 2 0 2 2 2 0 2-1 2 0 2 1 2-3 2 3 2 0 2-1 2 1 2 0 2-1 2 1 2 0 2-2 2 1 2-1 3 2 2-1 2 0 2-1 2 1 2-1 2 0 2 1 2 0 2-1 2 0 2 2 2 0 2 0 2 0 2 0 2-1 2-2 2-1 2-3 2-3 2 4 2 2 2 1 2 1 2 0 2 1 2 0 2 0 2 1 2 0 2-1 2-1 2-2 2 3 2 0 2 1 2 0 2 0 2-1 2 0 3-1 2 1 2 0 2-1 2 1 2 1 2 0 2-3 2 1 2-1 2 0 2 3 2 0 2-1 2 1 2 0 2-2 2 0 2 2 2 0 2-2 2 2 2 1 2-4 2 2 2 0 2 1 2-1 2-1 2 1 2 0 2 1 2-2 2 1 2 0 2-1 2 0 2-6 2-4 2 2 3 2 2-1 2 7 2 0 2 1 2 1 2-1 2 0 2-2 2 1 2 2 2-2 2 1 2 0 2 0 2 1 2 0 2 0 2 0 2-1 2 1 2-2 2 2 2-1 2-1 2 1 2 0 2-1 2 2 2-3 2-1 2-5 2-1 2-1 2 3 2 0 2 4 2-1 2 3 2 0 2-1 3 0 2 2 2-3 2 3 2-2 2 2 2 0 2-3 2 2 2 0 2 2 2-2 2 1 2 1 2 0 2 0 2-1 2 1 2-1 2-1 2-2 2 1 2 1 2 1 2 1 2 0 2-2 2 1 2-1 2 0 2 0 2-1 2 2 2-1 2 0 2 1 2-3 2 3 2-2 2 3 3 0 2-2 2-2 2 4 2 0 2-1 2 0 2-1 2-1 2 3 2 0 2 0 2-2 2 2 2 0 2 0 2-1 2 1 2-1 2 0 2 0 2 1 2-2 2 2 2-1 2-2 2 2 2-2 2 2 2-1 2 1 2 1 2-1 2-2 2 1 2 0 2-1 2 0 2 1 2-1 2-3 3 1 2 0 2 2 2 0 2 3 2-1 2 1 2 0 2-1 2 1 2 0 2-4 2 2 2 2 2 0 2-1 2 0 2-1 2 1 2-1 2-2 2 2 2 0 2-1 2-2 2 0 2 3 2-1 2 0 2-1 2 0 2 1 2 0 2 2 2-2 2 1 2-1 2 1 2 0 2 0 3 0 2 0 2 2 2-1 2 1 2 0 2-1 2-1 2-1 2 2 2 1 2-2 2 1 2-1 2-1 2 2 2 0 2 0 2 0 2 0 2 0 2 0 2 0 2 0 2-1 2 2 2-1 2-2 2 3 2-2 2 1 2 0 2-1 2 1 2-2 2 2 2-3 2 4 2-1 2 0 2 1 3-1 2 1 2-1 2-1 2 2 2 0 2 0 2-1 2-1 2 2 2 0 2 0 2-4 2 3 2 1 2 0 2-1 2 0 2-3 2-1 2 0 2-1 2 1 2-2 2 5 2-2 2 3 2 0 2 0 2-1 2 2 2-1 2 1 2 0 2-1 2 0 2 1 2-1 2 1 2-2 3 0 2 0 2 1 2 0 2-1 2 2 2 0 2-1 2 0 2 0 2 1 2 0 2 0 2-2 2 1 2 1 2-1 2 0 2 0 2 0 2 1 2-2 1 1M348 2973l1-10 2 5 1-9 1-5 1 5 1 4 2-9 1-4 1 5 1-13 1-7 1 24 2-3 1 3 1-3 1 0 1-9 2 6 1 3 1 1 1-20 1 23 2-9 1 9 1-3 1-2 1 11 2-6 1-3 1 4 1-1 1-1 2 5 1-3 1-3 1 3 1 4 1-6 2-4 1 10 1-3 1 1 1 2 2 2 1-5 1 4 1-1 1 5 2-1 1-4 1 2 1 4 1-8 2 1 1 7 1-3 1 4 1 0 1-6 2 7 1-2 1 0 1 3 1-3 2 2 1-1 1 0 1 0 1 0 2-5 1 5 1-2 1 1 1-3 2-2 1 6 1 1 1-3 1 2 1-1 2 0 1 1 1 0 1-2 1 0 2-7 1 7 1-3 1 3 1-3 2 1 1-1 1-5 1 4 1-2 2 0 1 4 1-4 1-2 1 8 1 0 2 0 1 3 1-3 1 4 1-4 2 0 1-1 1 4 1-1 1-4 2 2 1 1 1 3 1-3 1 0 2 1 1 3 1-3 1 2 1-5 2-1 1 6 1 0 1-3 1 2 1-3 2 2 1 0 1 2 1-2 1 1 2 2 1-2 1 2 1 0 1-2 2 2 1-3 1 3 1-2 1 3 2-4 1 4 1-2 1 1 1 0 1-1 2 0 1-3 1 3 1-2 1 0 2-2 1-5 1 3 2-3 2 3 2 0 2 2 2 3 2 0 2 0 2 3 2-1 2 1 2-1 2 1 2 0 2 0 2 0 2 0 2-1 2 1 2 0 2 0 3-4 2 3 2 0 2 0 2 1 2-1 2 0 2 1 2-2 2 2 2 0 2-1 2 0 2 0 2 1 2 0 2-3 2 2 2 0 2 1 2-1 2 1 2-1 2-1 2 0 2-1 2 2 2-2 2 2 2 0 2 1 2-1 2 1 2 0 2-1 2 1 2-2 2 3 2-3 2 1 3 0 2 1 2 0 2-1 2-3 2 2 2-1 2-2 2 2 2 0 2 0 2 2 2-2 2 0 2 2 2 1 2-1 2-1 2 1 2 1 2-2 2 1 2 1 2 0 2-1 2 0 2 1 2-1 2 1 2 0 2 0 2-1 2 1 2 0 2-3 2 2 2 0 2 1 2-1 2 1 2 0 3-1 2-2 2-1 2-1 2-4 2 6 2 1 2 1 2 0 2 0 2 0 2 1 2-1 2 0 2 0 2 0 2 0 2 0 2 1 2-3 2 3 2-1 2-2 2 3 2 0 2-1 2 1 2-1 2-1 2 1 2 0 2 0 2 0 2 1 2-1 2 0 2 1 2-3 2 3 2 0 3-1 2 1 2-1 2-1 2 0 2 1 2 0 2 1 2-4 2 3 2 0 2-1 2 1 2 0 2 0 2 1 2-1 2-2 2 1 2 2 2 0 2-2 2 2 2-1 2-2 2 3 2-2 2-1 2-4 2 1 2-2 2 4 2 1 2 2 2-2 2 2 2 0 2 0 2-1 2 1 2-1 3 1 2 0 2-2 2 2 2-1 2 1 2 1 2-1 2-1 2 1 2-1 2 2 2-1 2-1 2 1 2-1 2 1 2 0 2 0 2 1 2-1 2-1 2 2 2 0 2-1 2 0 2 2 2-3 2 2 2 1 2-2 2 1 2 1 2-1 2 0 2 0 2-1 2 0 2 0 2-1 3 2 2-2 2 2 2-1 2-1 2-1 2-4 2 2 2-1 2 0 2 3 2 1 2 1 2 1 2-2 2 1 2-1 2 2 2-1 2 0 2 0 2 1 2-1 2-1 2 1 2 1 2-1 2 1 2-1 2-2 2 2 2-1 2 1 2-1 2 1 2 0 2 0 2 0 2 0 2-3 2-3 3-5 2-3 2 1 2 3 2 1 2 5 2 0 2 2 2 0 2 1 2 1 2 0 2-1 2 2 2 0 2 0 2-1 2-1 2 2 2-1 2 1 2 1 2-2 2 1 2-2 2 2 2 0 2-1 2 1 2 0 2-1 2 1 2-1 2 0 2 1 2 0 2 0 2 0 2 0 2-3 3 1 2 1 2 0 2-2 2 2 2 0 2-1 2 1 2 0 2-1 2 0 2 2 2 0 2 0 2 0 2-1 2 1 2 0 2 0 2-1 2 1 2 0 2 0 2 0 2-1 2 1 2-3 2 3 2-2 2 1 2 0 2-2 2 3 2-1 2-1 2 2 2-1 2-2 2 1 2 1 2-2 3 2 2 1 2-3 2 1 2-1 2 0 2-1 2-3 2-4 2 3 2 0 2 0 2 5 2 1 2 1 2 0 2 0 2-1 2 0 2 2 2-1 2 0 2 1 2 0 2-1 2 1 2 0 2 0 2 0 2-1 2-1 2 0 2-1 2-1 2 2 2 0 2 0 2-2 2-1 2 3 3-1 2 1 2-3 2 3 2 2 2-1 2 0 2 0 2 0 2-1 2 0 2 2 2-1 2 1 2-1 2 2 2-2 2 0 2 0 2-1 2 1 2-1 2 2 2-2 2-1 2 2 2 1 2-2 2 2 2-1 2 0 2 0 2-3 2 3 2 0 2-1 2 0 2 2 2-3 2 2 2-1 3 2 2 0 2 0 2 0 2 0 2-1 2 0 2 1 2-3 2 2 2 0 2 1 2 0 2 0 2 0 2 0 2 1 2-1 2 1 2-2 2 1 2-1 2 1 2 0 2-1 2-1 2 0 2 0 2-3 2-5 2-1 2 4 2-1 2 3 2 3 2 0 2 1 2-2 2 2 2 0 3 1 2-1 2 0 2 1 2 0 2 0 2 0 2 0 2 0 2 0 2 0 2-2 2 1 2 1 2-1 2 0 2 1 2 0 2 0 2 0 2-2 2 2 2-1 2 0 2 1 2-2 2 1 2 1 2 0 2-2 2 2 1-2M338 2976l1 3 1-19 1 12 2-22 1 10 1-5 1-11 1 6 2 16 1-10 1-4 1 15 1-9 2-3 1 8 1-12 1 16 1-12 2 5 1 2 1 4 1-3 1 4 1-7 2 6 1 0 1 3 1-6 1 2 2-2 1-4 1 4 1 9 1 0 2 3 1-6 1 5 1 1 1-1 2 2 1 2 1-6 1 3 1 2 1-7 2 0 1 4 1-1 1-2 1 4 2 3 1 1 1 1 1-3 1 0 2 3 1-1 1-1 1 1 1 2 2-4 1 4 1-2 1 0 1 2 2 1 1-2 1 1 1-4 1 2 1 2 2 1 1 0 1-2 1-4 1-1 2 6 1-6 1 4 1 1 1 0 2 0 1-1 1 1 1-2 1-1 2 0 1-3 1-1 1 2 1-5 1 0 2 2 1-4 1 3 1-2 1 3 2-3 1 2 1 3 1 1 1 2 2 1 1-1 1 3 1-4 1 4 2-3 1 3 1-1 1 3 1-1 1 1 2-1 1-1 1 0 1-1 1 2 2 2 1-5 1 0 1 3 1 2 2 0 1-5 1 5 1-1 1-2 2 2 1 1 1-5 1 4 1-2 1 2 2 1 1-3 1 0 1 4 1-2 2-1 1 3 1-2 1 1 1 0 2 0 1 1 1-1 1 0 1-1 2 1 1 0 1-1 1-2 1-1 2-4 1 0 1-3 1 4 2 0 2 3 2 0 2 4 2 1 2-1 2 0 2-1 2 2 2-2 2 1 2 1 2-1 2 1 2 0 2-2 2 1 3 1 2-1 2 2 2-2 2-1 2 2 2 1 2-1 2 0 2 0 2 0 2-2 2 1 2 0 2 1 2-1 2 0 2 0 2-1 2 2 2-1 2 1 2 0 2-1 2 0 2 1 2 0 2-1 2 1 2 0 2 0 2-1 2 0 2 0 2 1 2 0 2 0 2-1 2 1 2 0 3-1 2 1 2 0 2 0 2-1 2 0 2-3 2 1 2-8 2 3 2 1 2 3 2 2 2 1 2 1 2 0 2-1 2 0 2-3 2 4 2 0 2 0 2-1 2 0 2 1 2 0 2 0 2-3 2 3 2 0 2 0 2-1 2 1 2 0 2 1 2-1 2-1 2 0 2 1 2-1 2 0 3 0 2 0 2 1 2-2 2 0 2-4 2 2 2-1 2 4 2 0 2-1 2 1 2 0 2 0 2 0 2 1 2-3 2 0 2 2 2 1 2 0 2-2 2 1 2 0 2 0 2 1 2-1 2 1 2 0 2 0 2-1 2 1 2 1 2-1 2 0 2-1 2 0 2 1 2-1 2 1 3-2 2 1 2 0 2 0 2 0 2 0 2 0 2 1 2-1 2-1 2 2 2-5 2 4 2-1 2 1 2 1 2-3 2 1 2 2 2-1 2 0 2 1 2-1 2-2 2 1 2 0 2 1 2 0 2-2 2-2 2 0 2-4 2 5 2 2 2 0 2 0 2 1 2 0 2 1 2 0 2 0 3-1 2 1 2-4 2 3 2 0 2 1 2 0 2-2 2-1 2 1 2 0 2 2 2-1 2 0 2 1 2-1 2-1 2 0 2 2 2 0 2 0 2 0 2-2 2 2 2 0 2-1 2 1 2-2 2-1 2 2 2 0 2 1 2-1 2 0 2 1 2 0 2 0 2-1 2-3 2 4 3-2 2 2 2-2 2 2 2 0 2-2 2 1 2-3 2-3 2 0 2 0 2 2 2-1 2 4 2 0 2 1 2-2 2 2 2 0 2 1 2-1 2 0 2 0 2 2 2-3 2 2 2 0 2-1 2 1 2 0 2 0 2-1 2 0 2-1 2 0 2 0 2 1 2 0 2-2 2 0 2 2 3 0 2-4 2-1 2-2 2-2 2-8 2 8 2 4 2 2 2 1 2-1 2 2 2 1 2-2 2 0 2 3 2-1 2 1 2 0 2 0 2-1 2 1 2-1 2-2 2 2 2 0 2 0 2-1 2 1 2 0 2 1 2 0 2 0 2 0 2-2 2 1 2 0 2-1 2 1 2-1 3 1 2-2 2 2 2 1 2-2 2 0 2 1 2 0 2 0 2 1 2-1 2-1 2 1 2 0 2 1 2 0 2 0 2 0 2 0 2 0 2 0 2-2 2 3 2-1 2 1 2-3 2 2 2 1 2-2 2 1 2-1 2 0 2 1 2-1 2 1 2-1 2 1 2-2 2 2 2-1 3 0 2 0 2 0 2 0 2 0 2 0 2 1 2-1 2-3 2-2 2-6 2 4 2-8 2 9 2 2 2 1 2 3 2 1 2-2 2 2 2 0 2 0 2 0 2 0 2-3 2 3 2 1 2-2 2-2 2 3 2 0 2-3 2 2 2-1 2 0 2 0 2 1 2-1 2 0 2-1 2 1 3 0 2-4 2 1 2 3 2 1 2 0 2 0 2 0 2 0 2-2 2 0 2 0 2 2 2 0 2-2 2 0 2 2 2 0 2 1 2 0 2-1 2 1 2-1 2-1 2 1 2-1 2 0 2 1 2 0 2 0 2-1 2 2 2 0 2 0 2 0 2-2 2 1 2 1 2-2 2 1 3 1 2-2 2 0 2 1 2 0 2-2 2 3 2-1 2 1 2-2 2 1 2 1 2 0 2 0 2-1 2 1 2-1 2 0 2 1 2-1 2 1 2 0 2 0 2 0 2 0 2-1 2 0 2 0 2 1 2-2 2 0 2-1 2-6 2 4 2 0 2 0 2 3 2 1 2 0 2-1 2 2 3 0 2-1 2 1 2 0 2-3 2 3 2 0 2-2 2 2 2-1 2 1 2-3 2 4 2 0 2-2 2 0 2-1 2 2 2 0 2 1 2-3 2 1 2-1 2 0 2 2 2 0 2-2 2 2 2 0 2-2 2 2 2-1 2 1 1-1M328 2988l1-2 1-4 1-11 1 5 2-2 1 2 1-6 1 3 1-2 2 5 1-26 1 27 1-3 1-18 1 18 2-14 1 16 1 2 1-5 1-2 2-12 1-4 1 16 1 10 1-14 2 1 1 7 1 0 1 1 1-5 2 9 1-3 1 1 1 2 1-5 1 3 2 0 1 1 1 0 1 1 1 1 2 3 1 3 1-9 1-1 1 2 2 0 1 3 1 4 1 0 1-1 2 2 1 1 1-12 1 7 1 3 1 2 2 0 1-1 1-2 1 3 1 0 2-5 1 5 1 1 1-3 1 0 2-2 1 4 1 0 1 2 1-2 2-4 1 2 1 1 1 3 1 0 1 1 2-3 1-1 1 0 1-1 1-1 2 5 1-4 1 0 1 1 1 1 2-5 1-1 1 2 1-1 1 0 2-2 1 1 1 0 1-2 1 2 2 0 1 0 1-2 1-2 1 6 1-2 2 5 1 2 1-5 1 5 1-2 2 3 1-3 1 3 1 0 1 0 2-4 1 4 1-1 1-3 1 3 2-3 1 4 1-2 1-2 1 2 1 1 2-4 1 5 1 0 1-1 1 0 2-1 1 2 1-1 1 0 1-1 2 0 1 1 1 2 1-1 1-1 2 2 1-1 1 0 1 1 1-1 1 1 2 1 1 0 1 0 1 0 1 0 2 0 1-2 1 0 1-2 1 0 2-1 1-2 1 0 1-1 2 1 2 3 2 4 2-1 2 1 2 0 2 0 2-1 2 1 2-1 2 1 2-1 2 1 3-2 2 2 2 0 2 0 2 0 2-1 2 1 2-1 2 1 2-3 2 1 2 0 2 0 2 2 2-1 2 0 2-1 2 0 2 0 2 2 2 0 2 1 2-1 2-1 2 1 2-2 2 1 2 1 2 0 2 0 2 0 2-1 2 1 2-1 2 0 2-1 2 2 2 0 2 0 2-1 2-1 3 2 2 0 2-3 2 3 2-2 2 1 2-1 2 0 2-2 2 1 2-4 2 1 2 3 2 0 2 3 2 0 2 0 2 0 2 0 2 1 2-1 2 0 2-1 2-1 2 2 2-1 2 1 2-2 2 1 2 0 2 0 2 1 2-2 2 2 2-1 2 1 2-1 2 0 2 1 2 0 3-1 2-1 2-1 2 2 2 1 2-1 2-1 2-3 2-2 2 0 2-2 2 5 2 2 2 1 2 2 2 0 2-1 2 0 2-1 2 1 2 1 2-2 2 1 2-1 2-1 2 3 2-2 2 0 2 1 2 0 2-1 2 1 2-2 2 1 2 1 2-2 2 2 2-1 2 0 2-1 2 2 3-2 2 1 2 0 2 1 2 0 2-1 2 1 2-1 2 1 2 0 2-1 2 1 2 0 2 0 2 1 2-1 2-2 2 2 2-1 2 1 2 0 2 0 2-2 2 1 2-2 2 3 2 0 2-1 2 0 2 0 2-8 2-1 2 4 2-2 2-1 2 4 2 3 2 2 2-2 2 2 3-3 2 2 2 1 2 0 2-1 2 1 2-1 2 1 2 0 2 0 2-1 2 0 2-1 2 2 2 0 2 0 2 1 2-2 2 0 2 0 2 0 2 1 2-2 2 2 2-1 2 0 2 0 2 0 2 0 2 0 2 0 2-2 2 1 2 1 2 1 2-1 2 1 2 0 2-1 2 1 2 0 3 0 2-2 2 2 2-1 2 2 2-1 2 0 2-2 2 2 2-5 2 1 2 0 2 0 2 1 2 1 2 1 2 1 2 0 2-1 2-2 2 2 2 1 2 0 2-5 2 3 2 2 2-1 2 0 2 1 2-2 2 1 2-1 2-1 2 2 2 0 2 0 2 0 2 0 2 1 2 0 3 0 2-3 2 0 2 1 2-3 2-6 2 0 2-5 2 0 2-3 2 11 2 4 2 0 2 2 2-1 2 3 2-1 2-1 2 1 2 0 2 0 2 0 2 1 2-1 2 1 2-2 2 0 2 1 2-1 2 1 2 1 2-4 2 2 2 1 2 0 2 1 2-1 2 1 2 0 2-1 2-1 3 3 2-2 2-1 2 2 2-1 2 2 2-1 2-2 2 2 2 0 2-2 2 1 2 1 2-1 2 1 2-2 2 1 2 0 2 1 2-1 2 1 2-1 2 0 2-1 2-1 2 0 2 2 2-1 2 1 2 0 2 0 2 1 2 0 2 0 2 0 2 0 2-1 2-1 2 2 2-1 3 2 2-1 2 0 2 0 2-1 2-1 2 3 2-1 2-2 2 1 2-1 2-2 2-3 2 0 2-1 2 5 2 0 2 2 2 1 2-2 2 0 2 1 2-2 2 2 2-1 2 2 2 0 2-2 2 1 2 0 2 1 2-2 2 0 2 1 2 0 2 0 2-3 2 0 2 1 2 2 2-2 3-2 2 4 2-1 2 1 2 0 2 1 2 0 2 0 2-1 2 0 2 0 2-2 2 1 2 1 2 1 2 0 2-2 2 1 2 0 2 1 2-1 2 1 2 0 2-3 2 1 2-1 2 1 2 0 2 1 2-1 2 1 2 0 2 0 2 2 2-1 2 0 2 0 2 1 2-1 2 1 3-2 2 2 2-1 2 0 2-1 2 0 2 1 2-1 2 1 2 0 2-1 2 1 2-1 2 0 2-1 2 0 2 1 2 0 2 0 2 1 2 0 2-2 2-1 2 3 2-2 2 1 2 1 2-2 2 2 2-3 2 3 2-1 2-3 2-2 2-2 2 3 2 0 2 3 2 1 2-1 2 3 3-1 2-3 2 3 2-1 2 0 2 1 2-5 2 5 2-2 2 2 2-2 2 1 2 1 2 0 2 0 2-1 2 1 2-1 2 0 2 0 2 1 2-1 2 1 2-3 2 3 2 0 2 0 2 0 2-1 2-1 2 2 2 0 2-3 2 2 2 1 1 0M317 2993l1-6 2-1 1-3 1-1 1-15 1 10 2 4 1 4 1-11 1-8 1-2 2 3 1 17 1-22 1 9 1 8 2-12 1-1 1 17 1-7 1 3 2-13 1 12 1-8 1 14 1-6 1 7 2-1 1 0 1-11 1 2 1 5 2-2 1 5 1 0 1 5 1-1 2 0 1 3 1 2 1-6 1 4 2-4 1 5 1-1 1-2 1-1 1 4 2 0 1 1 1 2 1-4 1 3 2-3 1 2 1 1 1 2 1 2 2 0 1-3 1 3 1 1 1-2 2 0 1-1 1 3 1-7 1 6 1-3 2 1 1 2 1 0 1-7 1 6 2-1 1 3 1-1 1-1 1 3 2-5 1 2 1-1 1-3 1 4 2 1 1-1 1-6 1-1 1 4 1 0 2-6 1 0 1 0 1-10 1 4 2-2 1 3 1 0 1-2 1 2 2-1 1 1 1 4 1 4 1 0 2-1 1 2 1-1 1 5 1-2 2 2 1 1 1-1 1-1 1 2 1 2 2-6 1 4 1-3 1 4 1 1 2-2 1 2 1-1 1 0 1 1 2-1 1 1 1 1 1-2 1-5 2 5 1 2 1-2 1 3 1-2 1 0 2-1 1 2 1-3 1 3 1-1 2 0 1 0 1 2 1 0 1-3 2 3 1-1 1 1 1-3 1 1 2 0 1 0 1-2 1-2 1-2 1-1 2 2 1-3 1 4 1-1 2 3 2 3 2 0 2-1 2 2 2-1 2-1 2 2 2-1 2 1 3 0 2-2 2 2 2 0 2 0 2 0 2 0 2-1 2 1 2-1 2 1 2 0 2-1 2 2 2 0 2-1 2-1 2 0 2 1 2 0 2-2 2 2 2 0 2-1 2 1 2-1 2-1 2 2 2 0 2 0 2-1 2 1 2-1 2-1 2 2 2-3 2 3 2 0 2 0 2 0 3-1 2-1 2 2 2-1 2 2 2-1 2 0 2 1 2-1 2 0 2 0 2-6 2 0 2 1 2 2 2 0 2-2 2 5 2-3 2 2 2 1 2-1 2-2 2 2 2 1 2-1 2 0 2 1 2 0 2-1 2 1 2-1 2 1 2-2 2 2 2 0 2-1 2 1 2-1 2 0 2-1 3 2 2-1 2-2 2 4 2-1 2 0 2 0 2 0 2-1 2-2 2-2 2-1 2 1 2-1 2 4 2 1 2 1 2 0 2-1 2 1 2 0 2 0 2 0 2-1 2-1 2 2 2-1 2 1 2 0 2 0 2 0 2-1 2 0 2 1 2 0 2-2 2 1 2 1 2 1 2-1 3-1 2-1 2 3 2-1 2-1 2 1 2 0 2 0 2 1 2 0 2-2 2 1 2 1 2-2 2 1 2 0 2 0 2-1 2 0 2 1 2 0 2-2 2-1 2 1 2 2 2 0 2 0 2 0 2-4 2 4 2 0 2-1 2-2 2-2 2 1 2-1 2 2 2 1 2 0 2 2 2 1 3-2 2-2 2 1 2 2 2 0 2 0 2-1 2 0 2 0 2-1 2-1 2 0 2 3 2-1 2 0 2 1 2-2 2 1 2 1 2-3 2 0 2 1 2 1 2 0 2 0 2 0 2-2 2 1 2 0 2 2 2-1 2 1 2 0 2 0 2-4 2 4 2-1 2-1 2 3 2 0 3-1 2-1 2-1 2 3 2-1 2-1 2 1 2-3 2 3 2-1 2 0 2-4 2 0 2-2 2-3 2 3 2 1 2 1 2 4 2 0 2 0 2 0 2 0 2 1 2 0 2 0 2-1 2 1 2 0 2 1 2-5 2 2 2 3 2-3 2 1 2-3 2 3 2-1 2 1 2-1 2 1 3-1 2 3 2-1 2 0 2-3 2 3 2-2 2-3 2-7 2-2 2-1 2 0 2 0 2 4 2 7 2 0 2 3 2 1 2-1 2-1 2 1 2 1 2-1 2 0 2 1 2-1 2 1 2 0 2-1 2 1 2-1 2 1 2 0 2-3 2 3 2 0 2 1 2-1 2 1 2 0 3-1 2 1 2-2 2 0 2 0 2-1 2 2 2 0 2 0 2 0 2-1 2 0 2 1 2-1 2 0 2-1 2-1 2 2 2-1 2 1 2 0 2 1 2-1 2 1 2 0 2 0 2 0 2 0 2-1 2 2 2 0 2 0 2-1 2-1 2 1 2 0 2 0 2-1 2 1 2 0 2 0 3 1 2-3 2 0 2 2 2 0 2 0 2-2 2 1 2-1 2-3 2 4 2-2 2-5 2-3 2 1 2-4 2 7 2 3 2 3 2 1 2 0 2-1 2 1 2-1 2-1 2 0 2 3 2 0 2-3 2 2 2 0 2-2 2 2 2-1 2 0 2-1 2 1 2 0 2-1 2-2 3 3 2 0 2-1 2-1 2 2 2-2 2 0 2 2 2 1 2-1 2 0 2 1 2-2 2-1 2 2 2-2 2 0 2 2 2 1 2-2 2 3 2 0 2 0 2-1 2 1 2 0 2-2 2 1 2 0 2-3 2-1 2 3 2 0 2 2 2-1 2-1 2 1 2-1 2-1 2 0 2 2 3 0 2-2 2 2 2-4 2 3 2 0 2 0 2-1 2 1 2 0 2 1 2-2 2 1 2-1 2 2 2-2 2 1 2 1 2-1 2 0 2-1 2 2 2-3 2 2 2 2 2-1 2 0 2 1 2 0 2-2 2-1 2 3 2-2 2-2 2-1 2-1 2-3 2 1 2 2 2 3 3 0 2 1 2-1 2 1 2 1 2-1 2 1 2-1 2 0 2 0 2 1 2-1 2 0 2 0 2 1 2 1 2-1 2-1 2 1 2-1 2 2 2-1 2 0 2 1 2 0 2-3 2 2 2 1 2 0 2-1 2 0 2 1 2-4 2 0 2 2 2 1 2 0 2 0M307 3003l1-2 1-9 2-2 1 3 1-16 1 13 1 2 2 1 1 0 1-5 1-12 1 16 1 1 2-12 1-3 1 8 1-10 1 14 2-3 1 1 1 3 1-16 1 7 2 14 1-8 1 10 1-7 1-5 2 0 1-2 1 5 1 5 1 5 1-9 2 2 1-3 1 10 1-16 1 16 2 2 1-14 1 9 1 4 1-3 2-2 1-2 1 2 1-1 1 4 2 2 1-2 1 5 1 0 1-1 2 3 1-4 1 1 1 4 1-4 1 2 2 2 1-2 1-1 1 2 1-3 2 3 1-2 1 0 1 3 1 0 2-1 1-1 1 2 1-2 1-2 2-1 1 1 1 0 1 1 1-1 1 2 2 0 1-2 1 5 1-3 1 2 2-3 1 1 1 0 1-3 1 0 2-4 1 1 1-5 1 0 1-7 2 1 1-2 1-2 1 6 1-4 1 1 2 1 1 4 1 1 1 8 1-5 2 6 1-3 1 7 1-2 1 0 2 2 1-3 1 4 1-1 1-2 2-2 1 2 1-3 1 5 1 0 1-1 2 3 1 0 1-1 1 1 1-5 2 5 1-1 1-5 1 2 1 3 2 0 1 1 1-1 1-1 1 1 2 0 1 1 1-1 1 1 1 0 2 0 1 0 1 0 1-1 1 1 1 1 2-1 1 1 1-3 1-1 1 2 2-1 1-1 1-1 1-3 1 0 2-1 1 2 1 1 1 0 1 0 2 4 2-1 2 3 2 0 2 0 2 0 2 0 3-1 2 1 2-1 2 0 2-1 2 2 2 0 2 0 2 0 2 0 2-1 2 0 2 2 2-1 2 1 2 0 2 0 2-4 2 4 2 0 2-1 2 0 2-1 2 1 2 1 2-1 2 1 2-3 2 2 2-1 2 0 2 0 2 0 2 1 2 0 2-1 2-1 2 1 2-1 2 2 3 0 2-3 2 1 2 2 2-2 2-1 2 1 2 0 2 2 2-1 2 1 2-1 2-4 2 1 2-2 2 1 2-1 2 4 2 2 2 0 2 0 2 0 2-1 2 2 2-2 2 1 2 0 2 0 2-1 2 1 2 0 2 0 2-2 2 1 2-1 2 1 2 0 2 0 2 1 2 0 2-2 3 2 2 0 2-1 2 1 2-1 2 1 2-1 2 2 2-3 2 0 2 0 2-2 2 0 2-3 2 1 2 2 2 3 2 0 2 2 2 0 2-2 2 0 2 2 2-2 2 1 2 0 2-4 2 4 2-1 2 1 2-1 2 0 2-1 2-1 2 3 2-1 2 0 2 0 2 1 2 0 3 0 2 0 2-3 2 2 2 0 2 1 2-1 2 2 2-3 2 0 2 3 2-1 2-1 2-1 2 2 2-2 2 2 2-2 2 1 2 2 2-2 2 0 2 1 2-1 2 0 2 0 2 1 2 0 2 0 2-2 2 0 2 1 2-1 2 0 2-3 2-1 2-2 2 0 2 3 2 1 2 3 3-1 2 2 2 0 2-1 2 0 2 2 2-1 2 0 2 0 2 0 2-1 2 2 2-1 2 0 2 0 2 0 2 0 2-2 2 1 2 2 2-1 2-2 2 0 2 1 2-1 2 1 2 1 2 0 2 0 2 0 2 0 2 0 2 0 2-2 2 1 2 1 2-1 2 0 2 1 2-2 3 2 2-1 2 0 2 2 2 0 2-2 2 1 2 0 2 0 2 1 2 0 2-3 2 2 2-3 2 0 2-3 2 0 2 2 2 1 2 0 2 2 2 1 2 0 2 0 2-2 2 1 2 0 2-2 2 3 2 0 2-3 2 3 2 0 2-1 2-1 2 2 2 0 2-3 2 2 2-1 2 2 3-1 2-2 2 2 2 1 2 0 2 0 2 0 2 0 2-1 2-2 2-3 2-5 2-13 2 4 2-4 2 16 2 2 2 3 2 2 2 0 2 1 2 0 2 0 2-1 2 1 2 0 2 0 2-1 2-4 2 4 2 1 2 0 2 0 2 0 2-1 2 1 2 1 2-1 2 0 2 0 3-1 2 0 2 1 2-1 2 1 2 0 2-2 2 3 2-2 2 2 2 0 2 0 2 0 2-1 2 0 2-1 2 1 2-1 2 1 2 0 2 0 2-1 2 0 2-1 2 0 2 1 2 0 2 1 2-3 2 1 2 1 2 1 2-1 2 1 2 0 2 0 2 1 2-1 2 0 2 0 2 1 3-1 2 1 2-1 2 0 2 0 2 0 2 0 2 0 2-1 2 1 2 0 2 0 2-2 2-2 2-5 2-1 2-3 2 4 2 3 2 4 2 1 2-1 2 2 2-2 2 1 2 1 2 0 2 0 2 0 2 0 2-1 2 0 2 1 2-1 2 1 2-2 2 1 2 0 2 0 2-1 3 0 2-1 2-1 2 1 2 1 2-2 2 3 2-1 2 0 2 1 2-1 2 2 2-1 2 1 2-1 2-1 2-1 2 2 2 0 2-2 2 2 2 1 2-2 2 1 2 0 2 1 2 0 2 0 2-3 2 2 2-1 2 0 2 1 2 0 2 1 2-1 2 1 2 1 2 0 2-3 3 2 2-2 2 2 2 0 2-1 2 1 2 0 2 0 2 1 2-2 2 0 2 1 2-1 2 1 2 0 2 0 2 0 2-2 2 2 2-2 2 2 2-3 2 3 2 0 2 0 2-3 2 3 2 0 2-1 2 1 2-2 2 2 2 0 2 1 2-4 2 3 2-2 2-1 2-5 2 0 2 1 3 2 2 4 2 0 2 1 2-1 2 1 2 0 2 1 2-1 2 0 2 0 2-1 2 1 2 0 2-1 2-1 2 0 2 0 2 1 2-1 2 2 2-1 2 1 2-2 2 2 2 0 2-2 2 3 2-1 2 0 2 1 2-2 2 0 2 2 2-1 2-1 2 1 2-2 2 1 2 1M297 3010l1-12 1 5 1-22 1 12 2 6 1-2 1-45 1 23 1 24 2-18 1-10 1 19 1-2 1 10 2-1 1-23 1 9 1 2 1-2 2 12 1-4 1 1 1 5 1 3 1-12 2 1 1 14 1-2 1-2 1 6 2 2 1-4 1-9 1 4 1 0 2 2 1 5 1-7 1 10 1-16 2 11 1 1 1 4 1 1 1 0 1 1 2-5 1 5 1-1 1-3 1 6 2-1 1-7 1 3 1 5 1-1 2-2 1 3 1-3 1 3 1 0 2 1 1-2 1 1 1 1 1 1 1-1 2-1 1-3 1-2 1 3 1 3 2-2 1 2 1 0 1-2 1 1 2-2 1 1 1 2 1 0 1-2 2 1 1 1 1-1 1 2 1-9 2 6 1-3 1 3 1-2 1-1 1 2 2-5 1 0 1-2 1-4 1-5 2 5 1-3 1 0 1 2 1 2 2 2 1-2 1 1 1 4 1 1 2 5 1 0 1-1 1 2 1 1 1-2 2 0 1 3 1 0 1-1 1 0 2 1 1-2 1 0 1 2 1-2 2 1 1 0 1-2 1 3 1 0 2-2 1 1 1-1 1 1 1 1 1-1 2 0 1-1 1-1 1 4 1-1 2 1 1-2 1 0 1 1 1 1 2-1 1 0 1 2 1-1 1 0 2-3 1 2 1 1 1 0 1-3 1 0 2 0 1 0 1-1 1 0 1-2 2 2 1 1 1-4 1 4 1 2 2 0 2 2 2 0 2 0 2 0 2 1 2-5 2 3 2 0 2 1 2-1 2-1 2 0 2-1 2 2 2 1 2 0 2-2 2 0 2 1 2 1 2 0 2-1 2 0 2 0 2 0 2 1 2 0 2 0 2 0 2-1 2 2 2 0 2-1 2 0 2-1 2 1 3-1 2 2 2-2 2-1 2 3 2-2 2 1 2 1 2-2 2 0 2-3 2 4 2-1 2 1 2 0 2-1 2-1 2 2 2 0 2 0 2-4 2-1 2 1 2-2 2 0 2 3 2-2 2 2 2 1 2 2 2 0 2 0 2 1 2-1 2 1 2-1 2 0 2 1 2-1 2 0 2-1 3 2 2-1 2-2 2 2 2 0 2-1 2 2 2-1 2 0 2 1 2-2 2-1 2 1 2 0 2 0 2 0 2 1 2-1 2 1 2-2 2-3 2 0 2-2 2 0 2-1 2 4 2 2 2 1 2 1 2 0 2 1 2 0 2 0 2-2 2 0 2 1 2 0 2-1 2 2 2-1 3 1 2-1 2 0 2 1 2-1 2-1 2 1 2 0 2 0 2 0 2 0 2 0 2-2 2 2 2-1 2 0 2-3 2 3 2 0 2-2 2 3 2 0 2 1 2-2 2 1 2 0 2 0 2 0 2 1 2-2 2 2 2-1 2 1 2 0 2-1 2 1 2-2 2 2 2 0 2-1 2-1 3 1 2-3 2 0 2-2 2-3 2-1 2 2 2 4 2 1 2 2 2-1 2 0 2-2 2 3 2-2 2 0 2 1 2 0 2 1 2 0 2 0 2-2 2 2 2 0 2-1 2 1 2 0 2-1 2 0 2 1 2-1 2 2 2 0 2-1 2 0 2 0 2 1 2 0 2 0 2-2 3-1 2 1 2 0 2 0 2 0 2 0 2 1 2-1 2 0 2-1 2 1 2 1 2 0 2-2 2 2 2 0 2 0 2-2 2 1 2 0 2 1 2-1 2-2 2 1 2-2 2-3 2 4 2 0 2 0 2 3 2 0 2 0 2 0 2 0 2 1 2-1 2 0 2-2 2 2 2-2 3 2 2-4 2 4 2-1 2 0 2 1 2 0 2-2 2 2 2-2 2 1 2-2 2 1 2 1 2 0 2 1 2-3 2 3 2-2 2 1 2-1 2-2 2-5 2 1 2-2 2 2 2 1 2 6 2 0 2 1 2-2 2 2 2 1 2 0 2-1 2 1 2 0 2-1 2 0 2 1 2-2 3 1 2-1 2 1 2-2 2 2 2 0 2-2 2 1 2-2 2 1 2 2 2-1 2 0 2 1 2-2 2 2 2 0 2-2 2 2 2-1 2 1 2-1 2 0 2 0 2 1 2-1 2 2 2 0 2 0 2-2 2 2 2-1 2-2 2 2 2-1 2 2 2-1 2-2 2 1 2 0 3 1 2-1 2 1 2-1 2 0 2 0 2 1 2-1 2 1 2 0 2 0 2 0 2 1 2 0 2 0 2-2 2 0 2 1 2-2 2 2 2 0 2-2 2 0 2-1 2-3 2-4 2-1 2 7 2 2 2 1 2 0 2 0 2-1 2 2 2 0 2-1 2 1 2 0 2-2 2 0 2-1 3 3 2-1 2 0 2 1 2 0 2-1 2 1 2-2 2 0 2-2 2 3 2-2 2 1 2-2 2 2 2-1 2 1 2 1 2-1 2 2 2 0 2 0 2 0 2-3 2 3 2-3 2 1 2 1 2-1 2 0 2-1 2 2 2 0 2 0 2 1 2 0 2-1 2 1 2-1 2 0 3-2 2 1 2 0 2 0 2-1 2 3 2-2 2 2 2 0 2 1 2-2 2-2 2 2 2 0 2 2 2-3 2 2 2-1 2 1 2 1 2 0 2-2 2 1 2 0 2-1 2 1 2 0 2-2 2 2 2 0 2-1 2 0 2 1 2-2 2 2 2 0 2 0 2-1 2-1 2 1 2 0 3 0 2-2 2 2 2 0 2-2 2-1 2-2 2-1 2 4 2 0 2 3 2 0 2 0 2 1 2 0 2-3 2 3 2-1 2 0 2 1 2-2 2-1 2 0 2-1 2 2 2 0 2 0 2 1 2 0 2 0 2 0 2 0 2 0 2-1 2 0 2 0 2 0 2 0 2 0 2 0 3 0 2 0 2 1 2 0 2 0 2 1 2-1 2-1 2 1M286 3020l2-8 1-11 1-12 1 19 1-18 2 5 1 7 1-6 1-5 1 13 2-16 1 21 1-12 1-7 1 17 1 4 2-21 1 19 1-6 1-5 1-1 2 14 1 1 1-6 1 0 1 4 2-5 1 1 1 4 1-3 1 2 2-9 1 9 1-1 1 0 1 4 1 0 2 0 1 2 1-5 1 8 1-4 2 0 1 4 1-7 1 5 1-3 2-3 1 10 1-4 1 0 1 2 2-6 1 9 1-1 1-5 1 5 1 0 2-1 1-3 1 4 1-8 1 11 2-7 1 6 1-2 1 0 1-4 2 3 1 3 1-7 1 4 1-2 2 5 1-2 1 1 1 0 1 1 1 0 2-3 1 0 1 4 1-3 1 1 2 1 1-1 1 3 1-2 1 0 2 0 1-2 1 1 1 0 1 0 2 0 1-1 1-2 1-7 1 6 2-5 1 4 1 1 1-7 1 3 1 4 2-1 1 3 1-1 1 2 1 0 2-1 1 1 1 3 1-2 1 2 2 0 1-1 1-2 1 3 1-1 2 0 1 2 1-2 1-5 1 4 1 0 2-2 1 1 1 1 1 2 1-4 2 1 1-2 1 3 1 0 1 0 2 1 1-2 1 2 1-1 1 0 2 2 1-2 1 1 1 0 1 2 1-3 2 1 1 2 1-1 1 1 1-1 2 2 1-3 1 1 1 0 1-1 2-1 1-4 1-1 1 2 1-2 2 0 1 3 1 1 1 0 1 3 1 1 2 0 2 1 2-1 2 1 2-1 2-1 2 2 2-1 2 0 2 0 2 1 2 0 2 0 2-3 2 2 2 0 2 0 2 0 2-1 2 2 2 0 2 0 2 1 2-1 2 0 2 0 2-3 2 1 2 3 2-1 2-1 2 2 2-3 2 3 3 0 2-2 2 2 2-1 2-1 2 2 2-2 2 0 2 0 2 1 2 1 2-1 2 0 2-3 2 3 2-2 2 0 2 2 2-1 2 1 2-1 2 0 2-2 2-1 2-1 2-1 2 0 2 2 2 1 2 3 2 0 2 1 2 0 2-2 2 1 2 0 2 1 2-1 2 1 2 0 3-2 2-1 2 0 2 1 2 2 2-3 2 1 2 0 2-2 2 3 2-1 2 2 2-1 2 0 2-1 2 0 2 1 2-1 2 1 2 0 2 0 2 0 2-2 2 1 2-4 2-1 2 1 2 0 2 3 2 0 2 3 2-2 2 0 2 0 2 2 2-1 2 1 2-1 2 1 2-2 2 1 3-3 2 4 2-2 2 0 2 1 2-2 2 1 2 1 2-3 2 1 2 0 2 1 2 1 2 0 2-2 2 2 2-3 2 4 2-3 2 0 2 2 2 1 2-2 2 0 2 2 2-1 2 1 2-2 2 1 2-1 2 2 2-2 2 1 2 1 2 0 2-1 2-2 2 2 2 1 2-1 3 1 2-1 2-1 2 0 2-1 2-1 2-4 2 3 2 1 2-2 2 2 2 3 2-1 2 0 2 1 2-1 2 1 2-1 2 1 2-1 2 2 2-2 2 2 2-1 2 0 2 0 2-1 2 2 2-1 2 1 2 0 2-1 2 1 2-1 2-1 2 2 2-2 2 0 2 0 2 0 2 2 3-2 2 1 2 0 2-3 2 2 2 0 2 1 2 0 2-2 2 2 2 0 2-3 2 1 2 2 2 0 2-1 2 0 2 0 2 1 2-1 2 1 2 1 2-2 2-1 2 1 2-3 2-4 2 4 2-2 2 5 2 1 2-1 2 1 2 0 2 1 2-1 2-1 2 2 2-2 2-1 3 2 2 0 2-2 2 1 2 1 2 0 2-1 2 1 2-2 2 1 2 1 2-3 2 3 2-2 2 2 2-1 2 2 2-3 2 1 2-2 2 1 2 2 2-4 2 1 2-1 2-4 2-1 2-2 2 4 2 1 2 4 2 1 2 1 2-1 2 2 2 0 2-1 2 0 2-1 2 1 2-1 3-1 2 2 2 0 2-2 2 1 2-1 2 2 2-2 2 2 2-1 2 1 2-2 2 2 2 0 2-2 2 3 2-2 2 2 2 0 2-2 2 2 2 0 2-2 2 0 2 0 2 2 2-1 2 1 2 0 2-1 2 0 2 1 2-2 2 0 2 1 2-1 2 1 2 0 2 0 2 0 3-1 2 1 2-1 2-1 2 1 2 1 2 0 2-2 2 2 2 0 2-1 2 0 2 0 2 2 2-3 2 3 2-1 2 1 2 0 2-1 2 0 2 0 2 0 2 0 2-1 2-2 2-3 2-2 2 2 2 0 2 4 2 1 2 0 2-1 2 0 2 0 2 2 2-1 2 0 2 0 2-1 3 1 2 0 2 1 2 0 2 1 2-2 2 1 2-2 2 2 2-2 2 0 2 0 2 0 2-2 2 2 2-1 2 1 2 2 2-2 2-1 2 1 2 2 2-1 2 0 2 1 2 0 2 0 2-1 2 0 2-2 2 1 2 2 2-2 2 2 2-2 2 2 2 0 2-1 2 1 2 0 3-3 2 1 2 0 2 0 2 2 2 0 2 0 2-3 2 4 2-1 2 0 2-2 2 3 2-1 2 1 2 0 2-1 2 0 2 0 2 0 2 0 2 1 2-4 2 3 2 1 2 0 2 0 2-1 2-2 2 1 2 1 2-2 2 2 2-1 2 1 2-2 2 1 2 1 2-1 2 1 2-2 3 2 2-1 2 0 2 0 2 1 2-1 2-2 2-2 2-1 2-2 2 3 2 4 2 0 2 0 2 2 2-2 2 0 2 2 2-3 2 3 2-1 2 0 2 1 2-1 2 0 2 0 2 0 2-2 2 2 2-1 2 1 2 0 2-1 2 0 2 1 2 0 2-1 2 0 2-2 2 3 3-1 2 2 2-1 2 0 2 1 2 0 2-1 2 0 2 1 2 0 1-1M276 3025l1-7 1 0 2-8 1 9 1-23 1 19 1-2 2 2 1-34 1 37 1-11 1 9 2-18 1 14 1 0 1-25 1 12 2 3 1 4 1-13 1 16 1-4 1 10 2 2 1-5 1 8 1-6 1-6 2 6 1 6 1-9 1 11 1-5 2-3 1 9 1 0 1-11 1 6 2-7 1 10 1 1 1-3 1 2 2 2 1 3 1-5 1 5 1 0 1-5 2 2 1 1 1 1 1-2 1 0 2 4 1 0 1-1 1-1 1 2 2 2 1 0 1-2 1-1 1 1 2-9 1 10 1-1 1-3 1 1 1 4 2 0 1-2 1-2 1-5 1 8 2 2 1-4 1 0 1 3 1-5 2 1 1 3 1 2 1-3 1-1 2 4 1-1 1-1 1-2 1 5 1-5 2 0 1 3 1-3 1 0 1 0 2-4 1 0 1 0 1-5 1 4 2-2 1 1 1 0 1 0 1-4 2 5 1 1 1 2 1-2 1 5 1 0 2 0 1 3 1-3 1-4 1 5 2 2 1-2 1 1 1-3 1 3 2-3 1 1 1 4 1-2 1-3 2 4 1-2 1 0 1 0 1 3 2-1 1 1 1-4 1 1 1 2 1-5 2 5 1 0 1 0 1 0 1-1 2 2 1-4 1 1 1 0 1 2 2 0 1 2 1-2 1 2 1-4 2 4 1-1 1-3 1 1 1-1 1-4 2-3 1-1 1 5 1-5 1 5 2 1 1 2 1 3 1-2 1 2 2-2 1 2 2 1 2-1 2 0 2 2 2-2 2 1 2-1 2 0 2 0 2 1 2-1 2 1 2-1 2 1 2 1 2-1 2-2 2 3 2-4 2 0 2 4 2-2 2 1 2 0 2 0 2 0 2 1 2 0 2 0 3-2 2-1 2 2 2 1 2 0 2 0 2-2 2 2 2-1 2 0 2 0 2-1 2 0 2 1 2 0 2-1 2 1 2 0 2-1 2 0 2 0 2 1 2 1 2-3 2 2 2-2 2-1 2-1 2-1 2 0 2 3 2 2 2 0 2 1 2 0 2-3 2 3 2-2 2 1 2 1 2 0 3 0 2-2 2 2 2 0 2 0 2-3 2 2 2-2 2 3 2 0 2 0 2-1 2-2 2 1 2 1 2 0 2 0 2 0 2 0 2-1 2 0 2 0 2 0 2 1 2-1 2-1 2-8 2 3 2-2 2 3 2 2 2 3 2 1 2 0 2 1 2-2 2 1 2-1 2 0 2 1 3 0 2-1 2 1 2-2 2 1 2 1 2 0 2-2 2 2 2 0 2 0 2 0 2-1 2 1 2 0 2-2 2-1 2 1 2 2 2-1 2 2 2-3 2 2 2 0 2 0 2 0 2 0 2 1 2-3 2 2 2 1 2-2 2 1 2 0 2 1 2-2 2 0 2 2 2-1 2 0 2 0 3-2 2 2 2 0 2 0 2-1 2 0 2-2 2-3 2-3 2-2 2 8 2-1 2 4 2-3 2 1 2 2 2 0 2 1 2-1 2 0 2-2 2 2 2 1 2-3 2 3 2 0 2-2 2 1 2 1 2 0 2-1 2 0 2 0 2 1 2-2 2 2 2 0 2 0 2-1 2 1 3-2 2 2 2 0 2-1 2 0 2 0 2-1 2 2 2-2 2-1 2 1 2 1 2 0 2 0 2-2 2 1 2 1 2 0 2 1 2-2 2 1 2 0 2 0 2-1 2 1 2 1 2-1 2-3 2 1 2-1 2-1 2 1 2 1 2 2 2-2 2 2 2 0 2-1 2 0 2 1 2 0 3 0 2 0 2 0 2-1 2-1 2 0 2 1 2 1 2 0 2 0 2-1 2 1 2-2 2 1 2 0 2-2 2 3 2 0 2 1 2-1 2-1 2 0 2 1 2-2 2 2 2-1 2-3 2-5 2 1 2-8 2 3 2 2 2 9 2 1 2 0 2 0 2-1 2 1 2 1 2-2 3 2 2 0 2 0 2-2 2 2 2 0 2 0 2-1 2 1 2 0 2 0 2-2 2 3 2-2 2-1 2-1 2 3 2-2 2 2 2 1 2 0 2-1 2 0 2-2 2 3 2-1 2 1 2-3 2 1 2 1 2-2 2 2 2 1 2-1 2-1 2 0 2 1 2 1 2-2 2-1 2 1 3 1 2 0 2 0 2 0 2-1 2 1 2 0 2 0 2 0 2 0 2-2 2 2 2-1 2 1 2 0 2 1 2-1 2 0 2 0 2 0 2 1 2 0 2-1 2 1 2-2 2 0 2-2 2-2 2-2 2-6 2 5 2 5 2 2 2-2 2 3 2-1 2 0 2 1 2 0 2-2 3 2 2 0 2-5 2 5 2 0 2 0 2 0 2 0 2-1 2 1 2 0 2-2 2 0 2 1 2-2 2 0 2 2 2-2 2 1 2 0 2 1 2 1 2 0 2 1 2-4 2 4 2-3 2 2 2 0 2 0 2 0 2-1 2 0 2 0 2 1 2 0 2-1 2-2 2 2 2 0 2-2 3 3 2-1 2-1 2 2 2-1 2 0 2-2 2 3 2-2 2 1 2 2 2 0 2 0 2 0 2 0 2 0 2 0 2 0 2-2 2 2 2 0 2 0 2-2 2 2 2-2 2 2 2-2 2 1 2 1 2-2 2 0 2 0 2 0 2 2 2-4 2 2 2-1 2 2 2-1 2 1 3 0 2 0 2-1 2 1 2-1 2 1 2 0 2-1 2-1 2-2 2-4 2 2 2 1 2 3 2 1 2 2 2-2 2 2 2 0 2-1 2-1 2 1 2 0 2 0 2-1 2 1 2 0 2 0 2 0 2 0 2 1 2-2 2 1 2 0 2 0 2 0 2-3 2 1 2 0 2 2 2 0 3-2 2 2 2 0 2 0 2 1 2-2 2 2 2-2 2 1 2 1 2-1 2 1 1-1M266 3035l1-4 1-14 1 10 2-2 1-4 1-23 1 14 1 8 2-8 1-8 1 17 1-7 1-20 1 3 2 28 1-8 1 4 1-17 1 18 2 6 1-3 1-16 1 10 1 1 2 7 1-9 1 3 1-2 1 9 2-8 1-10 1 7 1 11 1 1 1 0 2 3 1-2 1-2 1-3 1 2 2 6 1-1 1-2 1-5 1 8 2 1 1 1 1-2 1 0 1-4 2 2 1 2 1-1 1 1 1-1 1 0 2 0 1 6 1-7 1 1 1-1 2 6 1 1 1-2 1-1 1 2 2 1 1 1 1-1 1-1 1 0 2 1 1-3 1-1 1-2 1 1 2 2 1 4 1 0 1-4 1 1 1-3 2 4 1-3 1 1 1 4 1-2 2-1 1-4 1 5 1-1 1 1 2-2 1 2 1-5 1 3 1-3 2-2 1-4 1-3 1-1 1 2 1-2 2 0 1 0 1 2 1-2 1 2 2-2 1 7 1 3 1 0 1 3 2-1 1 0 1-2 1-2 1 6 2 1 1-6 1 4 1 3 1-3 1-1 2 1 1 1 1 3 1-2 1-2 2 2 1 1 1-2 1 0 1 2 2-1 1 3 1-2 1-1 1 2 2-2 1 1 1 1 1 0 1 0 1-1 2 1 1-2 1 2 1-1 1 1 2 0 1 0 1-1 1 0 1 0 2 0 1-1 1 2 1-3 1-2 2 1 1-2 1 1 1 2 1 0 2 0 1 2 1 2 1-1 1 0 1-1 2 3 1-2 2 0 2-1 2 2 2 0 2 0 2-1 2 1 2 0 2 0 2 0 2-1 2 2 2-3 2 1 2 2 2-1 2 1 2-1 2 0 2 1 2 0 2 0 2-1 2 1 2 0 2 0 3 0 2 0 2-1 2 1 2-1 2-1 2 1 2 1 2-1 2-1 2 1 2 1 2-4 2 2 2 1 2-1 2-1 2 2 2 0 2 0 2 1 2-3 2 3 2-1 2-3 2 2 2 0 2 0 2-1 2 0 2-2 2 1 2 2 2 0 2 0 2 1 2 1 2-2 2 2 2-1 2 0 3-1 2 1 2-1 2-1 2 2 2 0 2 0 2 0 2 0 2-1 2 0 2 1 2-1 2 1 2-1 2 2 2-1 2-1 2 0 2 0 2 2 2-2 2 1 2 0 2-1 2 1 2 0 2-2 2-2 2-4 2 2 2-1 2 2 2 4 2 1 2 1 2 0 2-1 2-2 2 1 3 2 2-1 2-1 2 1 2-1 2 1 2 0 2-1 2 0 2 0 2-1 2 3 2-1 2 0 2 0 2-1 2 2 2-1 2 0 2 1 2-2 2 2 2-2 2 2 2-1 2 1 2 0 2 0 2 0 2 0 2-1 2 0 2 0 2 0 2-1 2 2 2 0 2-2 2 2 2 0 2-1 3 0 2-1 2-2 2 4 2-3 2 1 2-2 2 1 2-4 2 0 2 3 2 0 2 1 2 1 2 0 2 1 2 1 2 0 2-1 2 0 2 0 2 1 2 0 2 0 2 0 2-2 2 0 2 2 2 0 2-1 2 1 2 0 2 0 2 0 2 0 2-1 2 1 2 0 2 0 2 0 3-2 2 2 2-1 2-2 2 2 2 0 2-1 2 0 2 1 2-1 2 1 2-1 2 1 2-1 2 0 2 1 2-2 2 2 2 0 2-2 2 3 2-1 2 0 2 1 2 0 2 0 2 0 2-1 2-1 2-3 2 0 2-2 2 3 2 0 2 2 2 2 2-1 2 0 2 0 2 0 2 0 3-3 2 3 2 0 2 0 2-1 2-1 2 2 2 0 2 1 2-1 2 1 2-1 2-1 2 1 2-1 2 0 2 0 2 1 2-1 2 1 2-1 2-1 2 2 2-1 2 0 2-1 2 1 2 0 2-2 2-3 2-6 2-1 2 0 2 3 2 6 2 2 2 2 2 0 2-1 2-1 3 1 2-1 2 2 2-2 2 2 2 0 2 0 2 1 2 0 2-1 2 0 2 0 2 0 2-1 2 0 2 1 2 0 2 1 2-1 2 1 2 0 2 0 2 0 2-2 2-2 2 2 2-1 2 3 2 0 2-1 2-1 2 1 2-1 2 1 2 1 2-1 2 1 2-3 2 2 2 0 3-2 2 2 2 0 2 0 2 1 2-1 2 1 2-1 2 0 2 1 2-4 2 3 2 1 2 0 2-1 2 1 2 0 2 0 2 0 2 0 2-2 2 2 2-1 2 1 2-1 2-3 2 3 2-1 2-1 2-2 2-1 2-2 2-2 2 3 2 4 2-1 2 2 2 0 2 1 2 0 2 1 3-1 2 1 2-2 2 2 2-1 2-1 2 0 2 0 2 2 2-2 2 0 2 0 2 0 2-1 2-2 2 4 2-1 2 0 2 0 2 0 2 1 2-1 2 0 2 1 2 0 2-2 2 1 2 1 2-1 2-1 2 0 2 1 2 0 2 0 2-2 2 2 2 0 2 1 2-1 2 1 3 0 2-1 2 1 2 0 2-1 2-1 2 2 2-1 2 2 2-1 2 1 2 0 2-1 2 0 2 0 2-2 2 3 2 0 2-3 2 1 2 1 2-3 2 3 2 1 2-4 2 3 2-2 2 1 2 2 2-3 2 1 2 1 2 0 2 0 2 0 2 1 2-2 2 1 2 1 2 0 2-1 3-1 2 2 2 0 2 0 2 0 2 0 2 0 2 0 2-1 2 0 2 0 2-2 2-5 2 5 2-2 2 3 2 1 2 0 2-2 2 3 2 0 2-2 2-1 2 1 2 1 2 0 2-2 2 2 2 0 2 0 2-2 2 1 2 0 2 2 2 0 2-1 2 0 2-3 2 2 2 1 3-1 2 1 2 1 2-2 2 1 2-1 2 2 2-2 2 2 2 0 2-1 2 0 2 0 2 1 2-1 1 0M256 3046l1-20 1-10 1 15 1 2 1-3 2 1 1-17 1 13 1-5 1-2 2 13 1-16 1 17 1-18 1 17 2-9 1-2 1-9 1 18 1-12 2 7 1 9 1-21 1 5 1 7 1 8 2 4 1-6 1-7 1 13 1-14 2 8 1 4 1-2 1-4 1 7 2-10 1 9 1-1 1 3 1 3 2-2 1-7 1 6 1 0 1 2 1-3 2 5 1-6 1 1 1 3 1 2 2 2 1 0 1-4 1-1 1 4 2 1 1-4 1-2 1 4 1 4 2 0 1-3 1 1 1 1 1 1 1 1 2-4 1-4 1 6 1-5 1 3 2 2 1 0 1-2 1 2 1 1 2-7 1 7 1-7 1 5 1 0 2 0 1 2 1-6 1 5 1-5 1 6 2-3 1-1 1 2 1 3 1-3 2-2 1 0 1-3 1 3 1 0 2-5 1 1 1-3 1 0 1-1 2-2 1 1 1 0 1 1 1 0 2 3 1 1 1 4 1-1 1 2 1-2 2 2 1 0 1 1 1-1 1 2 2-2 1 1 1-3 1 3 1 2 2 0 1-5 1 4 1-3 1 4 2 1 1-2 1-2 1 1 1 1 1 2 2-3 1 0 1-1 1 3 1-1 2 2 1-1 1-2 1 2 1-1 2 0 1 1 1 1 1-3 1 4 2-3 1-1 1 1 1 0 1-2 1 2 2 0 1-1 1-1 1-6 1 2 2 0 1 2 1 1 1-1 1 2 2 3 1-2 1 1 1 1 1 2 2 0 1-3 1 2 2 1 2 0 2 0 2 0 2 0 2-1 2 1 2-1 2 1 2 0 2 0 2-1 2 2 2-3 2 0 2 2 2 0 2 1 2-4 2 2 2 2 2-1 2 1 3 0 2 0 2 0 2 0 2-1 2-1 2 0 2 1 2 0 2-2 2 2 2-1 2-3 2 3 2 1 2 0 2 0 2 0 2 0 2 1 2-1 2 0 2 0 2-2 2 1 2 1 2-1 2 2 2-2 2-1 2-2 2-2 2 5 2 0 2 1 2-1 2 2 2 0 2-1 2 0 3 1 2-1 2 0 2-1 2 1 2 1 2-1 2-1 2 0 2-1 2 3 2-3 2 0 2 1 2 1 2 1 2-1 2 0 2 0 2 1 2-1 2-1 2 1 2 1 2-1 2 0 2 1 2-2 2 2 2-1 2-2 2 1 2-2 2-2 2 1 2 2 2 0 2 2 2 1 2 0 2-1 3 1 2-1 2-3 2 2 2-1 2 2 2-1 2 0 2 1 2-2 2 0 2 2 2 0 2-4 2 5 2-2 2-2 2 3 2 0 2-2 2 3 2 0 2-2 2 0 2 2 2-3 2 2 2 1 2 0 2-1 2 1 2-1 2 0 2 1 2-2 2 2 2 0 2-1 2 1 2 0 3-2 2 2 2-3 2 2 2 0 2 0 2-2 2 2 2-2 2-2 2-1 2-1 2-2 2 0 2 0 2 6 2 2 2-2 2 1 2 2 2-2 2 0 2 2 2-1 2 1 2-3 2 2 2-1 2 2 2-1 2 1 2 0 2-1 2 1 2 0 2-2 2 1 2-1 2 2 2 0 2-2 3 1 2-1 2 0 2 1 2 1 2-1 2 0 2 0 2 0 2 0 2-3 2 0 2 3 2-1 2 1 2 0 2 0 2 1 2-2 2 2 2 0 2 0 2 1 2-1 2 0 2 0 2-2 2 2 2 0 2-1 2-1 2-5 2 0 2 1 2 3 2-1 2 1 2 2 2-1 2 0 3 0 2 0 2 2 2-1 2-2 2 2 2 1 2-3 2 2 2-1 2 0 2 1 2 1 2-1 2 0 2 1 2-2 2 1 2-1 2 0 2 2 2 0 2-1 2 0 2 0 2 1 2-1 2-2 2 2 2 0 2-3 2-2 2-2 2-6 2-10 2 6 2 0 2 11 2 3 2 2 2 1 3 0 2-2 2 0 2 2 2 0 2-1 2 1 2-1 2 0 2 2 2-1 2 0 2 0 2 1 2-3 2 1 2 1 2 1 2 0 2 0 2-1 2 1 2 0 2 0 2-1 2 0 2 1 2 0 2 0 2-1 2 0 2-1 2 2 2-1 2 0 2 0 2 0 2 1 2-1 2 0 3 0 2-2 2 1 2 1 2 1 2-1 2-1 2 0 2 2 2-2 2 0 2 1 2 0 2 0 2 1 2 0 2-1 2 1 2-1 2 1 2 0 2 0 2 1 2-1 2 0 2-3 2 2 2-1 2 0 2 0 2-5 2-2 2-2 2 3 2 0 2 3 2 0 2 2 2-2 2 3 2 0 3-1 2 1 2 0 2 1 2-1 2 2 2-1 2 0 2 0 2 0 2 0 2-1 2 2 2-4 2 2 2-1 2 2 2 0 2 0 2-1 2-2 2 0 2 1 2 1 2 0 2 0 2 1 2 0 2-2 2 3 2-2 2 2 2-1 2 0 2-2 2 0 2 1 2 1 2 0 2 0 3-1 2 1 2 0 2-2 2 2 2 0 2-1 2 1 2 1 2 0 2 0 2-1 2 0 2 1 2 0 2 0 2 0 2 0 2 0 2 0 2 0 2-1 2-1 2 2 2-1 2-1 2 1 2-1 2-1 2 0 2 2 2-1 2 1 2 0 2 0 2-1 2-1 2 2 2 0 2 1 2-1 3-1 2 2 2-2 2 1 2 1 2 0 2-2 2 2 2 0 2-3 2 2 2-2 2-3 2 0 2-3 2-1 2 7 2 0 2 1 2 1 2 1 2 0 2-2 2-3 2 5 2-3 2 1 2 1 2 0 2 0 2 0 2 1 2-1 2-2 2 2 2-1 2 0 2 2 2-2 2 2 3-2 2 2 2-1 2 0 2 1 2-1 2 1 2 0 2 0 2 0 2-1 2 0 2 1 2-1 2 1 2 0 2 0 0-2M245 3052l1-9 2-6 1-4 1-4 1-5 1 2 2 12 1-7 1-15 1 12 1-7 1 12 2-10 1 15 1-17 1-11 1 11 2-1 1 18 1 3 1-19 1 15 2-4 1 9 1-4 1 6 1-17 2 18 1-12 1-2 1 7 1-2 2 9 1 0 1 1 1-1 1-10 1 8 2 6 1-2 1-9 1 6 1 3 2-2 1 5 1 0 1-1 1-3 2 5 1-10 1 5 1-1 1 6 2-1 1 1 1-2 1 3 1 1 1 1 2 1 1 0 1-3 1 2 1-1 2 1 1-3 1 5 1-6 1-1 2 5 1 1 1-9 1 2 1 6 2 0 1 0 1-7 1 8 1-3 1 0 2-1 1 1 1-1 1 3 1 1 2-4 1-3 1 2 1-1 1 3 2 0 1 1 1-2 1 0 1-2 2 3 1-1 1-1 1 1 1-5 1 2 2-1 1-2 1-1 1 1 1-1 2 1 1-2 1-1 1 3 1 3 2 0 1-2 1 4 1 2 1-3 2 3 1 1 1 2 1-2 1-2 2 3 1-1 1 1 1-2 1 2 1 0 2-4 1 0 1 3 1 1 1-2 2 2 1 0 1-1 1 0 1 1 2-2 1 3 1-1 1 1 1-1 2-2 1 2 1-3 1 2 1 0 1 0 2 1 1-3 1 1 1 2 1 1 2-2 1 0 1 0 1 1 1-5 2 4 1-3 1-5 1 4 1-5 2 3 1 2 1 0 1 0 1 2 1 0 2 4 1 1 1 0 1 1 1 0 2-2 1 2 1 0 1-2 2 0 2-1 2 1 2 2 2 0 2 0 2 0 2-2 2-1 2 3 2-1 2 0 3 1 2-2 2 0 2 1 2 1 2 0 2 0 2-1 2-3 2 2 2 2 2-1 2 0 2-1 2 1 2 0 2 0 2 1 2-3 2 2 2 0 2-1 2 1 2 1 2-1 2 0 2 1 2 0 2-1 2 1 2-1 2 0 2 0 2 1 2 0 2 0 2 0 2-1 2-4 2 0 3 2 2 0 2-1 2 4 2 0 2 0 2-1 2 0 2-2 2 2 2 1 2-2 2 1 2 0 2 0 2 1 2-2 2 0 2 2 2 0 2-4 2 4 2 0 2 0 2-1 2 0 2 1 2-1 2 0 2 1 2-1 2 2 2-2 2 1 2-2 2 1 2 1 2 0 2-1 2 0 2-1 3-4 2-1 2 1 2 1 2 3 2-1 2 2 2 0 2 0 2 0 2-3 2 1 2 1 2 0 2 2 2 0 2-1 2 1 2-3 2 0 2 0 2 3 2 0 2-1 2 0 2 0 2 1 2-1 2 0 2-1 2 1 2 2 2-2 2 1 2-1 2 1 2 0 2 0 2 0 2 0 3 0 2 0 2 0 2 0 2-1 2 0 2 1 2-3 2 3 2-2 2 2 2-2 2 2 2-1 2 0 2-1 2 2 2-1 2-3 2 0 2-2 2-4 2 2 2 4 2 1 2 3 2-2 2 2 2-1 2 2 2-4 2 2 2 1 2-2 2-1 2 1 2 0 2 0 2 2 2-1 2 0 3 0 2-1 2 1 2-1 2 2 2-2 2 0 2 0 2 0 2 1 2 1 2-1 2-1 2 2 2-3 2 3 2-1 2 0 2 1 2-1 2-1 2 1 2-3 2 3 2 2 2 0 2-1 2-2 2 3 2-1 2-1 2 1 2-4 2 3 2 0 2 1 2-3 2 2 2-2 2-3 3-2 2-1 2 2 2 1 2 1 2 2 2 1 2 1 2-1 2 2 2 0 2-3 2 2 2 0 2 1 2 0 2 0 2-2 2 2 2-1 2 0 2 0 2 1 2-2 2 2 2-2 2 1 2 0 2 0 2 1 2 0 2-1 2-1 2 0 2 0 2 0 2-1 2-1 2 1 2 1 2-1 3-2 2-4 2-1 2-6 2-2 2 0 2 8 2 8 2 0 2 0 2 2 2-3 2 3 2-1 2 1 2-3 2 3 2 0 2-2 2 2 2-2 2 2 2-1 2 1 2-1 2 2 2-3 2 0 2 2 2-1 2 1 2-3 2 2 2 0 2-2 2 3 2 0 2 0 2 0 2-1 3 0 2 1 2-2 2 1 2 1 2-1 2 0 2-1 2 2 2 0 2-2 2 0 2-1 2 3 2 0 2-1 2 0 2 0 2 1 2-3 2 3 2 0 2 0 2 0 2-1 2 1 2-2 2 2 2-2 2 2 2-1 2-2 2 0 2 1 2 0 2-3 2 2 2 2 2-5 2 0 2-2 3-5 2 1 2 4 2 4 2 0 2 4 2-1 2 0 2 0 2-1 2 1 2 0 2 1 2 0 2-2 2 2 2 1 2-1 2-1 2 1 2 0 2-2 2 0 2 0 2-2 2 2 2 1 2-1 2-1 2 1 2-1 2 0 2 0 2 0 2 0 2 2 2-1 2 0 2 1 2 0 3-1 2 0 2 1 2-1 2-1 2-1 2 2 2 0 2-1 2 2 2 0 2 0 2 1 2-1 2 1 2 0 2-2 2 1 2 1 2-1 2 1 2-2 2-2 2 3 2 1 2 0 2-1 2 0 2 1 2-1 2-1 2 1 2 0 2-1 2 1 2 0 2 0 2 0 2 1 2-2 2 2 3-1 2 1 2-2 2 2 2-1 2 0 2-1 2 2 2-2 2 0 2 2 2 1 2-1 2-1 2 0 2 1 2 1 2-1 2 0 2-1 2-1 2-1 2-2 2-2 2 1 2 2 2 2 2 1 2 0 2-1 2 1 2-1 2-1 2 3 2-1 2 0 2 0 2 0 2 1 2-2 3 0 2-1 2 2 2 0 2 1 2 0 2 0 2-2 2 0 2 2 2 0 2 0 2-1 2 1 2 0 2-2 2 1 2 1 2-2 2 2 2-1 2 0 2-1 2 1 2 1 2-1 1-2M235 3059l1-17 1 1 1-2 2-20 1 20 1-22 1-2 1 10 2-9 1 26 1-7 1-9 1-13 2 33 1-6 1 0 1-5 1-22 2 22 1 3 1 0 1 4 1 0 1 0 2 2 1-1 1 7 1-10 1 0 2 4 1 6 1-6 1 6 1 1 2 1 1-12 1 11 1 0 1-7 2 12 1-7 1 4 1 1 1 2 1-1 2 1 1-4 1-4 1 3 1 5 2 1 1 1 1 2 1-2 1-2 2-1 1 3 1-2 1 3 1-3 2 3 1 1 1-1 1-2 1 1 2-4 1 4 1-4 1 4 1 1 1 0 2-2 1 1 1-1 1 4 1 0 2-2 1-6 1 3 1-4 1 1 2 2 1 3 1 3 1-1 1-3 2-3 1 4 1 2 1 0 1-9 1 7 2 2 1-2 1-1 1 2 1-1 2 2 1-3 1-2 1 0 1 3 2-5 1-2 1 1 1 3 1-5 2 4 1-2 1 0 1 0 1 2 1 3 2 1 1-2 1 2 1-2 1 0 2 0 1 3 1 2 1-4 1 3 2-2 1 3 1-1 1 0 1-1 2 0 1 0 1-1 1 3 1-1 1-2 2 0 1 1 1-1 1 3 1-1 2-2 1 2 1 0 1 1 1-1 2 1 1 1 1-3 1 1 1-3 2 1 1 3 1-2 1 3 1-7 2 5 1 1 1-1 1-2 1-1 1 1 2-5 1 0 1 0 1 1 1-3 2-2 1 6 1-1 1 5 1 0 2 3 1-1 1-1 1 2 1 2 2 0 1-4 1 3 1-2 1 2 2-1 2 1 2-2 2 2 2-1 2 1 2 0 2-2 3 0 2 0 2 1 2-1 2 2 2-2 2 1 2 0 2 1 2-1 2-1 2 2 2-1 2 1 2-1 2 0 2 0 2 1 2-1 2 0 2 2 2 0 2-1 2 0 2 0 2 0 2-1 2 1 2 0 2-1 2-1 2 0 2 1 2 1 2-2 2 1 2 0 2 1 2-2 2-3 2 2 3-3 2-2 2-2 2 6 2 1 2 1 2 1 2 1 2-2 2 2 2 0 2 0 2-1 2 1 2 1 2-1 2-1 2 2 2-1 2-2 2 2 2 1 2-2 2 0 2 0 2 1 2-3 2 2 2 0 2 1 2 0 2 0 2-1 2 0 2 1 2-1 2 0 2-2 2 2 2 0 3-1 2-1 2-2 2-3 2-5 2 3 2 2 2 3 2 3 2 1 2 1 2 0 2 0 2-1 2 1 2-2 2 2 2 0 2 1 2-3 2 2 2 0 2 0 2 1 2-1 2 0 2 0 2-2 2 0 2 0 2 1 2 0 2 1 2-2 2 2 2-2 2 1 2 0 2-1 2 1 2 1 3-1 2-2 2 3 2 0 2-1 2 1 2-1 2-1 2 1 2 1 2-2 2 1 2 0 2 0 2 0 2 2 2-1 2 0 2-2 2 0 2-2 2-1 2-5 2 2 2 2 2 4 2 0 2 1 2 0 2-1 2 0 2 0 2 2 2 0 2-2 2 0 2 0 2 2 2-1 2-1 3 1 2-3 2 0 2 3 2 1 2-1 2 0 2 1 2 0 2-2 2 2 2-1 2 1 2-3 2 1 2 2 2 1 2-1 2-1 2 0 2 0 2 1 2-2 2 2 2 0 2 0 2-1 2 0 2 1 2-1 2-2 2 2 2 0 2 0 2 0 2-1 2 1 2 0 2 0 2 0 2 0 3-1 2-1 2-2 2 0 2 0 2 2 2 2 2 1 2-1 2 0 2 1 2 0 2 1 2 0 2-1 2 0 2-1 2 1 2 0 2 0 2-2 2 1 2 1 2-1 2 0 2 1 2-3 2 1 2-1 2 2 2-2 2 0 2 0 2 1 2 2 2-3 2 2 2 0 2 0 2-1 3 2 2 0 2-2 2 0 2-1 2-4 2-1 2-8 2 6 2 5 2 0 2 4 2 1 2-2 2 1 2 1 2-1 2 1 2 0 2-3 2 3 2-2 2 1 2 0 2-1 2 1 2 0 2 0 2-2 2 1 2 2 2 0 2-3 2 2 2 1 2 0 2-1 2-2 2 1 2 2 2-2 3 2 2 0 2-2 2 2 2 0 2-1 2 2 2 0 2-2 2 0 2 1 2 1 2-4 2-1 2 4 2-2 2 2 2-1 2 0 2 0 2-1 2 2 2 0 2-2 2-1 2 1 2 1 2 1 2-2 2 1 2 0 2 0 2-1 2 2 2-1 2 1 2 0 2 0 2-1 2 0 3-4 2-1 2-2 2-2 2 3 2 2 2 4 2 0 2 1 2 0 2 0 2-2 2 2 2 0 2 0 2-2 2 1 2 1 2-5 2 5 2-1 2-1 2 1 2 0 2-1 2-1 2 0 2 0 2 1 2-1 2 1 2 0 2-1 2 2 2-1 2-2 2 3 2-1 2-3 2 4 2 0 3 1 2 1 2-2 2-1 2 2 2-4 2 3 2-1 2 1 2 0 2 1 2 0 2 0 2 0 2 0 2 0 2-1 2 0 2-1 2 0 2 0 2-1 2 3 2-2 2 2 2-1 2 1 2-2 2 2 2 0 2 0 2-2 2 0 2 2 2-1 2 2 2-2 2 1 2 1 2-2 3 2 2-1 2-1 2 0 2 0 2 1 2 0 2-1 2 1 2 0 2 0 2-1 2 1 2 0 2-1 2 0 2 1 2-1 2-1 2 1 2-1 2 1 2-1 2-1 2-1 2-1 2-4 2 4 2 1 2 3 2 0 2 0 2 1 2-1 2 1 2 1 2 0 2-2 2 2 2-1 2-2 3 2 2-2 2 3 2-1 2-1 2 0 2 0 2 1 2-1 2 0 2 1 2 0 2-2 2 0 2 1 2 0 2-1 2 1 2-2 2 2 2 1 2-1 2 0 2 0 2 0 2-2 2 2 2-3 1 2M225 3070l1-6 1-8 1-2 1-8 2 10 1-13 1-15 1 19 1-4 2-5 1-5 1-11 1 25 1-2 1-11 2 10 1-8 1 4 1 11 1-19 2 25 1-13 1 1 1-2 1 1 2 10 1-3 1 8 1-5 1-2 2-5 1 8 1 5 1-3 1-1 1 5 2-2 1 2 1 2 1 2 1 0 2-10 1 8 1-3 1 4 1-1 2-3 1 4 1-2 1 0 1 3 2-1 1 0 1-6 1 10 1 1 1-2 2-1 1-2 1 0 1 7 1-1 2-6 1 1 1 2 1 1 1-2 2 0 1-4 1 3 1 3 1 0 2 2 1-1 1 0 1 1 1-5 1 5 2-1 1 0 1-2 1 1 1-1 2-6 1 6 1 2 1-5 1 4 2 2 1-11 1 8 1 0 1-1 2 1 1-1 1 2 1 2 1-2 2-3 1 0 1-2 1 0 1-7 1-1 2-4 1 4 1 1 1-3 1-4 2 7 1-6 1 1 1-1 1 11 2 1 1 3 1 2 1-4 1 4 2 1 1 0 1 1 1-2 1 3 1-5 2 5 1-1 1 0 1 0 1 0 2-2 1 4 1 0 1 0 1-1 2-3 1 0 1 3 1 1 1-3 2 1 1-2 1 1 1 0 1 3 1-3 2-2 1 1 1 0 1 3 1 0 2-3 1-1 1 5 1-2 1 0 2 1 1 0 1 1 1-3 1-1 2-5 1 2 1-1 1-6 1 4 1 5 2 0 1 3 1-1 1 1 1 1 2 2 1-2 1 1 1-1 1 3 2 0 1 0 1-2 1 0 1 0 2 2 2 1 2-1 2-2 2 0 3 2 2 0 2-1 2-2 2 3 2 0 2-4 2 3 2 1 2-2 2 2 2-1 2 0 2 0 2 0 2-1 2 1 2 0 2-1 2 1 2 1 2-2 2 2 2-2 2 2 2-1 2 0 2 2 2-3 2 1 2 1 2 1 2-2 2 0 2-1 2 2 2 0 2 0 2 0 2 0 2 0 3-3 2-1 2 1 2 0 2 1 2-1 2 1 2 1 2 1 2 0 2-2 2 1 2 1 2-1 2-1 2 1 2-1 2-1 2 2 2 1 2 0 2 0 2 0 2 1 2-1 2-1 2 1 2 0 2-1 2 2 2-2 2 1 2-1 2 0 2 2 2-2 2 1 2 0 2 0 2-1 3 1 2-1 2 1 2-4 2 0 2 0 2-6 2 0 2 3 2 4 2 0 2 1 2 1 2-1 2 2 2-1 2 1 2 0 2 0 2-1 2 1 2-3 2 3 2-2 2 1 2 2 2-1 2-1 2 1 2 0 2-1 2-1 2 2 2 1 2-2 2 1 2 0 2 0 2-3 2 3 2 0 3-3 2 3 2 0 2-1 2-1 2 2 2 0 2 0 2 0 2-3 2 2 2 0 2 0 2-1 2 2 2 0 2 0 2 0 2 0 2 0 2 0 2-1 2-3 2 0 2 1 2-4 2 1 2 5 2 0 2 0 2-2 2 3 2-2 2 1 2 0 2 1 2-2 2 0 2 2 2-1 3-1 2 1 2 0 2-1 2 2 2 0 2-3 2 3 2 0 2 0 2 0 2-1 2 1 2 0 2-2 2 2 2-3 2 2 2 1 2-2 2 0 2 2 2 0 2 0 2-1 2 1 2-1 2 1 2 0 2 1 2-3 2 1 2 1 2-2 2 1 2 1 2-1 2-1 2 1 2-1 2 2 3-1 2-2 2 0 2-3 2-3 2-2 2 6 2 1 2 3 2 0 2-1 2 1 2 0 2 1 2-1 2 1 2-1 2 1 2-1 2 1 2 0 2-1 2 2 2-1 2-1 2 2 2-1 2-3 2 2 2 1 2-1 2 0 2 1 2-2 2 1 2 0 2-1 2 0 2 0 2-2 3 2 2 1 2-2 2 2 2 0 2 0 2-1 2-2 2-1 2-2 2-2 2 4 2 3 2 1 2 1 2 0 2 0 2-1 2 1 2 0 2-1 2 0 2 1 2 0 2 0 2 0 2 0 2 0 2 0 2 0 2-1 2 1 2-1 2 0 2-3 2 4 2-4 2 2 2 0 2 0 3 1 2 1 2-1 2 0 2 1 2 0 2-1 2-1 2 0 2 2 2 0 2-1 2 0 2 1 2 0 2-1 2 1 2 1 2 0 2-1 2-2 2 2 2-1 2 2 2-3 2 2 2 0 2-1 2 1 2-1 2 1 2-1 2 0 2 1 2-1 2 1 2-2 2 0 2 2 2-1 2-2 3 1 2 0 2-3 2 0 2 0 2-2 2 3 2 1 2 1 2 2 2 0 2 0 2-1 2-1 2-1 2 0 2 1 2 2 2-2 2 2 2-2 2 2 2-1 2 1 2-1 2 1 2 0 2-2 2-1 2 1 2 1 2 0 2-1 2 1 2-3 2 1 2 1 2-1 2 1 2 1 3-2 2 1 2 2 2 0 2-3 2 3 2-1 2-2 2 2 2 0 2-1 2 0 2 0 2 2 2-1 2 0 2 1 2-1 2 1 2-1 2 1 2-3 2-1 2 0 2 2 2 2 2 0 2-1 2-1 2 1 2-2 2 3 2 0 2-3 2 2 2 0 2 1 2-3 2 3 2-2 2 1 3 0 2 0 2 1 2 0 2-1 2 2 2-1 2-2 2 2 2 1 2-3 2 1 2 2 2-1 2 0 2 0 2 1 2-2 2 0 2 1 2-1 2 0 2 1 2 0 2-2 2-1 2-5 2 2 2-4 2 5 2 2 2 0 2 3 2-1 2 1 2-2 2 1 2 1 2 0 2 0 3 0 2-1 2 1 2-2 2 0 2 2 2 0 2-3 2 3 2-1 2 1 2-1 2 1 2-1 2 0 2 0 2 1 2 1 2-3 2 1 2 1 2-1 2 1 2 0 2 0 2 0 2-1 2 1 2-1 2 0 2 0 1 1M214 3075l1-10 2-14 1-14 1 1 1 25 1-19 2 2 1 7 1-1 1 5 1-4 2-24 1 30 1-33 1 33 1 2 2-38 1 30 1 13 1-3 1-6 2-4 1 8 1-7 1-10 1 20 1-16 2 20 1-10 1 0 1 10 1-18 2 12 1 4 1 2 1 4 1-10 2 2 1 6 1-2 1 1 1-6 2 3 1 1 1 6 1-2 1-1 1 4 2 0 1-2 1 1 1-2 1 3 2 1 1 0 1 1 1-1 1 2 2-5 1 4 1 1 1-6 1-2 2 5 1 2 1 0 1 2 1-1 1 1 2-1 1 1 1-3 1 1 1 2 2-3 1 1 1 0 1 3 1-2 2 0 1-1 1 3 1 0 1-1 2 0 1 2 1-6 1 4 1-4 1 3 2 1 1 0 1-4 1 0 1 3 2 0 1 2 1-2 1 0 1-4 2 3 1-7 1 3 1 1 1-6 2 1 1-3 1-2 1 1 1 2 2-1 1-1 1 1 1 2 1 1 1 4 2 1 1-2 1 1 1 1 1 4 2-1 1 2 1-3 1 1 1 1 2 2 1-4 1 2 1 1 1 1 2-3 1 1 1 2 1-3 1 3 1-2 2 1 1 1 1-2 1 3 1-1 2-2 1 3 1-3 1 1 1-1 2 0 1 0 1 0 1-2 1 3 2 0 1-1 1 1 1 0 1 0 1-1 2 0 1 0 1-2 1 0 1-6 2 3 1-5 1 3 1 3 1 0 2 1 1 2 1 0 1 4 1-1 2 1 1 1 1 0 1-3 1 2 1 0 2 0 1 1 1 0 1 0 1 0 2-1 2 1 3-1 2 0 2-1 2 2 2-1 2 0 2 1 2-1 2-1 2 2 2 0 2-1 2-1 2 3 2-1 2 1 2-4 2 3 2 1 2 0 2-1 2 0 2 0 2 1 2 0 2-1 2-1 2 0 2 0 2 1 2 0 2 0 2 0 2-2 2 2 2-1 2 0 2-1 2 2 2 0 3 0 2-2 2-1 2 1 2-2 2-1 2 2 2-1 2 2 2 2 2 0 2 0 2 0 2-1 2 2 2-2 2 2 2 0 2-1 2 0 2-1 2 1 2-1 2-1 2 2 2-1 2 0 2 1 2-1 2 0 2 1 2-1 2-1 2 2 2-2 2-1 2 2 2 1 2-1 2-2 2 2 3 1 2-1 2 1 2-1 2 1 2 0 2-3 2 1 2-6 2 0 2 3 2 1 2 0 2 3 2 0 2-1 2 1 2 0 2 0 2 1 2-1 2 0 2-1 2-1 2 0 2 3 2 0 2 0 2-1 2 1 2-2 2 2 2-2 2 0 2 1 2 1 2 0 2 0 2-3 2 2 3 0 2 1 2-1 2 1 2 0 2-1 2 1 2-1 2 0 2 1 2 1 2-3 2-1 2 3 2 0 2 0 2-1 2-2 2 1 2 2 2-1 2 1 2-1 2-3 2 0 2-2 2-3 2 0 2 3 2 2 2 0 2 3 2 1 2-1 2-1 2 2 2 0 2-1 2 0 2 0 2 0 3 0 2 1 2 0 2 0 2-1 2 2 2-1 2-1 2 2 2 0 2-1 2-1 2 1 2 0 2-1 2 0 2 1 2-1 2 0 2-1 2 0 2 1 2 0 2 1 2-1 2 0 2-1 2 1 2 0 2 0 2 1 2 0 2-2 2 0 2 2 2-1 2-1 2 1 2 0 2 0 3-1 2 2 2 0 2-2 2 1 2-2 2-4 2-2 2 0 2 5 2 0 2 3 2 0 2 1 2 0 2-1 2 0 2 0 2-1 2 1 2-2 2 3 2 0 2 0 2 0 2-4 2 4 2 0 2-1 2 0 2 0 2 0 2 0 2-3 2 4 2-3 2 2 2 1 2-1 2 1 2-1 3 0 2 0 2 1 2-3 2 3 2 1 2-1 2-1 2-1 2 0 2-3 2-2 2-3 2 5 2-2 2 6 2-1 2 0 2 1 2 0 2 0 2 1 2-1 2 0 2-1 2 2 2-1 2 0 2 0 2 1 2-2 2 0 2 2 2-1 2-1 2 0 2 0 2 0 2 2 2 1 3-1 2 1 2 0 2-1 2 0 2-1 2 1 2 0 2-1 2 0 2 0 2 0 2 1 2-1 2 1 2-3 2 2 2-1 2 0 2 2 2 0 2-2 2 0 2 2 2-1 2 0 2-1 2 2 2-2 2-1 2 3 2-1 2 1 2 0 2 1 2-1 2 0 2 0 2 0 2 1 2-1 3-3 2 3 2-1 2-2 2-2 2 0 2-2 2 1 2 2 2 3 2 1 2-1 2 1 2-1 2 1 2-1 2 0 2 0 2 0 2-1 2 1 2 1 2-2 2 2 2-1 2 1 2-1 2-1 2 0 2 0 2-1 2 0 2 3 2-3 2-2 2 3 2 0 2 1 2 0 2 1 3-1 2 1 2 0 2 0 2-1 2 0 2 0 2 0 2 0 2 0 2 0 2 0 2 0 2 0 2-1 2 1 2 1 2-1 2 0 2-1 2 1 2 1 2-1 2-1 2-2 2 3 2 0 2 1 2 1 2-1 2 0 2-1 2-1 2 1 2 1 2-1 2 1 2 1 2-1 2-1 2 1 3 1 2 0 2-2 2 1 2 0 2-1 2 1 2 0 2 0 2 0 2 0 2-1 2 0 2 0 2 0 2-2 2 1 2 1 2 1 2-1 2 0 2 1 2-2 2 0 2 2 2-2 2 0 2-5 2-3 2 3 2 2 2 1 2 3 2 1 2 0 2-1 2 2 2-1 2-3 2 3 3-1 2 0 2 2 2-1 2-1 2 0 2 1 2-1 2 0 2 0 2 1 2-1 2-2 2 1 2 2 2 0 2 0 2-1 2 1 2-2 2 0 2 1 2 2 2-2 2 1 2 0 2 1 2-1 2 1 2-1 2 1 2-1 2-2M204 3082l1-3 1-9 2-27 1 23 1-22 1 25 1-15 2 5 1 11 1 0 1-17 1 5 1 7 2 5 1-33 1 26 1 4 1 1 2 4 1-1 1 2 1 2 1-7 2-5 1 11 1-8 1-8 1 14 2-5 1 5 1 0 1-14 1 15 1-1 2 6 1-2 1-4 1 0 1 9 2-11 1 7 1 2 1-3 1 4 2 0 1-1 1-2 1 1 1 3 2-3 1 6 1-3 1 2 1 0 2-6 1 4 1 2 1 0 1-1 1 4 2-4 1 1 1 0 1 1 1-2 2 4 1 0 1-2 1 1 1-1 2 1 1 1 1-5 1 4 1-1 2-1 1 2 1 0 1 2 1-5 1 4 2 1 1-1 1-7 1 4 1-1 2 4 1 1 1-2 1 2 1 0 2-3 1-1 1 3 1-2 1 2 2-1 1 1 1-5 1 6 1-4 1-3 2 1 1-1 1-5 1-1 1-2 2-1 1-5 1 1 1-4 1 7 2-2 1 3 1 3 1-2 1 3 2 4 1 2 1 2 1-1 1-1 1 2 2 2 1-2 1 3 1-3 1 0 2 3 1 0 1 1 1-1 1-3 2-2 1 6 1 0 1-1 1 2 2-2 1-1 1-1 1 0 1 1 2 3 1-3 1 2 1-1 1 0 1-1 2 1 1 0 1 0 1 2 1-1 2-1 1 0 1-5 1 6 1-1 2 1 1-7 1 4 1 1 1-3 2 0 1 1 1-1 1 3 1-1 1 2 2 0 1 2 1-2 1 1 1 1 2-1 1 1 1-1 1 0 1 0 2 0 1 1 1-1 1 1 1 1 2 0 2-1 2 0 2 1 2-1 2-1 2 0 2 0 2 0 2 1 2 1 2 0 2-1 2 1 2-2 2 1 2 2 2-3 2-1 2 2 2 2 2 0 2-1 2 1 2-1 2-3 2 3 2 1 2-2 2 0 2 0 2-1 2 2 2 0 2 0 2-1 2 0 2 0 2 1 2-2 3 2 2 0 2 0 2-3 2 0 2-4 2 0 2-1 2-1 2 3 2 4 2 1 2 0 2 1 2 0 2 0 2 1 2 0 2-4 2 4 2 0 2 0 2 0 2-1 2-2 2 3 2-1 2-1 2 0 2-1 2 2 2 0 2-1 2-1 2 0 2 2 2-2 2 2 2 0 2-1 3 0 2 1 2-1 2 0 2 1 2-2 2 2 2 0 2-1 2-3 2-1 2-5 2 1 2 2 2 2 2 2 2 2 2 1 2 0 2 0 2 0 2 1 2-4 2 3 2 0 2 0 2 1 2-1 2-1 2 0 2-1 2 1 2 0 2 0 2-1 2 2 2-1 2 1 2-1 2 1 2-1 3 1 2-1 2 0 2 0 2-1 2 2 2-1 2 1 2 0 2 1 2-1 2 0 2-1 2 1 2-1 2 2 2-2 2 2 2-3 2 2 2 0 2 0 2 0 2 1 2-2 2-1 2 0 2-3 2-1 2 2 2 2 2 0 2-2 2 4 2-1 2 1 2 0 2-2 2 1 2-1 3 1 2 1 2-1 2 1 2-2 2 3 2 0 2-3 2 2 2-1 2 1 2 1 2-2 2 1 2-1 2 2 2-1 2-1 2 1 2 0 2 0 2 0 2 0 2-1 2-1 2 2 2 0 2 0 2-2 2 2 2 0 2 0 2 0 2-1 2 0 2 0 2-1 2 2 2-1 2 0 2 1 3 0 2-2 2 1 2 0 2 1 2-1 2-2 2-1 2-6 2 5 2 0 2 1 2 1 2 3 2-1 2 2 2-2 2 0 2 1 2 1 2-3 2 2 2 0 2-1 2 0 2 1 2 0 2 0 2 0 2-1 2 1 2 0 2-1 2-1 2-1 2 2 2-2 2 2 2 0 2 1 3 0 2 0 2-1 2 1 2-3 2 0 2 3 2 0 2 0 2-3 2 3 2-2 2-2 2-2 2-2 2 0 2-3 2 6 2 2 2 1 2 1 2 1 2 0 2-1 2 0 2 0 2-2 2 3 2 0 2 0 2-3 2 2 2 1 2-1 2 1 2-2 2 2 2 0 2 0 2 0 2-1 3 0 2 1 2-1 2 2 2-2 2 1 2 1 2 0 2-2 2 2 2-1 2 0 2 1 2-2 2-1 2 0 2 2 2 0 2-1 2-1 2 1 2 1 2-4 2 2 2 0 2 1 2 0 2 0 2-1 2-1 2 1 2 1 2 1 2 0 2-1 2 1 2 0 2 1 2-1 2-1 3-1 2 1 2 2 2 0 2-1 2-2 2-5 2 2 2-4 2 0 2 6 2 1 2 1 2 1 2 0 2-1 2 1 2-3 2 2 2 0 2 1 2 0 2-1 2 0 2 0 2 1 2 0 2-1 2 1 2-3 2 2 2 0 2-2 2 1 2 1 2-2 2-1 2 2 2 1 2 0 2 0 3-1 2 0 2 0 2 2 2-1 2 1 2-1 2 2 2-1 2 0 2-3 2 2 2-1 2 0 2 0 2 0 2 0 2 1 2 0 2 0 2 1 2-2 2 2 2 0 2 0 2-1 2 0 2 0 2-1 2 1 2 1 2 0 2-2 2 2 2 0 2 1 2-1 2-1 2 1 2 0 3 0 2 0 2 0 2-2 2 1 2 1 2 1 2 0 2 0 2-2 2 0 2 1 2-1 2 0 2 1 2-2 2-1 2 1 2 2 2-1 2 1 2-1 2 0 2 1 2-1 2 0 2 0 2 0 2-2 2-4 2-2 2-2 2 5 2 1 2 0 2 4 2 0 2 2 2-1 2 0 2 0 3 1 2-2 2 1 2-1 2 0 2 1 2-1 2 1 2-1 2-1 2 2 2-1 2 1 2-1 2 0 2-2 2 2 2 0 2 0 2 1 2-1 2-2 2 2 2 1 2 0 2 0 2 0 2-2 2 1 2 1 2 0 2-2 2 2 2 1 2 0M194 3088l1-2 1-21 1-11 1 21 2 5 1-15 1 15 1 2 1-27 2 16 1-14 1 10 1-11 1 8 2 3 1 6 1 5 1-23 1 7 2-3 1 6 1 15 1 0 1-13 1-1 2 16 1-18 1 19 1-4 1-12 2 17 1-8 1 10 1-11 1 4 2 4 1 4 1-2 1-14 1 13 2 2 1 1 1-6 1 10 1-3 1-2 2-1 1-1 1 6 1-2 1 0 2-3 1 3 1 3 1 3 1-15 2 13 1-3 1 4 1 1 1 0 2-7 1 2 1 3 1 2 1-4 1 3 2 1 1-1 1-5 1 5 1 1 2 0 1 1 1 0 1-1 1 0 2-3 1 1 1-3 1 4 1 2 2-2 1 2 1-3 1 0 1-2 2-2 1 5 1 0 1 1 1-1 1-2 2 3 1-2 1-2 1 6 1-1 2-1 1 1 1-5 1 2 1-6 2 5 1-6 1 5 1-4 1-2 2-1 1-9 1 1 1 2 1 2 1-2 2 1 1 2 1 0 1 7 1-3 2 2 1 0 1 0 1 5 1 1 2-1 1 4 1-3 1 2 1-1 2-3 1 4 1-2 1 0 1 0 1 0 2 1 1 0 1-1 1-2 1 2 2 2 1 0 1 1 1-1 1-1 2 0 1 1 1 0 1 1 1 0 2 1 1 0 1-3 1-2 1 5 1-3 2 3 1-2 1 2 1-6 1 5 2-3 1 1 1-1 1-3 1 0 2-1 1 3 1 1 1-1 1 1 2 1 1 2 1 1 1-1 1 1 2 0 1 1 1-1 1 0 1 1 1 0 2 0 1 1 1-2 1 1 1-1 2 1 1 0 2 0 2 0 2-1 2 1 2-2 2 0 2 1 2 0 2 1 2 0 2 0 2 0 2 0 2 0 2 0 2 1 2-1 2 1 2 0 2 0 2 0 2-1 2 0 2 0 2 1 2-2 2 2 2-2 3 1 2-1 2-1 2 2 2-1 2 2 2 0 2-3 2 1 2 0 2-1 2 1 2 0 2-3 2 0 2-2 2-5 2 4 2-2 2 4 2 2 2 3 2 0 2 0 2 0 2-1 2 1 2 0 2 1 2-2 2 1 2 0 2 0 2 1 2-2 2 0 2 1 2 0 2 1 2-1 3 0 2 0 2 1 2-2 2 1 2 0 2 0 2 0 2-1 2 0 2-3 2 4 2 0 2-3 2 1 2 1 2 1 2-1 2-1 2-1 2-4 2 2 2-5 2 7 2-1 2 2 2 2 2-1 2 2 2-1 2 0 2 1 2-1 2 0 2 0 2 0 2 0 2-1 2 1 2 0 2 0 3-2 2 2 2 0 2-1 2 0 2 1 2 0 2-1 2 1 2 0 2-1 2 1 2 0 2-1 2 0 2-2 2 2 2 1 2 0 2 0 2-2 2-1 2 3 2 0 2 0 2-1 2 1 2 0 2 1 2-1 2 1 2 0 2 0 2-3 2 1 2-2 2-2 2 0 2 3 2 0 3 1 2 1 2-4 2 3 2 1 2-1 2 1 2-1 2 0 2 1 2 0 2 0 2 0 2 0 2 0 2-1 2 1 2-1 2 0 2 1 2 1 2 0 2-1 2 0 2 0 2 1 2-3 2 2 2 1 2-1 2 0 2 1 2 0 2-2 2 1 2 1 2-3 2 0 2 2 2-1 2 1 3-2 2-3 2 4 2 0 2 1 2-1 2 0 2 1 2-3 2 1 2 1 2 1 2 0 2 0 2-3 2-1 2-2 2-3 2 1 2 0 2 6 2 1 2 1 2 1 2-2 2 2 2-2 2 1 2 0 2 0 2 0 2 0 2-2 2 1 2 2 2-1 2 0 2-3 2 3 2 0 3-1 2 1 2-2 2 1 2-2 2 1 2 0 2 2 2 0 2-1 2 1 2-1 2-1 2-2 2 2 2 0 2 2 2 0 2-1 2 1 2-1 2 0 2-3 2-3 2 2 2 1 2-3 2 4 2 1 2 2 2-1 2 0 2 1 2 0 2 0 2 0 2 0 2 0 2 0 2-1 2 0 3-1 2 2 2 0 2-1 2 1 2-1 2 0 2 1 2 0 2 0 2 1 2-3 2 2 2-2 2 1 2-2 2 3 2 0 2 0 2-1 2 2 2-1 2 0 2 1 2 0 2-1 2 1 2-1 2-1 2 0 2 1 2 1 2-2 2-2 2 1 2 0 2 1 2-1 2 2 2-3 3 3 2 0 2-2 2 2 2-1 2-1 2 2 2-1 2 2 2 0 2 0 2-2 2 1 2 0 2-1 2-1 2-3 2-4 2 5 2 1 2 2 2 1 2 0 2 0 2-2 2 1 2 0 2 0 2 0 2-2 2 3 2 0 2-1 2 0 2 1 2 0 2-1 2-1 2 1 2-1 2-1 3 1 2 0 2 0 2 2 2-3 2 1 2 0 2 1 2-1 2-1 2 0 2 1 2 1 2 0 2 2 2-2 2 1 2 1 2 0 2 0 2-2 2-1 2 0 2 1 2 1 2-2 2 2 2 0 2 0 2-1 2 0 2-1 2 1 2 0 2 1 2-2 2 0 2 0 2 2 2 0 3 0 2-1 2 1 2-1 2-1 2 2 2 0 2-1 2 1 2-2 2 3 2-1 2 1 2-1 2 0 2 1 2 0 2 0 2 0 2-2 2 1 2-1 2 2 2-2 2 1 2-1 2 0 2 0 2-1 2 2 2 0 2-1 2 0 2 1 2-1 2-2 2 2 2-2 2 0 2-8 2 3 3-4 2 2 2 8 2 0 2 2 2 0 2 1 2 0 2-1 2 0 2 1 2-2 2 2 2-1 2 1 2-2 2 1 2 0 2 1 2 0 2-1 2 1 2-1 2-1 2 1 2 0 2 0 2-1 2 0 2 1 2-1 2 1 2-1 2 0 2 1 2 0 2 0 2 0 2-1 2-1 3 0 2 2 2-1 2 1M183 3098l2-3 1-15 1 2 1 4 1 3 2-13 1-2 1-9 1-6 1 25 2-22 1 3 1-2 1 16 1-6 1 10 2-34 1 30 1 4 1-8 1-17 2 23 1-15 1-3 1 16 1 11 2-2 1 0 1 0 1-3 1-2 2 8 1-2 1 1 1-6 1 7 1 4 2-1 1 1 1 3 1-6 1-1 2 7 1 0 1-1 1 1 1-5 2 6 1-1 1-6 1 8 1-6 2 8 1-1 1-3 1-2 1 3 1 3 2-1 1 3 1-1 1-4 1 2 2 0 1-1 1 2 1-5 1 4 2 2 1-5 1 5 1 0 1-1 2-2 1 0 1-4 1 3 1 4 1-5 2 4 1 1 1-6 1 2 1 1 2-2 1 0 1 2 1-3 1 5 2-3 1 2 1-4 1 2 1 4 2 0 1-8 1 7 1-3 1-2 1 2 2-3 1 6 1-5 1 2 1-6 2 4 1-4 1-1 1-1 1 0 2-1 1 0 1-3 1 3 1 0 2 0 1-6 1 8 1 1 1 1 2 3 1-1 1 1 1 4 1 1 1-1 2 2 1-3 1 1 1 3 1-3 2-1 1 0 1 3 1-1 1 0 2-1 1 1 1 0 1 2 1-6 2 6 1-2 1-2 1-1 1-5 1 9 2 0 1-3 1 4 1-1 1-3 2 1 1 3 1-4 1 2 1 0 2 0 1-3 1 4 1-5 1-4 2 2 1 1 1-3 1 0 1-1 1-5 2 8 1 1 1 2 1 3 1 0 2 0 1-1 1 1 1 2 1 0 2 0 1 1 1-2 1 1 1 0 2 2 1-1 1 0 1-2 1 3 1-1 2-1 1 2 2-1 2 0 2 1 2-3 2 2 2 0 2-2 2 1 2 2 2 0 2-1 2 1 2-1 2-1 2 1 2-1 2 1 2-2 2 3 2-1 2-3 2 3 2-1 2 1 2-2 3 2 2-2 2 1 2 2 2-1 2 0 2 1 2-1 2 1 2-1 2-3 2 4 2-3 2 3 2-1 2-4 2 0 2-4 2 3 2 1 2 1 2 2 2 1 2 1 2-1 2-1 2 1 2-1 2 1 2 0 2-1 2 1 2-1 2 1 2 0 2 0 2 0 2-1 2 1 2-2 3 1 2 1 2-1 2-1 2 2 2 0 2 1 2-3 2 3 2-1 2 1 2-2 2 1 2 1 2 0 2-2 2 1 2 1 2 0 2-2 2 1 2-3 2-2 2-1 2-1 2 1 2 2 2 3 2 0 2 1 2-2 2 1 2 0 2 0 2 1 2-1 2 0 2 1 2 0 2-1 2 2 3-1 2 0 2 0 2 0 2-1 2 1 2 0 2-1 2 0 2 0 2 2 2 0 2 0 2-1 2 1 2 0 2-1 2 0 2-2 2 1 2 2 2 0 2-2 2 0 2 1 2 0 2-2 2 1 2 1 2 0 2-2 2 0 2 2 2 0 2-2 2-2 2 0 2-1 2-3 2 1 3 3 2 2 2 2 2-1 2 0 2 1 2 1 2 0 2-1 2 1 2 0 2-1 2-2 2 2 2 1 2-2 2 1 2 1 2-1 2 0 2 1 2-2 2-1 2 2 2-1 2 0 2 0 2 1 2 0 2 0 2 0 2 0 2-1 2 1 2-2 2 2 2 0 2 0 2 0 2-1 2 2 3 0 2 0 2 0 2-1 2 1 2 0 2 0 2-1 2 1 2 0 2-2 2-1 2 1 2-1 2 2 2-1 2-1 2-1 2-2 2-4 2-3 2 3 2 6 2-2 2 5 2 0 2-1 2 1 2-2 2-1 2 3 2-2 2 2 2-1 2 2 2-2 2 1 2 0 2-3 2 3 3 0 2-2 2 2 2 1 2-4 2 1 2 0 2 2 2 0 2 0 2-1 2 2 2-1 2 0 2-1 2-2 2 1 2-1 2 3 2 0 2-1 2 0 2 0 2 0 2-1 2-1 2-5 2-2 2 2 2 0 2 5 2 2 2 0 2 1 2 0 2-2 2 1 2 1 2 0 2 1 3-2 2-1 2 3 2-1 2 1 2 0 2 0 2 0 2-1 2 0 2-1 2 2 2-2 2 1 2-2 2 1 2-2 2 3 2 0 2 0 2 0 2-4 2 3 2-1 2 0 2 0 2 1 2 1 2 0 2 0 2 1 2-2 2 2 2-1 2 0 2 1 2 0 2-3 2 1 2 2 2 0 3 0 2-1 2-2 2 2 2 1 2-1 2 1 2-1 2 0 2 0 2 0 2 0 2 0 2-1 2 0 2 0 2-2 2-2 2-1 2-3 2 3 2 2 2 1 2 2 2 1 2 0 2-1 2 1 2 0 2 1 2-1 2 0 2 0 2-1 2 2 2-1 2 1 2-1 2 1 2-3 3 2 2 0 2-1 2-1 2 2 2-1 2 0 2-1 2 0 2 0 2 1 2 0 2 0 2-1 2 0 2-1 2 2 2-1 2 1 2 0 2 0 2 0 2-1 2 0 2 1 2-1 2 1 2-1 2 2 2 0 2 1 2 0 2 0 2-2 2 1 2-1 2-2 2 3 2-2 2 2 2 0 3-1 2 1 2 1 2-1 2-1 2 0 2 1 2 1 2 0 2 0 2-1 2 0 2 0 2 0 2 0 2-1 2-1 2 2 2 0 2 0 2 0 2 0 2-1 2 1 2-2 2 3 2-1 2-1 2-2 2 4 2 0 2-1 2 1 2-2 2 0 2 1 2 1 2 0 2-2 2-1 3-2 2-5 2 2 2 1 2 3 2 2 2 0 2 1 2 0 2 0 2-2 2 1 2-1 2 1 2-2 2 1 2 2 2-1 2 1 2 0 2 0 2-2 2 2 2 0 2 0 2 1 2-1 2 1 2-2 2 2 2-1 2-1 2 1 2-1 2 2 2-1 2 0 2 0 2 0 2-2 2 2 3 0 2 0 2-1 2-2 2 2 1 1M173 3110l1-10 1-31 2 23 1-5 1 3 1-4 1-6 2 11 1-1 1-14 1 15 1 0 2-1 1-22 1 23 1-5 1-17 2 11 1-11 1 20 1-2 1 5 1-6 2 6 1-2 1 1 1-13 1 19 2-3 1 3 1-3 1-2 1 10 2-2 1 0 1-8 1 8 1 3 2-5 1 3 1-2 1-3 1 4 2 2 1-6 1 7 1 2 1-1 1-3 2-2 1 2 1 2 1 3 1-3 2 6 1-2 1 2 1-4 1 3 2-7 1 9 1-2 1-1 1-2 2 6 1-5 1 2 1-2 1 3 1 1 2 0 1-2 1 1 1-2 1 1 2 3 1-3 1 3 1 0 1-4 2 3 1-5 1-1 1 5 1 0 2 3 1-9 1 2 1 6 1-5 1 5 2-2 1 2 1-2 1 2 1-2 2 1 1 0 1 1 1 0 1-5 2-2 1 7 1-6 1 5 1-1 2-6 1-1 1 4 1-2 1-1 1 0 2-7 1 4 1-1 1 3 1-1 2-2 1-2 1 4 1 2 1 1 2 5 1-3 1 3 1-2 1 0 2 2 1-2 1 2 1-2 1 4 2-3 1 2 1-1 1 1 1 1 1 0 2-3 1 4 1-1 1-5 1 6 2 0 1-2 1 1 1 1 1-2 2 2 1-5 1 6 1-1 1 0 2-2 1 0 1 3 1-2 1-1 1 2 2 0 1-3 1-1 1-3 1-1 2-3 1-3 1 2 1-4 1-4 2 11 1-1 1 6 1 1 1-3 2 4 1 0 1 2 1 0 1-1 1 1 2-1 1 0 1 2 1-1 1 0 2 0 1 0 1 1 1-1 1 1 2-3 1 0 1 2 2 1 2-2 2 3 2 0 2-2 2 1 2 1 2 0 2-2 2 1 2 1 2 0 2-3 2 1 2 1 2 1 2-2 2 2 2-1 2 1 2-1 3 0 2-1 2 2 2-1 2-1 2 0 2 1 2-1 2-1 2 2 2 1 2-3 2 2 2 0 2 0 2-1 2 0 2-1 2-3 2-2 2 2 2-1 2 1 2 3 2 2 2 0 2-2 2 2 2 0 2 1 2-2 2 1 2-1 2 0 2 2 2-1 2 1 2-1 2 0 2-1 2 1 3 1 2-1 2-1 2 1 2-1 2-1 2 2 2-4 2 4 2-2 2 2 2 1 2-2 2 2 2-2 2 2 2-1 2 0 2 0 2 0 2 1 2-3 2 1 2-1 2-3 2-1 2 0 2 3 2-1 2 3 2-2 2 4 2-1 2 0 2 0 2 0 2 1 2 0 2-1 2 0 3 0 2-1 2 1 2-1 2 2 2-1 2-2 2 2 2-1 2-2 2 3 2 0 2-1 2 1 2-2 2 2 2-1 2 1 2 0 2-1 2 2 2-4 2 3 2 1 2-2 2 1 2-1 2 1 2-2 2 3 2 0 2-2 2 2 2 0 2-1 2 0 2 0 2 0 2-2 2-1 2-1 3 2 2-3 2 3 2 0 2 2 2-1 2 0 2-1 2 2 2-1 2 2 2-1 2 0 2 0 2 1 2-2 2 1 2-1 2 1 2-1 2 2 2 0 2-1 2 1 2-1 2 0 2 1 2-1 2 1 2 0 2-1 2-1 2 1 2-1 2-2 2 3 2 0 2-1 2-1 2 1 3 1 2-1 2 0 2 1 2-1 2 1 2-4 2 4 2-1 2 1 2 0 2-1 2 0 2 2 2-1 2 1 2-3 2 1 2-1 2-1 2-3 2 1 2-4 2 3 2 2 2 2 2 1 2 1 2 1 2-1 2 0 2 0 2 0 2 1 2-2 2 0 2 1 2-3 2 2 2-3 2 3 3-1 2-1 2 1 2 1 2 1 2-1 2 0 2-1 2 1 2 0 2 0 2 1 2 0 2 1 2-1 2-1 2 0 2-2 2 2 2-2 2 2 2 1 2 0 2 0 2-1 2-1 2-1 2 1 2 0 2-1 2-2 2 1 2-1 2 1 2 3 2 0 2 0 2 1 2-1 2 1 3-3 2 2 2 2 2-3 2 2 2 0 2 1 2-1 2 0 2-2 2 1 2 1 2-1 2 1 2 0 2 0 2 0 2 1 2 0 2-1 2 1 2-1 2 0 2-2 2 1 2 1 2-1 2 1 2-1 2 1 2 0 2 0 2 0 2 0 2-1 2 1 2-2 2 2 2-2 2 1 2 0 3 0 2 2 2-1 2-2 2 2 2 0 2 0 2 0 2 0 2-1 2 2 2-1 2-1 2 2 2-1 2 0 2 0 2-2 2-1 2-4 2 0 2-3 2 5 2 3 2 0 2 2 2 0 2-1 2 0 2-1 2 1 2 2 2-1 2 0 2 0 2-1 2 0 2 1 2-2 2 2 3 0 2 0 2 0 2 0 2 0 2-1 2-1 2 2 2 1 2-1 2 0 2-2 2 2 2-2 2-2 2 3 2-1 2 1 2 1 2 0 2-4 2 3 2 1 2 0 2 0 2-1 2 1 2-3 2-1 2 2 2 2 2 0 2-1 2 1 2 0 2 0 2 0 2-3 2 3 2 0 2-1 3 1 2-2 2 2 2 0 2 0 2 1 2-3 2 1 2 1 2 1 2 0 2-1 2 1 2-1 2 0 2-2 2 1 2 0 2 2 2-2 2 1 2 0 2-1 2 2 2 0 2-1 2-1 2 1 2 0 2-1 2-1 2 2 2-1 2 0 2-1 2 0 2 2 2 0 2 1 2-3 3 2 2-4 2-3 2 0 2-1 2-1 2 7 2 2 2 0 2 1 2 0 2-1 2 0 2 0 2 1 2 0 2 0 2-1 2 1 2-1 2-2 2 2 2-3 2 3 2-2 2 1 2 0 2 0 2 1 2 0 2 0 2 0 2-1 2 1 2 1 2-1 2 0 2 0 2-2 2 3 2-1 3 1 2-1 2-2 2 3 2 0 2 0 2-1 1 1M163 3115l1-10 1-12 1-21 2 10 1 23 1-14 1-2 1-25 2 27 1 6 1-18 1 18 1 6 1-31 2 24 1-9 1 9 1-11 1 16 2 1 1-21 1 17 1-16 1 24 2 2 1-8 1-12 1 6 1 12 2-4 1 7 1-13 1 7 1 9 1-5 2 2 1-3 1 3 1 1 1 1 2-4 1 1 1 2 1 0 1-2 2 4 1 0 1 2 1 1 1-3 2 2 1-1 1-6 1 10 1-1 1 0 2 0 1-2 1 1 1 2 1 3 2-4 1 2 1-1 1-1 1-3 2-2 1 7 1-3 1 2 1-2 2 2 1 2 1 0 1 0 1-2 2-2 1-1 1-1 1 7 1-3 1 2 2-6 1 2 1 1 1-2 1 3 2 2 1-3 1 3 1 0 1-1 2 1 1-5 1 4 1 1 1-2 2 1 1-1 1 1 1-3 1 2 1 1 2-3 1-3 1 5 1-2 1-2 2-2 1 3 1-5 1-4 1 1 2-2 1 1 1 2 1-1 1 2 2 0 1-2 1 4 1 4 1-1 1 0 2 0 1 4 1-2 1 1 1 2 2-1 1 0 1 3 1-4 1 1 2-3 1 2 1 0 1 0 1-1 2 2 1-3 1 3 1 2 1-1 1 0 2 1 1 0 1 1 1 0 1-2 2 1 1-2 1-1 1 3 1-1 2 0 1-1 1-1 1 3 1-2 2-1 1-4 1 3 1-1 1-1 2-1 1-3 1 0 1-4 1 5 1 3 2-3 1 5 1 2 1 1 1 1 2 1 1-2 1 2 1 0 1 1 2 0 1 1 1-1 1 0 1 0 2 0 1 1 1 0 1-1 1-1 1 1 2 1 1-2 1 0 2 0 2 0 2 1 2-1 2-2 2 3 2 1 2-2 2 1 2 0 2 0 2 0 2 1 2-2 2 2 2 0 2-1 2 0 3 0 2 1 2-3 2 3 2-1 2-1 2 2 2 0 2-1 2 1 2-1 2 0 2-1 2 1 2 0 2 0 2-2 2 1 2 0 2-1 2-3 2 1 2-1 2 1 2 0 2 4 2-1 2 1 2 0 2 1 2 0 2-2 2 1 2-1 2 0 2 2 2-2 2 1 2 0 2 1 3 0 2 0 2-1 2 1 2-2 2 0 2 0 2 2 2-1 2 1 2-1 2-2 2 3 2-1 2-1 2 1 2-2 2 2 2 0 2 1 2-3 2 2 2 0 2 0 2 0 2-2 2-1 2-1 2-5 2-1 2 4 2 2 2 2 2 3 2 0 2 0 2 0 2 0 2-1 2 0 2 0 3-1 2 2 2-3 2 2 2 0 2-1 2 1 2-1 2 1 2 0 2 0 2-1 2 0 2 1 2 0 2 0 2 1 2-2 2 0 2 1 2 0 2-3 2 3 2-2 2 2 2 1 2-1 2 1 2-1 2-1 2 2 2 0 2-1 2-2 2 3 2 0 2 0 2 0 2 0 2-2 3-3 2 0 2-4 2 2 2 3 2 0 2 3 2 1 2 0 2-1 2-1 2 0 2 2 2-1 2 0 2-1 2 1 2 0 2-1 2 1 2 0 2 1 2-1 2-1 2 1 2-2 2 0 2 2 2 0 2 1 2-1 2 1 2-2 2 2 2-2 2-1 2 2 2-2 2 1 2 1 2 1 3 0 2 0 2-3 2 1 2 2 2 0 2 0 2-1 2-2 2 2 2 0 2 0 2 0 2 0 2-2 2 2 2 0 2-1 2 2 2-2 2-1 2 1 2-2 2-1 2-2 2 1 2 3 2 1 2 1 2 1 2-2 2 2 2-3 2 3 2 0 2-2 2 1 2 1 2-3 2 3 3-2 2 2 2-1 2 1 2-1 2-1 2 1 2-2 2 1 2 0 2 0 2-3 2 4 2 0 2-2 2 1 2 1 2-1 2-1 2 2 2-2 2 0 2 1 2 0 2 1 2 0 2 0 2-3 2 3 2 1 2-1 2-1 2-2 2-4 2 2 2 2 2 1 2-1 2 3 2 1 2 0 3-2 2 1 2 1 2 0 2-2 2 1 2-2 2 1 2 0 2 1 2-1 2-1 2 2 2-3 2 2 2 1 2 1 2-2 2 1 2-1 2 2 2-1 2 1 2 0 2-1 2-1 2 1 2-2 2 1 2 2 2 0 2 0 2-1 2 0 2 0 2-1 2 2 2-1 2-2 2 2 3-1 2 2 2-1 2 0 2 0 2-1 2-1 2 2 2-1 2-1 2 0 2 3 2-1 2 0 2 0 2-1 2 2 2 0 2-2 2-1 2-5 2 1 2-1 2-2 2 3 2 2 2 4 2-1 2 1 2 0 2 0 2-1 2 1 2 0 2 1 2-3 2-1 2 3 2 0 2 0 2 0 3-1 2 1 2 0 2-1 2 1 2-3 2 3 2-1 2 1 2-1 2 1 2-1 2-3 2 1 2 0 2 0 2 0 2 2 2 0 2 2 2 0 2 0 2 0 2 0 2 0 2 0 2 0 2-1 2-2 2 1 2 0 2 0 2 0 2 0 2 1 2 0 2 1 2-1 2-1 2 0 3 0 2 1 2-1 2 1 2-3 2 1 2 2 2 0 2 0 2-1 2 1 2-2 2 2 2 0 2-1 2 1 2 1 2 0 2 0 2 0 2 0 2-2 2 2 2-2 2 2 2 0 2-1 2-1 2 0 2 0 2 2 2-2 2 1 2-1 2 1 2-1 2 1 2-2 2 2 2 0 2 0 3 0 2 0 2-2 2-5 2 0 2 0 2-2 2 6 2 2 2 1 2 1 2-2 2 2 2-4 2 2 2 1 2 1 2 0 2 0 2-1 2 1 2-1 2-1 2 2 2-1 2 1 2 0 2 0 2 0 2 0 2 0 2-1 2 0 2 0 2 0 2 0 2 1 2-1 2 0 2 0 3-2 2 1 2 0 2 0 2 1 2 0 2 0 2 0 2 0 2 0 1 0M152 3126l2-12 1 4 1-34 1 27 1-1 2-55 1 42 1 14 1-3 1-19 2-3 1 7 1 1 1 1 1 3 2-22 1 20 1-16 1-2 1 15 2 12 1 0 1-19 1 18 1-2 1 11 2-1 1-4 1-5 1 14 1-8 2-6 1 12 1-10 1 4 1 6 2 3 1-5 1-6 1 14 1 1 2-5 1 4 1-8 1 3 1 0 1 4 2-9 1 11 1-1 1 1 1-6 2 8 1-1 1 3 1-6 1 3 2-1 1 1 1 3 1 0 1 2 2-4 1 2 1-3 1 4 1-6 1 2 2-4 1 6 1-1 1 0 1-6 2 8 1 1 1-2 1 0 1 2 2-2 1-1 1 0 1-1 1 1 2 3 1-1 1 1 1 0 1-2 1 2 2-5 1 5 1-4 1 2 1-3 2 5 1-2 1 2 1-2 1 0 2-2 1-1 1 3 1-4 1 4 2 0 1-3 1 4 1-6 1 0 2-1 1 3 1 0 1-2 1-1 1-7 2 6 1 3 1-3 1 3 1-6 2 5 1-5 1 8 1-1 1 5 2-2 1 2 1-2 1-2 1 2 2 2 1-1 1 1 1-5 1 2 1 2 2-1 1 1 1-1 1-1 1 4 2-5 1 3 1 0 1 1 1-4 2 4 1-2 1-1 1 2 1-1 2 3 1-7 1 0 1 5 1 0 1 0 2-1 1 0 1 1 1 1 1-1 2-2 1-2 1 0 1-4 1 1 2 0 1-8 1 9 1-3 1 2 2 0 1 6 1 1 1 2 1-4 1 1 2 1 1 3 1-1 1 1 1-1 2 1 1 1 1-2 1 1 1-1 2 1 1 1 1-2 1 1 1 0 2 0 1-1 1-1 1 3 2 0 2-1 2 0 2-2 2 2 2 0 2-1 2 1 2 0 2-1 2 0 2 2 2-1 2 0 2 0 3 1 2-2 2 0 2 1 2 1 2-2 2 0 2 1 2 0 2 1 2-1 2 1 2-2 2 2 2 0 2-1 2 0 2 1 2 0 2-2 2-1 2-2 2-1 2-2 2-2 2 4 2 3 2 2 2 0 2 0 2 0 2 1 2-1 2 0 2 0 2 0 2 0 2 1 2-1 2 0 3 0 2-2 2 0 2 1 2 1 2-1 2 2 2 0 2-2 2 0 2 1 2-1 2-2 2 2 2 2 2-1 2 0 2 1 2 0 2 0 2 0 2-2 2 1 2 1 2-1 2-1 2 1 2 0 2-1 2-4 2-2 2-3 2 2 2 5 2 1 2 1 2 1 2-1 2 1 2 0 2 0 3 0 2 1 2-2 2 0 2-1 2 1 2 2 2-3 2 2 2 1 2 0 2-2 2 0 2 1 2-2 2 1 2 2 2-2 2 2 2 0 2 0 2 0 2 0 2 0 2-1 2 0 2-1 2 2 2 0 2-1 2 0 2 0 2 0 2-2 2 2 2 0 2-1 2 1 2 0 2 0 3-1 2 0 2-3 2-5 2 4 2 0 2 3 2 0 2 0 2 3 2 0 2-1 2 0 2 1 2 0 2 0 2 0 2 0 2-1 2-2 2 2 2 1 2-2 2 2 2-1 2-1 2 0 2 1 2 0 2 0 2 0 2 0 2-2 2 1 2-1 2 3 2-1 2 0 2 0 2 1 2-1 3 0 2 1 2 0 2 0 2-1 2-1 2 0 2 2 2 0 2-1 2 1 2 0 2 0 2-1 2 0 2 1 2-2 2 0 2 1 2 0 2-1 2 0 2-2 2 0 2-2 2-1 2 0 2 3 2-2 2 3 2 2 2 1 2-1 2 0 2 0 2 1 2-2 2 2 2 0 2 0 3 0 2-1 2 1 2 0 2 0 2 0 2-1 2 1 2-2 2 0 2 1 2-1 2 1 2-1 2 0 2 1 2 1 2-1 2 0 2 0 2-2 2 0 2 0 2-2 2 1 2 2 2 0 2-1 2 1 2 1 2 0 2-3 2 0 2-2 2 1 2 0 2-2 2 1 2 0 2 4 2 0 3 2 2 0 2 0 2-2 2 1 2 0 2 2 2-3 2 0 2 2 2 0 2 0 2 0 2 0 2-2 2 0 2 0 2 0 2 2 2 0 2-2 2 2 2-1 2 0 2 1 2-1 2 0 2 0 2-2 2 2 2 1 2-1 2 0 2 1 2-1 2 1 2 0 2-1 2 1 2-2 3 2 2 0 2-1 2-2 2 1 2 2 2 0 2-1 2 0 2 0 2 1 2 0 2-1 2 1 2-4 2 4 2-1 2 0 2 0 2 0 2-2 2 1 2-3 2 0 2-1 2-1 2 3 2 2 2 1 2 1 2-3 2 3 2 0 2-1 2 1 2 0 2 0 2-1 2 0 2-2 3 4 2-1 2-3 2 0 2 3 2 0 2-1 2 1 2-4 2 2 2-1 2 2 2-1 2 1 2-1 2-1 2-1 2 1 2-1 2 1 2 0 2-1 2 3 2-3 2 3 2 0 2-1 2 1 2 1 2 0 2-2 2 0 2 0 2-1 2 2 2-1 2 1 2 1 2 0 2 0 2 0 3-1 2 1 2-3 2 0 2 1 2 0 2 0 2-1 2 3 2-2 2-1 2 2 2 0 2 0 2 0 2 0 2-1 2 2 2-1 2-1 2 1 2 0 2 1 2 0 2-1 2 1 2 0 2-2 2 2 2 0 2 0 2-1 2 0 2 1 2 0 2-3 2 3 2-1 2 1 2 0 3 0 2-3 2 2 2 0 2 0 2 0 2-4 2-2 2 3 2 1 2 0 2 0 2 2 2-1 2-1 2 1 2 2 2-3 2 3 2-1 2 1 2-2 2 0 2-1 2 2 2 1 2-2 2-2 2 3 2 0 2 1 2-1 2 0 2 1 2-1 2 1 2 0 2-2 2 2 2-2 2 2 3-1 2-1 2-1 2 1 2-3 2 4 2-1 2 1 2 0 2 1 2-2 2 2 1-1M142 3131l1-10 2-8 1 9 1-22 1 6 1 13 2-7 1-3 1 7 1-12 1 2 1-8 2 19 1-4 1 5 1-25 1 21 2-8 1-19 1 23 1 6 1-17 2 18 1-15 1 12 1-4 1 10 2 3 1-3 1-12 1 5 1 2 2 5 1 8 1-7 1-1 1 0 1 6 2 0 1 1 1-7 1 3 1 4 2-4 1 6 1-8 1 9 1-4 2 4 1-8 1 6 1 0 1 4 2 0 1-6 1 4 1 2 1 3 1 0 2 0 1-1 1 1 1-4 1 3 2-3 1 3 1-2 1 4 1 0 2-3 1 0 1-1 1 2 1-2 2 1 1 3 1-7 1 2 1 1 1 2 2 0 1-2 1-1 1 3 1-8 2 7 1-2 1 2 1-1 1 0 2-2 1 3 1-5 1 7 1-5 2 0 1-1 1 6 1 0 1-1 1 1 2-5 1 5 1-3 1 3 1-3 2-4 1 4 1 1 1 1 1-5 2 1 1-2 1-2 1 3 1 1 2-7 1 2 1-1 1-2 1 4 2 3 1 0 1 2 1-1 1 4 1-5 2 4 1-1 1 0 1 1 1-1 2 4 1-5 1 4 1-1 1 0 2-1 1-1 1 2 1-1 1 0 2 0 1 2 1-1 1 0 1-3 1 2 2 0 1 2 1-2 1-1 1 2 2 0 1 1 1-1 1 1 1-1 2 2 1-2 1-2 1 0 1 0 2 1 1-2 1-8 1 1 1 0 1 0 2 0 1 0 1 1 1 4 1 3 2 1 1 1 1 3 1-1 1 0 2-1 1 1 1-1 1 2 1 0 2-1 1 1 1 0 1-1 1 0 1 1 2-1 1 2 1 0 1 0 1-1 2 0 1 0 1-1 1 2 1 0 2-1 2 1 2-2 2 2 3-1 2 0 2 0 2-1 2 2 2-1 2-1 2 1 2 0 2 1 2-2 2 2 2 0 2 0 2-1 2 0 2 0 2 0 2 1 2-1 2 1 2-2 2 2 2 0 2-1 2-1 2 2 2 0 2-2 2-1 2 1 2-6 2 1 2 1 2 1 2 0 2 2 2 1 2 2 2 0 3-1 2 0 2 0 2-1 2-1 2 1 2 1 2 0 2-2 2 2 2 1 2 0 2-1 2 1 2-2 2 2 2 0 2 0 2 0 2-4 2 3 2 1 2 0 2 0 2-1 2 1 2 0 2 0 2 0 2-2 2 1 2 1 2 0 2-1 2 1 2-4 2 2 2-2 2-2 2-2 2 1 3-2 2-2 2 7 2 1 2 2 2 1 2-1 2 1 2-3 2 2 2-1 2 1 2 1 2-1 2 1 2 0 2-2 2 2 2-1 2 0 2 1 2-1 2 1 2 0 2-1 2 0 2 2 2-2 2 0 2 0 2 0 2-1 2-1 2 3 2 0 2-1 2-1 2 1 2 0 2-1 3 2 2-2 2 1 2-2 2 2 2 1 2 0 2-1 2 0 2-2 2 0 2-6 2 1 2 0 2-2 2 7 2 2 2 1 2 0 2-1 2 0 2 1 2 0 2 0 2-1 2 0 2-1 2-2 2 4 2-1 2 1 2-2 2 0 2 1 2 0 2-4 2 5 2-1 2 0 2-1 3-1 2 2 2-1 2 1 2 1 2-1 2-1 2 1 2 1 2-2 2 0 2 1 2 1 2-1 2 1 2-2 2 0 2 2 2-1 2 0 2 0 2 1 2-1 2 1 2-2 2 2 2-1 2 1 2-1 2 0 2 1 2-4 2 2 2-3 2-1 2-1 2 1 2-3 2 4 2 1 2 3 3 1 2 0 2-3 2 3 2-2 2 2 2-2 2 0 2 2 2 0 2 0 2-1 2 1 2-1 2 2 2-2 2 2 2-1 2-1 2 1 2-1 2-1 2-1 2 2 2 0 2 0 2-1 2 1 2 0 2-1 2-1 2-3 2 3 2 2 2 0 2-3 2 3 2 0 2-2 2-1 3 3 2 0 2-1 2-1 2-2 2-1 2 2 2 0 2 1 2 1 2-1 2 0 2 1 2 2 2-1 2 0 2 1 2-2 2 1 2 1 2 0 2-1 2-1 2 0 2 1 2 0 2-3 2 3 2 1 2-1 2-1 2 1 2-2 2 3 2-2 2-2 2 4 2 0 2-2 2 1 2-1 3 0 2 2 2-1 2 0 2 1 2 0 2-1 2 0 2 1 2-2 2 2 2-2 2 2 2-1 2 0 2 0 2 1 2 0 2-1 2 0 2 0 2 0 2 1 2-2 2 1 2 0 2 0 2-1 2 1 2-1 2 0 2-4 2-2 2 1 2 2 2 0 2 3 2-1 2 2 2 1 3-3 2 3 2-1 2 1 2 1 2-1 2-1 2 1 2-1 2 2 2-1 2 0 2 0 2 0 2-1 2 1 2-2 2-1 2 0 2 1 2 0 2 1 2-1 2 0 2-2 2-1 2 1 2-1 2 2 2 1 2 0 2 0 2 2 2 0 2 0 2-2 2 2 2-1 2 0 2 0 2 0 3-1 2 0 2 0 2 1 2 1 2-1 2 1 2 0 2 0 2 0 2-1 2-1 2 1 2-1 2-1 2 2 2-2 2 2 2 0 2-2 2 3 2-2 2 1 2 1 2-2 2 2 2-1 2 0 2 1 2-3 2-1 2 3 2-1 2 2 2 0 2-1 2 1 2 0 2-1 2 1 3-1 2 0 2 1 2-1 2 1 2 1 2-1 2-1 2 1 2 0 2-2 2 2 2-2 2 1 2-1 2-2 2-2 2-1 2 0 2 5 2-2 2 4 2-2 2 2 2-1 2 0 2 0 2 1 2-3 2 3 2-1 2 0 2 1 2 0 2-2 2 1 2 0 2 1 2-1 2 1 2-1 3 2 2-2 2 1 2 0 2-2 2 2 2 0 2-1 2 0 2 1 2 0 2 0 2-1 2 1 2 0 2 0 2-2 2 1 2 0 2 1 2-1 1 1M132 3137l1-11 1 5 1-11 2 4 1 5 1-3 1-16 1 17 2-16 1 11 1 0 1-5 1 1 2-7 1-1 1 4 1-1 1 7 2 1 1-46 1 43 1 2 1 10 1-26 2 22 1 3 1-13 1 11 1-2 2-4 1 10 1 3 1-5 1-9 2 9 1-6 1 7 1 3 1 0 2-1 1 6 1-2 1-3 1 2 1 3 2-3 1-1 1-4 1 7 1 0 2 2 1-1 1 1 1 2 1-2 2-3 1 4 1 0 1 3 1-2 2 3 1-4 1-2 1 5 1-2 2 1 1 1 1-1 1 2 1-1 1-1 2-1 1 0 1 3 1-2 1-3 2 3 1-2 1-2 1 6 1-4 2 3 1-4 1-1 1 3 1-3 2 5 1-1 1 1 1-5 1 3 1 3 2-4 1-3 1 1 1 2 1 2 2-1 1 2 1-2 1 1 1 0 2 0 1-2 1 2 1-4 1-1 2 7 1-6 1 1 1 2 1-4 1 3 2-4 1 0 1 1 1-1 1-10 2 10 1-5 1 6 1-4 1 0 2 1 1 5 1-3 1 5 1 0 2-1 1 2 1-1 1 3 1-1 1-1 2 3 1-4 1 1 1 0 1 3 2-2 1 0 1 0 1 1 1 0 2-3 1 4 1-3 1 1 1-1 2 1 1-2 1-2 1 4 1-3 2-4 1 4 1 4 1-4 1 2 1 1 2 0 1-4 1 0 1-1 1 2 2 0 1-5 1-1 1-3 1 2 2 0 1 1 1 1 1 4 1 2 2 0 1 2 1-1 1 1 1 1 1 1 2-3 1 2 1 0 1-2 1 2 2 1 1 0 1 1 1 0 1-2 2-2 1 4 1-2 1 2 1 0 2 0 1 0 1-1 1 1 1 0 1 1 3-1 2 0 2 1 2-2 2 1 2 1 2-4 2 2 2 1 2 0 2-1 2 0 2-1 2 2 2-1 2 0 2-1 2 2 2-1 2 1 2-2 2-3 2 4 2 0 2 0 2 0 2-1 2 2 2-1 2 1 2 0 2 0 2-4 2-3 2 2 2-5 2 3 2 4 2 2 2 0 2 1 3 0 2-1 2 1 2 0 2 0 2-2 2 0 2 0 2 2 2-1 2 0 2 0 2 0 2 0 2 0 2-1 2 1 2-1 2 2 2-1 2 1 2-2 2 2 2 0 2-1 2-3 2 3 2 1 2 0 2-1 2 1 2 0 2-2 2 2 2-3 2 3 2-1 2 1 2-1 2 0 3-1 2-1 2-3 2 0 2 0 2 4 2-1 2 3 2 0 2 0 2-1 2 1 2 0 2-2 2 1 2 1 2 0 2-2 2-2 2 3 2-1 2 2 2 0 2-1 2 0 2 0 2 1 2-1 2 1 2-1 2 0 2-1 2 3 2-2 2 1 2-1 2 1 2-3 2 3 2 0 2 0 3 0 2-2 2 1 2 0 2 0 2 0 2 1 2-1 2 0 2 0 2 0 2-1 2-3 2-1 2-6 2 3 2 4 2 0 2 3 2 0 2 2 2 0 2-1 2 1 2 0 2-2 2 2 2 0 2-2 2 0 2 3 2-1 2-1 2-1 2 1 2 2 2-1 2 0 2 0 2-1 3 1 2-1 2-1 2 2 2-3 2 0 2 1 2-1 2 2 2 1 2-1 2 0 2 0 2 0 2 0 2 1 2 0 2-1 2 0 2 0 2 0 2 1 2 0 2 0 2-1 2 2 2-3 2 1 2 1 2-2 2 1 2 1 2-1 2 0 2-4 2 3 2-5 2 2 2 0 2 0 2 2 3 1 2 1 2-1 2 0 2-1 2 3 2-3 2 3 2 0 2-2 2 0 2 1 2-2 2 3 2 0 2-1 2 0 2 1 2-1 2 1 2-1 2 0 2-1 2-3 2 2 2 0 2 1 2 2 2 0 2 0 2-1 2-1 2 1 2-2 2-2 2 4 2 1 2 0 2-1 2-1 3 0 2 1 2-1 2 1 2-2 2-1 2 0 2-6 2 1 2-2 2 7 2 1 2 2 2 1 2-1 2 0 2 1 2-3 2 3 2-1 2 1 2 0 2 0 2-1 2 1 2 0 2 0 2-1 2 1 2-1 2 2 2-1 2 0 2 0 2 0 2 0 2-3 2 3 2-3 2 1 2 1 3 1 2-1 2 1 2 0 2-2 2-1 2 1 2 2 2-2 2 2 2-1 2 1 2-3 2 2 2-1 2 2 2 0 2 0 2-1 2-1 2 2 2 0 2-1 2-1 2 2 2 0 2 0 2 0 2-1 2 0 2 0 2-1 2-3 2-2 2-4 2 1 2 3 2 2 2 3 2 1 3-1 2 2 2 0 2-1 2-2 2 0 2 0 2 1 2 1 2-1 2 2 2 0 2 0 2 0 2 0 2-1 2 0 2 0 2-1 2 2 2-1 2 0 2 1 2-2 2 0 2-1 2 0 2-3 2 1 2 2 2 0 2 1 2-1 2 1 2 1 2-1 2-1 2 2 2 0 2 1 2-1 3 0 2-3 2 3 2-3 2 1 2 1 2 0 2 0 2 2 2-1 2 1 2 0 2-2 2 1 2 1 2 0 2-1 2 0 2 0 2 1 2-1 2-1 2 1 2 1 2-3 2 2 2 0 2-1 2 2 2 0 2-1 2 1 2-2 2 0 2 1 2 1 2-3 2 0 2 2 2 1 3-1 2 1 2-1 2 1 2-1 2-1 2 1 2-2 2 3 2 0 2 0 2 0 2 0 2-1 2-2 2 2 2-2 2-1 2 0 2-1 2 1 2 2 2 2 2 0 2-1 2 0 2 0 2 1 2-1 2-1 2 1 2 1 2-3 2 1 2 1 2 0 2-1 2 1 2 0 2 0 2 1 3 0 2-1 2 1 2-1 2 1 2-1 2 1 2 0 2 0 2 0 2 0 2 0 2 1 2-4 2 1 2 2 2-1 2 0 2 1 2-1 2 1 2 0 2-1 1 1M122 3149l1-12 1 3 1-6 1-8 2-6 1-19 1 22 1 6 1-38 2 23 1 17 1-6 1-13 1 2 1-9 2 15 1 15 1-17 1-5 1 14 2-2 1 10 1 3 1-23 1-10 2 20 1 12 1 1 1-14 1 10 2 1 1-4 1 10 1-6 1 6 1-1 2 3 1-4 1 2 1-7 1 5 2 1 1-5 1 2 1-3 1 9 2 3 1-7 1 4 1 2 1-4 2 0 1 2 1 3 1 2 1-1 1 3 2-2 1 3 1-1 1-1 1 1 2-1 1 1 1-3 1-2 1 5 2 0 1-2 1 0 1-4 1 5 2 0 1-7 1 8 1-5 1 4 1 2 2-2 1 1 1-5 1 5 1-1 2-3 1 5 1-2 1-1 1 3 2-4 1 0 1 0 1 3 1-5 2 4 1 1 1-3 1 5 1-1 2-1 1-1 1 2 1-1 1-2 1-2 2 6 1-1 1 0 1-4 1 3 2-3 1-2 1 4 1-5 1 0 2-6 1 2 1-1 1-1 1-4 2-2 1-2 1 4 1 4 1-5 1 7 2 2 1 2 1 3 1-3 1 3 2 0 1 1 1 1 1 1 1 0 2-2 1 2 1 1 1 1 1-1 2-3 1 2 1 1 1 1 1-1 1-3 2 3 1 1 1 0 1 1 1-1 2-1 1 1 1-4 1 1 1-2 2 4 1 0 1 1 1-2 1 0 2 1 1 0 1 1 1-6 1 1 1-3 2 1 1-8 1-2 1 6 1 2 2-2 1-2 1 5 1 5 1 1 2-1 1-1 1 1 1 1 1 3 2-3 1 1 1-1 1 1 1 0 2 2 1 0 1-2 1 2 1 0 1 1 2-1 1 1 1-2 1 1 1-1 2 1 1 0 1 1 1 0 1 0 2 0 2 1 2-2 2-1 2 1 2 0 2 1 2-1 2 1 2-1 2 2 2-2 2 1 2-2 2 2 2-1 2 1 2-1 2 0 2 1 2-3 2 2 2-2 2 3 2-1 2-1 2 0 2 2 2-2 2 2 2-2 2 0 2-1 2-4 2 1 2 2 2 0 2 2 3 0 2 1 2 1 2 0 2-2 2 0 2 2 2 1 2-1 2 0 2 0 2-1 2-1 2 1 2 1 2-1 2 0 2 0 2 1 2-1 2 1 2-1 2 0 2 0 2 0 2 0 2-2 2 1 2 1 2-2 2 3 2 0 2 0 2-1 2 0 2 1 2-1 2 2 2 0 2-4 2 4 3-1 2-1 2-1 2-5 2 1 2-1 2 1 2 3 2 0 2 3 2-2 2 2 2-1 2 1 2-2 2 2 2 0 2 0 2-3 2 3 2-2 2 1 2 1 2-2 2 0 2 1 2 0 2 0 2 0 2 0 2 1 2-2 2 1 2 1 2 0 2 0 2 0 2 1 2-2 2 2 3-1 2 0 2 0 2 0 2 0 2 0 2-2 2 0 2 0 2 2 2 0 2-2 2 2 2-1 2-2 2-2 2 0 2 1 2 1 2 1 2 0 2 1 2 1 2 0 2-1 2 0 2 0 2 1 2 0 2-1 2 1 2 0 2 0 2 0 2 0 2-1 2 1 2-1 2 0 2-1 2 2 3 0 2 0 2-1 2-1 2 2 2 0 2 1 2-2 2 0 2 1 2 0 2-3 2 3 2-2 2 1 2 0 2-4 2 3 2 0 2 2 2-3 2 0 2 3 2-2 2 2 2-1 2 0 2 0 2-2 2 2 2 1 2-3 2 1 2 2 2 0 2-3 2 0 2 0 2-3 2 0 3 2 2 2 2 0 2-1 2 2 2-1 2 2 2 0 2-1 2 1 2 0 2-1 2 0 2-1 2 0 2 1 2 0 2 0 2 0 2-2 2 1 2 2 2-1 2 0 2 0 2 0 2 0 2 1 2-2 2 2 2 0 2-2 2 2 2-2 2 0 2 1 2-1 2 2 2-1 2 0 2 1 3-2 2 1 2 0 2 0 2 0 2 0 2 0 2-2 2 0 2 0 2 0 2-1 2-1 2 3 2 1 2 0 2-1 2 2 2 0 2-1 2 0 2 1 2-1 2-1 2 2 2 0 2-1 2 0 2 0 2 1 2-1 2 2 2-3 2 0 2 0 2 2 2-1 2-1 2 3 2-1 3 0 2 0 2 0 2-2 2 1 2 0 2 0 2 0 2 1 2-2 2 0 2 1 2 0 2 0 2 1 2-1 2-1 2 2 2-1 2 1 2-2 2 1 2 0 2 1 2-1 2-1 2 1 2 0 2 2 2-1 2 1 2-1 2-1 2-1 2-2 2-3 2-7 2 5 2-1 2 5 2 3 3-1 2 2 2-3 2 4 2-3 2 2 2 1 2-1 2-1 2 2 2-2 2 1 2 1 2-2 2 0 2 0 2 2 2-2 2 0 2 1 2-2 2 2 2 0 2-1 2 2 2-3 2-1 2-6 2 1 2 2 2-1 2 4 2-1 2 3 2 1 2 0 2-1 2 2 2 0 2-2 3-2 2 3 2 0 2 0 2 0 2-1 2 0 2 1 2 0 2 0 2-1 2-1 2 2 2 1 2-3 2 1 2 1 2-1 2 1 2-1 2 1 2 1 2-2 2 2 2-1 2 0 2 0 2 0 2 1 2 0 2-2 2 1 2 1 2 0 2 0 2-1 2 1 2-1 2 0 2 1 2 0 3 0 2 0 2-1 2 1 2-2 2 0 2 1 2 1 2-2 2 2 2-1 2 0 2 1 2 0 2 0 2 0 2-3 2 1 2-1 2-2 2-2 2 2 2 1 2 3 2-1 2 2 2-2 2 0 2 2 2-2 2 2 2 0 2 0 2-1 2-1 2 0 2 0 2 1 2-1 2-1 3 3 2-1 2 0 2 0 2 1 2 0 2-2 2 1 2 1 2-2 2 2 2 0 2-1 2 1 2 0 2-1 2 0 2 1 2-1 2 0 2 0 2-1 2 3 2-1 2 1 2-2 1 1M111 3157l1-4 2-17 1 3 1-3 1 3 1-31 2 27 1-53 1 26 1 23 1 12 2-6 1-16 1 9 1 12 1-9 2-16 1 15 1-16 1 28 1-14 2-7 1 10 1 11 1-17 1 13 1-12 2 1 1 11 1 5 1 5 1-6 2-1 1 1 1-6 1-6 1 13 2 9 1-4 1-2 1 1 1 2 2 0 1 2 1-1 1-1 1-8 1 8 2 3 1 0 1 0 1 2 1 0 2 0 1-1 1 3 1-1 1-2 2-4 1 9 1 0 1-5 1 1 2-4 1 8 1-4 1 4 1-11 1 10 2 0 1-1 1 0 1-3 1 3 2 0 1 1 1-3 1 2 1-2 2 2 1-1 1-6 1 8 1-1 2-2 1 0 1 2 1-1 1-3 1 3 2 2 1-4 1 1 1-2 1 2 2 0 1 0 1-4 1 5 1-6 2 3 1 4 1 0 1 2 1-1 2-4 1 3 1 0 1 0 1 0 2-2 1-2 1-3 1 4 1-1 1-3 2-7 1 0 1-5 1 7 1-6 2 4 1 1 1-4 1 3 1 3 2 4 1 0 1 1 1 3 1-2 2-1 1 3 1 4 1-8 1 8 1 2 2-2 1 1 1-1 1 0 1-1 2 3 1-2 1-4 1 3 1 2 2 0 1 0 1-3 1 2 1 1 2 0 1-3 1-1 1 4 1-2 1 3 2-3 1 3 1-3 1 2 1-2 2 0 1-3 1-1 1 3 1-4 2-4 1 3 1-4 1 0 1 1 2 4 1 0 1 3 1 2 1-2 1 3 2 1 1 1 1-4 1 4 1 1 2-1 1-1 1 1 1-1 1 0 2 0 1 2 1-1 1-2 1 3 2-1 1-1 1 2 1-2 1 2 2 0 1-1 1 1 1-1 1 0 1 0 2 1 2-1 2 0 2 1 2-1 2 1 2-1 2 0 2 1 2-3 2 2 2-1 2 2 2 0 2 0 2-1 2 1 2-2 2 1 2 1 2 0 2 1 2 0 2-1 2 1 2-1 2 1 2-2 2 0 2 1 2-2 2-1 2-3 2 0 2-5 3 7 2 0 2 3 2 0 2 1 2-1 2-1 2 0 2 1 2 1 2 0 2 0 2-1 2-2 2 1 2 0 2 2 2 0 2-3 2 2 2 0 2 1 2-1 2 0 2 0 2 0 2 2 2-1 2-3 2 4 2-1 2-1 2 1 2-2 2 2 2-1 2 1 2 0 2 0 2 1 2-2 3 0 2 1 2 0 2 0 2-3 2-1 2-5 2-2 2 4 2 1 2 3 2 2 2 0 2-1 2 2 2-1 2 1 2 0 2-2 2 2 2-1 2 1 2-1 2 2 2-1 2-2 2 2 2 0 2 0 2 0 2 0 2 0 2 0 2-1 2-1 2 2 2 0 2-1 2 1 2-1 3 0 2 0 2 0 2 0 2 1 2 0 2-1 2 1 2 0 2-1 2 0 2-2 2 2 2 0 2-1 2-2 2 1 2-7 2 1 2 5 2 0 2 1 2 1 2 1 2 1 2-2 2 1 2 2 2 0 2 0 2 0 2-1 2 1 2-1 2-1 2 1 2 0 2-2 2 1 2 1 2 0 3-1 2 0 2 1 2-1 2-1 2 1 2-1 2-1 2 2 2-1 2 2 2-2 2 1 2 1 2 0 2-2 2 1 2 1 2 0 2-1 2 1 2 1 2-1 2 0 2 0 2-1 2 1 2-1 2 0 2 2 2-1 2 0 2-2 2 1 2 1 2 0 2-2 2 0 2 0 2-5 3-2 2 0 2 3 2 0 2 4 2 1 2-1 2 1 2 0 2 0 2 0 2 1 2 0 2-1 2 0 2 1 2 0 2 0 2 0 2 0 2-1 2 1 2-2 2 2 2-1 2 1 2 0 2-1 2 1 2-1 2 1 2 0 2-1 2 2 2-2 2-1 2 1 2 0 2 0 2 0 2 0 3 0 2 0 2 0 2-3 2 3 2-1 2 0 2-1 2 1 2 1 2-2 2 0 2-2 2-3 2 0 2 3 2 1 2 2 2-1 2 3 2 0 2 0 2 1 2-1 2 0 2 1 2-2 2 1 2 0 2-1 2 0 2 0 2 1 2-2 2-1 2 3 2-2 2 0 2 0 2 2 3 0 2-1 2-2 2 3 2 0 2-1 2 0 2 0 2 0 2 1 2 1 2-3 2 0 2-1 2 3 2 0 2 0 2-1 2 2 2-3 2 1 2 2 2-1 2-1 2 1 2-1 2 1 2 0 2-2 2 2 2-2 2 0 2 2 2 0 2 0 2-1 2-2 2-2 2-2 2-1 3 4 2 1 2 1 2 2 2 0 2 0 2-1 2 1 2-1 2 1 2-3 2 3 2-1 2 2 2-2 2 2 2 0 2-1 2-2 2 1 2-1 2 1 2 1 2-2 2 1 2-1 2 2 2-1 2-2 2-6 2 0 2-5 2-1 2 2 2 5 2 3 2 3 2-1 2 2 2 1 2-1 3 0 2 1 2-2 2 2 2 0 2-2 2 1 2 0 2-1 2 2 2 0 2 0 2-1 2-1 2 3 2 0 2-3 2 1 2-1 2 1 2-1 2 0 2 2 2 0 2-3 2 0 2 2 2 1 2 0 2 0 2 0 2 0 2-4 2 4 2-2 2 0 2 1 2 1 2-1 2-2 3 3 2 0 2 0 2 0 2-1 2-1 2 0 2 2 2 0 2 1 2 0 2-1 2 1 2 0 2 0 2-3 2 0 2 3 2-1 2-1 2-2 2-1 2-4 2-2 2 6 2 1 2 2 2 0 2-1 2 0 2 2 2-1 2-2 2 2 2 1 2-1 2 0 2 0 2-1 2 2 2-1 3 1 2-1 2 0 2-2 2 4 2 0 2-2 2 1 2-1 2 1 2 0 2-1 2 1 2 1 2-2 2-1 2 0 2 2 2 1 2-5 2 3 2-2 2 1 2 2 2-1 2-1 2 2 2-1M101 3165l1-13 1 2 2-3 1-2 1-15 1 11 1 1 2-25 1 3 1 16 1-15 1 13 1-8 2 4 1-3 1 11 1-14 1 12 2 7 1-20 1 14 1-18 1 28 2-26 1 20 1 7 1-24 1 7 2 17 1 0 1 2 1-16 1 12 1 4 2-7 1 12 1-5 1 1 1 2 2-3 1 5 1 1 1 2 1-2 2-10 1 7 1-1 1 4 1 0 2 4 1-1 1-5 1 1 1 2 2-1 1 3 1 3 1-1 1-1 1 5 2-3 1 0 1-1 1-5 1 4 2 2 1 1 1-1 1-3 1 5 2 0 1-3 1 1 1-2 1 1 2 2 1 1 1-1 1-3 1 3 1 1 2-5 1-3 1 7 1-3 1 3 2-10 1 10 1-1 1-1 1-5 2 7 1-1 1 1 1-5 1 2 2 1 1 2 1-2 1 3 1-1 1 1 2-3 1 2 1 0 1 0 1 0 2 1 1-3 1 0 1 2 1-5 2 1 1-2 1 4 1-6 1-1 2 2 1-5 1-1 1-1 1 1 1 0 2-4 1 3 1-3 1 3 1 2 2 4 1 1 1 2 1-1 1 5 2-2 1 2 1-4 1 6 1 1 2-2 1-1 1 1 1 0 1-3 2 2 1 1 1 2 1-2 1-1 1-1 2 3 1-1 1 1 1-2 1 0 2 0 1-3 1 0 1-1 1 6 2-3 1 1 1 1 1 0 1 0 2-4 1 1 1-1 1 1 1-4 1-2 2-6 1 6 1-5 1-1 1 7 2 3 1 3 1-4 1 1 1 3 2 3 1-1 1 2 1-2 1-3 2 5 1-4 1 2 1 0 1-1 1 3 2 0 1 1 1-2 1 0 1 2 2-2 1-1 1 1 1 2 1 0 2 0 1 1 1-1 1 1 1 0 2-2 1-1 2 0 2 2 2 0 2 0 2 0 2-1 2 0 2 1 2 0 2 0 2-1 2 1 2-1 2 0 2 1 2 0 2-4 2 4 2 0 2 0 2 0 2 0 2-1 2 0 2 1 2-1 2 1 2-1 2-3 2-1 2 0 3-4 2 5 2 0 2 3 2 1 2 0 2 1 2-1 2 0 2 1 2-1 2 1 2-1 2-1 2 1 2-1 2 1 2 0 2 0 2 0 2 0 2 0 2-1 2 1 2-2 2 1 2 0 2 0 2 0 2 1 2-2 2 2 2 0 2 0 2-1 2 1 2 1 2-3 2 0 2 1 3 1 2-2 2 1 2 1 2 0 2 0 2 0 2-1 2-3 2-4 2 3 2-1 2 0 2 4 2 0 2 2 2-1 2 0 2 0 2 1 2-1 2-2 2 2 2 1 2-1 2-2 2 3 2 0 2 0 2-2 2 1 2 1 2-1 2 2 2-2 2 0 2 2 2-1 2 0 2 0 2 0 3 1 2 0 2-1 2 1 2 0 2-2 2 1 2 0 2-2 2 2 2-1 2 1 2 0 2-2 2 1 2-1 2 0 2-1 2-3 2-1 2 2 2-1 2 4 2-1 2 1 2 2 2 0 2-2 2 0 2 0 2 3 2-1 2-1 2 2 2-2 2 2 2-1 2 1 2 0 2-1 3 1 2 0 2 0 2-1 2-2 2 2 2-1 2 0 2-2 2 2 2 0 2 0 2 1 2-1 2-1 2 1 2-1 2 2 2-1 2 1 2-2 2 1 2-1 2 2 2 0 2-1 2-1 2 2 2 0 2 0 2 0 2-1 2 0 2 2 2 0 2-2 2 1 2 0 2-2 2 1 2 0 3-5 2-3 2 2 2-2 2 4 2 1 2 2 2 1 2 0 2 0 2 0 2 1 2 0 2-1 2 0 2 0 2-2 2 2 2 1 2 0 2 0 2 0 2 0 2 0 2 0 2 0 2-2 2 0 2 1 2 0 2-2 2 3 2-2 2 2 2 0 2 1 2-2 2-1 2 2 2-1 3 0 2 0 2-1 2 2 2 0 2-1 2 1 2 0 2-1 2-1 2 1 2 0 2 0 2 0 2-4 2 0 2 0 2-2 2 0 2 2 2 1 2 3 2 0 2 1 2 0 2 0 2 1 2-2 2 2 2-1 2 1 2 0 2 0 2-3 2 2 2 0 2 1 2 0 2-2 2 0 2 0 3 1 2-1 2 1 2-1 2 1 2 0 2-3 2 3 2-1 2 0 2-1 2 1 2 0 2-2 2 1 2 1 2 1 2-2 2 2 2-1 2 1 2 0 2 0 2-2 2 2 2 0 2 0 2 0 2 0 2 0 2 1 2-2 2 1 2 0 2 0 2-2 2-1 2-3 2-3 2-3 3 2 2 2 2 1 2 2 2 3 2 1 2-2 2 2 2 1 2 0 2-1 2 1 2 0 2-1 2 0 2 1 2-1 2 1 2-1 2 0 2 1 2 0 2 0 2-2 2 1 2 1 2-1 2 0 2-1 2-1 2-2 2 0 2-5 2-1 2-3 2 5 2 3 2 1 2 1 2 4 2-1 3-2 2 0 2 3 2-1 2 1 2 0 2-2 2 1 2-2 2 2 2-2 2 3 2-1 2 0 2 1 2 0 2-2 2 1 2 0 2 1 2 0 2 0 2-2 2 2 2 0 2 0 2 1 2-1 2 0 2 1 2-2 2 1 2 1 2-1 2-1 2 1 2 0 2 0 2-1 2-2 3 3 2-1 2-1 2 2 2 0 2 0 2 0 2-2 2 0 2 0 2 2 2-1 2 2 2-1 2 0 2-1 2 1 2 0 2 1 2-1 2 0 2-2 2-2 2-3 2 1 2 2 2 0 2 3 2 0 2 0 2 1 2 1 2-2 2-1 2 2 2 0 2-1 2 0 2 1 2-2 2 1 3 0 2 1 2-2 2-1 2 2 2-1 2 0 2 2 2-1 2 2 2-1 2-2 2 1 2-3 2 1 2 4 2-1 2 0 2 0 2 0 2 0 2 1 2 0 2-3 2 1 2 1 2-2 2 2 2 0 2-1M91 3170l1-17 1 2 1-6 1-24 2 22 1 2 1-2 1-2 1-4 2 8 1-13 1-3 1 11 1 11 2 1 1-17 1 19 1-28 1 12 2-9 1 29 1-31 1 28 1-14 1 6 2 2 1 2 1 2 1 4 1 1 2-13 1 13 1-12 1 9 1-5 2 10 1-11 1 8 1 2 1 9 2-16 1 11 1 1 1-7 1 7 1 3 2-2 1-2 1 0 1 1 1 0 2-1 1 4 1 1 1-1 1-1 2 2 1 0 1-10 1 8 1 5 2 0 1-3 1 2 1-1 1-2 1 3 2 0 1 1 1-3 1-2 1 6 2-3 1 0 1-2 1 5 1-1 2 1 1-7 1 4 1 1 1 2 2 1 1-2 1 2 1-6 1 2 2 2 1-1 1 1 1-2 1 1 1 0 2-2 1 0 1 4 1-3 1 3 2-1 1 1 1-2 1 1 1 0 2-1 1-2 1 1 1 2 1-1 2 1 1-3 1 3 1-5 1 2 1 1 2-3 1 1 1-2 1 0 1-6 2 3 1 1 1-3 1 1 1-2 2 0 1-1 1 0 1 2 1 3 2 1 1-1 1 4 1 2 1-4 1 2 2 2 1-1 1 1 1 2 1 1 2-4 1 1 1 0 1 1 1 1 2-1 1 2 1 0 1-1 1 1 2 0 1 0 1-1 1 1 1-4 1 2 2 1 1-2 1 1 1 3 1-4 2 4 1 0 1-3 1-3 1 3 2 1 1-2 1-3 1 1 1 1 2 0 1-6 1 7 1-2 1-3 2 5 1 2 1-1 1 0 1 2 1-3 2 3 1 1 1-1 1-1 1 0 2-2 1 1 1 1 1-1 1 2 2-1 1 2 1-1 1 1 1 0 2-1 1 0 1 0 1 2 1-1 1-3 2 4 1 0 1 0 1 0 1 0 2 0 1-1 1 0 2 0 2 1 2-1 2 1 2 1 2 0 2 0 2-1 2-1 2 2 2-1 2 1 2-1 2-2 2 3 2-2 2 1 2 0 2 0 2 0 3 0 2 0 2 0 2-3 2 1 2 0 2 0 2-1 2-1 2 0 2 0 2 1 2-1 2 0 2 3 2-2 2 1 2 3 2-2 2 2 2-2 2 0 2 1 2 0 2 1 2 0 2-3 2 2 2 1 2-2 2 1 2 1 2 0 2-2 2 0 2 1 2 0 2 0 2-1 2 1 3 0 2-2 2 1 2-2 2 3 2 0 2 0 2 0 2 0 2 0 2 0 2-2 2-1 2 3 2 0 2 0 2-3 2 1 2-2 2-1 2-3 2 3 2 1 2 3 2 1 2 0 2 1 2-3 2 2 2 0 2 0 2 0 2-1 2 0 2 1 2-1 2 0 2-1 2 2 2-2 2 2 3 0 2-3 2 0 2 3 2-1 2 1 2 0 2 0 2-1 2-1 2-1 2 3 2 0 2 0 2-3 2 3 2 0 2 0 2 0 2 0 2 0 2-1 2 0 2 0 2-1 2 0 2-1 2-2 2-3 2 2 2 3 2 1 2-1 2 1 2 1 2 0 2 1 2 0 2 0 2-1 3 0 2 0 2-2 2 2 2 0 2 0 2 1 2-3 2 3 2 1 2-1 2 1 2-2 2 2 2 0 2-2 2 2 2 0 2-2 2 2 2 0 2-2 2 1 2 0 2 1 2-1 2 0 2-1 2 2 2-3 2 0 2 2 2-1 2 1 2 0 2 0 2-2 2 1 2 1 2 0 2-2 3-1 2 3 2-3 2 0 2 3 2-2 2 2 2-2 2 1 2-2 2-3 2 2 2-2 2 4 2 0 2-2 2 3 2 1 2-1 2 0 2 2 2-3 2 2 2 1 2 0 2-2 2 1 2 0 2-1 2 0 2 1 2-1 2 0 2 1 2 0 2 0 2-2 2 0 2 1 2 0 3-2 2 2 2 1 2-1 2 1 2-1 2 1 2 0 2-2 2 0 2 1 2-1 2 0 2-1 2 3 2-1 2 1 2-1 2 0 2 1 2-1 2-2 2 2 2-1 2 1 2-2 2-3 2 1 2 1 2 2 2 1 2 1 2-1 2 0 2 1 2 0 2-2 2 1 2 1 2-1 2 0 3 1 2-1 2 2 2-1 2 0 2 1 2-1 2 1 2-1 2 0 2 1 2-2 2 1 2-1 2 0 2 2 2-1 2 0 2 0 2-2 2 2 2 0 2 0 2 0 2-2 2 1 2-1 2-1 2 1 2 2 2-1 2 1 2-3 2 3 2 0 2-2 2 1 2 0 2 0 2-1 3 2 2 0 2 1 2-1 2-2 2-1 2 0 2 0 2-2 2-2 2 1 2 2 2 3 2 1 2 0 2 1 2-4 2 2 2 1 2-2 2 2 2-2 2 1 2 0 2 0 2 1 2 0 2 0 2 0 2-2 2 2 2-1 2-3 2 3 2-2 2 2 2-1 2 2 2-1 2-1 2-3 3-6 2-2 2 2 2 2 2 2 2 3 2 1 2 2 2 2 2-2 2 1 2-2 2 3 2-1 2 1 2-1 2-1 2-1 2 0 2 1 2-3 2 4 2 0 2 0 2-1 2 0 2-1 2 2 2-1 2-1 2 1 2-2 2 2 2 0 2-2 2 3 2 0 2-1 2 0 2 0 3 2 2-1 2 0 2 1 2-1 2 1 2 0 2-1 2 0 2 1 2 0 2-1 2-1 2 1 2-3 2-1 2 3 2 1 2-2 2 1 2 1 2-2 2 2 2-2 2 2 2-1 2 1 2-1 2-1 2 2 2-3 2-1 2 0 2-1 2 0 2 1 2 1 2 3 2 0 2 1 2 0 3-1 2 1 2-2 2 1 2 0 2 0 2 1 2-1 2 0 2 0 2 0 2-1 2 1 2 0 2 0 2-1 2 1 2 0 2 0 2-2 2 2 2-1 2 0 2-1 2-1 2 2 2 1 2-2 2 1 2 1 2 0 2 0 2 0 2-1 2 0 2 0 2 2 2-2 2 2 1 0M80 3181l2-8 1-25 1-26 1 37 1-16 2 5 1-5 1 3 1-34 1 41 2-17 1 25 1-27 1 16 1 9 1 6 2-15 1 2 1 10 1-1 1 5 2-9 1-2 1 15 1-11 1 4 2-3 1-3 1 10 1-10 1 13 2 0 1-1 1 1 1 2 1 0 1-13 2 14 1-4 1-3 1 9 1 0 2 0 1-8 1 10 1-6 1 8 2-5 1 3 1-4 1 1 1 7 2-2 1 0 1-5 1 5 1 1 1-8 2 10 1 0 1 2 1-7 1 4 2 0 1-1 1 3 1 0 1 2 2-7 1 3 1-7 1 8 1 1 2-10 1 11 1 0 1 1 1-1 1-2 2 2 1-5 1 5 1-6 1 2 2 1 1-5 1 5 1 3 1-1 2 1 1-2 1-3 1 3 1 1 2 2 1-4 1-1 1 0 1 5 2-5 1 1 1 0 1 1 1 2 1-1 2-4 1 3 1-1 1 0 1 2 2 0 1-4 1 1 1 1 1 0 2 2 1-9 1 4 1-1 1-3 2 1 1-2 1-3 1 1 1 0 1-3 2 3 1 0 1 4 1 0 1 3 2 0 1-1 1 0 1 4 1 1 2 2 1-1 1-1 1 0 1 2 2-2 1 2 1 1 1-2 1-2 1 1 2 1 1 0 1-1 1 1 1 2 2 0 1-3 1 3 1-1 1 0 2 0 1 0 1-2 1 0 1 1 2-6 1 3 1 5 1-3 1-3 1 3 2-4 1 1 1-3 1-2 1-1 2 0 1 0 1 3 1-3 1 6 2 3 1 0 1 1 1-2 1 1 2 2 1 0 1-1 1-2 1 2 1-2 2 4 1-1 1 1 1-2 1 0 2 0 1 2 1 1 1-2 1-1 2 3 1-1 1 1 1-2 1 2 2-1 1 0 1 1 1-1 1 2 2 0 1-1 1 1 1-1 2 0 2 1 2-3 2 1 2 2 2-1 2 0 2 0 2 0 2-2 2 1 2 1 2 0 2-1 2 0 2 0 3 1 2 0 2 0 2 0 2 0 2 0 2 0 2 0 2-2 2 0 2 0 2-3 2 0 2 1 2 2 2 1 2 1 2-1 2 1 2 0 2 1 2 0 2-1 2 0 2 0 2-2 2 0 2 2 2 1 2 0 2 0 2-2 2 1 2 1 2-1 2-3 2 2 2-1 2-2 2 2 2 1 3 1 2 0 2-2 2 1 2 1 2 0 2 0 2 0 2 0 2-1 2-1 2 3 2 0 2-1 2-1 2 2 2-2 2 1 2-2 2 1 2-5 2-1 2-2 2 3 2 4 2-1 2 3 2 1 2 0 2-2 2 0 2 1 2-1 2 0 2-1 2 2 2-1 2 1 2-1 2 1 3 0 2-1 2 1 2-1 2 0 2 0 2 1 2-2 2 2 2 0 2 0 2 0 2 0 2 0 2-1 2 0 2 0 2 1 2 1 2 0 2-1 2-1 2 1 2-1 2 1 2-1 2 0 2-2 2 1 2-4 2 0 2-3 2 1 2 5 2 2 2 0 2 0 2 1 2 0 2 0 2 0 3-1 2 1 2-1 2 1 2 0 2 0 2 0 2 0 2 1 2-3 2 3 2-2 2 1 2 1 2-3 2 2 2 1 2-3 2 3 2-1 2-1 2 1 2 0 2 1 2-1 2-1 2 2 2-1 2-1 2 1 2-2 2 1 2 1 2-1 2 1 2-1 2 1 2-1 2 1 2-1 3 0 2-1 2 3 2-2 2-2 2 4 2-1 2 1 2-1 2-1 2 1 2-3 2-1 2-3 2 2 2 0 2 2 2-1 2 4 2-3 2 3 2-1 2 0 2-1 2 1 2-1 2 3 2-4 2 3 2 0 2-1 2 1 2 0 2 0 2 0 2 0 2-2 2 1 2-1 2 1 2 0 3 1 2 0 2-1 2 1 2 0 2 0 2 1 2-1 2-1 2 1 2 0 2-1 2-4 2 3 2 3 2 0 2-1 2 0 2 0 2-1 2 0 2-1 2-2 2 3 2 0 2 1 2-1 2-1 2-4 2 0 2 1 2 0 2 2 2 2 2 1 2 0 2 0 2-2 2 3 2-1 3-1 2 2 2 0 2-2 2 0 2-1 2 2 2-1 2 1 2 0 2-1 2 2 2-2 2 0 2 1 2-1 2 2 2-1 2 0 2-1 2 0 2 1 2 0 2 0 2 0 2-1 2 1 2 0 2 0 2-2 2-1 2 1 2 1 2 0 2-2 2 3 2 1 2-1 2 1 2 0 2 0 3-2 2 0 2 1 2 1 2 0 2-1 2-2 2 2 2-5 2-1 2 0 2 0 2 4 2-2 2 4 2-1 2 0 2 0 2 0 2 1 2 0 2-1 2-1 2 2 2-1 2 0 2 0 2 0 2-1 2 1 2 1 2-1 2 1 2 0 2-1 2 0 2-2 2 2 2-1 2 2 3 0 2-4 2-6 2-16 2 6 2-7 2 7 2 12 2 1 2 5 2 2 2-1 2 0 2 0 2 1 2 0 2 1 2-1 2-2 2 1 2 0 2 0 2 0 2 0 2-1 2 1 2 0 2-4 2 4 2 0 2 1 2-1 2 0 2 0 2 0 2 0 2 1 2 1 2-1 2 1 2 0 3-3 2 3 2-4 2 4 2-1 2 0 2 0 2 1 2-1 2 1 2-3 2 2 2 1 2-2 2 0 2 1 2-3 2 2 2 1 2 0 2 0 2 0 2 0 2-3 2 3 2 1 2-4 2 1 2 3 2-1 2 0 2-1 2-1 2-3 2 1 2-3 2 3 2 3 2 1 2 1 3-1 2-1 2 1 2 0 2 0 2-1 2 0 2 1 2-3 2 2 2 1 2-1 2 1 2 0 2 0 2-2 2 1 2-1 2 0 2 2 2-2 2 2 2 0 2 0 2 0 2 1 2-1 2 0 2 1 2-1 2 0 2-1 2 2 2-3 2 0 2 3 2-1 2 0 2-1 2 2 2-1 2 0M70 3187l1-4 1-8 2-16 1 5 1 4 1-25 1 6 2 22 1-11 1-22 1 1 1 21 2 9 1-7 1 5 1-38 1 25 2-8 1 6 1-4 1 29 1-2 1-22 2 10 1 13 1-10 1 12 1-3 2-5 1 3 1 5 1-3 1-14 2 1 1 19 1-2 1 5 1-3 2 4 1-4 1-1 1 4 1-7 2 6 1-6 1 6 1 1 1 0 1-2 2 2 1 6 1-12 1 8 1 1 2 3 1-1 1 1 1 1 1-4 2 5 1 0 1-1 1 0 1-2 2 2 1 0 1-3 1-2 1 4 1 3 2-2 1 0 1 0 1-2 1 1 2 0 1 2 1-4 1 3 1-1 2 1 1-5 1 4 1 0 1 1 2-3 1 1 1-1 1 0 1 2 1-6 2 8 1-7 1 1 1 0 1 2 2-3 1 4 1 2 1-1 1 0 2 0 1-5 1 6 1-5 1 5 2-5 1 4 1-3 1 0 1 2 1 1 2 0 1 1 1 0 1-6 1 2 2-1 1-4 1 2 1 2 1-2 2 1 1-2 1-4 1-5 1 6 2 1 1 3 1-2 1-1 1 6 2 1 1 1 1 1 1 1 1-4 1 1 2 2 1 2 1-3 1 2 1 2 2-6 1 2 1 2 1-2 1 3 2-1 1-2 1 1 1 2 1-3 2 4 1-2 1-5 1 2 1-2 1 5 2 1 1-2 1-1 1-1 1 1 2 2 1 1 1-4 1-3 1 5 2-4 1-2 1-1 1-1 1 1 2 0 1 2 1 2 1 0 1 0 1 1 2 5 1-1 1 1 1-2 1 2 2 1 1-4 1 1 1-1 1 0 2 4 1-1 1 0 1 1 1-3 2 2 1-1 1 1 1-2 1 1 1 2 2-1 1 0 1 1 1 0 1 0 2 0 1-1 1 0 1-1 1 2 2-1 1 0 1 2 1-2 2 1 2-1 2 0 2 1 2 0 2-2 2 0 2 2 2-1 2-1 2 2 2 1 2-1 3 0 2-2 2 2 2 0 2 1 2-2 2 2 2-2 2 0 2-1 2-1 2-2 2-2 2-2 2 0 2 7 2 1 2 1 2 1 2-2 2 1 2-1 2 0 2 1 2-1 2 0 2 1 2-2 2 0 2 2 2-1 2 1 2-3 2 4 2-2 2 0 2 1 2 0 2-1 2 1 2-1 3 2 2-1 2 1 2-2 2 2 2-1 2 0 2-1 2 0 2 1 2 0 2 1 2-1 2 0 2-3 2 3 2 1 2-2 2 0 2-1 2 1 2-1 2-1 2-2 2-1 2-2 2 4 2 2 2 2 2 0 2 0 2 0 2-1 2 1 2-1 2 0 2 1 2 0 2 1 2-2 3 2 2 0 2-1 2 1 2 0 2 0 2 0 2 0 2 0 2 0 2-1 2-1 2 1 2-2 2 2 2-1 2 1 2-1 2 0 2 0 2 1 2 0 2 0 2 0 2 0 2 0 2-2 2 2 2 0 2-2 2 0 2-5 2 1 2 1 2 3 2 0 2 2 2 1 2 0 2-2 2 0 3 0 2 2 2-1 2-1 2-1 2 3 2 0 2-1 2 0 2-1 2 2 2-4 2 3 2 0 2-1 2 2 2-2 2-1 2 0 2 1 2 1 2 0 2-1 2 1 2 0 2 0 2-2 2 1 2-1 2 2 2 1 2-1 2 0 2 1 2 0 2 0 2-2 2 2 2 0 2 0 3-1 2 1 2-1 2-1 2-1 2 1 2 2 2-1 2 1 2-2 2 0 2 0 2 1 2-2 2-4 2 0 2-3 2 6 2 1 2 1 2 0 2-3 2 3 2-1 2 1 2 1 2 0 2-1 2 2 2-1 2 0 2 1 2-2 2 2 2 0 2-1 2 1 2-1 2 0 2 0 3 0 2 0 2-1 2 0 2 0 2 1 2 0 2 1 2-1 2-1 2-1 2 1 2 0 2-3 2 0 2 3 2-1 2 0 2 2 2-3 2 3 2-1 2 1 2-1 2 0 2-2 2 3 2-2 2 1 2 1 2-1 2-2 2 0 2 1 2 0 2 1 2-2 2 4 2 0 2-1 2-2 3 2 2-1 2 1 2 1 2-2 2 2 2-1 2 0 2 1 2-2 2 1 2-2 2 2 2-1 2 1 2-1 2 0 2 1 2 1 2-2 2-1 2 2 2-1 2 2 2-1 2 0 2 0 2 0 2-1 2 2 2-3 2 2 2 0 2 1 2 0 2-1 2 0 2 0 2 0 2 1 3-1 2 1 2-1 2-1 2 1 2 1 2-1 2-2 2 1 2 0 2-2 2-10 2 2 2 3 2 2 2 1 2 2 2 3 2 0 2-1 2 1 2 0 2 0 2-1 2 1 2-1 2 2 2-2 2 2 2-2 2 2 2-1 2 1 2 0 2-2 2 0 2 1 2 1 2-2 2-1 2 2 3 0 2-3 2-1 2 0 2-6 2-9 2 1 2-1 2 6 2 4 2 4 2 4 2-1 2 1 2 1 2 0 2 0 2-1 2 0 2 0 2 1 2-1 2-1 2 0 2 2 2-1 2 0 2 0 2 1 2 1 2-1 2 1 2-1 2 0 2-1 2 0 2 1 2 0 2-1 2-1 3 0 2 2 2-2 2 2 2-1 2 0 2 0 2 0 2 0 2 1 2-2 2 1 2 1 2-1 2 1 2-2 2 2 2 1 2-3 2 2 2 1 2-2 2 1 2 0 2-1 2 1 2-2 2 2 2 1 2-1 2-1 2 0 2 0 2 0 2-1 2 0 2-3 2-5 2 0 2 6 2 1 3 2 2 1 2 0 2 0 2-1 2-1 2 2 2-1 2 1 2-1 2 0 2 1 2-1 2 1 2-1 2 1 2 1 2 0 2-1 2 1 2-1 2-2 2 2 2-3 2 2 2 2 2 0 2-1 2 0 2-1 2 1 2 1 2-1 2 1 2-1 2-1 2-1 2 0 2 1 2 1 3-2 2 1 2 0 1 0M60 3195l1-7 1-24 1-6 2 26 1-31 1 25 1-18 1 1 2 0 1-10 1 10 1 0 1 20 1-44 2 40 1-5 1 2 1 9 1-1 2-17 1 1 1-1 1-26 1 35 2 8 1-8 1 6 1-5 1 9 2 5 1-4 1-6 1 8 1-4 1 2 2 5 1-13 1-2 1 19 1-16 2 8 1 8 1-1 1-7 1 1 2 5 1-7 1 3 1 4 1 0 2-1 1 2 1 0 1 1 1 0 1 4 2 1 1-7 1 7 1 1 1-1 2-3 1-2 1 6 1-3 1-6 2 5 1 3 1-4 1-1 1 0 2 7 1-4 1 0 1-1 1 3 2-2 1 2 1 1 1-3 1-2 1 6 2-1 1-1 1-1 1-1 1 2 2-1 1-3 1-2 1 2 1 3 2 0 1 1 1-3 1 4 1-3 2 2 1 0 1-4 1 4 1 0 1-3 2 3 1-1 1-2 1 3 1 1 2-2 1 0 1-2 1 0 1 0 2 1 1-1 1 3 1-4 1 1 2-4 1-2 1 4 1-1 1-3 1-3 2 2 1-5 1 0 1-1 1 3 2-2 1 2 1 2 1 0 1 1 2 5 1 2 1-2 1 4 1 0 2-2 1 2 1-1 1 2 1 2 1-5 2 4 1 1 1 0 1-2 1 2 2-2 1-2 1 4 1-4 1 2 2 0 1 2 1-2 1-2 1-4 2 5 1 2 1-2 1 1 1 0 2-2 1 2 1 0 1-3 1 0 1-2 2-2 1 0 1-2 1 1 1 0 2-1 1 3 1 4 1-1 1 4 2 0 1 0 1 0 1-1 1 1 2 1 1-2 1 2 1-2 1-4 1 5 2-2 1 1 1 1 1 1 1 0 2 0 1-1 1 2 1 0 1-2 2 1 1 1 1-1 1-1 1 0 2 1 1 2 1-5 1 5 1 0 1-1 2-1 1 2 1 0 1-2 2 0 2 0 2 0 2 2 2 0 2-1 2 0 2 1 2 0 2-2 3-1 2 1 2 2 2 0 2-2 2 1 2 0 2-1 2 0 2 1 2 0 2-1 2 0 2-3 2-1 2-4 2 4 2 4 2 1 2-1 2 2 2-2 2 1 2 1 2-2 2 0 2-1 2 2 2 0 2-1 2 2 2 0 2 0 2 0 2-2 2 0 2 1 2 0 2-1 2 1 3 0 2-1 2 1 2-1 2-1 2 2 2-1 2 1 2-2 2 1 2 0 2 1 2 0 2 0 2 0 2 0 2-3 2 1 2 2 2-1 2 2 2-2 2 0 2 0 2-1 2-4 2-1 2-4 2 5 2 2 2 3 2-3 2 3 2 0 2 1 2 0 2 0 2 0 2 0 2-2 2 2 3 0 2-1 2 0 2 2 2-1 2 0 2 0 2 0 2-1 2 1 2-1 2 2 2-3 2 3 2 0 2 0 2-3 2 0 2 3 2 0 2-2 2 1 2 0 2 1 2 0 2-1 2 0 2-1 2 2 2-3 2 1 2-1 2-2 2-3 2 2 2-2 2 4 2 1 2 1 2 0 3 0 2 1 2-2 2 1 2 0 2 2 2-2 2 1 2-1 2 0 2 1 2 1 2-2 2 2 2-2 2 0 2 2 2-1 2 1 2-1 2-1 2 1 2 0 2 0 2 1 2-2 2 0 2 1 2-1 2 0 2 1 2-1 2 1 2 0 2-1 2 0 2 1 2-1 2-1 2 2 2-1 3 2 2-1 2-1 2 0 2 1 2 1 2-1 2-2 2 1 2 1 2 1 2-2 2 0 2 2 2-3 2-3 2 0 2-3 2 5 2-1 2 0 2 4 2-1 2 1 2-1 2 0 2 0 2 0 2 1 2 0 2 1 2-1 2-1 2 1 2-1 2 0 2 2 2-1 2-2 2 1 3 1 2 0 2-1 2-1 2 1 2 0 2-1 2 2 2 1 2-1 2 1 2 0 2 0 2-3 2 2 2-1 2 0 2 1 2-1 2 1 2-1 2 2 2 0 2-2 2-1 2 2 2-3 2 1 2 0 2 2 2 0 2-2 2 1 2-1 2 0 2-1 2 0 2 1 2 0 2 1 2 0 3 1 2-1 2 0 2-1 2 3 2 0 2 0 2 0 2-1 2 0 2 1 2 0 2 0 2-1 2 0 2 1 2-1 2-1 2 1 2 0 2 1 2-1 2-2 2 1 2-1 2 2 2-1 2 0 2-2 2 1 2 2 2 0 2-1 2 2 2-1 2 0 2 1 2 0 2-2 2 0 3-1 2 2 2-1 2-2 2 4 2 0 2-3 2 1 2 2 2-1 2 1 2-3 2-3 2-3 2 0 2 0 2 4 2 2 2 2 2-1 2 1 2 0 2-1 2 1 2-1 2-1 2 0 2 3 2-1 2 0 2 0 2-3 2 3 2 0 2-1 2 0 2 0 2 2 2-3 2 1 2 1 3 0 2 0 2 0 2-3 2 1 2-6 2-6 2-17 2 9 2-5 2 10 2 11 2 3 2 0 2 1 2 2 2-1 2 0 2 1 2-3 2 2 2 0 2 1 2 0 2-2 2-1 2 1 2 1 2 1 2-1 2 1 2 0 2-1 2 2 2-1 2 1 2-4 2 2 2 1 2 0 3 1 2 0 2-1 2 1 2-1 2 0 2 1 2-1 2-1 2 2 2-1 2 1 2-1 2 0 2 1 2-2 2 1 2 0 2-3 2 2 2 1 2-1 2 1 2 0 2-1 2 0 2 2 2-2 2 1 2 1 2-1 2 0 2 0 2-2 2 2 2-4 2 2 2-2 2-3 2 0 2 0 3 5 2 2 2 1 2-2 2 2 2-1 2 1 2-2 2 1 2 1 2 0 2-2 2 1 2 0 2-1 2 0 2 1 2-2 2 2 2-1 2 0 2 1 2-1 2-1 2 0 2 2 2-1 2 0 2 2 2-1 2-3 2 4 2-1 2 0 2 0 2-1 2 2 2-1 2 1 2-1 3 0 2 1 2-1 2-1 2 2 1-2M50 3201l1-2 1-21 1 8 1-20 1 7 2 4 1-2 1-36 1 30 1-18 2 32 1-47 1 48 1-9 1-16 2 11 1 14 1-17 1 20 1-2 2-4 1 10 1-16 1-12 1 26 1-6 2 4 1 0 1-23 1 10 1 15 2 4 1-4 1 9 1-17 1 12 2 3 1-10 1 15 1-3 1-1 2 8 1-5 1 2 1-7 1 0 1 6 2 2 1-3 1 0 1 3 1 2 2 0 1-5 1 5 1-1 1 1 2 0 1-1 1-3 1-3 1 7 2 3 1-2 1-1 1 1 1 1 1-1 2-6 1 6 1 1 1-9 1 2 2 7 1 1 1-7 1 2 1 4 2-8 1 5 1 3 1-3 1-7 2 9 1-2 1-1 1 5 1-2 1-4 2 6 1-2 1 0 1-1 1 1 2-1 1 2 1-2 1 2 1 0 2-9 1 9 1 0 1-5 1 4 2-2 1 3 1 2 1 0 1-6 2 5 1 0 1 0 1-2 1-2 1 1 2-1 1 3 1-5 1 3 1 0 2-1 1 1 1-3 1-2 1 1 2-4 1-5 1 3 1-3 1-2 2 7 1-3 1 2 1 3 1 0 1 3 2-4 1 7 1-3 1 5 1-1 2 1 1-1 1 0 1-1 1 3 2 0 1-2 1-1 1 2 1-3 2 5 1-2 1-5 1 5 1 2 1-6 2 4 1-1 1-1 1 3 1-4 2 5 1-2 1-2 1 3 1-1 2 1 1-4 1 3 1-1 1-2 2-6 1 5 1 0 1 3 1-5 1 4 2 0 1 2 1 0 1-3 1 3 2 2 1-3 1 0 1 3 1-3 2-2 1 5 1-4 1 4 1 0 2 0 1-1 1 0 1 0 1-1 2 1 1 0 1-3 1 3 1 1 1 0 2 0 1 1 1-1 1-2 1 0 2 2 1 1 1 1 1-1 1-2 2 2 1 0 1 1 1 0 1 0 2-3 2 3 2 0 2-3 2 2 2-1 3 1 2 1 2-1 2 1 2 0 2-1 2 1 2-1 2 1 2 0 2 0 2-1 2-2 2 3 2-2 2-2 2-1 2 0 2-1 2 3 2 0 2 1 2 2 2-2 2 1 2 0 2 1 2-1 2 0 2 0 2-1 2 2 2-1 2 0 2 0 2 1 2-1 2-1 2 1 2 1 2-2 3 2 2-2 2 2 2 0 2-2 2-1 2 3 2 0 2 0 2-1 2 0 2 0 2 0 2 0 2 0 2 0 2 0 2 1 2-1 2-3 2 3 2-2 2 1 2-1 2 1 2-1 2 2 2-2 2 0 2-1 2 1 2 1 2 0 2 2 2-1 2 0 2 1 2 0 2-1 2 0 3 0 2-1 2 0 2 1 2 1 2-1 2 0 2 1 2-1 2-1 2-1 2 3 2-2 2-2 2 3 2-2 2-2 2 4 2 1 2-2 2 1 2-1 2-1 2-1 2 1 2 3 2-1 2 1 2-1 2 1 2-1 2 1 2-2 2-2 2-3 2-2 2 2 2 1 2 3 2 1 2 0 3 2 2 0 2-2 2 2 2-1 2 0 2 0 2-2 2 3 2-1 2 1 2-2 2 1 2-2 2 2 2 0 2-2 2 2 2-1 2 1 2 0 2 0 2 0 2 0 2-2 2 2 2 1 2-1 2-1 2 2 2 0 2-1 2 1 2-1 2 0 2 1 2 0 2 0 2-1 2 1 3 0 2-1 2 1 2-4 2 4 2-1 2 0 2 1 2-2 2 2 2-2 2 1 2-1 2 0 2 1 2 0 2 0 2-3 2-3 2-4 2 3 2 2 2 1 2 2 2 2 2 0 2 1 2 0 2-3 2 1 2 3 2-1 2-2 2-2 2 3 2 1 2 0 2 0 2-1 2 0 2 1 3-1 2 0 2 1 2-1 2-1 2-2 2 3 2-1 2 1 2 0 2 0 2-1 2 2 2-2 2 0 2 1 2 0 2-1 2-1 2 2 2 1 2 0 2-1 2 0 2 1 2-2 2 1 2 0 2 0 2-2 2 0 2 3 2 0 2-2 2-1 2 2 2-1 2 0 2-1 2 1 3 1 2-1 2 1 2 0 2-1 2 0 2 1 2-1 2 2 2-2 2 0 2 1 2 1 2-1 2 0 2 0 2 1 2 0 2 0 2 0 2-2 2 1 2 1 2 0 2-2 2 2 2 0 2 0 2 0 2 0 2 0 2-2 2 0 2 0 2 0 2-1 2 1 2 1 2 0 2 1 2 0 3-1 2 1 2-2 2 0 2 1 2 0 2 0 2-2 2-1 2 1 2 2 2 0 2-2 2-1 2-2 2-2 2-2 2 4 2 2 2 2 2 1 2 1 2-1 2 1 2-2 2 2 2-1 2 0 2 0 2 1 2 0 2-1 2 1 2-1 2 0 2 1 2-1 2-1 2 0 2 0 3 0 2 1 2-1 2 0 2 1 2 0 2-2 2-1 2-9 2-1 2-10 2-10 2 8 2 4 2 15 2 3 2 2 2 1 2 0 2 1 2-2 2 2 2-1 2 0 2-1 2 1 2-1 2 1 2-1 2-2 2 3 2 0 2-3 2 3 2 0 2 0 2-1 2 0 2-1 2 1 2 0 3 0 2 1 2-1 2 0 2 2 2 0 2-2 2 1 2-1 2 0 2 2 2-2 2 1 2 0 2 1 2 0 2-1 2 1 2-1 2 1 2 0 2-1 2 1 2-1 2-1 2 1 2 0 2 1 2-4 2 4 2-4 2 4 2-1 2-1 2 1 2 1 2-1 2-2 2-2 2-2 3-2 2-6 2 10 2 2 2 1 2 1 2 0 2 0 2-1 2-1 2 2 2 0 2 0 2 0 2 1 2 0 2-1 2 0 2 1 2-1 2 1 2 0 2-1 2 1 2-1 2 1 2-1 2 0 2 1 2-1 2 0 2-1 2 1 2 0 2-2 2 2 2 0 2-1 2 0 2 0 2 1 3-2 2 2 2 1 2-3 2 2 2-1 2 2 0-1" stroke="#1a7f1a" stroke-width="2.7" fill="none" stroke-linejoin="round"/>
<line x1="770.5" y1="2094" x2="770.5" y2="2645" stroke="#444" stroke-width="2.5"/>
<line x1="49.5" y1="2661" x2="770.5" y2="2094" stroke="#555" stroke-width="3"/>
<line x1="49.5" y1="2661" x2="49.5" y2="3212" stroke="#555" stroke-width="2.5"/>
<line x1="769.5" y1="2094" x2="1963" y2="2094" stroke="#111" stroke-width="3.5"/>
<line x1="1961.5" y1="2094" x2="1961.5" y2="2646" stroke="#222" stroke-width="3.5"/>
<path d="M1961.5 2645H1972.5M1961.5 2617.4H1968.5M1961.5 2589.9H1972.5M1961.5 2562.3H1968.5M1961.5 2534.8H1972.5M1961.5 2507.2H1968.5M1961.5 2479.7H1972.5M1961.5 2452.2H1968.5M1961.5 2424.6H1972.5M1961.5 2397.1H1968.5M1961.5 2369.5H1972.5M1961.5 2341.9H1968.5M1961.5 2314.4H1972.5M1961.5 2286.8H1968.5M1961.5 2259.3H1972.5M1961.5 2231.8H1968.5M1961.5 2204.2H1972.5M1961.5 2176.7H1968.5M1961.5 2149.1H1972.5M1961.5 2121.6H1968.5M1961.5 2094H1972.5" stroke="#222" stroke-width="2.5"/>
<line x1="768.5" y1="2645" x2="1961.5" y2="2645" stroke="#d42020" stroke-width="2.6"/>
<line x1="49.5" y1="3213" x2="1240.5" y2="3213" stroke="#555" stroke-width="2.5"/>
<path d="M49.5 3212V3221M168.6 3212V3221M287.7 3212V3221M406.8 3212V3221M525.9 3212V3221M645 3212V3221M764.1 3212V3221M883.2 3212V3221M1002.3 3212V3221M1121.4 3212V3221M1240.5 3212V3221" stroke="#444" stroke-width="2.5"/>
<line x1="1240.5" y1="3214" x2="1961.5" y2="2647" stroke="#f2c4c4" stroke-width="9"/>
<line x1="1240.5" y1="3210" x2="1961.5" y2="2643" stroke="#d06060" stroke-width="2"/>
<line x1="1240.5" y1="3217" x2="1961.5" y2="2650" stroke="#c85050" stroke-width="2"/>
<path d="M1240.5 3216V3224M1292 3175.5V3183.5M1343.5 3135V3143M1395 3094.5V3102.5M1446.5 3054V3062M1498 3013.5V3021.5M1549.5 2973V2981M1601 2932.5V2940.5M1652.5 2892V2900M1704 2851.5V2859.5M1755.5 2811V2819M1807 2770.5V2778.5M1858.5 2730V2738M1910 2689.5V2697.5M1961.5 2649V2657" stroke="#555" stroke-width="2.5"/>
<text x="58.5" y="3255" font-size="41" font-family="'Liberation Serif', 'Times New Roman', serif" text-anchor="middle" fill="#000" font-weight="normal">0</text>
<text x="175.5" y="3255" font-size="41" font-family="'Liberation Serif', 'Times New Roman', serif" text-anchor="middle" fill="#000" font-weight="normal">1k</text>
<text x="289.6" y="3255" font-size="41" font-family="'Liberation Serif', 'Times New Roman', serif" text-anchor="middle" fill="#000" font-weight="normal">2k</text>
<text x="406.6" y="3255" font-size="41" font-family="'Liberation Serif', 'Times New Roman', serif" text-anchor="middle" fill="#000" font-weight="normal">3k</text>
<text x="523" y="3255" font-size="41" font-family="'Liberation Serif', 'Times New Roman', serif" text-anchor="middle" fill="#000" font-weight="normal">4k</text>
<text x="638.5" y="3255" font-size="41" font-family="'Liberation Serif', 'Times New Roman', serif" text-anchor="middle" fill="#000" font-weight="normal">5k</text>
<text x="755" y="3255" font-size="41" font-family="'Liberation Serif', 'Times New Roman', serif" text-anchor="middle" fill="#000" font-weight="normal">6k</text>
<text x="872" y="3255" font-size="41" font-family="'Liberation Serif', 'Times New Roman', serif" text-anchor="middle" fill="#000" font-weight="normal">7k</text>
<text x="987" y="3255" font-size="41" font-family="'Liberation Serif', 'Times New Roman', serif" text-anchor="middle" fill="#000" font-weight="normal">8k</text>
<text x="1102" y="3255" font-size="41" font-family="'Liberation Serif', 'Times New Roman', serif" text-anchor="middle" fill="#000" font-weight="normal">9k</text>
<text x="1230" y="3255" font-size="41" font-family="'Liberation Serif', 'Times New Roman', serif" text-anchor="middle" fill="#000" font-weight="normal">10k</text>
<text x="649.5" y="3310" font-size="42" font-family="'Liberation Serif', 'Times New Roman', serif" text-anchor="middle" fill="#000" font-weight="normal">[Hz]</text>
<text x="1288" y="3216" font-size="41" font-family="'Liberation Serif', 'Times New Roman', serif" text-anchor="start" fill="#000" font-weight="normal">5</text>
<text x="1338" y="3176" font-size="41" font-family="'Liberation Serif', 'Times New Roman', serif" text-anchor="start" fill="#000" font-weight="normal">10</text>
<text x="1394" y="3136" font-size="41" font-family="'Liberation Serif', 'Times New Roman', serif" text-anchor="start" fill="#000" font-weight="normal">15</text>
<text x="1440" y="3095.6" font-size="41" font-family="'Liberation Serif', 'Times New Roman', serif" text-anchor="start" fill="#000" font-weight="normal">20</text>
<text x="1491" y="3057" font-size="41" font-family="'Liberation Serif', 'Times New Roman', serif" text-anchor="start" fill="#000" font-weight="normal">25</text>
<text x="1546.6" y="3015" font-size="41" font-family="'Liberation Serif', 'Times New Roman', serif" text-anchor="start" fill="#000" font-weight="normal">30</text>
<text x="1597" y="2976" font-size="41" font-family="'Liberation Serif', 'Times New Roman', serif" text-anchor="start" fill="#000" font-weight="normal">35</text>
<text x="1648.6" y="2936" font-size="41" font-family="'Liberation Serif', 'Times New Roman', serif" text-anchor="start" fill="#000" font-weight="normal">40</text>
<text x="1699" y="2893" font-size="41" font-family="'Liberation Serif', 'Times New Roman', serif" text-anchor="start" fill="#000" font-weight="normal">45</text>
<text x="1752" y="2855" font-size="41" font-family="'Liberation Serif', 'Times New Roman', serif" text-anchor="start" fill="#000" font-weight="normal">50</text>
<text x="1801" y="2812.5" font-size="41" font-family="'Liberation Serif', 'Times New Roman', serif" text-anchor="start" fill="#000" font-weight="normal">55</text>
<text x="1850" y="2771" font-size="41" font-family="'Liberation Serif', 'Times New Roman', serif" text-anchor="start" fill="#000" font-weight="normal">60</text>
<text x="1904" y="2731" font-size="41" font-family="'Liberation Serif', 'Times New Roman', serif" text-anchor="start" fill="#000" font-weight="normal">65</text>
<text x="1947" y="2691" font-size="41" font-family="'Liberation Serif', 'Times New Roman', serif" text-anchor="start" fill="#000" font-weight="normal">70</text>
<text x="1752" y="2953" font-size="42" font-family="'Liberation Serif', 'Times New Roman', serif" text-anchor="start" fill="#000" font-weight="normal">[S]</text>
<text x="1977" y="2113" font-size="39" font-family="'Liberation Serif', 'Noto Serif CJK SC', serif" text-anchor="start" fill="#000" font-weight="normal">40m</text>
<text x="1977" y="2166" font-size="39" font-family="'Liberation Serif', 'Noto Serif CJK SC', serif" text-anchor="start" fill="#000" font-weight="normal">36m</text>
<text x="1977" y="2218" font-size="39" font-family="'Liberation Serif', 'Noto Serif CJK SC', serif" text-anchor="start" fill="#000" font-weight="normal">32m</text>
<text x="1977" y="2272" font-size="39" font-family="'Liberation Serif', 'Noto Serif CJK SC', serif" text-anchor="start" fill="#000" font-weight="normal">28m</text>
<text x="1977" y="2334" font-size="39" font-family="'Liberation Serif', 'Noto Serif CJK SC', serif" text-anchor="start" fill="#000" font-weight="normal">24m</text>
<text x="1977" y="2381" font-size="39" font-family="'Liberation Serif', 'Noto Serif CJK SC', serif" text-anchor="start" fill="#000" font-weight="normal">20m</text>
<text x="1977" y="2435" font-size="39" font-family="'Liberation Serif', 'Noto Serif CJK SC', serif" text-anchor="start" fill="#000" font-weight="normal">16m</text>
<text x="1977" y="2492" font-size="39" font-family="'Liberation Serif', 'Noto Serif CJK SC', serif" text-anchor="start" fill="#000" font-weight="normal">12m</text>
<text x="1987" y="2549" font-size="39" font-family="'Liberation Serif', 'Noto Serif CJK SC', serif" text-anchor="start" fill="#000" font-weight="normal">8m</text>
<text x="1987" y="2601" font-size="39" font-family="'Liberation Serif', 'Noto Serif CJK SC', serif" text-anchor="start" fill="#000" font-weight="normal">4m</text>
<text x="1990" y="2649" font-size="39" font-family="'Liberation Serif', 'Noto Serif CJK SC', serif" text-anchor="start" fill="#000" font-weight="normal">0</text>
<text x="1898" y="2052" font-size="41" font-family="'Liberation Serif', 'Times New Roman', serif" text-anchor="start" fill="#000" font-weight="normal">[m/s<tspan font-size="25" dy="-19">2</tspan><tspan dy="19">]</tspan></text>
<text x="1832" y="3257" font-size="17" font-family="'Liberation Mono', 'Noto Sans CJK SC', monospace" text-anchor="start" fill="#000" font-weight="bold" textLength="208" lengthAdjust="spacingAndGlyphs">[] (Nominal Values)</text>
<text x="1145.5" y="3400" font-size="56" font-family="'Liberation Serif', 'Times New Roman', serif" text-anchor="middle" fill="#000" font-weight="normal">(<tspan font-weight="bold">b</tspan>)</text>
<path d="M853 2095V2501H1368V2095" stroke="#2a2a2a" stroke-width="2.4" fill="none"/>
<path d="M853 2501H862M1368 2501H1359M853 2455.4H858M1368 2455.4H1363M853 2409.8H862M1368 2409.8H1359M853 2364.2H858M1368 2364.2H1363M853 2318.6H862M1368 2318.6H1359M853 2273H858M1368 2273H1363M853 2227.4H862M1368 2227.4H1359M853 2181.8H858M1368 2181.8H1363M853 2136.2H862M1368 2136.2H1359M853 2090.6H858M1368 2090.6H1363M894.5 2501V2495M980.7 2501V2495M1066.9 2501V2495M1153.1 2501V2495M1239.3 2501V2495M1325.5 2501V2495" stroke="#2a2a2a" stroke-width="1.6"/>
<rect x="860" y="2127.1" width="69" height="373.9" fill="#f9c593" stroke="#7a6a5a" stroke-width="1.4"/>
<rect x="946.2" y="2313.1" width="69" height="187.9" fill="#f9c593" stroke="#7a6a5a" stroke-width="1.4"/>
<rect x="1032.4" y="2256.6" width="69" height="244.4" fill="#f9c593" stroke="#7a6a5a" stroke-width="1.4"/>
<rect x="1118.6" y="2393.4" width="69" height="107.6" fill="#f9c593" stroke="#7a6a5a" stroke-width="1.4"/>
<rect x="1204.8" y="2468.2" width="69" height="32.8" fill="#f9c593" stroke="#7a6a5a" stroke-width="1.4"/>
<rect x="1291" y="2283.9" width="69" height="217.1" fill="#f9c593" stroke="#7a6a5a" stroke-width="1.4"/>
<text x="843" y="2509" font-size="23" font-family="'Liberation Serif', 'Times New Roman', serif" text-anchor="end" fill="#222" font-weight="normal">0.0</text>
<text x="843" y="2417.8" font-size="23" font-family="'Liberation Serif', 'Times New Roman', serif" text-anchor="end" fill="#222" font-weight="normal">0.5</text>
<text x="843" y="2326.6" font-size="23" font-family="'Liberation Serif', 'Times New Roman', serif" text-anchor="end" fill="#222" font-weight="normal">1.0</text>
<text x="843" y="2235.4" font-size="23" font-family="'Liberation Serif', 'Times New Roman', serif" text-anchor="end" fill="#222" font-weight="normal">1.5</text>
<text x="843" y="2144.2" font-size="23" font-family="'Liberation Serif', 'Times New Roman', serif" text-anchor="end" fill="#222" font-weight="normal">2.0</text>
<text x="894.5" y="2524" font-size="24.5" font-family="'Liberation Serif', 'Times New Roman', serif" text-anchor="middle" fill="#222" font-weight="normal">T-Y</text>
<text x="980.7" y="2524" font-size="24.5" font-family="'Liberation Serif', 'Times New Roman', serif" text-anchor="middle" fill="#222" font-weight="normal">M-Y</text>
<text x="1066.9" y="2524" font-size="24.5" font-family="'Liberation Serif', 'Times New Roman', serif" text-anchor="middle" fill="#222" font-weight="normal">B-Y</text>
<text x="1153.1" y="2524" font-size="24.5" font-family="'Liberation Serif', 'Times New Roman', serif" text-anchor="middle" fill="#222" font-weight="normal">R1-Y</text>
<text x="1239.3" y="2524" font-size="24.5" font-family="'Liberation Serif', 'Times New Roman', serif" text-anchor="middle" fill="#222" font-weight="normal">R2-Y</text>
<text x="1325.5" y="2524" font-size="24.5" font-family="'Liberation Serif', 'Times New Roman', serif" text-anchor="middle" fill="#222" font-weight="normal">H-Y</text>
<text x="1110" y="2561" font-size="27" font-family="'Liberation Serif', 'Times New Roman', serif" text-anchor="middle" fill="#222" font-weight="normal" textLength="254" lengthAdjust="spacingAndGlyphs">Measuring point (6k Hz)</text>
<text transform="translate(806 2296) rotate(-90)" font-size="25" font-family="'Liberation Serif', 'Times New Roman', serif" text-anchor="middle" fill="#222" textLength="250" lengthAdjust="spacingAndGlyphs">Vibration amplitude (m m/s<tspan font-size="15" dy="-10">2</tspan><tspan dy="10">)</tspan></text>
<path d="M1448 2094V2498H1963V2094" stroke="#2a2a2a" stroke-width="2.4" fill="none"/>
<path d="M1448 2498H1457M1963 2498H1954M1448 2469H1453M1963 2469H1958M1448 2440H1457M1963 2440H1954M1448 2411H1453M1963 2411H1958M1448 2382H1457M1963 2382H1954M1448 2353H1453M1963 2353H1958M1448 2324H1457M1963 2324H1954M1448 2295H1453M1963 2295H1958M1448 2266H1457M1963 2266H1954M1448 2237H1453M1963 2237H1958M1448 2208H1457M1963 2208H1954M1448 2179H1453M1963 2179H1958M1448 2150H1457M1963 2150H1954M1448 2121H1453M1963 2121H1958M1448 2092H1457M1963 2092H1954M1490.8 2498V2492M1576.5 2498V2492M1662.2 2498V2492M1747.9 2498V2492M1833.6 2498V2492M1919.3 2498V2492" stroke="#2a2a2a" stroke-width="1.6"/>
<rect x="1456.3" y="2128" width="69" height="370" fill="#f9c593" stroke="#7a6a5a" stroke-width="1.4"/>
<rect x="1542" y="2484.1" width="69" height="13.9" fill="#f9c593" stroke="#7a6a5a" stroke-width="1.4"/>
<rect x="1627.7" y="2364.6" width="69" height="133.4" fill="#f9c593" stroke="#7a6a5a" stroke-width="1.4"/>
<rect x="1713.4" y="2382" width="69" height="116" fill="#f9c593" stroke="#7a6a5a" stroke-width="1.4"/>
<rect x="1799.1" y="2357.6" width="69" height="140.4" fill="#f9c593" stroke="#7a6a5a" stroke-width="1.4"/>
<rect x="1884.8" y="2308.9" width="69" height="189.1" fill="#f9c593" stroke="#7a6a5a" stroke-width="1.4"/>
<text x="1438" y="2506" font-size="23" font-family="'Liberation Serif', 'Times New Roman', serif" text-anchor="end" fill="#222" font-weight="normal">0.0</text>
<text x="1438" y="2448" font-size="23" font-family="'Liberation Serif', 'Times New Roman', serif" text-anchor="end" fill="#222" font-weight="normal">0.5</text>
<text x="1438" y="2390" font-size="23" font-family="'Liberation Serif', 'Times New Roman', serif" text-anchor="end" fill="#222" font-weight="normal">1.0</text>
<text x="1438" y="2332" font-size="23" font-family="'Liberation Serif', 'Times New Roman', serif" text-anchor="end" fill="#222" font-weight="normal">1.5</text>
<text x="1438" y="2274" font-size="23" font-family="'Liberation Serif', 'Times New Roman', serif" text-anchor="end" fill="#222" font-weight="normal">2.0</text>
<text x="1438" y="2216" font-size="23" font-family="'Liberation Serif', 'Times New Roman', serif" text-anchor="end" fill="#222" font-weight="normal">2.5</text>
<text x="1438" y="2158" font-size="23" font-family="'Liberation Serif', 'Times New Roman', serif" text-anchor="end" fill="#222" font-weight="normal">3.0</text>
<text x="1438" y="2100" font-size="23" font-family="'Liberation Serif', 'Times New Roman', serif" text-anchor="end" fill="#222" font-weight="normal">3.5</text>
<text x="1490.8" y="2521" font-size="24.5" font-family="'Liberation Serif', 'Times New Roman', serif" text-anchor="middle" fill="#222" font-weight="normal">T-Y</text>
<text x="1576.5" y="2521" font-size="24.5" font-family="'Liberation Serif', 'Times New Roman', serif" text-anchor="middle" fill="#222" font-weight="normal">M-Y</text>
<text x="1662.2" y="2521" font-size="24.5" font-family="'Liberation Serif', 'Times New Roman', serif" text-anchor="middle" fill="#222" font-weight="normal">B-Y</text>
<text x="1747.9" y="2521" font-size="24.5" font-family="'Liberation Serif', 'Times New Roman', serif" text-anchor="middle" fill="#222" font-weight="normal">R1-Y</text>
<text x="1833.6" y="2521" font-size="24.5" font-family="'Liberation Serif', 'Times New Roman', serif" text-anchor="middle" fill="#222" font-weight="normal">R2-Y</text>
<text x="1919.3" y="2521" font-size="24.5" font-family="'Liberation Serif', 'Times New Roman', serif" text-anchor="middle" fill="#222" font-weight="normal">H-Y</text>
<text x="1705" y="2557" font-size="27" font-family="'Liberation Serif', 'Times New Roman', serif" text-anchor="middle" fill="#222" font-weight="normal" textLength="251" lengthAdjust="spacingAndGlyphs">Measuring point (8k Hz)</text>
<text transform="translate(1400 2298) rotate(-90)" font-size="25" font-family="'Liberation Serif', 'Times New Roman', serif" text-anchor="middle" fill="#222" textLength="290" lengthAdjust="spacingAndGlyphs">Vibration amplitude (m m/s<tspan font-size="15" dy="-10">2</tspan><tspan dy="10">)</tspan></text>
<text x="867" y="2063" font-size="19" font-family="'Liberation Mono', 'Noto Sans CJK SC', monospace" text-anchor="start" fill="#000" font-weight="bold" textLength="275" lengthAdjust="spacingAndGlyphs">Autospectrum(T-Y) - Input</text>
<text x="832" y="2087" font-size="19" font-family="'Liberation Mono', 'Noto Sans CJK SC', monospace" text-anchor="start" fill="#000" font-weight="bold" textLength="343" lengthAdjust="spacingAndGlyphs">Working : Input : 3D-time : FFT</text>
<ellipse cx="1394" cy="2715.5" rx="82" ry="49.5" fill="rgba(160,160,160,0.3)" stroke="#f00" stroke-width="4.5" stroke-linecap="round" stroke-dasharray="34 18 0.1 18"/>
<ellipse cx="1592.5" cy="2746" rx="94.5" ry="85" fill="rgba(160,160,160,0.3)" stroke="#f00" stroke-width="4.5" stroke-linecap="round" stroke-dasharray="34 18 0.1 18"/>
<line x1="1333" y1="2651" x2="1233" y2="2585.2" stroke="#000" stroke-width="2"/>
<path d="M1213 2572L1240.2 2577.9L1229.2 2594.6Z" fill="#000"/>
<line x1="1618" y1="2654" x2="1660.8" y2="2589" stroke="#000" stroke-width="2"/>
<path d="M1674 2569L1668 2596.2L1651.3 2585.2Z" fill="#000"/>
</svg></body></html>
